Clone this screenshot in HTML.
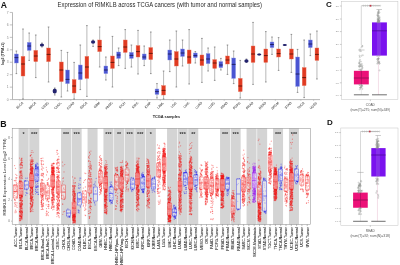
<!DOCTYPE html>
<html><head><meta charset="utf-8"><title>RIMKLB expression</title>
<style>html,body{margin:0;padding:0;background:#fff;width:400px;height:265px;overflow:hidden}svg{display:block;filter:blur(0.3px)}path{fill:none;stroke-width:1.25px;stroke-linecap:round}text{font-family:"Liberation Sans",sans-serif}</style>
</head><body>
<svg width="400" height="265" viewBox="0 0 400 265"><defs><filter id="bl" x="-5%" y="-5%" width="110%" height="110%"><feGaussianBlur stdDeviation="0.35"/></filter></defs><text x="0.8" y="7.5" font-family="'Liberation Sans', sans-serif" font-size="8.6" font-weight="bold" fill="#111">A</text>
<text transform="translate(57.6,6.9) scale(1,1.18)" font-family="'Liberation Sans', sans-serif" font-size="5.86" fill="#2a2a2a" textLength="204.4" lengthAdjust="spacingAndGlyphs">Expression of RIMKLB across TCGA cancers (with tumor and normal samples)</text>
<line x1="12.5" y1="12.450000000000003" x2="12.5" y2="99.6" stroke="#999" stroke-width="0.7"/>
<line x1="12.5" y1="99.6" x2="320" y2="99.6" stroke="#999" stroke-width="0.7"/>
<line x1="9.8" y1="99.60" x2="12.5" y2="99.60" stroke="#999" stroke-width="0.6"/>
<text x="8.6" y="100.80" font-family="'Liberation Sans', sans-serif" font-size="3.3" fill="#888" text-anchor="end">0</text>
<line x1="9.8" y1="87.15" x2="12.5" y2="87.15" stroke="#999" stroke-width="0.6"/>
<text x="8.6" y="88.35" font-family="'Liberation Sans', sans-serif" font-size="3.3" fill="#888" text-anchor="end">1</text>
<line x1="9.8" y1="74.70" x2="12.5" y2="74.70" stroke="#999" stroke-width="0.6"/>
<text x="8.6" y="75.90" font-family="'Liberation Sans', sans-serif" font-size="3.3" fill="#888" text-anchor="end">2</text>
<line x1="9.8" y1="62.25" x2="12.5" y2="62.25" stroke="#999" stroke-width="0.6"/>
<text x="8.6" y="63.45" font-family="'Liberation Sans', sans-serif" font-size="3.3" fill="#888" text-anchor="end">3</text>
<line x1="9.8" y1="49.80" x2="12.5" y2="49.80" stroke="#999" stroke-width="0.6"/>
<text x="8.6" y="51.00" font-family="'Liberation Sans', sans-serif" font-size="3.3" fill="#888" text-anchor="end">4</text>
<line x1="9.8" y1="37.35" x2="12.5" y2="37.35" stroke="#999" stroke-width="0.6"/>
<text x="8.6" y="38.55" font-family="'Liberation Sans', sans-serif" font-size="3.3" fill="#888" text-anchor="end">5</text>
<line x1="9.8" y1="24.90" x2="12.5" y2="24.90" stroke="#999" stroke-width="0.6"/>
<text x="8.6" y="26.10" font-family="'Liberation Sans', sans-serif" font-size="3.3" fill="#888" text-anchor="end">6</text>
<line x1="9.8" y1="12.45" x2="12.5" y2="12.45" stroke="#999" stroke-width="0.6"/>
<text x="8.6" y="13.65" font-family="'Liberation Sans', sans-serif" font-size="3.3" fill="#888" text-anchor="end">7</text>
<text transform="translate(4.3,53.7) rotate(-90)" font-family="'Liberation Sans', sans-serif" font-size="3.6" font-weight="bold" fill="#333" text-anchor="middle">log2 (TPM+1)</text>
<text transform="translate(166.4,117.8) scale(1,1.12)" font-family="'Liberation Sans', sans-serif" font-size="3.9" font-weight="bold" fill="#222" text-anchor="middle" textLength="27.5" lengthAdjust="spacingAndGlyphs">TCGA samples</text>
<line x1="16.40" y1="51" x2="16.40" y2="73.6" stroke="#8a8a8a" stroke-width="0.6"/>
<line x1="15.60" y1="51" x2="17.20" y2="51" stroke="#555" stroke-width="0.6"/>
<line x1="15.60" y1="73.6" x2="17.20" y2="73.6" stroke="#555" stroke-width="0.6"/>
<rect x="14.50" y="54" width="3.8" height="9.00" fill="#4a55d2" stroke="#8a93e6" stroke-width="0.4"/>
<line x1="14.50" y1="57.6" x2="18.30" y2="57.6" stroke="#1c1c5a" stroke-width="0.9"/>
<line x1="23.00" y1="29" x2="23.00" y2="99" stroke="#8a8a8a" stroke-width="0.6"/>
<line x1="22.20" y1="29" x2="23.80" y2="29" stroke="#555" stroke-width="0.6"/>
<line x1="22.20" y1="99" x2="23.80" y2="99" stroke="#555" stroke-width="0.6"/>
<rect x="21.10" y="56.4" width="3.8" height="19.60" fill="#e03b22" stroke="#ec7058" stroke-width="0.4"/>
<line x1="21.10" y1="64" x2="24.90" y2="64" stroke="#5a1408" stroke-width="0.9"/>
<line x1="19.70" y1="99.6" x2="19.70" y2="100.8" stroke="#999" stroke-width="0.5"/>
<text transform="translate(23.50,103.2) rotate(-45)" font-family="'Liberation Sans', sans-serif" font-size="3.2" fill="#5a5a5a" stroke="#5a5a5a" stroke-width="0.1" text-anchor="end">BLCA</text>
<line x1="29.18" y1="33" x2="29.18" y2="60.4" stroke="#8a8a8a" stroke-width="0.6"/>
<line x1="28.38" y1="33" x2="29.98" y2="33" stroke="#555" stroke-width="0.6"/>
<line x1="28.38" y1="60.4" x2="29.98" y2="60.4" stroke="#555" stroke-width="0.6"/>
<rect x="27.28" y="42.4" width="3.8" height="8.00" fill="#4a55d2" stroke="#8a93e6" stroke-width="0.4"/>
<line x1="27.28" y1="46" x2="31.08" y2="46" stroke="#1c1c5a" stroke-width="0.9"/>
<line x1="35.78" y1="35" x2="35.78" y2="77.6" stroke="#8a8a8a" stroke-width="0.6"/>
<line x1="34.98" y1="35" x2="36.58" y2="35" stroke="#555" stroke-width="0.6"/>
<line x1="34.98" y1="77.6" x2="36.58" y2="77.6" stroke="#555" stroke-width="0.6"/>
<rect x="33.88" y="50.4" width="3.8" height="11.20" fill="#e03b22" stroke="#ec7058" stroke-width="0.4"/>
<line x1="33.88" y1="56" x2="37.68" y2="56" stroke="#5a1408" stroke-width="0.9"/>
<line x1="32.48" y1="99.6" x2="32.48" y2="100.8" stroke="#999" stroke-width="0.5"/>
<text transform="translate(36.28,103.2) rotate(-45)" font-family="'Liberation Sans', sans-serif" font-size="3.2" fill="#5a5a5a" stroke="#5a5a5a" stroke-width="0.1" text-anchor="end">BRCA</text>
<line x1="41.96" y1="43" x2="41.96" y2="47" stroke="#8a8a8a" stroke-width="0.6"/>
<line x1="41.16" y1="43" x2="42.76" y2="43" stroke="#555" stroke-width="0.6"/>
<line x1="41.16" y1="47" x2="42.76" y2="47" stroke="#555" stroke-width="0.6"/>
<ellipse cx="41.96" cy="45" rx="2.1" ry="1.50" fill="#23236e"/>
<line x1="48.56" y1="27" x2="48.56" y2="82" stroke="#8a8a8a" stroke-width="0.6"/>
<line x1="47.76" y1="27" x2="49.36" y2="27" stroke="#555" stroke-width="0.6"/>
<line x1="47.76" y1="82" x2="49.36" y2="82" stroke="#555" stroke-width="0.6"/>
<rect x="46.66" y="48" width="3.8" height="13.60" fill="#e03b22" stroke="#ec7058" stroke-width="0.4"/>
<line x1="46.66" y1="54.4" x2="50.46" y2="54.4" stroke="#5a1408" stroke-width="0.9"/>
<line x1="45.26" y1="99.6" x2="45.26" y2="100.8" stroke="#999" stroke-width="0.5"/>
<text transform="translate(49.06,103.2) rotate(-45)" font-family="'Liberation Sans', sans-serif" font-size="3.2" fill="#5a5a5a" stroke="#5a5a5a" stroke-width="0.1" text-anchor="end">CESC</text>
<line x1="54.74" y1="88" x2="54.74" y2="95" stroke="#8a8a8a" stroke-width="0.6"/>
<line x1="53.94" y1="88" x2="55.54" y2="88" stroke="#555" stroke-width="0.6"/>
<line x1="53.94" y1="95" x2="55.54" y2="95" stroke="#555" stroke-width="0.6"/>
<ellipse cx="54.74" cy="91" rx="2.1" ry="2.50" fill="#23236e"/>
<line x1="61.34" y1="50.4" x2="61.34" y2="97" stroke="#8a8a8a" stroke-width="0.6"/>
<line x1="60.54" y1="50.4" x2="62.14" y2="50.4" stroke="#555" stroke-width="0.6"/>
<line x1="60.54" y1="97" x2="62.14" y2="97" stroke="#555" stroke-width="0.6"/>
<rect x="59.44" y="62" width="3.8" height="19.60" fill="#e03b22" stroke="#ec7058" stroke-width="0.4"/>
<line x1="59.44" y1="70" x2="63.24" y2="70" stroke="#5a1408" stroke-width="0.9"/>
<line x1="58.04" y1="99.6" x2="58.04" y2="100.8" stroke="#999" stroke-width="0.5"/>
<text transform="translate(61.84,103.2) rotate(-45)" font-family="'Liberation Sans', sans-serif" font-size="3.2" fill="#5a5a5a" stroke="#5a5a5a" stroke-width="0.1" text-anchor="end">CHOL</text>
<line x1="67.52" y1="52.4" x2="67.52" y2="91" stroke="#8a8a8a" stroke-width="0.6"/>
<line x1="66.72" y1="52.4" x2="68.32" y2="52.4" stroke="#555" stroke-width="0.6"/>
<line x1="66.72" y1="91" x2="68.32" y2="91" stroke="#555" stroke-width="0.6"/>
<rect x="65.62" y="70" width="3.8" height="13.60" fill="#4a55d2" stroke="#8a93e6" stroke-width="0.4"/>
<line x1="65.62" y1="79.4" x2="69.42" y2="79.4" stroke="#1c1c5a" stroke-width="0.9"/>
<line x1="74.12" y1="62.4" x2="74.12" y2="99" stroke="#8a8a8a" stroke-width="0.6"/>
<line x1="73.32" y1="62.4" x2="74.92" y2="62.4" stroke="#555" stroke-width="0.6"/>
<line x1="73.32" y1="99" x2="74.92" y2="99" stroke="#555" stroke-width="0.6"/>
<rect x="72.22" y="79.6" width="3.8" height="13.40" fill="#e03b22" stroke="#ec7058" stroke-width="0.4"/>
<line x1="72.22" y1="86" x2="76.02" y2="86" stroke="#5a1408" stroke-width="0.9"/>
<line x1="70.82" y1="99.6" x2="70.82" y2="100.8" stroke="#999" stroke-width="0.5"/>
<text transform="translate(74.62,103.2) rotate(-45)" font-family="'Liberation Sans', sans-serif" font-size="3.2" fill="#5a5a5a" stroke="#5a5a5a" stroke-width="0.1" text-anchor="end">COAD</text>
<line x1="80.30" y1="45" x2="80.30" y2="89.6" stroke="#8a8a8a" stroke-width="0.6"/>
<line x1="79.50" y1="45" x2="81.10" y2="45" stroke="#555" stroke-width="0.6"/>
<line x1="79.50" y1="89.6" x2="81.10" y2="89.6" stroke="#555" stroke-width="0.6"/>
<rect x="78.40" y="65" width="3.8" height="14.60" fill="#4a55d2" stroke="#8a93e6" stroke-width="0.4"/>
<line x1="78.40" y1="73" x2="82.20" y2="73" stroke="#1c1c5a" stroke-width="0.9"/>
<line x1="86.90" y1="25.6" x2="86.90" y2="96.4" stroke="#8a8a8a" stroke-width="0.6"/>
<line x1="86.10" y1="25.6" x2="87.70" y2="25.6" stroke="#555" stroke-width="0.6"/>
<line x1="86.10" y1="96.4" x2="87.70" y2="96.4" stroke="#555" stroke-width="0.6"/>
<rect x="85.00" y="56.4" width="3.8" height="22.00" fill="#e03b22" stroke="#ec7058" stroke-width="0.4"/>
<line x1="85.00" y1="67" x2="88.80" y2="67" stroke="#5a1408" stroke-width="0.9"/>
<line x1="83.60" y1="99.6" x2="83.60" y2="100.8" stroke="#999" stroke-width="0.5"/>
<text transform="translate(87.40,103.2) rotate(-45)" font-family="'Liberation Sans', sans-serif" font-size="3.2" fill="#5a5a5a" stroke="#5a5a5a" stroke-width="0.1" text-anchor="end">ESCA</text>
<line x1="93.08" y1="40" x2="93.08" y2="46.4" stroke="#8a8a8a" stroke-width="0.6"/>
<line x1="92.28" y1="40" x2="93.88" y2="40" stroke="#555" stroke-width="0.6"/>
<line x1="92.28" y1="46.4" x2="93.88" y2="46.4" stroke="#555" stroke-width="0.6"/>
<ellipse cx="93.08" cy="42" rx="2.1" ry="1.80" fill="#23236e"/>
<line x1="99.68" y1="27" x2="99.68" y2="67" stroke="#8a8a8a" stroke-width="0.6"/>
<line x1="98.88" y1="27" x2="100.48" y2="27" stroke="#555" stroke-width="0.6"/>
<line x1="98.88" y1="67" x2="100.48" y2="67" stroke="#555" stroke-width="0.6"/>
<rect x="97.78" y="40" width="3.8" height="11.60" fill="#e03b22" stroke="#ec7058" stroke-width="0.4"/>
<line x1="97.78" y1="46.6" x2="101.58" y2="46.6" stroke="#5a1408" stroke-width="0.9"/>
<line x1="96.38" y1="99.6" x2="96.38" y2="100.8" stroke="#999" stroke-width="0.5"/>
<text transform="translate(100.18,103.2) rotate(-45)" font-family="'Liberation Sans', sans-serif" font-size="3.2" fill="#5a5a5a" stroke="#5a5a5a" stroke-width="0.1" text-anchor="end">GBM</text>
<line x1="105.86" y1="57" x2="105.86" y2="80" stroke="#8a8a8a" stroke-width="0.6"/>
<line x1="105.06" y1="57" x2="106.66" y2="57" stroke="#555" stroke-width="0.6"/>
<line x1="105.06" y1="80" x2="106.66" y2="80" stroke="#555" stroke-width="0.6"/>
<rect x="103.96" y="66" width="3.8" height="7.60" fill="#4a55d2" stroke="#8a93e6" stroke-width="0.4"/>
<line x1="103.96" y1="70" x2="107.76" y2="70" stroke="#1c1c5a" stroke-width="0.9"/>
<line x1="112.46" y1="36.4" x2="112.46" y2="87" stroke="#8a8a8a" stroke-width="0.6"/>
<line x1="111.66" y1="36.4" x2="113.26" y2="36.4" stroke="#555" stroke-width="0.6"/>
<line x1="111.66" y1="87" x2="113.26" y2="87" stroke="#555" stroke-width="0.6"/>
<rect x="110.56" y="56" width="3.8" height="12.40" fill="#e03b22" stroke="#ec7058" stroke-width="0.4"/>
<line x1="110.56" y1="62.4" x2="114.36" y2="62.4" stroke="#5a1408" stroke-width="0.9"/>
<line x1="109.16" y1="99.6" x2="109.16" y2="100.8" stroke="#999" stroke-width="0.5"/>
<text transform="translate(112.96,103.2) rotate(-45)" font-family="'Liberation Sans', sans-serif" font-size="3.2" fill="#5a5a5a" stroke="#5a5a5a" stroke-width="0.1" text-anchor="end">HNSC</text>
<line x1="118.64" y1="48" x2="118.64" y2="65.6" stroke="#8a8a8a" stroke-width="0.6"/>
<line x1="117.84" y1="48" x2="119.44" y2="48" stroke="#555" stroke-width="0.6"/>
<line x1="117.84" y1="65.6" x2="119.44" y2="65.6" stroke="#555" stroke-width="0.6"/>
<rect x="116.74" y="52" width="3.8" height="6.40" fill="#4a55d2" stroke="#8a93e6" stroke-width="0.4"/>
<line x1="116.74" y1="55" x2="120.54" y2="55" stroke="#1c1c5a" stroke-width="0.9"/>
<line x1="125.24" y1="29.6" x2="125.24" y2="68.4" stroke="#8a8a8a" stroke-width="0.6"/>
<line x1="124.44" y1="29.6" x2="126.04" y2="29.6" stroke="#555" stroke-width="0.6"/>
<line x1="124.44" y1="68.4" x2="126.04" y2="68.4" stroke="#555" stroke-width="0.6"/>
<rect x="123.34" y="40" width="3.8" height="12.40" fill="#e03b22" stroke="#ec7058" stroke-width="0.4"/>
<line x1="123.34" y1="47" x2="127.14" y2="47" stroke="#5a1408" stroke-width="0.9"/>
<line x1="121.94" y1="99.6" x2="121.94" y2="100.8" stroke="#999" stroke-width="0.5"/>
<text transform="translate(125.74,103.2) rotate(-45)" font-family="'Liberation Sans', sans-serif" font-size="3.2" fill="#5a5a5a" stroke="#5a5a5a" stroke-width="0.1" text-anchor="end">KICH</text>
<line x1="131.42" y1="45" x2="131.42" y2="67" stroke="#8a8a8a" stroke-width="0.6"/>
<line x1="130.62" y1="45" x2="132.22" y2="45" stroke="#555" stroke-width="0.6"/>
<line x1="130.62" y1="67" x2="132.22" y2="67" stroke="#555" stroke-width="0.6"/>
<rect x="129.52" y="52.4" width="3.8" height="6.00" fill="#4a55d2" stroke="#8a93e6" stroke-width="0.4"/>
<line x1="129.52" y1="55.4" x2="133.32" y2="55.4" stroke="#1c1c5a" stroke-width="0.9"/>
<line x1="138.02" y1="30.4" x2="138.02" y2="74" stroke="#8a8a8a" stroke-width="0.6"/>
<line x1="137.22" y1="30.4" x2="138.82" y2="30.4" stroke="#555" stroke-width="0.6"/>
<line x1="137.22" y1="74" x2="138.82" y2="74" stroke="#555" stroke-width="0.6"/>
<rect x="136.12" y="45.6" width="3.8" height="11.40" fill="#e03b22" stroke="#ec7058" stroke-width="0.4"/>
<line x1="136.12" y1="51.6" x2="139.92" y2="51.6" stroke="#5a1408" stroke-width="0.9"/>
<line x1="134.72" y1="99.6" x2="134.72" y2="100.8" stroke="#999" stroke-width="0.5"/>
<text transform="translate(138.52,103.2) rotate(-45)" font-family="'Liberation Sans', sans-serif" font-size="3.2" fill="#5a5a5a" stroke="#5a5a5a" stroke-width="0.1" text-anchor="end">KIRC</text>
<line x1="144.20" y1="46" x2="144.20" y2="65.6" stroke="#8a8a8a" stroke-width="0.6"/>
<line x1="143.40" y1="46" x2="145.00" y2="46" stroke="#555" stroke-width="0.6"/>
<line x1="143.40" y1="65.6" x2="145.00" y2="65.6" stroke="#555" stroke-width="0.6"/>
<rect x="142.30" y="54" width="3.8" height="5.60" fill="#4a55d2" stroke="#8a93e6" stroke-width="0.4"/>
<line x1="142.30" y1="57" x2="146.10" y2="57" stroke="#1c1c5a" stroke-width="0.9"/>
<line x1="150.80" y1="32" x2="150.80" y2="73.6" stroke="#8a8a8a" stroke-width="0.6"/>
<line x1="150.00" y1="32" x2="151.60" y2="32" stroke="#555" stroke-width="0.6"/>
<line x1="150.00" y1="73.6" x2="151.60" y2="73.6" stroke="#555" stroke-width="0.6"/>
<rect x="148.90" y="47.6" width="3.8" height="12.00" fill="#e03b22" stroke="#ec7058" stroke-width="0.4"/>
<line x1="148.90" y1="53.4" x2="152.70" y2="53.4" stroke="#5a1408" stroke-width="0.9"/>
<line x1="147.50" y1="99.6" x2="147.50" y2="100.8" stroke="#999" stroke-width="0.5"/>
<text transform="translate(151.30,103.2) rotate(-45)" font-family="'Liberation Sans', sans-serif" font-size="3.2" fill="#5a5a5a" stroke="#5a5a5a" stroke-width="0.1" text-anchor="end">KIRP</text>
<line x1="156.98" y1="83.6" x2="156.98" y2="98" stroke="#8a8a8a" stroke-width="0.6"/>
<line x1="156.18" y1="83.6" x2="157.78" y2="83.6" stroke="#555" stroke-width="0.6"/>
<line x1="156.18" y1="98" x2="157.78" y2="98" stroke="#555" stroke-width="0.6"/>
<rect x="155.08" y="89" width="3.8" height="5.40" fill="#4a55d2" stroke="#8a93e6" stroke-width="0.4"/>
<line x1="155.08" y1="91.6" x2="158.88" y2="91.6" stroke="#1c1c5a" stroke-width="0.9"/>
<line x1="163.58" y1="71" x2="163.58" y2="99" stroke="#8a8a8a" stroke-width="0.6"/>
<line x1="162.78" y1="71" x2="164.38" y2="71" stroke="#555" stroke-width="0.6"/>
<line x1="162.78" y1="99" x2="164.38" y2="99" stroke="#555" stroke-width="0.6"/>
<rect x="161.68" y="85.6" width="3.8" height="9.40" fill="#e03b22" stroke="#ec7058" stroke-width="0.4"/>
<line x1="161.68" y1="90.4" x2="165.48" y2="90.4" stroke="#5a1408" stroke-width="0.9"/>
<line x1="160.28" y1="99.6" x2="160.28" y2="100.8" stroke="#999" stroke-width="0.5"/>
<text transform="translate(164.08,103.2) rotate(-45)" font-family="'Liberation Sans', sans-serif" font-size="3.2" fill="#5a5a5a" stroke="#5a5a5a" stroke-width="0.1" text-anchor="end">LAML</text>
<line x1="169.76" y1="40" x2="169.76" y2="71.6" stroke="#8a8a8a" stroke-width="0.6"/>
<line x1="168.96" y1="40" x2="170.56" y2="40" stroke="#555" stroke-width="0.6"/>
<line x1="168.96" y1="71.6" x2="170.56" y2="71.6" stroke="#555" stroke-width="0.6"/>
<rect x="167.86" y="50" width="3.8" height="10.00" fill="#4a55d2" stroke="#8a93e6" stroke-width="0.4"/>
<line x1="167.86" y1="54" x2="171.66" y2="54" stroke="#1c1c5a" stroke-width="0.9"/>
<line x1="176.36" y1="31" x2="176.36" y2="87" stroke="#8a8a8a" stroke-width="0.6"/>
<line x1="175.56" y1="31" x2="177.16" y2="31" stroke="#555" stroke-width="0.6"/>
<line x1="175.56" y1="87" x2="177.16" y2="87" stroke="#555" stroke-width="0.6"/>
<rect x="174.46" y="51.6" width="3.8" height="14.40" fill="#e03b22" stroke="#ec7058" stroke-width="0.4"/>
<line x1="174.46" y1="59" x2="178.26" y2="59" stroke="#5a1408" stroke-width="0.9"/>
<line x1="173.06" y1="99.6" x2="173.06" y2="100.8" stroke="#999" stroke-width="0.5"/>
<text transform="translate(176.86,103.2) rotate(-45)" font-family="'Liberation Sans', sans-serif" font-size="3.2" fill="#5a5a5a" stroke="#5a5a5a" stroke-width="0.1" text-anchor="end">LGG</text>
<line x1="182.54" y1="40" x2="182.54" y2="66" stroke="#8a8a8a" stroke-width="0.6"/>
<line x1="181.74" y1="40" x2="183.34" y2="40" stroke="#555" stroke-width="0.6"/>
<line x1="181.74" y1="66" x2="183.34" y2="66" stroke="#555" stroke-width="0.6"/>
<rect x="180.64" y="49" width="3.8" height="7.40" fill="#4a55d2" stroke="#8a93e6" stroke-width="0.4"/>
<line x1="180.64" y1="53" x2="184.44" y2="53" stroke="#1c1c5a" stroke-width="0.9"/>
<line x1="189.14" y1="29.6" x2="189.14" y2="84" stroke="#8a8a8a" stroke-width="0.6"/>
<line x1="188.34" y1="29.6" x2="189.94" y2="29.6" stroke="#555" stroke-width="0.6"/>
<line x1="188.34" y1="84" x2="189.94" y2="84" stroke="#555" stroke-width="0.6"/>
<rect x="187.24" y="50" width="3.8" height="13.60" fill="#e03b22" stroke="#ec7058" stroke-width="0.4"/>
<line x1="187.24" y1="57" x2="191.04" y2="57" stroke="#5a1408" stroke-width="0.9"/>
<line x1="185.84" y1="99.6" x2="185.84" y2="100.8" stroke="#999" stroke-width="0.5"/>
<text transform="translate(189.64,103.2) rotate(-45)" font-family="'Liberation Sans', sans-serif" font-size="3.2" fill="#5a5a5a" stroke="#5a5a5a" stroke-width="0.1" text-anchor="end">LIHC</text>
<line x1="195.32" y1="51.6" x2="195.32" y2="63" stroke="#8a8a8a" stroke-width="0.6"/>
<line x1="194.52" y1="51.6" x2="196.12" y2="51.6" stroke="#555" stroke-width="0.6"/>
<line x1="194.52" y1="63" x2="196.12" y2="63" stroke="#555" stroke-width="0.6"/>
<rect x="193.42" y="53" width="3.8" height="4.60" fill="#4a55d2" stroke="#8a93e6" stroke-width="0.4"/>
<line x1="193.42" y1="55.6" x2="197.22" y2="55.6" stroke="#1c1c5a" stroke-width="0.9"/>
<line x1="201.92" y1="38.4" x2="201.92" y2="82.4" stroke="#8a8a8a" stroke-width="0.6"/>
<line x1="201.12" y1="38.4" x2="202.72" y2="38.4" stroke="#555" stroke-width="0.6"/>
<line x1="201.12" y1="82.4" x2="202.72" y2="82.4" stroke="#555" stroke-width="0.6"/>
<rect x="200.02" y="55" width="3.8" height="10.60" fill="#e03b22" stroke="#ec7058" stroke-width="0.4"/>
<line x1="200.02" y1="60" x2="203.82" y2="60" stroke="#5a1408" stroke-width="0.9"/>
<line x1="198.62" y1="99.6" x2="198.62" y2="100.8" stroke="#999" stroke-width="0.5"/>
<text transform="translate(202.42,103.2) rotate(-45)" font-family="'Liberation Sans', sans-serif" font-size="3.2" fill="#5a5a5a" stroke="#5a5a5a" stroke-width="0.1" text-anchor="end">LUAD</text>
<line x1="208.10" y1="48" x2="208.10" y2="71" stroke="#8a8a8a" stroke-width="0.6"/>
<line x1="207.30" y1="48" x2="208.90" y2="48" stroke="#555" stroke-width="0.6"/>
<line x1="207.30" y1="71" x2="208.90" y2="71" stroke="#555" stroke-width="0.6"/>
<rect x="206.20" y="53.6" width="3.8" height="10.00" fill="#4a55d2" stroke="#8a93e6" stroke-width="0.4"/>
<line x1="206.20" y1="59" x2="210.00" y2="59" stroke="#1c1c5a" stroke-width="0.9"/>
<line x1="214.70" y1="47" x2="214.70" y2="80.4" stroke="#8a8a8a" stroke-width="0.6"/>
<line x1="213.90" y1="47" x2="215.50" y2="47" stroke="#555" stroke-width="0.6"/>
<line x1="213.90" y1="80.4" x2="215.50" y2="80.4" stroke="#555" stroke-width="0.6"/>
<rect x="212.80" y="59.6" width="3.8" height="8.80" fill="#e03b22" stroke="#ec7058" stroke-width="0.4"/>
<line x1="212.80" y1="63" x2="216.60" y2="63" stroke="#5a1408" stroke-width="0.9"/>
<line x1="211.40" y1="99.6" x2="211.40" y2="100.8" stroke="#999" stroke-width="0.5"/>
<text transform="translate(215.20,103.2) rotate(-45)" font-family="'Liberation Sans', sans-serif" font-size="3.2" fill="#5a5a5a" stroke="#5a5a5a" stroke-width="0.1" text-anchor="end">LUSC</text>
<line x1="220.88" y1="58.4" x2="220.88" y2="70" stroke="#8a8a8a" stroke-width="0.6"/>
<line x1="220.08" y1="58.4" x2="221.68" y2="58.4" stroke="#555" stroke-width="0.6"/>
<line x1="220.08" y1="70" x2="221.68" y2="70" stroke="#555" stroke-width="0.6"/>
<rect x="218.98" y="61.6" width="3.8" height="6.00" fill="#4a55d2" stroke="#8a93e6" stroke-width="0.4"/>
<line x1="218.98" y1="65" x2="222.78" y2="65" stroke="#1c1c5a" stroke-width="0.9"/>
<line x1="227.48" y1="45" x2="227.48" y2="74.4" stroke="#8a8a8a" stroke-width="0.6"/>
<line x1="226.68" y1="45" x2="228.28" y2="45" stroke="#555" stroke-width="0.6"/>
<line x1="226.68" y1="74.4" x2="228.28" y2="74.4" stroke="#555" stroke-width="0.6"/>
<rect x="225.58" y="56" width="3.8" height="8.00" fill="#e03b22" stroke="#ec7058" stroke-width="0.4"/>
<line x1="225.58" y1="60" x2="229.38" y2="60" stroke="#5a1408" stroke-width="0.9"/>
<line x1="224.18" y1="99.6" x2="224.18" y2="100.8" stroke="#999" stroke-width="0.5"/>
<text transform="translate(227.98,103.2) rotate(-45)" font-family="'Liberation Sans', sans-serif" font-size="3.2" fill="#5a5a5a" stroke="#5a5a5a" stroke-width="0.1" text-anchor="end">PAAD</text>
<line x1="233.66" y1="51" x2="233.66" y2="83.6" stroke="#8a8a8a" stroke-width="0.6"/>
<line x1="232.86" y1="51" x2="234.46" y2="51" stroke="#555" stroke-width="0.6"/>
<line x1="232.86" y1="83.6" x2="234.46" y2="83.6" stroke="#555" stroke-width="0.6"/>
<rect x="231.76" y="58" width="3.8" height="20.40" fill="#4a55d2" stroke="#8a93e6" stroke-width="0.4"/>
<line x1="231.76" y1="64.4" x2="235.56" y2="64.4" stroke="#1c1c5a" stroke-width="0.9"/>
<line x1="240.26" y1="60.4" x2="240.26" y2="98" stroke="#8a8a8a" stroke-width="0.6"/>
<line x1="239.46" y1="60.4" x2="241.06" y2="60.4" stroke="#555" stroke-width="0.6"/>
<line x1="239.46" y1="98" x2="241.06" y2="98" stroke="#555" stroke-width="0.6"/>
<rect x="238.36" y="78.4" width="3.8" height="13.20" fill="#e03b22" stroke="#ec7058" stroke-width="0.4"/>
<line x1="238.36" y1="86" x2="242.16" y2="86" stroke="#5a1408" stroke-width="0.9"/>
<line x1="236.96" y1="99.6" x2="236.96" y2="100.8" stroke="#999" stroke-width="0.5"/>
<text transform="translate(240.76,103.2) rotate(-45)" font-family="'Liberation Sans', sans-serif" font-size="3.2" fill="#5a5a5a" stroke="#5a5a5a" stroke-width="0.1" text-anchor="end">PCPG</text>
<line x1="246.44" y1="59" x2="246.44" y2="62.5" stroke="#8a8a8a" stroke-width="0.6"/>
<line x1="245.64" y1="59" x2="247.24" y2="59" stroke="#555" stroke-width="0.6"/>
<line x1="245.64" y1="62.5" x2="247.24" y2="62.5" stroke="#555" stroke-width="0.6"/>
<ellipse cx="246.44" cy="61" rx="2.1" ry="1.70" fill="#23236e"/>
<line x1="253.04" y1="22.4" x2="253.04" y2="84.4" stroke="#8a8a8a" stroke-width="0.6"/>
<line x1="252.24" y1="22.4" x2="253.84" y2="22.4" stroke="#555" stroke-width="0.6"/>
<line x1="252.24" y1="84.4" x2="253.84" y2="84.4" stroke="#555" stroke-width="0.6"/>
<rect x="251.14" y="46" width="3.8" height="16.40" fill="#e03b22" stroke="#ec7058" stroke-width="0.4"/>
<line x1="251.14" y1="54" x2="254.94" y2="54" stroke="#5a1408" stroke-width="0.9"/>
<line x1="249.74" y1="99.6" x2="249.74" y2="100.8" stroke="#999" stroke-width="0.5"/>
<text transform="translate(253.54,103.2) rotate(-45)" font-family="'Liberation Sans', sans-serif" font-size="3.2" fill="#5a5a5a" stroke="#5a5a5a" stroke-width="0.1" text-anchor="end">PRAD</text>
<line x1="259.22" y1="54" x2="259.22" y2="55" stroke="#8a8a8a" stroke-width="0.6"/>
<line x1="258.42" y1="54" x2="260.02" y2="54" stroke="#555" stroke-width="0.6"/>
<line x1="258.42" y1="55" x2="260.02" y2="55" stroke="#555" stroke-width="0.6"/>
<ellipse cx="259.22" cy="54.4" rx="2.1" ry="1.00" fill="#23236e"/>
<line x1="265.82" y1="31.6" x2="265.82" y2="82" stroke="#8a8a8a" stroke-width="0.6"/>
<line x1="265.02" y1="31.6" x2="266.62" y2="31.6" stroke="#555" stroke-width="0.6"/>
<line x1="265.02" y1="82" x2="266.62" y2="82" stroke="#555" stroke-width="0.6"/>
<rect x="263.92" y="49" width="3.8" height="13.40" fill="#e03b22" stroke="#ec7058" stroke-width="0.4"/>
<line x1="263.92" y1="55.6" x2="267.72" y2="55.6" stroke="#5a1408" stroke-width="0.9"/>
<line x1="262.52" y1="99.6" x2="262.52" y2="100.8" stroke="#999" stroke-width="0.5"/>
<text transform="translate(266.32,103.2) rotate(-45)" font-family="'Liberation Sans', sans-serif" font-size="3.2" fill="#5a5a5a" stroke="#5a5a5a" stroke-width="0.1" text-anchor="end">READ</text>
<line x1="272.00" y1="37" x2="272.00" y2="54.4" stroke="#8a8a8a" stroke-width="0.6"/>
<line x1="271.20" y1="37" x2="272.80" y2="37" stroke="#555" stroke-width="0.6"/>
<line x1="271.20" y1="54.4" x2="272.80" y2="54.4" stroke="#555" stroke-width="0.6"/>
<rect x="270.10" y="42" width="3.8" height="5.60" fill="#4a55d2" stroke="#8a93e6" stroke-width="0.4"/>
<line x1="270.10" y1="44.5" x2="273.90" y2="44.5" stroke="#1c1c5a" stroke-width="0.9"/>
<line x1="278.60" y1="37.6" x2="278.60" y2="70.4" stroke="#8a8a8a" stroke-width="0.6"/>
<line x1="277.80" y1="37.6" x2="279.40" y2="37.6" stroke="#555" stroke-width="0.6"/>
<line x1="277.80" y1="70.4" x2="279.40" y2="70.4" stroke="#555" stroke-width="0.6"/>
<rect x="276.70" y="49" width="3.8" height="8.00" fill="#e03b22" stroke="#ec7058" stroke-width="0.4"/>
<line x1="276.70" y1="53.6" x2="280.50" y2="53.6" stroke="#5a1408" stroke-width="0.9"/>
<line x1="275.30" y1="99.6" x2="275.30" y2="100.8" stroke="#999" stroke-width="0.5"/>
<text transform="translate(279.10,103.2) rotate(-45)" font-family="'Liberation Sans', sans-serif" font-size="3.2" fill="#5a5a5a" stroke="#5a5a5a" stroke-width="0.1" text-anchor="end">SKCM</text>
<line x1="284.78" y1="44.5" x2="284.78" y2="45.5" stroke="#8a8a8a" stroke-width="0.6"/>
<line x1="283.98" y1="44.5" x2="285.58" y2="44.5" stroke="#555" stroke-width="0.6"/>
<line x1="283.98" y1="45.5" x2="285.58" y2="45.5" stroke="#555" stroke-width="0.6"/>
<ellipse cx="284.78" cy="45" rx="2.1" ry="1.00" fill="#23236e"/>
<line x1="291.38" y1="34.4" x2="291.38" y2="72.4" stroke="#8a8a8a" stroke-width="0.6"/>
<line x1="290.58" y1="34.4" x2="292.18" y2="34.4" stroke="#555" stroke-width="0.6"/>
<line x1="290.58" y1="72.4" x2="292.18" y2="72.4" stroke="#555" stroke-width="0.6"/>
<rect x="289.48" y="49" width="3.8" height="10.00" fill="#e03b22" stroke="#ec7058" stroke-width="0.4"/>
<line x1="289.48" y1="54" x2="293.28" y2="54" stroke="#5a1408" stroke-width="0.9"/>
<line x1="288.08" y1="99.6" x2="288.08" y2="100.8" stroke="#999" stroke-width="0.5"/>
<text transform="translate(291.88,103.2) rotate(-45)" font-family="'Liberation Sans', sans-serif" font-size="3.2" fill="#5a5a5a" stroke="#5a5a5a" stroke-width="0.1" text-anchor="end">STAD</text>
<line x1="297.56" y1="49.4" x2="297.56" y2="92.4" stroke="#8a8a8a" stroke-width="0.6"/>
<line x1="296.76" y1="49.4" x2="298.36" y2="49.4" stroke="#555" stroke-width="0.6"/>
<line x1="296.76" y1="92.4" x2="298.36" y2="92.4" stroke="#555" stroke-width="0.6"/>
<rect x="295.66" y="57" width="3.8" height="29.40" fill="#4a55d2" stroke="#8a93e6" stroke-width="0.4"/>
<line x1="295.66" y1="74" x2="299.46" y2="74" stroke="#1c1c5a" stroke-width="0.9"/>
<line x1="304.16" y1="40" x2="304.16" y2="97.6" stroke="#8a8a8a" stroke-width="0.6"/>
<line x1="303.36" y1="40" x2="304.96" y2="40" stroke="#555" stroke-width="0.6"/>
<line x1="303.36" y1="97.6" x2="304.96" y2="97.6" stroke="#555" stroke-width="0.6"/>
<rect x="302.26" y="67.6" width="3.8" height="18.00" fill="#e03b22" stroke="#ec7058" stroke-width="0.4"/>
<line x1="302.26" y1="77.6" x2="306.06" y2="77.6" stroke="#5a1408" stroke-width="0.9"/>
<line x1="300.86" y1="99.6" x2="300.86" y2="100.8" stroke="#999" stroke-width="0.5"/>
<text transform="translate(304.66,103.2) rotate(-45)" font-family="'Liberation Sans', sans-serif" font-size="3.2" fill="#5a5a5a" stroke="#5a5a5a" stroke-width="0.1" text-anchor="end">THCA</text>
<line x1="310.34" y1="34" x2="310.34" y2="55.6" stroke="#8a8a8a" stroke-width="0.6"/>
<line x1="309.54" y1="34" x2="311.14" y2="34" stroke="#555" stroke-width="0.6"/>
<line x1="309.54" y1="55.6" x2="311.14" y2="55.6" stroke="#555" stroke-width="0.6"/>
<rect x="308.44" y="40" width="3.8" height="7.60" fill="#4a55d2" stroke="#8a93e6" stroke-width="0.4"/>
<line x1="308.44" y1="44" x2="312.24" y2="44" stroke="#1c1c5a" stroke-width="0.9"/>
<line x1="316.94" y1="31" x2="316.94" y2="79" stroke="#8a8a8a" stroke-width="0.6"/>
<line x1="316.14" y1="31" x2="317.74" y2="31" stroke="#555" stroke-width="0.6"/>
<line x1="316.14" y1="79" x2="317.74" y2="79" stroke="#555" stroke-width="0.6"/>
<rect x="315.04" y="48" width="3.8" height="12.40" fill="#e03b22" stroke="#ec7058" stroke-width="0.4"/>
<line x1="315.04" y1="54.4" x2="318.84" y2="54.4" stroke="#5a1408" stroke-width="0.9"/>
<line x1="313.64" y1="99.6" x2="313.64" y2="100.8" stroke="#999" stroke-width="0.5"/>
<text transform="translate(317.44,103.2) rotate(-45)" font-family="'Liberation Sans', sans-serif" font-size="3.2" fill="#5a5a5a" stroke="#5a5a5a" stroke-width="0.1" text-anchor="end">UCEC</text>
<text x="0.3" y="127.2" font-family="'Liberation Sans', sans-serif" font-size="8.8" font-weight="bold" fill="#111">B</text>
<rect x="18.65" y="128.3" width="10.00" height="96.19999999999999" fill="#d4d4d4"/>
<rect x="29.25" y="128.3" width="10.00" height="96.19999999999999" fill="#d4d4d4"/>
<rect x="61.05" y="128.3" width="10.00" height="96.19999999999999" fill="#d4d4d4"/>
<rect x="71.65" y="128.3" width="10.00" height="96.19999999999999" fill="#d4d4d4"/>
<rect x="87.55" y="128.3" width="10.00" height="96.19999999999999" fill="#d4d4d4"/>
<rect x="103.45" y="128.3" width="10.00" height="96.19999999999999" fill="#d4d4d4"/>
<rect x="114.05" y="128.3" width="10.00" height="96.19999999999999" fill="#d4d4d4"/>
<rect x="124.65" y="128.3" width="10.00" height="96.19999999999999" fill="#d4d4d4"/>
<rect x="135.25" y="128.3" width="10.00" height="96.19999999999999" fill="#d4d4d4"/>
<rect x="145.85" y="128.3" width="10.00" height="96.19999999999999" fill="#d4d4d4"/>
<rect x="167.05" y="128.3" width="10.00" height="96.19999999999999" fill="#d4d4d4"/>
<rect x="177.65" y="128.3" width="10.00" height="96.19999999999999" fill="#d4d4d4"/>
<rect x="188.25" y="128.3" width="10.00" height="96.19999999999999" fill="#d4d4d4"/>
<rect x="220.05" y="128.3" width="10.00" height="96.19999999999999" fill="#d4d4d4"/>
<rect x="230.65" y="128.3" width="10.00" height="96.19999999999999" fill="#d4d4d4"/>
<rect x="246.55" y="128.3" width="10.00" height="96.19999999999999" fill="#d4d4d4"/>
<rect x="257.15" y="128.3" width="10.00" height="96.19999999999999" fill="#d4d4d4"/>
<rect x="273.05" y="128.3" width="10.00" height="96.19999999999999" fill="#d4d4d4"/>
<rect x="288.95" y="128.3" width="10.00" height="96.19999999999999" fill="#d4d4d4"/>
<rect x="12.2" y="128.3" width="298.3" height="96.19999999999999" fill="none" stroke="#888" stroke-width="0.5"/>
<line x1="11.0" y1="221.20" x2="12.2" y2="221.20" stroke="#888" stroke-width="0.5"/>
<text x="9.9" y="222.20" font-family="'Liberation Sans', sans-serif" font-size="3" fill="#666" text-anchor="end">0</text>
<line x1="11.0" y1="200.30" x2="12.2" y2="200.30" stroke="#888" stroke-width="0.5"/>
<text x="9.9" y="201.30" font-family="'Liberation Sans', sans-serif" font-size="3" fill="#666" text-anchor="end">2</text>
<line x1="11.0" y1="179.40" x2="12.2" y2="179.40" stroke="#888" stroke-width="0.5"/>
<text x="9.9" y="180.40" font-family="'Liberation Sans', sans-serif" font-size="3" fill="#666" text-anchor="end">4</text>
<line x1="11.0" y1="158.50" x2="12.2" y2="158.50" stroke="#888" stroke-width="0.5"/>
<text x="9.9" y="159.50" font-family="'Liberation Sans', sans-serif" font-size="3" fill="#666" text-anchor="end">6</text>
<line x1="11.0" y1="137.60" x2="12.2" y2="137.60" stroke="#888" stroke-width="0.5"/>
<text x="9.9" y="138.60" font-family="'Liberation Sans', sans-serif" font-size="3" fill="#666" text-anchor="end">8</text>
<text transform="translate(5.9,177) rotate(-90)" font-family="'Liberation Sans', sans-serif" font-size="4.4" fill="#2a2a2a" text-anchor="middle" textLength="77" lengthAdjust="spacingAndGlyphs">RIMKLB Expression Level (log2 TPM)</text>
<text x="23.65" y="135.6" font-family="'Liberation Sans', sans-serif" font-size="5.4" font-weight="bold" fill="#333" text-anchor="middle">*</text>
<text x="34.25" y="135.6" font-family="'Liberation Sans', sans-serif" font-size="5.4" font-weight="bold" fill="#333" text-anchor="middle">***</text>
<text x="66.05" y="135.6" font-family="'Liberation Sans', sans-serif" font-size="5.4" font-weight="bold" fill="#333" text-anchor="middle">***</text>
<text x="76.65" y="135.6" font-family="'Liberation Sans', sans-serif" font-size="5.4" font-weight="bold" fill="#333" text-anchor="middle">***</text>
<text x="108.45" y="135.6" font-family="'Liberation Sans', sans-serif" font-size="5.4" font-weight="bold" fill="#333" text-anchor="middle">***</text>
<text x="119.05" y="135.6" font-family="'Liberation Sans', sans-serif" font-size="5.4" font-weight="bold" fill="#333" text-anchor="middle">**</text>
<text x="129.65" y="135.6" font-family="'Liberation Sans', sans-serif" font-size="5.4" font-weight="bold" fill="#333" text-anchor="middle">***</text>
<text x="140.25" y="135.6" font-family="'Liberation Sans', sans-serif" font-size="5.4" font-weight="bold" fill="#333" text-anchor="middle">***</text>
<text x="150.85" y="135.6" font-family="'Liberation Sans', sans-serif" font-size="5.4" font-weight="bold" fill="#333" text-anchor="middle">*</text>
<text x="182.65" y="135.6" font-family="'Liberation Sans', sans-serif" font-size="5.4" font-weight="bold" fill="#333" text-anchor="middle">***</text>
<text x="193.25" y="135.6" font-family="'Liberation Sans', sans-serif" font-size="5.4" font-weight="bold" fill="#333" text-anchor="middle">**</text>
<text x="225.05" y="135.6" font-family="'Liberation Sans', sans-serif" font-size="5.4" font-weight="bold" fill="#333" text-anchor="middle">***</text>
<text x="235.65" y="135.6" font-family="'Liberation Sans', sans-serif" font-size="5.4" font-weight="bold" fill="#333" text-anchor="middle">***</text>
<text x="278.05" y="135.6" font-family="'Liberation Sans', sans-serif" font-size="5.4" font-weight="bold" fill="#333" text-anchor="middle">***</text>
<text x="293.95" y="135.6" font-family="'Liberation Sans', sans-serif" font-size="5.4" font-weight="bold" fill="#333" text-anchor="middle">***</text>
<g filter="url(#bl)">
<g stroke="rgb(240,0,0)" stroke-opacity="0.4"><path d="M16.1 187.0h0M17.0 193.2h0M14.8 185.8h0M16.4 190.4h0M14.4 193.6h0M15.4 188.2h0M16.0 191.3h0M15.4 204.7h0M16.0 196.4h0M17.0 198.2h0M17.1 195.5h0M17.1 197.2h0M14.8 206.1h0M17.1 195.7h0M15.0 192.6h0M16.6 185.1h0"/><path d="M15.3 192.0h0M14.4 184.8h0M15.9 177.5h0M14.4 191.4h0M16.6 184.9h0M15.8 202.4h0M15.5 185.1h0M14.4 193.2h0M15.3 188.3h0M14.3 180.5h0M16.4 211.9h0M14.9 200.0h0M17.1 207.4h0M14.6 180.6h0M16.9 186.7h0M16.4 191.2h0"/><path d="M14.4 191.6h0M14.6 199.3h0M16.6 188.9h0M16.8 177.7h0M16.2 190.0h0M15.1 212.7h0M17.0 192.4h0M14.7 187.7h0M16.7 186.6h0M16.3 182.7h0M15.3 191.7h0M16.1 187.7h0M17.0 190.2h0M16.1 197.6h0M15.9 191.0h0M15.9 180.2h0"/><path d="M14.5 185.9h0M14.8 195.6h0M15.8 180.9h0M16.0 194.0h0M14.7 191.0h0M16.8 189.7h0M16.2 178.5h0M14.3 185.7h0M14.5 202.8h0M14.7 189.8h0M15.1 185.4h0M16.1 206.2h0M14.6 165.5h0M16.8 175.4h0M15.7 210.1h0M15.0 203.7h0"/><path d="M14.6 195.7h0M15.8 174.3h0M17.1 202.9h0M17.0 183.6h0M16.5 185.8h0M14.9 199.6h0M16.5 196.7h0M15.3 186.3h0M15.0 189.5h0M15.2 211.2h0M17.0 194.0h0M16.9 205.1h0M16.6 196.8h0M15.1 200.3h0M15.5 168.3h0"/></g>
<g stroke="rgb(240,0,0)" stroke-opacity="0.4"><path d="M21.0 192.0h0M20.3 219.5h0M21.5 191.3h0M21.6 172.4h0M21.8 182.5h0M19.8 206.1h0M20.0 183.4h0M20.1 209.3h0M19.9 165.1h0M20.3 187.8h0M19.7 187.2h0M19.7 211.7h0M21.6 212.8h0M21.1 208.1h0M21.3 214.9h0M21.0 202.6h0M20.0 204.5h0M20.4 206.7h0M21.3 182.0h0M21.4 216.1h0M21.7 172.0h0M20.1 197.0h0M22.4 185.6h0M22.1 191.2h0M21.8 211.8h0M21.2 188.8h0M19.6 203.0h0M20.1 208.1h0M20.0 181.7h0M20.0 172.7h0M20.6 200.0h0M21.3 181.5h0M20.3 205.4h0M21.7 184.6h0M20.2 206.6h0M22.1 184.0h0M19.9 185.8h0M20.0 186.8h0M20.7 183.3h0M20.6 181.9h0M19.8 218.7h0M22.2 195.7h0M21.7 170.9h0M21.5 206.1h0M21.0 187.7h0M20.1 216.2h0M21.0 198.7h0M21.1 198.0h0M21.8 204.4h0M21.0 206.2h0M19.9 207.3h0M20.3 176.1h0M21.9 211.7h0M20.2 167.1h0M20.2 220.1h0M22.4 212.3h0M20.6 194.1h0M22.2 193.3h0M20.5 200.3h0M21.6 204.0h0M21.0 199.8h0M20.6 211.3h0M21.7 214.6h0M20.1 165.2h0M19.8 194.5h0M20.0 207.0h0M21.5 217.2h0M21.5 205.6h0M21.0 213.6h0M20.8 187.4h0M20.9 211.5h0M20.3 186.9h0M22.0 196.5h0M20.6 192.1h0M21.7 208.8h0M22.0 195.2h0M21.0 171.2h0M20.4 216.5h0M19.7 215.4h0M21.4 211.0h0M21.9 204.6h0M22.2 210.0h0"/><path d="M22.2 214.8h0M22.0 219.5h0M22.4 193.5h0M20.8 189.2h0M20.8 183.7h0M19.8 216.6h0M20.5 184.6h0M21.9 162.3h0M20.3 191.6h0M20.3 209.8h0M20.2 186.0h0M21.4 218.2h0M19.9 182.4h0M21.7 196.7h0M20.0 197.0h0M22.1 167.6h0M19.9 219.8h0M20.5 186.5h0M19.7 171.5h0M21.1 219.5h0M20.4 206.2h0M19.8 186.4h0M21.4 188.5h0M20.7 160.0h0M21.8 160.9h0M19.6 177.1h0M20.8 212.5h0M20.2 210.5h0M20.7 182.8h0M20.6 185.6h0M20.7 195.8h0M20.5 191.3h0M20.1 181.2h0M19.6 182.8h0M21.7 174.8h0M20.7 203.5h0M21.2 194.6h0M21.3 185.3h0M19.8 211.6h0M20.1 191.5h0M21.0 204.6h0M21.9 173.6h0M21.2 196.1h0M21.3 163.4h0M19.8 190.3h0M22.2 216.4h0M20.3 200.4h0M22.1 204.4h0M19.7 179.0h0M20.2 198.4h0M19.8 197.1h0M21.1 196.1h0M20.4 186.0h0M21.7 186.4h0M20.3 195.4h0M22.0 175.3h0M19.7 182.4h0M19.9 197.9h0M20.4 171.1h0M22.1 200.6h0M22.3 165.7h0M19.8 180.8h0M20.5 204.1h0M22.0 191.1h0M21.7 177.5h0M21.7 205.5h0M20.5 206.8h0M21.8 206.1h0M21.1 216.6h0M20.3 204.2h0M22.3 200.9h0M21.6 161.1h0M20.0 215.4h0M21.8 193.8h0M20.3 172.2h0M22.0 174.6h0M21.6 195.9h0M21.0 205.5h0M21.1 218.0h0M21.5 210.5h0M20.3 209.6h0M21.3 173.7h0"/><path d="M21.0 171.1h0M20.8 183.6h0M20.7 194.4h0M21.4 186.3h0M20.3 216.3h0M22.1 196.7h0M20.4 191.9h0M20.7 180.1h0M22.0 183.1h0M19.6 200.3h0M21.7 208.8h0M20.0 216.1h0M21.2 180.1h0M20.3 183.0h0M20.4 191.7h0M22.3 194.7h0M22.1 208.2h0M21.7 195.0h0M20.4 192.9h0M21.7 196.3h0M20.0 205.3h0M21.2 185.4h0M20.3 200.6h0M22.4 218.1h0M21.4 194.0h0M22.3 188.0h0M22.2 190.7h0M20.4 191.9h0M21.7 218.0h0M20.2 216.9h0M19.7 214.9h0M21.7 182.0h0M21.9 214.2h0M22.4 203.5h0M19.9 212.3h0M21.9 201.2h0M20.9 212.1h0M19.6 200.3h0M20.7 191.0h0M20.8 193.7h0M21.1 185.7h0M20.2 192.2h0M22.0 196.0h0M21.8 158.5h0M21.0 215.2h0M22.2 192.2h0M19.7 203.3h0M22.1 210.1h0M21.4 201.6h0M19.6 195.6h0M21.8 217.7h0M21.8 165.3h0M21.8 193.6h0M21.6 217.0h0M22.3 191.7h0M20.4 172.5h0M21.6 211.5h0M21.9 193.0h0M20.5 204.6h0M20.0 192.7h0M21.6 184.8h0M20.1 195.7h0M21.5 193.0h0M20.3 184.0h0M19.9 177.6h0M21.2 206.2h0M20.8 197.5h0M19.7 181.7h0M21.5 164.6h0M22.3 191.6h0M21.9 178.0h0M20.4 185.2h0M19.6 211.5h0M21.3 193.6h0M21.0 183.8h0M19.8 181.6h0M22.0 203.8h0M22.4 188.6h0M19.6 185.9h0M20.9 190.7h0M20.5 187.5h0M20.7 207.8h0"/><path d="M21.1 206.8h0M19.8 185.1h0M22.0 160.0h0M22.4 196.7h0M21.2 193.9h0M22.2 176.4h0M20.6 199.6h0M22.4 212.9h0M20.4 212.4h0M20.1 175.6h0M22.1 213.6h0M22.0 208.1h0M21.5 211.3h0M21.7 200.3h0M19.7 195.3h0M21.9 188.0h0M22.2 201.0h0M22.2 198.1h0M21.0 198.9h0M20.4 174.2h0M22.2 184.7h0M20.7 214.5h0M20.8 187.2h0M20.0 183.4h0M20.3 183.7h0M20.9 218.0h0M20.5 182.4h0M20.2 197.7h0M20.1 203.9h0M20.8 178.1h0M22.2 182.8h0M22.3 211.5h0M20.5 210.8h0M20.3 220.7h0M21.2 202.6h0M19.8 220.8h0M22.3 192.1h0M20.5 164.1h0M22.3 186.0h0M22.1 205.6h0M21.9 202.7h0M20.1 178.2h0M21.1 189.8h0M20.1 206.9h0M20.6 188.6h0M21.7 186.6h0M22.3 184.1h0M21.4 194.9h0M20.5 212.9h0M20.2 173.1h0M21.4 162.4h0M22.3 189.2h0M22.0 195.2h0M20.8 189.2h0M22.1 203.5h0M19.8 190.1h0M21.3 196.7h0M21.4 216.5h0M21.3 218.0h0M21.8 184.6h0M21.4 197.9h0M21.0 193.7h0M20.8 199.4h0M20.5 163.5h0M19.6 187.0h0M20.2 206.0h0M21.4 213.5h0M21.8 199.2h0M22.4 162.7h0M21.9 200.7h0M19.9 176.3h0M21.4 158.9h0M21.5 194.4h0M22.1 212.4h0M20.0 188.1h0M19.6 211.5h0M21.8 175.9h0M20.5 215.6h0M21.3 194.0h0M20.1 197.6h0M19.7 180.5h0"/><path d="M21.6 159.9h0M22.2 215.4h0M21.0 187.6h0M19.9 220.3h0M19.7 197.3h0M21.1 183.7h0M19.6 185.3h0M21.4 175.5h0M20.9 185.8h0M20.3 195.1h0M20.0 181.8h0M21.2 216.5h0M21.9 158.0h0M20.9 200.8h0M21.6 190.7h0M20.2 198.9h0M19.6 158.0h0M20.4 218.4h0M22.3 186.9h0M19.9 194.0h0M22.2 200.7h0M20.5 168.3h0M19.6 218.6h0M22.3 212.7h0M19.9 213.2h0M22.3 185.2h0M21.9 164.4h0M20.0 180.9h0M21.5 195.9h0M20.6 188.2h0M22.2 191.7h0M20.9 185.0h0M21.8 186.7h0M21.0 183.3h0M20.3 164.4h0M22.2 178.5h0M21.3 189.7h0M21.1 192.3h0M20.6 189.4h0M21.1 162.7h0M22.3 196.8h0M21.1 187.2h0M20.8 203.0h0M20.8 167.9h0M22.4 211.8h0M20.3 193.7h0M20.0 218.3h0M22.4 165.8h0M20.0 182.4h0M20.1 210.3h0M21.4 204.1h0M21.3 184.6h0M21.7 207.1h0M20.3 208.6h0M21.4 181.0h0M19.6 198.8h0M22.1 178.0h0M19.8 183.3h0M20.8 187.4h0M21.0 202.7h0M21.6 192.2h0M20.9 165.1h0M19.9 210.1h0M21.7 194.7h0M21.0 175.3h0M21.8 217.9h0M20.9 187.5h0M21.2 197.7h0M20.7 171.5h0M21.8 167.9h0M22.0 204.2h0M22.2 204.4h0M20.0 183.3h0M20.1 216.8h0M21.1 208.0h0M22.3 212.7h0M20.8 187.7h0M21.3 185.9h0M22.2 215.5h0M22.2 192.1h0M19.9 196.0h0"/></g>
<g stroke="rgb(0,0,240)" stroke-opacity="0.4"><path d="M25.5 186.2h0M26.9 187.2h0M27.3 178.0h0M25.7 195.2h0"/><path d="M24.9 181.1h0M26.7 189.9h0M25.9 181.5h0M26.9 188.8h0"/><path d="M25.1 180.9h0M25.6 180.9h0M25.3 180.5h0M27.7 193.1h0"/><path d="M26.9 189.1h0M24.9 189.1h0M26.7 193.4h0M26.1 192.4h0"/><path d="M25.4 186.9h0M25.8 178.2h0M27.1 184.1h0"/></g>
<g stroke="rgb(240,0,0)" stroke-opacity="0.4"><path d="M31.9 198.0h0M32.8 204.1h0M30.4 198.5h0M33.0 161.4h0M32.4 206.2h0M31.3 181.8h0M32.8 178.6h0M30.9 178.2h0M30.6 209.2h0M30.9 172.9h0M31.0 180.2h0M31.1 184.5h0M30.4 175.0h0M32.7 202.1h0M31.4 180.8h0M30.8 173.7h0M30.5 188.1h0M32.6 193.0h0M30.9 172.9h0M32.0 187.9h0M30.9 166.2h0M30.7 168.4h0M31.6 181.2h0M32.3 186.5h0M30.2 203.0h0M32.4 167.1h0M30.2 185.8h0M30.4 200.1h0M33.0 178.1h0M33.0 163.7h0M31.7 182.4h0M31.1 184.0h0M30.9 196.6h0M30.8 183.3h0M30.5 174.9h0M32.6 179.8h0M30.9 196.2h0M31.1 185.1h0M30.5 208.5h0M30.3 155.7h0M31.2 182.9h0M31.3 183.0h0M32.8 180.7h0M30.5 178.0h0M31.9 197.6h0M31.5 178.2h0M30.2 181.1h0M32.4 191.2h0M32.9 209.6h0M30.2 183.4h0M31.8 179.8h0M32.9 170.1h0M31.8 169.6h0M30.5 181.4h0M32.9 176.2h0M31.8 208.8h0M32.5 181.1h0M31.3 171.3h0M31.5 196.8h0M31.3 181.5h0M31.7 181.4h0M32.0 199.7h0M31.5 185.3h0M31.8 176.3h0M30.7 179.2h0M32.8 168.2h0M30.2 180.0h0M32.1 166.9h0M32.4 182.5h0M32.3 176.3h0M32.0 150.5h0M33.0 194.5h0M32.7 181.5h0M30.6 189.3h0M30.2 175.4h0M32.8 180.5h0M32.0 182.9h0M32.8 196.3h0M30.2 186.6h0M31.7 170.7h0M32.5 189.3h0M30.4 198.3h0M30.7 174.2h0M31.4 161.4h0M31.1 182.7h0M31.4 185.6h0M32.3 188.1h0M30.9 173.9h0M31.2 181.0h0M31.0 184.3h0M31.6 207.0h0M30.3 190.9h0M31.3 174.4h0M32.3 178.5h0M33.0 181.8h0M32.4 181.2h0M32.7 184.9h0M30.5 176.6h0M31.0 180.7h0M31.5 201.1h0M33.0 178.3h0M32.1 186.6h0M33.0 159.9h0M31.3 171.2h0M30.8 167.3h0M32.9 190.7h0M31.5 186.3h0M31.7 164.0h0M32.9 175.8h0M32.9 196.5h0M31.0 174.7h0M30.9 186.5h0M31.7 185.9h0M32.5 197.3h0M32.7 176.4h0M32.4 185.0h0M32.5 181.8h0M30.3 177.6h0M32.5 202.0h0M31.1 211.0h0"/><path d="M30.2 194.1h0M31.8 175.1h0M31.8 192.8h0M32.0 175.4h0M30.3 193.3h0M30.9 186.5h0M32.4 188.2h0M30.6 180.3h0M32.8 175.3h0M30.9 176.0h0M31.2 176.6h0M32.6 174.0h0M30.7 166.4h0M32.8 174.2h0M32.5 171.5h0M30.9 175.3h0M31.0 180.5h0M32.4 173.5h0M31.2 182.2h0M30.9 182.8h0M30.6 180.9h0M31.9 169.8h0M31.0 186.8h0M31.2 178.4h0M32.9 199.4h0M30.7 193.4h0M31.6 181.3h0M31.8 179.2h0M32.7 189.8h0M32.4 168.3h0M30.5 197.3h0M30.9 164.6h0M32.6 186.1h0M31.6 185.4h0M30.7 190.3h0M32.2 191.9h0M30.5 172.9h0M31.2 170.0h0M32.1 174.4h0M30.7 176.1h0M32.4 184.8h0M31.0 206.9h0M30.3 183.9h0M30.9 161.8h0M32.6 184.0h0M30.4 176.2h0M32.9 202.7h0M30.7 195.2h0M30.6 180.5h0M31.4 206.7h0M30.4 176.5h0M31.0 182.4h0M30.7 175.5h0M31.3 159.3h0M32.4 160.2h0M32.3 191.2h0M32.1 186.0h0M31.7 185.4h0M31.3 185.0h0M31.8 174.1h0M31.8 187.9h0M31.3 181.2h0M31.0 181.4h0M31.4 200.1h0M30.7 168.4h0M32.3 178.2h0M30.3 211.7h0M30.9 171.8h0M30.8 186.9h0M32.4 187.4h0M30.3 185.2h0M30.6 181.4h0M31.2 185.5h0M32.8 167.3h0M30.5 203.3h0M33.0 176.8h0M33.0 169.0h0M31.2 181.9h0M31.6 207.5h0M30.9 182.0h0M32.5 182.3h0M32.2 187.0h0M32.2 164.8h0M31.0 183.3h0M31.3 183.8h0M32.5 180.7h0M32.2 171.2h0M30.9 178.1h0M31.8 180.4h0M31.5 167.5h0M30.8 162.7h0M31.0 172.6h0M30.4 169.8h0M30.4 186.1h0M32.1 186.3h0M31.6 160.9h0M30.4 175.9h0M31.6 185.3h0M30.8 195.8h0M31.3 205.9h0M31.6 199.0h0M32.6 190.2h0M30.8 201.9h0M32.6 182.5h0M31.9 185.0h0M32.7 176.9h0M30.4 191.9h0M31.2 166.0h0M31.8 195.9h0M30.6 162.4h0M32.9 186.6h0M31.5 185.8h0M30.9 182.2h0M32.0 178.0h0M32.8 168.7h0M32.3 197.7h0M30.8 176.8h0M32.5 181.2h0M30.2 172.1h0M30.5 193.9h0"/><path d="M31.9 179.5h0M32.9 199.5h0M31.5 200.0h0M31.2 196.1h0M30.4 176.3h0M32.1 173.3h0M30.3 173.8h0M32.1 175.9h0M31.1 198.3h0M31.6 189.2h0M30.4 210.1h0M32.8 168.6h0M31.8 171.0h0M30.9 185.3h0M31.3 198.6h0M32.2 188.2h0M30.5 179.3h0M31.1 177.1h0M31.6 168.5h0M30.9 167.9h0M31.0 175.7h0M30.9 178.0h0M32.7 187.8h0M32.5 171.6h0M32.7 172.2h0M31.8 175.9h0M33.0 200.5h0M31.6 173.4h0M32.7 173.8h0M30.2 183.0h0M30.5 183.9h0M31.8 185.8h0M32.5 185.7h0M31.2 189.3h0M30.3 177.1h0M30.8 186.5h0M32.4 162.3h0M31.1 162.1h0M32.1 168.3h0M30.3 178.9h0M32.6 174.6h0M31.4 186.3h0M31.7 162.2h0M31.2 173.5h0M31.2 177.8h0M32.3 186.9h0M30.6 165.9h0M31.7 192.1h0M30.4 181.6h0M31.6 182.6h0M33.0 180.0h0M30.2 185.5h0M32.7 189.8h0M32.7 179.7h0M31.2 177.1h0M32.1 183.9h0M31.4 176.5h0M30.2 173.2h0M31.1 188.9h0M31.5 174.3h0M32.0 206.4h0M31.1 178.4h0M31.0 174.9h0M32.8 194.1h0M31.9 157.7h0M31.1 171.2h0M30.4 163.3h0M31.0 170.4h0M30.5 187.4h0M31.6 186.8h0M32.9 173.3h0M32.3 193.7h0M32.7 191.6h0M30.2 173.7h0M31.4 175.8h0M30.7 193.8h0M31.1 197.0h0M30.5 176.6h0M32.0 161.8h0M31.7 198.8h0M31.3 188.1h0M32.5 180.2h0M30.9 178.2h0M32.5 182.4h0M32.3 173.2h0M30.3 164.4h0M32.2 174.7h0M31.4 199.8h0M30.7 184.4h0M30.3 203.3h0M30.8 204.8h0M31.1 181.6h0M31.4 183.5h0M31.9 185.2h0M31.5 178.3h0M30.5 182.4h0M31.7 194.3h0M31.6 206.0h0M30.3 169.4h0M30.9 175.1h0M32.0 205.8h0M32.6 205.6h0M30.8 180.0h0M32.6 181.7h0M30.9 175.1h0M31.6 164.3h0M31.2 166.2h0M32.1 201.8h0M32.3 179.1h0M31.2 170.7h0M32.9 178.0h0M31.1 206.5h0M31.8 201.6h0M32.4 204.3h0M30.3 178.4h0M32.3 172.4h0M33.0 182.8h0M30.5 184.8h0M32.0 162.0h0M32.2 182.9h0"/><path d="M32.6 188.1h0M32.1 181.9h0M30.7 165.0h0M33.0 160.9h0M32.7 181.2h0M30.6 179.8h0M32.9 183.8h0M30.7 183.3h0M30.6 196.8h0M30.5 185.7h0M30.3 185.7h0M30.6 181.4h0M32.3 174.9h0M31.2 184.8h0M32.9 203.1h0M31.9 174.2h0M31.8 160.4h0M32.5 186.8h0M33.0 175.8h0M31.0 173.6h0M30.9 177.7h0M31.3 180.7h0M31.3 174.8h0M32.4 169.9h0M31.5 168.8h0M31.1 173.3h0M31.3 169.0h0M33.0 182.1h0M31.0 176.0h0M31.8 184.9h0M31.7 176.2h0M31.3 179.8h0M32.9 181.8h0M31.0 186.6h0M32.2 164.3h0M31.5 192.7h0M31.8 182.5h0M32.2 175.6h0M31.2 172.7h0M30.7 182.3h0M30.5 165.9h0M32.6 205.5h0M30.9 200.6h0M30.6 185.5h0M31.0 174.8h0M33.0 183.3h0M32.6 184.1h0M30.8 184.8h0M33.0 168.7h0M31.4 178.4h0M32.9 211.4h0M31.4 182.8h0M31.7 175.2h0M30.5 170.1h0M30.8 181.7h0M32.3 192.2h0M30.2 189.8h0M31.6 176.0h0M31.9 185.6h0M32.1 188.9h0M32.5 166.5h0M30.9 192.1h0M31.7 183.4h0M30.2 177.3h0M32.7 184.5h0M30.3 179.4h0M32.4 175.9h0M31.0 198.3h0M31.8 180.5h0M31.5 172.3h0M30.9 166.0h0M31.6 191.6h0M30.5 187.3h0M32.1 184.3h0M30.6 182.9h0M30.3 174.9h0M31.3 186.6h0M30.3 209.7h0M32.2 196.1h0M30.6 176.9h0M30.6 190.1h0M31.2 197.9h0M32.6 196.9h0M31.8 179.0h0M31.5 181.7h0M32.4 170.3h0M33.0 181.6h0M32.7 178.0h0M31.1 188.3h0M30.3 182.3h0M32.4 175.2h0M31.1 173.3h0M30.5 172.6h0M30.9 164.0h0M30.7 183.7h0M32.1 167.8h0M30.6 180.1h0M30.8 204.2h0M33.0 181.8h0M30.6 155.4h0M32.6 182.1h0M32.5 197.9h0M32.1 185.8h0M30.2 194.1h0M32.5 171.0h0M30.7 211.7h0M30.4 203.7h0M32.7 171.9h0M31.0 172.0h0M32.7 180.7h0M31.4 178.2h0M31.5 183.8h0M30.9 186.2h0M32.3 186.2h0M32.6 180.5h0M30.5 209.0h0M30.4 198.3h0M31.1 182.2h0M31.3 154.7h0M30.7 178.4h0"/><path d="M30.9 201.3h0M30.9 176.7h0M31.3 170.0h0M30.9 195.6h0M32.8 186.3h0M30.3 192.5h0M32.3 170.3h0M30.8 186.1h0M32.2 174.7h0M32.1 203.9h0M33.0 152.3h0M32.2 184.0h0M30.3 183.4h0M31.9 178.8h0M31.7 180.7h0M30.4 169.2h0M32.5 190.9h0M30.3 208.2h0M32.5 202.8h0M30.5 182.4h0M32.6 181.1h0M32.6 167.5h0M30.5 183.6h0M32.2 184.2h0M31.3 152.3h0M30.7 211.0h0M31.2 181.7h0M32.5 180.9h0M30.7 161.0h0M31.8 169.3h0M30.3 207.2h0M31.8 185.6h0M30.9 186.3h0M31.3 169.7h0M32.6 177.5h0M30.9 183.2h0M30.4 179.1h0M32.8 179.2h0M32.8 163.4h0M30.9 204.9h0M32.3 204.7h0M32.2 161.7h0M31.3 178.7h0M31.7 172.4h0M31.4 183.1h0M31.4 169.2h0M32.0 176.4h0M32.0 181.4h0M31.4 174.5h0M30.6 172.5h0M32.1 159.0h0M31.2 182.6h0M31.8 180.4h0M32.6 189.6h0M31.4 183.2h0M31.9 188.1h0M30.7 184.4h0M30.7 187.9h0M31.2 176.2h0M31.6 177.6h0M31.0 204.0h0M30.5 178.5h0M31.8 205.0h0M32.2 177.5h0M30.7 175.8h0M31.9 169.2h0M31.4 184.6h0M30.2 160.1h0M31.2 186.2h0M30.5 185.7h0M30.7 177.0h0M31.9 197.9h0M30.6 204.6h0M30.8 180.6h0M30.5 199.0h0M31.2 169.9h0M30.6 179.3h0M31.7 170.9h0M31.9 180.8h0M31.7 200.1h0M31.2 175.3h0M31.1 167.7h0M32.4 179.5h0M32.2 207.8h0M31.4 184.9h0M30.4 176.9h0M31.1 190.6h0M30.7 193.4h0M31.1 170.0h0M30.7 196.1h0M30.9 197.4h0M33.0 200.8h0M31.7 210.5h0M32.8 192.7h0M31.8 187.9h0M32.9 176.2h0M30.7 163.9h0M30.2 190.6h0M32.2 182.0h0M30.7 175.8h0M31.2 198.7h0M32.9 194.5h0M32.5 172.2h0M31.4 184.6h0M30.3 182.9h0M30.2 194.8h0M31.2 173.7h0M30.3 156.0h0M32.0 173.8h0M30.6 183.6h0M31.3 177.4h0M30.9 170.0h0M31.7 174.9h0M32.5 179.1h0M31.8 164.5h0M30.9 167.8h0M32.0 187.0h0M30.8 181.4h0M32.7 161.6h0M30.7 177.7h0"/></g>
<g stroke="rgb(0,0,240)" stroke-opacity="0.4"><path d="M36.7 187.7h0M38.0 169.2h0M35.8 170.2h0M38.3 194.2h0M38.0 169.5h0M37.1 174.5h0M38.1 170.7h0M36.1 169.6h0M35.8 175.1h0M37.6 169.1h0M37.9 164.7h0M37.3 176.3h0M36.4 173.2h0M37.7 185.6h0M38.1 166.6h0M36.2 168.0h0M35.9 173.3h0M35.5 189.3h0M37.1 186.7h0M37.8 172.0h0M35.5 165.9h0M37.1 180.2h0M36.2 170.0h0"/><path d="M36.0 177.4h0M36.2 164.3h0M36.8 178.3h0M36.6 177.8h0M37.3 167.3h0M35.6 166.8h0M38.3 167.0h0M38.1 187.0h0M35.5 193.8h0M37.8 179.0h0M36.3 173.4h0M38.1 192.2h0M38.3 174.3h0M37.0 192.1h0M36.1 165.4h0M37.5 169.3h0M38.3 174.9h0M37.8 189.7h0M35.5 169.8h0M37.7 173.6h0M36.8 170.4h0M37.6 171.7h0M35.7 187.7h0"/><path d="M37.5 175.7h0M37.3 171.0h0M36.8 192.1h0M35.5 182.9h0M36.0 186.6h0M36.8 163.1h0M37.7 173.7h0M35.9 166.1h0M36.9 192.5h0M37.3 170.5h0M38.3 186.2h0M37.4 181.4h0M37.9 168.0h0M36.4 178.9h0M35.5 179.9h0M38.2 172.1h0M36.0 168.5h0M36.0 165.4h0M36.5 192.3h0M36.1 171.3h0M36.8 166.4h0M37.9 168.8h0"/><path d="M38.1 194.3h0M36.0 181.3h0M37.1 181.8h0M36.5 176.0h0M36.6 179.9h0M37.5 177.1h0M35.6 191.4h0M35.8 178.1h0M35.7 168.2h0M35.8 174.1h0M35.8 181.5h0M36.0 190.1h0M36.2 184.8h0M38.3 167.9h0M38.3 177.6h0M37.2 167.6h0M36.6 172.6h0M37.2 186.8h0M37.7 163.3h0M37.3 173.4h0M36.7 171.8h0M37.0 180.3h0"/><path d="M35.6 164.4h0M37.8 179.8h0M35.5 167.0h0M37.7 179.0h0M35.8 176.1h0M37.5 176.8h0M37.8 180.7h0M37.8 183.6h0M36.3 175.5h0M35.7 185.9h0M36.8 167.1h0M36.2 187.4h0M36.1 169.3h0M37.3 175.4h0M37.4 174.3h0M35.6 166.0h0M35.7 168.4h0M35.7 166.5h0M37.0 173.4h0M35.6 179.4h0M36.5 169.8h0M38.0 171.0h0"/></g>
<g stroke="rgb(240,0,0)" stroke-opacity="0.4"><path d="M41.3 186.8h0M42.6 190.3h0M41.3 184.7h0M41.3 193.0h0M42.8 189.7h0M42.7 193.7h0M43.2 189.4h0M41.5 191.3h0M43.5 164.1h0M40.9 186.2h0M43.5 174.0h0M42.3 183.2h0M41.7 197.2h0M41.3 188.9h0M42.7 195.7h0M42.6 186.5h0M42.8 186.8h0M42.3 191.6h0M41.1 204.3h0M41.9 195.7h0M41.1 197.8h0M41.3 158.3h0M43.1 188.0h0M43.4 185.7h0M41.7 199.8h0M41.7 198.2h0M42.6 199.6h0M41.8 173.8h0M41.4 206.2h0M43.1 203.4h0M42.6 197.2h0M42.2 186.1h0M42.0 194.3h0M41.4 169.3h0M42.8 183.9h0M43.4 190.6h0M41.3 201.0h0M41.9 173.3h0"/><path d="M43.6 168.0h0M43.5 192.6h0M43.5 203.2h0M43.5 196.8h0M41.1 185.9h0M43.5 199.0h0M41.1 202.7h0M42.3 187.4h0M43.5 198.7h0M42.0 187.9h0M42.6 204.6h0M41.0 158.5h0M42.1 174.9h0M41.2 195.8h0M42.4 170.1h0M41.3 180.7h0M41.0 190.3h0M41.9 195.5h0M41.6 190.6h0M40.9 194.6h0M41.1 194.7h0M41.7 203.5h0M43.0 195.2h0M43.3 190.6h0M43.2 204.1h0M41.7 184.2h0M42.9 205.2h0M43.4 196.9h0M41.9 201.5h0M42.3 193.9h0M41.5 200.5h0M43.4 190.2h0M43.1 183.8h0M41.7 185.3h0M42.0 197.9h0M41.6 188.2h0M43.1 193.8h0M41.8 166.0h0"/><path d="M40.8 185.2h0M41.8 207.0h0M40.8 191.1h0M41.7 187.9h0M42.3 196.1h0M43.4 183.6h0M42.5 190.9h0M42.6 179.8h0M43.5 187.9h0M43.5 190.0h0M43.0 164.5h0M42.8 185.1h0M41.0 183.7h0M41.4 179.5h0M41.4 190.6h0M41.5 191.0h0M41.2 189.2h0M42.7 186.0h0M43.4 194.8h0M41.1 192.2h0M43.3 191.9h0M42.1 186.1h0M41.7 181.9h0M43.1 205.7h0M42.9 206.3h0M41.4 192.6h0M42.4 193.5h0M42.0 190.1h0M41.6 164.6h0M43.4 200.4h0M42.2 188.0h0M42.8 190.0h0M42.6 175.6h0M42.0 175.9h0M41.9 191.3h0M43.5 176.9h0M42.1 186.9h0M43.4 187.4h0"/><path d="M42.1 160.6h0M42.5 196.8h0M42.2 199.2h0M41.2 174.1h0M41.4 161.3h0M41.6 183.2h0M41.3 209.4h0M43.1 191.1h0M41.8 202.3h0M42.0 179.3h0M43.1 186.1h0M41.5 185.8h0M42.6 184.1h0M42.5 196.4h0M42.3 188.1h0M43.0 185.7h0M41.3 201.9h0M42.1 186.8h0M42.5 188.6h0M41.2 183.8h0M42.5 206.9h0M41.7 204.3h0M41.8 199.0h0M43.1 206.3h0M43.3 161.1h0M42.9 183.8h0M43.2 190.0h0M42.3 167.0h0M41.3 191.8h0M42.2 183.3h0M40.8 184.1h0M42.8 205.0h0M41.5 202.8h0M42.1 206.5h0M42.4 193.4h0M43.2 187.4h0M43.3 187.4h0M43.1 173.3h0"/><path d="M41.4 202.5h0M40.9 196.7h0M42.6 208.6h0M41.5 200.6h0M42.1 190.0h0M43.3 194.6h0M42.4 193.8h0M42.7 188.7h0M41.4 162.9h0M40.8 188.8h0M42.5 180.1h0M41.1 160.4h0M42.9 180.5h0M43.1 191.5h0M42.9 158.1h0M43.1 209.4h0M42.3 189.1h0M42.0 168.5h0M42.9 183.8h0M41.3 163.9h0M42.8 188.6h0M41.7 191.9h0M41.8 187.2h0M41.9 190.9h0M43.0 173.4h0M41.9 188.5h0M43.3 174.8h0M41.4 200.3h0M41.2 175.4h0M42.2 209.3h0M42.9 191.6h0M43.4 193.1h0M41.9 184.9h0M41.2 190.1h0M42.9 193.2h0M41.7 205.2h0M43.4 189.4h0M40.8 191.3h0"/></g>
<g stroke="rgb(240,0,0)" stroke-opacity="0.4"><path d="M48.4 185.8h0M48.5 195.5h0M48.0 193.5h0M47.6 199.9h0M48.1 190.4h0M46.8 190.3h0M48.2 198.0h0M46.8 195.2h0M48.6 206.8h0M48.4 188.5h0M46.4 196.4h0M47.3 182.5h0M47.5 191.6h0M47.0 192.7h0M46.9 193.5h0M47.3 171.8h0M48.9 204.5h0"/><path d="M46.2 188.2h0M48.6 186.3h0M47.3 213.5h0M48.3 179.3h0M48.3 196.2h0M48.4 212.4h0M47.7 195.7h0M46.3 167.3h0M47.4 198.3h0M46.3 191.7h0M47.0 192.0h0M48.4 197.8h0M47.7 190.1h0M46.4 187.9h0M46.2 213.2h0M46.1 204.8h0M46.2 194.8h0"/><path d="M48.1 195.3h0M46.2 215.6h0M46.7 188.5h0M47.8 184.0h0M47.3 183.2h0M48.2 204.4h0M48.8 206.3h0M46.7 195.1h0M46.5 195.5h0M47.4 199.6h0M47.4 198.0h0M47.4 171.9h0M48.6 201.8h0M47.7 193.8h0M46.6 192.7h0M47.8 197.6h0"/><path d="M48.7 208.4h0M46.1 186.7h0M46.6 211.0h0M48.8 190.5h0M47.2 180.4h0M46.5 193.6h0M46.3 195.9h0M48.7 178.3h0M47.6 184.9h0M48.2 195.1h0M46.7 211.0h0M46.5 214.7h0M48.9 198.4h0M48.8 205.2h0M48.0 183.6h0M46.6 200.8h0"/><path d="M47.3 198.0h0M46.5 169.9h0M47.1 187.1h0M46.5 208.5h0M47.8 214.8h0M48.7 201.5h0M48.6 186.6h0M47.7 206.3h0M47.9 201.1h0M46.6 198.1h0M48.3 215.5h0M46.5 174.9h0M48.9 193.2h0M48.0 182.7h0M48.0 184.9h0M46.8 211.6h0"/></g>
<g stroke="rgb(240,0,0)" stroke-opacity="0.4"><path d="M53.5 189.5h0M51.8 176.9h0M52.7 188.1h0M53.2 176.1h0M53.2 185.2h0M52.5 189.7h0M51.6 174.4h0M51.5 174.8h0M53.5 176.1h0M54.2 200.5h0M52.1 181.4h0M52.4 180.4h0M52.9 186.5h0M52.6 207.0h0M54.0 176.4h0M53.3 175.2h0M52.6 178.7h0M52.0 191.9h0M51.6 176.1h0M53.1 191.3h0M51.8 179.8h0M51.9 172.5h0M53.3 178.7h0M54.2 174.7h0M52.3 185.8h0M52.2 184.5h0M52.2 186.5h0M52.4 189.6h0M52.7 182.6h0M53.6 185.4h0M52.9 172.5h0M53.0 163.9h0M52.8 176.0h0M51.5 191.8h0M53.0 196.6h0M53.5 183.6h0M53.5 167.9h0M52.0 192.7h0M52.9 176.8h0M51.7 186.1h0M52.6 174.2h0M52.8 169.2h0M52.5 170.0h0M53.1 178.1h0M52.4 180.1h0M52.1 207.2h0M52.0 183.6h0M51.4 178.0h0M52.9 172.6h0M52.3 188.2h0M52.8 176.6h0M54.1 179.9h0M51.4 179.0h0M52.5 172.6h0M52.4 195.0h0M53.2 166.9h0M52.9 183.5h0M52.8 190.4h0M53.7 174.2h0M53.3 194.2h0M52.2 176.2h0M53.9 183.0h0M52.0 183.9h0M52.6 168.3h0M54.0 180.6h0M52.7 184.0h0M51.5 176.3h0M54.2 180.4h0M54.0 170.0h0M53.7 177.2h0M51.4 185.1h0M51.4 186.8h0M53.6 183.0h0M51.9 165.3h0M54.1 174.8h0M52.4 176.4h0M53.1 185.6h0M51.5 197.6h0M52.3 186.5h0M52.5 183.2h0M53.4 188.9h0M51.8 191.8h0M53.4 163.2h0M54.2 198.8h0M51.9 183.7h0M54.0 199.9h0M51.6 186.7h0M53.8 185.7h0M53.5 175.7h0M52.3 177.7h0M51.7 168.5h0M51.7 177.3h0M51.7 171.2h0M52.9 184.9h0M53.7 181.3h0M53.7 177.4h0M53.2 177.0h0M51.8 178.8h0M52.5 176.5h0M52.3 185.5h0M52.3 200.0h0M51.9 176.0h0M51.5 208.4h0M53.6 186.5h0M51.8 174.4h0M53.8 185.9h0M53.8 186.8h0M52.2 172.4h0M52.4 175.1h0M54.1 166.9h0M51.4 184.9h0M54.2 175.9h0M51.4 185.3h0M51.4 191.0h0"/><path d="M52.4 176.8h0M52.8 168.3h0M53.6 179.0h0M52.8 178.7h0M51.5 182.5h0M53.3 176.1h0M53.3 170.5h0M52.3 167.9h0M53.9 190.6h0M51.9 171.5h0M52.9 205.0h0M53.5 179.3h0M52.0 173.4h0M54.2 178.8h0M53.1 179.8h0M53.8 170.6h0M51.7 185.8h0M52.9 173.7h0M52.8 180.2h0M54.1 169.3h0M52.5 170.6h0M53.4 182.7h0M53.0 173.2h0M53.8 164.1h0M51.5 179.0h0M52.0 203.8h0M52.1 205.3h0M52.5 165.6h0M52.0 181.9h0M53.3 170.5h0M53.8 181.0h0M51.5 172.5h0M52.7 178.6h0M52.5 204.0h0M52.1 181.9h0M53.3 182.7h0M51.4 186.2h0M53.8 196.3h0M54.0 186.3h0M51.4 183.6h0M53.8 177.9h0M52.2 180.2h0M53.9 206.8h0M53.4 180.6h0M52.5 172.2h0M52.4 190.9h0M52.2 201.1h0M53.0 183.5h0M52.1 194.4h0M53.3 172.2h0M54.2 186.4h0M53.6 185.2h0M52.6 175.7h0M53.7 183.8h0M53.1 184.1h0M52.9 182.6h0M54.1 173.1h0M52.5 200.8h0M53.7 186.3h0M52.1 171.5h0M51.8 200.1h0M51.4 180.4h0M53.9 178.4h0M53.8 191.9h0M54.1 198.0h0M53.7 177.4h0M54.2 170.6h0M51.8 168.9h0M53.0 187.8h0M52.4 183.6h0M53.6 185.4h0M52.5 194.5h0M53.3 173.8h0M53.5 163.5h0M52.3 179.0h0M52.1 177.2h0M53.9 186.1h0M51.8 176.4h0M52.9 191.6h0M52.5 204.1h0M51.4 165.4h0M51.7 200.4h0M51.8 180.9h0M52.3 175.2h0M51.8 173.2h0M52.8 171.7h0M52.5 183.7h0M53.4 178.1h0M53.3 184.7h0M53.7 172.3h0M53.1 171.4h0M52.5 179.0h0M52.7 197.4h0M52.2 178.0h0M54.2 170.9h0M52.2 202.7h0M53.9 168.4h0M52.2 168.0h0M53.7 170.2h0M51.6 181.5h0M53.5 181.2h0M52.9 200.0h0M53.6 177.8h0M52.8 173.8h0M53.7 183.6h0M53.1 171.4h0M51.4 189.7h0M53.1 180.6h0M51.7 182.2h0M54.2 179.5h0M52.1 186.3h0M54.2 199.6h0M54.0 168.2h0"/><path d="M54.2 175.0h0M52.9 170.3h0M53.8 183.0h0M52.2 188.9h0M53.5 169.6h0M53.3 190.3h0M52.2 184.7h0M53.4 182.0h0M53.3 171.9h0M52.4 171.6h0M52.8 186.1h0M52.0 163.8h0M53.7 176.3h0M52.2 176.9h0M52.5 175.2h0M53.0 195.2h0M52.1 201.3h0M51.7 184.6h0M52.8 183.4h0M53.3 176.4h0M52.7 184.5h0M51.7 182.7h0M53.8 180.3h0M52.9 184.9h0M51.7 182.5h0M53.0 186.1h0M52.0 170.8h0M52.7 174.7h0M53.7 175.0h0M52.5 188.2h0M51.9 186.2h0M52.9 168.2h0M53.4 184.5h0M54.1 175.9h0M52.4 167.6h0M52.3 172.3h0M51.9 164.5h0M52.2 184.1h0M52.6 181.7h0M52.7 176.5h0M51.6 183.9h0M53.2 171.2h0M53.7 192.9h0M51.7 182.9h0M54.1 168.5h0M53.3 206.4h0M51.4 179.7h0M54.2 171.3h0M53.4 177.3h0M52.7 197.2h0M53.2 184.5h0M52.8 171.4h0M53.8 209.2h0M53.9 173.2h0M54.0 181.5h0M52.3 167.1h0M52.8 192.7h0M52.3 167.5h0M53.9 175.0h0M51.7 181.5h0M53.9 179.2h0M53.6 177.9h0M54.0 171.9h0M53.2 188.5h0M53.2 186.1h0M54.2 163.4h0M52.6 179.2h0M53.9 184.4h0M52.8 168.7h0M52.5 202.0h0M53.4 170.9h0M53.6 189.5h0M53.1 181.4h0M52.1 176.2h0M54.0 180.2h0M52.9 171.4h0M52.0 183.4h0M51.6 174.1h0M53.6 201.1h0M52.2 200.0h0M53.7 195.4h0M51.4 186.4h0M53.9 168.1h0M52.6 176.5h0M53.7 184.9h0M52.6 190.0h0M52.4 182.1h0M52.0 192.0h0M54.1 185.7h0M52.3 183.6h0M53.0 192.9h0M52.5 193.3h0M52.3 170.4h0M53.6 179.2h0M54.2 187.5h0M54.2 176.0h0M52.1 177.1h0M53.3 189.5h0M54.1 179.0h0M53.9 173.4h0M52.5 197.3h0M53.0 170.3h0M53.6 181.4h0M53.3 202.1h0M53.2 186.9h0M54.1 186.7h0M52.9 175.7h0M53.9 185.3h0M52.3 203.0h0M51.4 169.0h0M52.0 182.0h0M52.9 193.3h0M52.5 177.2h0"/><path d="M53.5 168.3h0M52.6 175.7h0M54.0 181.0h0M53.4 185.9h0M53.3 168.3h0M53.3 179.8h0M51.8 197.9h0M52.4 183.3h0M52.4 175.5h0M52.2 168.8h0M52.5 178.5h0M53.2 202.6h0M52.4 197.7h0M53.8 194.6h0M52.4 175.1h0M52.3 175.4h0M53.7 168.6h0M52.6 184.0h0M52.8 193.9h0M53.8 171.6h0M51.4 198.1h0M52.3 172.7h0M52.7 169.9h0M52.6 185.7h0M52.2 178.5h0M53.4 168.1h0M52.8 193.9h0M53.4 168.6h0M53.0 185.0h0M53.9 170.8h0M53.0 184.2h0M53.8 163.4h0M51.4 177.7h0M53.6 172.3h0M53.2 187.3h0M53.3 169.9h0M52.6 181.0h0M52.7 175.5h0M54.0 180.3h0M52.0 176.8h0M53.9 195.4h0M52.8 184.6h0M53.2 175.0h0M53.3 182.8h0M52.7 209.8h0M53.0 176.9h0M51.4 179.6h0M53.9 186.9h0M53.1 172.0h0M53.1 188.3h0M51.9 186.7h0M52.8 182.7h0M52.5 167.1h0M53.9 188.1h0M54.2 171.5h0M51.4 199.5h0M53.7 179.2h0M52.2 176.6h0M53.6 198.9h0M53.4 192.6h0M53.5 175.9h0M53.4 171.3h0M53.9 194.9h0M53.3 207.3h0M51.4 207.8h0M52.6 179.5h0M53.1 186.3h0M52.6 184.4h0M53.2 183.8h0M53.3 174.9h0M52.4 183.7h0M51.5 170.9h0M52.3 163.8h0M54.1 174.5h0M52.2 185.0h0M54.0 194.9h0M52.8 169.8h0M52.0 168.0h0M51.6 200.2h0M51.6 172.6h0M54.0 175.4h0M54.2 175.7h0M52.0 178.2h0M52.8 186.0h0M51.7 189.6h0M53.0 180.2h0M53.9 175.2h0M51.7 206.7h0M52.6 173.1h0M53.1 194.5h0M51.8 184.4h0M54.0 196.8h0M53.4 167.0h0M53.2 207.4h0M51.7 185.2h0M52.4 182.3h0M53.5 173.0h0M53.3 188.9h0M52.9 204.6h0M53.6 176.7h0M52.4 199.8h0M51.6 186.0h0M54.0 181.3h0M53.7 181.8h0M51.6 176.5h0M51.6 166.3h0M53.0 183.1h0M51.9 198.2h0M54.2 177.1h0M52.4 194.8h0M54.0 167.8h0M53.8 202.4h0M51.6 167.4h0"/><path d="M52.1 174.6h0M52.1 184.1h0M51.6 169.1h0M51.5 177.0h0M51.6 182.9h0M51.6 176.9h0M53.3 176.5h0M52.6 174.9h0M54.0 194.3h0M53.3 170.4h0M53.5 170.9h0M52.4 169.0h0M53.4 180.8h0M53.6 189.3h0M53.2 197.0h0M51.7 171.1h0M52.7 199.1h0M52.0 193.1h0M52.0 185.3h0M54.1 180.0h0M53.3 186.5h0M53.1 172.6h0M51.7 202.0h0M53.9 199.3h0M54.2 207.0h0M52.7 184.4h0M53.5 184.0h0M51.6 184.7h0M53.6 168.0h0M51.9 176.8h0M52.2 174.1h0M51.6 190.1h0M53.4 176.3h0M52.5 189.1h0M51.7 170.8h0M52.2 184.5h0M52.2 181.3h0M53.6 192.8h0M53.4 182.0h0M51.9 176.1h0M53.4 175.8h0M52.8 176.4h0M53.9 188.8h0M54.1 177.3h0M53.4 198.3h0M51.6 179.0h0M54.1 187.0h0M51.4 185.2h0M52.3 200.0h0M53.9 197.1h0M51.4 180.4h0M54.2 182.3h0M51.5 182.4h0M53.7 174.7h0M53.0 180.5h0M52.5 168.9h0M53.6 181.7h0M53.7 168.0h0M52.3 174.9h0M53.6 174.1h0M51.6 183.0h0M52.2 179.6h0M51.6 178.1h0M52.2 181.2h0M53.8 195.6h0M53.2 174.6h0M52.3 171.0h0M51.5 167.3h0M52.0 180.3h0M52.3 167.8h0M54.2 205.8h0M51.4 193.3h0M52.4 176.2h0M53.4 184.0h0M52.1 185.8h0M52.3 197.9h0M52.6 173.3h0M52.3 204.0h0M53.4 199.3h0M54.2 196.8h0M51.7 175.5h0M53.8 186.4h0M53.0 182.8h0M53.5 203.8h0M53.2 166.0h0M52.6 179.7h0M52.3 193.2h0M52.7 172.7h0M53.5 186.1h0M53.2 179.9h0M54.0 180.3h0M52.9 186.7h0M52.1 175.8h0M51.8 175.5h0M52.2 174.5h0M54.0 180.2h0M53.8 187.5h0M51.8 176.6h0M52.1 189.7h0M51.8 171.7h0M53.7 185.6h0M53.2 183.1h0M52.7 195.8h0M54.0 167.1h0M52.6 171.1h0M51.7 179.1h0M53.3 173.9h0M54.2 183.9h0M52.9 167.5h0M53.9 174.6h0M52.4 183.4h0M53.8 181.7h0M53.7 171.0h0"/></g>
<g stroke="rgb(240,0,0)" stroke-opacity="0.4"><path d="M57.7 208.0h0M57.1 186.7h0M58.8 188.3h0M58.7 199.2h0M56.7 172.4h0M56.7 190.4h0M58.7 212.1h0M59.3 192.7h0M57.0 179.1h0M59.5 185.1h0M58.8 191.2h0M57.8 174.5h0M56.7 164.5h0M57.4 184.1h0M59.2 190.8h0M56.9 216.5h0M57.2 190.6h0M58.6 191.6h0M58.2 186.1h0M58.1 189.5h0M57.0 163.0h0M58.1 189.9h0M59.4 193.5h0M59.0 195.9h0M59.2 165.5h0M57.0 196.3h0M58.8 184.1h0M59.3 203.6h0M57.9 174.8h0M59.5 204.8h0M58.3 215.4h0M58.3 180.5h0M57.6 187.1h0M56.9 199.4h0M56.7 184.1h0M58.9 180.0h0M59.3 189.5h0M57.2 187.9h0M59.5 197.3h0M57.4 150.3h0M57.0 189.3h0M58.5 207.5h0M58.6 198.2h0M57.7 174.8h0M58.5 190.3h0M59.4 213.6h0M57.6 181.7h0M58.1 182.8h0M57.5 187.2h0M57.8 176.3h0M57.3 191.9h0M57.7 192.4h0M59.1 217.6h0M58.3 162.6h0M56.7 188.6h0M57.2 184.4h0M58.2 172.2h0M58.7 208.4h0M57.8 204.8h0M58.4 203.3h0M57.2 177.5h0"/><path d="M57.3 186.2h0M57.6 189.4h0M58.4 176.5h0M57.9 212.6h0M57.9 181.4h0M59.2 184.8h0M59.1 181.4h0M57.0 199.2h0M59.5 181.0h0M57.0 186.2h0M56.9 174.6h0M59.2 182.8h0M57.0 196.3h0M57.7 186.0h0M58.3 187.0h0M57.7 197.3h0M58.5 184.3h0M58.4 183.6h0M58.2 213.0h0M58.8 189.5h0M57.9 165.8h0M57.0 193.1h0M58.8 156.7h0M58.9 186.0h0M58.0 158.9h0M58.0 167.0h0M59.5 200.7h0M57.3 191.5h0M58.7 191.0h0M57.0 167.1h0M58.4 175.3h0M59.1 187.8h0M58.5 167.1h0M58.6 179.1h0M58.3 179.0h0M58.7 181.4h0M56.9 214.0h0M58.0 182.8h0M57.6 167.8h0M57.5 206.6h0M58.3 191.2h0M59.1 162.0h0M57.3 168.2h0M56.8 192.2h0M56.9 150.4h0M59.0 206.7h0M57.7 192.4h0M56.8 203.8h0M58.2 194.8h0M58.0 200.3h0M57.1 183.2h0M59.2 177.9h0M59.5 182.6h0M57.3 191.0h0M58.1 189.5h0M58.4 202.8h0M58.1 192.5h0M57.8 204.4h0M58.2 209.4h0M58.2 168.2h0M58.0 213.2h0"/><path d="M56.9 160.4h0M56.9 197.6h0M58.0 183.2h0M57.2 154.3h0M58.5 187.3h0M58.4 169.2h0M57.6 208.8h0M58.9 213.2h0M59.0 190.3h0M58.2 204.8h0M57.0 184.7h0M57.4 159.5h0M57.0 188.9h0M59.1 181.2h0M58.4 184.8h0M59.0 191.3h0M58.8 177.2h0M58.3 163.0h0M59.4 209.0h0M57.4 213.8h0M58.2 187.0h0M57.8 185.4h0M57.5 188.7h0M57.0 212.8h0M59.3 168.3h0M58.2 189.6h0M58.0 194.4h0M56.9 182.0h0M56.8 182.3h0M56.7 177.3h0M57.0 205.9h0M58.3 186.2h0M58.1 184.1h0M58.6 186.3h0M57.5 200.9h0M56.8 168.0h0M57.1 163.9h0M58.5 188.9h0M58.0 153.5h0M59.2 186.8h0M57.8 167.8h0M57.4 176.8h0M59.4 201.5h0M59.4 194.8h0M59.5 200.1h0M57.2 210.4h0M58.2 191.3h0M56.8 210.2h0M56.8 189.7h0M57.9 172.0h0M57.4 207.5h0M58.1 185.5h0M57.9 209.1h0M56.9 163.5h0M59.4 186.7h0M58.8 159.7h0M58.0 208.4h0M58.4 212.9h0M58.0 193.2h0M57.0 176.6h0M58.1 197.8h0"/><path d="M57.3 195.7h0M57.0 179.9h0M58.3 180.9h0M56.8 192.8h0M57.8 191.3h0M57.8 206.8h0M58.2 192.1h0M56.7 196.0h0M59.3 175.1h0M57.8 201.4h0M58.8 189.6h0M58.2 169.3h0M56.7 186.9h0M56.7 205.3h0M58.4 208.7h0M57.4 212.4h0M57.1 187.4h0M57.3 177.9h0M58.3 198.6h0M59.4 205.4h0M56.7 182.6h0M57.9 192.6h0M59.2 196.9h0M58.0 207.8h0M58.4 205.7h0M59.4 191.0h0M57.5 159.8h0M57.7 192.7h0M59.5 188.6h0M57.4 192.7h0M56.9 188.8h0M58.3 197.7h0M58.1 177.7h0M58.9 185.4h0M56.7 167.7h0M56.8 170.6h0M56.8 193.2h0M59.2 195.0h0M58.7 186.0h0M58.7 194.2h0M56.8 170.4h0M56.9 185.3h0M58.1 200.2h0M58.4 172.0h0M56.8 188.6h0M59.1 184.9h0M59.4 172.6h0M57.9 168.3h0M59.3 202.1h0M57.1 182.3h0M58.4 204.1h0M57.0 183.5h0M58.2 182.7h0M57.2 176.3h0M57.9 187.7h0M56.7 187.8h0M56.9 185.9h0M59.5 191.9h0M56.9 191.1h0M58.9 216.2h0M57.5 204.2h0"/><path d="M57.6 192.8h0M57.7 209.7h0M58.5 183.7h0M58.8 186.7h0M58.2 203.0h0M59.5 172.2h0M57.7 185.1h0M59.1 191.1h0M57.3 206.0h0M59.2 210.6h0M59.0 177.1h0M58.5 170.0h0M57.2 185.6h0M58.0 191.8h0M56.7 181.8h0M57.8 161.1h0M56.9 182.8h0M59.4 163.8h0M58.9 183.8h0M56.7 185.3h0M57.7 162.3h0M58.4 171.7h0M58.1 184.3h0M57.1 196.6h0M56.8 208.5h0M57.8 194.8h0M56.9 202.8h0M58.1 193.9h0M58.9 196.2h0M57.0 191.4h0M59.0 184.0h0M58.7 186.7h0M59.1 184.0h0M56.9 207.6h0M58.5 183.4h0M58.2 191.9h0M59.2 171.1h0M56.9 167.8h0M58.1 182.9h0M58.2 176.2h0M57.1 210.0h0M58.2 205.7h0M56.9 185.3h0M57.6 178.3h0M58.9 159.1h0M59.5 200.3h0M58.0 187.3h0M57.9 203.9h0M57.6 186.2h0M58.6 183.2h0M56.9 152.2h0M59.4 205.7h0M59.2 182.5h0M59.0 184.7h0M58.3 179.4h0M58.5 183.0h0M57.2 176.8h0M58.6 208.0h0M58.8 194.8h0M56.9 163.1h0"/></g>
<g stroke="rgb(240,0,0)" stroke-opacity="0.4"><path d="M62.6 204.0h0M63.5 196.9h0M62.8 192.7h0M62.8 214.3h0M64.2 199.4h0M64.5 197.8h0M63.1 181.2h0M62.7 192.1h0"/><path d="M63.0 194.9h0M63.4 188.8h0M64.6 211.3h0M63.5 177.8h0M62.0 195.5h0M62.9 165.9h0M62.4 162.0h0"/><path d="M64.7 164.5h0M64.6 189.3h0M64.0 171.9h0M62.4 183.1h0M62.2 190.0h0M63.7 187.7h0M62.0 195.5h0"/><path d="M64.7 192.6h0M63.7 188.3h0M62.8 204.0h0M64.8 196.9h0M64.1 189.8h0M63.6 195.7h0M62.9 178.4h0"/><path d="M62.5 185.9h0M63.8 192.3h0M63.6 197.2h0M62.1 198.3h0M64.4 198.5h0M63.4 211.8h0M64.1 191.7h0"/></g>
<g stroke="rgb(0,0,240)" stroke-opacity="0.4"><path d="M67.9 208.9h0M69.6 216.1h0"/><path d="M69.4 217.3h0M69.7 216.9h0"/><path d="M67.3 213.3h0M68.0 217.2h0"/><path d="M68.8 216.2h0M69.9 216.9h0"/><path d="M68.1 214.0h0"/></g>
<g stroke="rgb(240,0,0)" stroke-opacity="0.4"><path d="M74.2 222.6h0M75.4 196.0h0M72.6 186.0h0M72.9 190.1h0M73.5 220.4h0M75.0 178.1h0M73.1 215.3h0M73.9 205.0h0M75.3 202.6h0M74.4 220.2h0M74.2 196.8h0M74.6 217.3h0M75.2 182.7h0M75.0 202.3h0M74.7 221.3h0M74.1 218.9h0M73.3 207.6h0M74.8 218.6h0M73.7 198.1h0M73.1 219.4h0M74.5 207.0h0M73.8 222.6h0M73.9 203.1h0M74.1 195.9h0M73.1 191.9h0M74.1 214.4h0M73.6 212.8h0M75.3 217.2h0M73.8 214.6h0M73.5 208.3h0M72.9 216.6h0M75.0 205.7h0M75.2 202.8h0M73.0 207.8h0M74.7 194.9h0M73.6 207.2h0M73.8 212.9h0M74.1 188.1h0M74.8 213.0h0M74.0 208.3h0M72.6 218.1h0M75.0 217.2h0M74.2 205.5h0M73.8 203.6h0M72.6 217.4h0M73.5 207.3h0M73.6 208.3h0M74.0 216.5h0M75.2 208.5h0M73.9 196.6h0M72.6 189.0h0M72.7 212.2h0M73.1 209.7h0M74.1 212.1h0M75.0 186.4h0M74.6 209.0h0M74.2 219.7h0M73.4 207.7h0M73.1 216.4h0M73.3 216.1h0M74.1 216.9h0M74.4 219.9h0M72.7 203.1h0M73.0 212.7h0M75.4 206.2h0M73.8 212.0h0M73.8 200.6h0M75.3 186.3h0M74.7 199.9h0M72.8 219.5h0M72.8 220.3h0M74.4 187.6h0M73.9 215.4h0M74.5 203.6h0M75.2 196.2h0M74.8 203.8h0M74.3 216.4h0M72.6 194.3h0M75.1 185.8h0M73.8 202.1h0M74.0 211.0h0M74.4 191.4h0M72.9 218.9h0M73.2 202.4h0M73.4 207.6h0M73.6 188.6h0M75.0 207.0h0M73.3 197.3h0M74.1 199.7h0M72.6 200.1h0M75.1 202.0h0M74.9 218.5h0"/><path d="M73.7 180.0h0M72.8 207.6h0M74.9 203.3h0M74.2 210.9h0M73.7 195.1h0M74.8 209.2h0M75.2 212.2h0M73.5 190.3h0M74.7 213.0h0M74.8 212.6h0M74.5 196.8h0M75.3 217.5h0M72.6 215.9h0M73.3 216.6h0M72.7 204.9h0M72.8 214.2h0M73.1 220.2h0M74.1 202.4h0M74.3 213.5h0M74.7 210.5h0M74.9 216.7h0M72.6 195.6h0M72.7 214.0h0M72.8 208.8h0M72.6 210.9h0M74.2 187.2h0M75.2 222.1h0M73.1 219.1h0M73.2 209.3h0M74.9 219.5h0M75.1 215.5h0M75.1 210.1h0M75.4 221.2h0M75.0 217.5h0M74.7 189.1h0M74.6 216.7h0M74.1 206.5h0M75.3 202.4h0M74.1 217.5h0M73.7 215.4h0M74.4 206.0h0M72.6 209.8h0M75.4 213.4h0M75.4 210.7h0M73.5 220.4h0M73.9 183.8h0M73.4 213.9h0M73.5 219.9h0M74.2 212.7h0M75.2 222.8h0M75.0 219.8h0M74.4 219.0h0M74.2 206.3h0M75.2 193.9h0M72.7 205.0h0M74.5 202.6h0M73.7 192.9h0M74.0 186.1h0M72.8 213.4h0M74.6 201.4h0M74.6 200.3h0M73.0 215.7h0M73.0 206.8h0M75.2 182.9h0M73.6 189.8h0M75.2 222.5h0M73.1 217.9h0M74.4 191.4h0M74.4 192.5h0M74.5 214.5h0M73.6 210.4h0M73.9 187.3h0M75.0 203.0h0M72.7 212.8h0M74.3 206.2h0M75.3 197.4h0M73.2 220.1h0M72.9 212.2h0M73.7 191.3h0M73.4 185.9h0M74.2 206.2h0M73.1 214.3h0M73.4 199.0h0M75.1 217.7h0M74.4 210.0h0M74.8 212.6h0M73.6 208.4h0M74.2 221.0h0M74.8 213.9h0M74.3 205.0h0M73.9 205.9h0M75.0 217.2h0"/><path d="M73.2 208.1h0M72.6 211.9h0M74.5 213.5h0M73.9 204.9h0M73.4 221.1h0M73.9 214.6h0M75.2 206.3h0M72.8 203.5h0M74.4 203.1h0M74.7 192.9h0M74.5 221.1h0M74.9 212.5h0M73.1 206.1h0M74.4 201.7h0M73.1 191.8h0M74.8 178.1h0M74.6 209.7h0M73.7 206.0h0M74.2 190.1h0M74.8 196.6h0M75.3 212.7h0M72.9 211.7h0M74.1 202.9h0M73.7 213.8h0M75.3 221.0h0M75.3 219.2h0M74.2 192.9h0M75.2 218.6h0M75.2 209.6h0M75.0 216.6h0M73.9 204.3h0M74.0 214.5h0M73.1 205.1h0M74.3 194.4h0M74.2 203.5h0M74.5 202.1h0M74.4 188.4h0M74.0 217.7h0M74.2 216.9h0M74.0 201.8h0M73.3 207.8h0M74.0 216.4h0M73.0 204.7h0M72.9 217.6h0M75.4 210.8h0M74.9 216.2h0M74.8 215.8h0M73.6 217.9h0M74.7 220.5h0M73.7 211.3h0M73.7 222.0h0M75.1 211.2h0M73.5 208.5h0M74.3 213.6h0M74.1 205.2h0M74.6 213.1h0M74.5 216.1h0M74.5 209.8h0M75.0 204.3h0M72.8 206.3h0M74.1 216.7h0M72.9 187.0h0M74.7 204.0h0M75.0 216.7h0M73.8 213.4h0M74.7 210.3h0M75.0 209.3h0M73.4 213.2h0M73.6 209.7h0M74.5 211.0h0M73.0 207.5h0M73.5 216.2h0M72.8 215.6h0M73.7 213.9h0M73.9 218.0h0M74.9 210.3h0M73.4 191.4h0M75.1 198.8h0M73.8 210.6h0M73.7 216.3h0M74.2 206.7h0M73.7 220.8h0M74.6 205.2h0M72.6 222.8h0M72.9 213.7h0M73.6 202.8h0M75.2 194.6h0M75.2 208.6h0M73.7 196.5h0M75.2 209.3h0M74.4 198.5h0"/><path d="M75.0 212.1h0M73.3 221.8h0M73.5 210.5h0M73.9 202.5h0M74.4 205.8h0M73.7 209.3h0M73.4 222.9h0M74.9 214.4h0M74.5 210.0h0M73.2 196.9h0M73.5 205.1h0M74.9 203.7h0M74.4 203.6h0M73.8 193.6h0M75.4 216.6h0M73.2 205.4h0M75.2 212.1h0M74.7 205.7h0M74.5 212.7h0M74.8 185.6h0M73.0 204.5h0M74.1 208.3h0M74.1 215.0h0M74.7 198.6h0M73.8 200.9h0M73.9 195.6h0M72.7 211.9h0M72.9 193.9h0M74.2 210.6h0M72.6 204.7h0M74.8 215.3h0M73.3 203.5h0M74.8 193.3h0M72.9 217.0h0M75.1 205.1h0M74.6 222.4h0M75.0 191.1h0M75.3 195.5h0M74.7 198.0h0M72.6 176.9h0M74.7 193.3h0M74.6 204.8h0M74.5 205.4h0M73.0 199.9h0M74.9 194.3h0M74.9 220.3h0M72.8 192.8h0M73.7 221.0h0M75.0 203.4h0M73.4 197.3h0M73.6 182.0h0M73.2 208.0h0M73.6 210.9h0M75.1 212.9h0M73.6 215.4h0M72.7 206.9h0M73.7 216.2h0M73.4 204.8h0M72.7 207.8h0M72.8 186.1h0M73.8 200.2h0M73.9 208.5h0M75.3 214.3h0M72.6 205.1h0M75.2 214.2h0M74.8 198.9h0M74.5 214.1h0M75.3 208.0h0M75.0 211.9h0M75.4 212.9h0M74.7 203.2h0M74.0 216.5h0M74.7 208.3h0M73.5 186.1h0M74.3 185.7h0M73.5 212.8h0M74.3 208.8h0M73.7 222.7h0M72.6 185.6h0M73.4 210.5h0M75.1 204.2h0M74.2 210.3h0M72.7 191.4h0M72.7 208.4h0M73.6 205.4h0M74.4 216.0h0M73.9 190.0h0M74.3 194.2h0M73.8 220.0h0M72.6 203.4h0M72.8 215.4h0"/><path d="M74.2 193.2h0M75.3 216.3h0M74.8 200.4h0M72.9 212.7h0M75.4 215.6h0M74.3 208.5h0M74.0 205.0h0M74.9 216.7h0M73.2 207.7h0M75.1 208.2h0M73.4 207.9h0M73.9 206.2h0M74.5 205.0h0M72.8 217.2h0M73.7 203.7h0M74.7 215.4h0M74.4 208.2h0M72.9 219.5h0M72.9 220.8h0M74.1 209.5h0M74.6 207.0h0M74.5 203.3h0M74.6 213.7h0M73.1 210.5h0M74.4 218.8h0M73.4 202.9h0M74.1 195.7h0M73.1 202.7h0M72.6 207.1h0M75.3 207.4h0M72.6 213.1h0M72.9 218.6h0M75.3 198.7h0M75.3 220.5h0M73.8 198.7h0M75.0 211.1h0M72.6 203.6h0M74.9 186.1h0M75.2 210.2h0M72.8 208.9h0M74.0 198.6h0M75.3 193.4h0M72.9 214.1h0M74.6 212.8h0M75.4 215.1h0M73.7 218.8h0M74.2 218.3h0M74.3 207.2h0M74.0 216.0h0M74.0 199.9h0M73.5 206.4h0M74.4 212.2h0M73.6 220.0h0M73.7 198.2h0M73.0 198.7h0M75.1 206.2h0M74.8 206.3h0M75.1 212.7h0M74.6 198.4h0M73.7 200.0h0M74.2 212.3h0M74.1 202.1h0M74.7 209.8h0M75.2 203.7h0M74.3 211.5h0M72.7 203.1h0M74.9 198.5h0M74.6 212.7h0M74.1 217.6h0M73.9 198.4h0M72.9 213.2h0M72.9 202.0h0M74.2 202.0h0M74.8 210.9h0M74.6 211.1h0M75.1 222.8h0M74.1 211.6h0M73.5 216.5h0M73.7 219.1h0M73.2 208.0h0M72.8 212.9h0M74.6 215.7h0M74.0 218.2h0M73.3 217.2h0M72.8 212.8h0M74.5 209.8h0M73.6 212.4h0M74.4 212.0h0M75.0 201.0h0M72.6 216.3h0M72.6 204.6h0"/></g>
<g stroke="rgb(0,0,240)" stroke-opacity="0.4"><path d="M80.2 184.4h0M79.9 180.0h0M79.1 192.6h0M78.2 209.8h0M80.5 184.8h0M80.3 206.2h0M79.8 192.8h0M80.4 207.0h0M78.9 183.8h0"/><path d="M79.2 188.6h0M79.4 200.2h0M78.3 201.6h0M78.1 200.0h0M80.6 194.7h0M78.6 201.7h0M78.0 197.8h0M80.7 198.4h0"/><path d="M80.3 201.1h0M80.7 178.0h0M78.3 210.3h0M80.2 192.0h0M79.1 212.9h0M78.6 198.6h0M78.8 202.0h0M79.7 199.5h0"/><path d="M80.1 187.5h0M78.4 211.1h0M78.5 200.1h0M78.7 185.6h0M79.3 198.9h0M78.3 212.4h0M80.4 199.5h0M79.1 200.5h0"/><path d="M79.8 199.1h0M79.9 178.0h0M80.0 195.4h0M79.8 201.4h0M78.6 202.4h0M80.0 198.3h0M78.5 187.9h0M79.5 210.8h0"/></g>
<g stroke="rgb(240,0,0)" stroke-opacity="0.4"><path d="M85.4 191.2h0M86.0 209.1h0M83.9 200.3h0M84.3 198.6h0M84.9 199.8h0M83.8 192.7h0M83.6 197.5h0M85.4 179.7h0M85.7 204.0h0M85.6 201.8h0"/><path d="M83.3 188.1h0M85.3 209.2h0M85.4 186.9h0M84.9 207.8h0M85.4 199.3h0M84.9 173.0h0M85.5 201.5h0M85.4 200.6h0M83.6 193.8h0M85.6 206.1h0"/><path d="M83.3 199.6h0M84.4 198.0h0M84.7 201.1h0M85.0 198.3h0M85.8 190.7h0M83.9 199.5h0M83.3 206.0h0M83.7 196.4h0M85.8 173.6h0M83.2 193.9h0"/><path d="M85.6 215.6h0M84.8 210.4h0M84.8 194.7h0M83.6 199.0h0M86.0 202.1h0M83.2 193.6h0M84.7 198.8h0M84.2 199.4h0M84.4 180.6h0"/><path d="M84.4 195.1h0M85.8 197.8h0M83.4 205.1h0M85.1 215.0h0M83.9 193.3h0M85.9 205.1h0M83.8 199.5h0M83.6 182.3h0M85.7 194.1h0"/></g>
<g stroke="rgb(240,0,0)" stroke-opacity="0.4"><path d="M89.2 160.9h0M89.1 202.3h0M91.1 209.7h0M88.5 161.4h0M88.6 160.6h0M90.2 163.9h0M91.3 202.6h0M91.0 182.8h0M88.8 200.4h0M90.0 187.7h0M89.6 193.1h0M89.5 189.0h0M89.5 206.3h0M89.2 186.7h0M88.7 201.3h0M90.8 186.0h0M90.4 185.9h0M90.5 174.7h0M90.3 180.8h0M88.5 185.7h0M89.8 200.8h0M91.1 165.9h0M88.8 186.3h0M90.2 185.8h0M88.6 178.2h0M89.0 189.4h0M90.3 188.9h0M90.4 161.7h0M90.8 182.3h0M89.6 152.8h0M90.8 187.7h0M89.3 185.6h0M91.0 190.1h0M88.6 175.3h0M89.0 182.8h0M90.9 174.2h0M91.2 168.7h0"/><path d="M91.0 176.4h0M89.3 187.1h0M89.7 168.7h0M90.9 151.1h0M89.6 170.5h0M90.4 186.7h0M89.5 155.5h0M90.8 191.5h0M89.0 182.7h0M91.3 190.7h0M90.2 201.0h0M90.1 180.4h0M88.7 182.0h0M89.1 202.3h0M89.2 179.1h0M89.6 183.0h0M89.9 163.0h0M88.6 182.5h0M89.3 194.1h0M88.5 199.9h0M89.1 203.2h0M90.5 198.2h0M89.5 183.8h0M90.6 182.4h0M90.6 206.7h0M90.2 212.9h0M89.3 203.0h0M89.5 167.9h0M89.1 170.3h0M89.8 181.1h0M91.1 192.7h0M90.5 186.3h0M89.8 186.9h0M89.9 191.2h0M90.8 201.8h0M88.5 211.1h0M89.8 183.0h0"/><path d="M90.1 180.8h0M88.8 157.0h0M90.5 185.7h0M90.7 172.6h0M90.1 204.6h0M90.8 179.6h0M90.7 200.1h0M88.8 156.9h0M91.0 166.7h0M89.5 218.3h0M91.2 202.7h0M89.3 182.9h0M89.7 179.6h0M88.8 192.8h0M89.2 158.3h0M89.7 171.6h0M89.3 207.4h0M89.6 188.5h0M91.0 165.2h0M90.9 172.5h0M89.6 217.6h0M89.0 182.6h0M91.0 167.2h0M90.0 173.4h0M88.7 187.2h0M90.2 205.1h0M89.7 189.9h0M90.3 201.9h0M89.4 188.7h0M89.0 171.9h0M90.4 186.5h0M89.7 174.8h0M90.0 189.3h0M90.7 192.6h0M91.2 178.5h0M89.7 200.6h0M90.4 203.0h0"/><path d="M90.5 180.5h0M90.0 181.1h0M91.2 206.5h0M88.6 192.4h0M89.2 191.8h0M89.7 196.1h0M90.7 198.7h0M89.3 218.0h0M88.5 179.0h0M88.9 176.4h0M90.3 201.8h0M91.3 184.8h0M89.8 176.0h0M88.6 192.0h0M88.7 203.4h0M89.8 187.8h0M89.7 184.8h0M88.6 157.0h0M89.0 179.3h0M89.4 194.5h0M91.2 169.6h0M91.3 191.7h0M89.0 213.3h0M90.6 180.2h0M89.5 152.0h0M90.8 168.7h0M89.9 179.7h0M91.0 181.6h0M89.8 184.4h0M90.7 174.8h0M90.5 184.1h0M90.1 193.1h0M89.2 216.5h0M89.6 188.9h0M90.3 208.3h0M90.7 187.9h0M89.5 179.9h0"/><path d="M90.5 167.4h0M90.2 176.4h0M89.7 179.3h0M90.4 187.3h0M90.5 181.7h0M88.7 213.6h0M89.7 166.0h0M91.1 198.3h0M88.5 173.2h0M90.0 185.3h0M90.4 154.1h0M90.0 165.2h0M90.4 176.5h0M90.4 185.1h0M90.2 182.0h0M90.4 208.2h0M89.8 182.6h0M89.7 172.2h0M89.3 195.3h0M88.6 166.7h0M89.9 216.6h0M90.4 212.4h0M90.8 190.7h0M90.8 206.5h0M90.3 190.3h0M89.9 210.8h0M90.7 205.8h0M89.1 190.2h0M91.3 198.9h0M88.7 184.4h0M90.1 185.1h0M89.4 170.5h0M88.8 190.3h0M89.1 183.4h0M90.5 184.3h0M90.7 182.4h0"/></g>
<g stroke="rgb(0,0,240)" stroke-opacity="0.4"><path d="M96.2 178.3h0M94.3 202.3h0M95.2 185.3h0"/><path d="M94.0 187.8h0M95.6 190.7h0"/><path d="M95.4 191.0h0M95.1 204.9h0"/><path d="M94.7 183.9h0M95.2 181.9h0"/><path d="M93.8 184.7h0M94.7 203.0h0"/></g>
<g stroke="rgb(240,0,0)" stroke-opacity="0.4"><path d="M99.1 176.4h0M101.2 191.7h0M99.7 185.5h0M101.5 191.5h0M101.0 176.1h0M101.9 182.9h0M101.7 164.5h0M100.2 173.9h0M100.3 181.4h0M99.1 162.3h0M99.6 176.8h0M101.1 184.7h0M100.8 193.9h0M99.8 179.9h0M101.7 181.5h0M101.0 190.3h0M99.6 189.2h0M101.2 183.7h0M101.2 189.6h0M99.1 186.7h0M99.3 173.3h0M100.3 155.6h0M99.7 169.5h0M99.3 163.8h0M101.4 171.3h0M100.5 166.8h0M100.5 189.6h0M101.6 179.9h0M101.3 180.4h0M101.7 169.1h0M100.6 172.6h0"/><path d="M99.3 181.9h0M100.5 166.0h0M99.7 170.4h0M101.7 172.9h0M100.6 174.1h0M101.0 181.8h0M100.8 179.8h0M101.4 181.1h0M100.6 172.2h0M99.4 164.4h0M101.2 178.9h0M100.0 167.8h0M100.9 167.4h0M100.3 184.2h0M100.5 189.8h0M101.6 188.0h0M99.4 182.7h0M101.6 173.4h0M101.5 159.0h0M99.7 192.2h0M100.4 169.4h0M99.5 156.7h0M99.7 179.2h0M99.9 175.7h0M99.1 183.9h0M100.3 172.4h0M99.6 183.8h0M101.4 185.9h0M100.5 159.4h0M99.4 174.0h0M101.1 177.9h0"/><path d="M99.2 179.0h0M99.3 180.2h0M101.1 182.0h0M100.7 189.6h0M100.5 184.6h0M99.8 181.8h0M101.4 186.2h0M100.3 184.9h0M99.4 177.0h0M101.4 188.2h0M100.4 171.7h0M99.4 178.9h0M101.1 171.3h0M99.1 181.6h0M99.6 170.6h0M100.9 193.1h0M99.2 169.2h0M100.9 160.8h0M99.3 185.2h0M101.9 183.4h0M99.6 194.7h0M101.3 173.5h0M99.4 160.1h0M101.6 160.8h0M101.1 185.3h0M101.4 186.8h0M101.9 172.1h0M100.4 173.4h0M100.9 190.1h0M101.8 172.2h0M100.5 172.6h0"/><path d="M100.3 192.7h0M101.8 162.7h0M101.2 175.5h0M100.3 179.3h0M100.9 183.1h0M100.5 191.2h0M101.5 175.5h0M99.5 185.3h0M99.3 177.1h0M100.0 178.0h0M101.3 190.4h0M100.2 174.3h0M100.3 184.3h0M99.2 175.5h0M101.5 188.3h0M101.9 167.1h0M100.0 170.7h0M99.2 173.9h0M100.0 182.7h0M100.8 170.2h0M100.0 180.5h0M99.7 168.3h0M101.6 166.5h0M99.6 187.3h0M99.4 162.4h0M101.3 170.5h0M100.6 163.4h0M101.3 174.1h0M101.5 171.7h0M101.7 160.4h0"/><path d="M100.5 158.2h0M100.7 165.5h0M99.7 179.7h0M101.1 181.2h0M99.4 173.5h0M101.3 166.8h0M101.3 158.7h0M100.8 174.3h0M99.4 165.3h0M101.1 183.9h0M101.2 170.4h0M99.2 165.6h0M99.6 184.6h0M101.5 182.9h0M100.7 175.7h0M99.7 185.0h0M100.9 170.6h0M99.8 180.0h0M99.2 177.3h0M101.3 163.5h0M99.8 187.7h0M100.1 171.1h0M100.8 168.7h0M99.6 173.6h0M99.7 157.5h0M100.4 186.4h0M100.3 181.7h0M99.9 178.5h0M100.2 174.0h0M99.6 180.2h0"/></g>
<g stroke="rgb(240,0,0)" stroke-opacity="0.4"><path d="M105.4 182.4h0M104.7 186.6h0M105.9 207.1h0M105.5 182.0h0M106.6 190.7h0M104.5 167.4h0M105.2 204.9h0M105.6 179.7h0M105.5 196.7h0M105.0 199.7h0M107.1 184.2h0M105.1 179.1h0M106.7 172.3h0M105.1 195.7h0M106.7 179.8h0M106.1 211.0h0M104.4 186.1h0M106.3 194.6h0M106.7 197.8h0M104.6 212.3h0M106.6 188.8h0M107.2 172.3h0M105.8 179.4h0M107.0 191.3h0M104.4 180.2h0M105.6 182.0h0M105.3 168.6h0M106.5 186.8h0M105.8 176.6h0M105.7 208.0h0M104.7 188.5h0M104.5 180.9h0M105.3 194.8h0M104.9 199.6h0M105.7 167.9h0M106.5 162.1h0M106.7 186.1h0M104.7 184.6h0M106.0 178.3h0M106.3 169.5h0M105.5 208.0h0M105.0 176.3h0M106.7 196.8h0M105.0 167.2h0M106.5 180.1h0M104.7 173.3h0M107.1 174.3h0M105.2 172.8h0M105.4 205.3h0M105.0 172.6h0M105.0 183.9h0M105.8 189.2h0M106.5 194.5h0M105.1 181.1h0M106.1 177.9h0M105.2 183.4h0M105.8 179.7h0M106.0 174.8h0M105.1 178.4h0M105.6 182.5h0M106.4 178.5h0M105.9 185.4h0M105.9 199.4h0M104.8 206.3h0M106.8 185.8h0M106.1 208.4h0M106.2 209.4h0M106.4 194.1h0M107.0 186.7h0M105.5 198.6h0M105.4 206.9h0M105.9 182.8h0M106.6 191.3h0M104.8 174.3h0M104.8 186.0h0M104.8 184.6h0M105.9 190.5h0M107.1 197.5h0M104.4 178.3h0M104.9 179.4h0M105.0 190.8h0M107.2 174.7h0M106.8 177.4h0M106.2 195.1h0M107.2 164.5h0M104.4 173.2h0M104.5 182.8h0M104.9 166.2h0M106.2 189.6h0M106.4 199.9h0M106.4 199.1h0M106.3 186.8h0M106.5 186.0h0M106.6 190.0h0M104.7 178.7h0M106.0 188.5h0M106.4 185.4h0M106.7 180.9h0M106.3 211.8h0M105.5 199.7h0M105.8 197.5h0M105.4 186.5h0M104.5 180.5h0M104.4 196.0h0"/><path d="M106.5 178.5h0M105.2 171.3h0M106.5 212.0h0M105.8 172.4h0M106.0 169.9h0M104.4 182.4h0M107.0 184.7h0M105.0 185.0h0M104.8 168.5h0M105.4 185.3h0M106.9 176.8h0M105.7 197.8h0M106.3 199.6h0M104.4 206.0h0M105.9 185.6h0M104.8 181.5h0M106.2 211.9h0M106.6 212.2h0M104.5 177.1h0M104.5 167.7h0M106.3 179.2h0M106.1 205.0h0M107.2 183.1h0M106.6 167.6h0M106.7 185.7h0M105.7 196.2h0M106.1 178.2h0M107.0 166.5h0M105.1 195.7h0M106.9 172.8h0M104.4 204.6h0M105.5 183.0h0M104.5 194.0h0M106.5 199.2h0M105.5 170.7h0M104.5 190.5h0M105.7 206.6h0M105.1 204.8h0M105.0 188.6h0M105.1 173.5h0M105.2 201.4h0M105.2 213.1h0M105.5 183.5h0M104.5 178.1h0M106.2 212.6h0M107.0 187.6h0M106.5 202.0h0M104.9 165.3h0M106.9 192.1h0M107.2 178.6h0M105.3 205.4h0M105.0 175.2h0M106.9 178.1h0M105.5 191.2h0M106.8 187.1h0M105.8 207.2h0M107.0 206.6h0M105.9 202.0h0M105.8 212.8h0M104.5 181.8h0M104.5 187.4h0M106.8 192.3h0M107.2 168.5h0M104.6 191.4h0M106.0 196.8h0M105.7 192.0h0M104.9 195.0h0M106.9 177.7h0M105.9 160.5h0M104.8 180.3h0M105.1 203.0h0M104.9 178.3h0M107.1 190.0h0M106.2 188.6h0M104.4 177.2h0M104.9 192.1h0M105.0 174.6h0M105.2 203.2h0M106.0 171.1h0M107.1 178.9h0M104.9 190.4h0M106.8 176.0h0M107.2 195.7h0M106.3 179.7h0M106.1 197.4h0M105.5 168.2h0M107.2 187.1h0M106.3 187.0h0M107.0 187.7h0M105.0 166.1h0M104.8 180.8h0M105.3 173.5h0M107.2 184.2h0M104.4 195.4h0M104.5 180.8h0M104.4 194.1h0M106.2 171.2h0M104.8 198.0h0M105.1 196.1h0M105.5 172.7h0M104.6 177.1h0M105.8 179.5h0M106.3 182.3h0M104.9 179.9h0"/><path d="M106.2 205.5h0M105.5 184.7h0M106.9 193.1h0M107.0 182.8h0M104.6 175.9h0M105.9 187.8h0M105.9 189.0h0M104.8 182.0h0M105.3 179.5h0M104.9 178.0h0M104.5 194.6h0M107.0 208.3h0M105.9 199.5h0M106.1 178.7h0M106.3 180.4h0M105.8 183.9h0M106.6 177.4h0M105.0 199.7h0M106.8 179.9h0M106.5 178.0h0M104.8 182.2h0M107.2 185.2h0M104.9 182.1h0M104.7 178.6h0M105.5 199.6h0M104.7 188.4h0M106.4 183.4h0M106.7 183.5h0M106.0 172.3h0M105.3 205.8h0M104.6 177.0h0M104.9 192.4h0M105.2 196.9h0M105.8 177.8h0M105.9 172.2h0M105.0 172.1h0M105.6 185.4h0M106.2 169.8h0M106.0 191.5h0M104.4 192.1h0M105.9 177.9h0M107.2 190.7h0M106.3 188.0h0M106.4 212.9h0M106.0 182.6h0M105.8 184.1h0M106.0 170.1h0M106.2 201.8h0M105.9 175.2h0M104.7 197.6h0M107.1 206.1h0M106.9 193.1h0M104.9 179.1h0M107.1 189.8h0M105.8 178.7h0M105.7 197.0h0M104.5 196.2h0M106.0 178.5h0M106.0 173.2h0M105.9 212.3h0M106.4 196.8h0M105.2 185.3h0M107.2 168.8h0M106.6 179.6h0M105.9 183.6h0M106.6 181.6h0M106.3 196.1h0M106.5 213.9h0M106.7 183.4h0M105.6 201.4h0M106.8 184.5h0M104.6 207.8h0M105.9 182.6h0M105.1 184.3h0M104.4 210.8h0M106.3 195.5h0M105.5 184.2h0M104.9 208.4h0M106.0 179.5h0M104.6 180.7h0M105.7 164.1h0M105.2 185.0h0M104.7 180.7h0M105.8 199.5h0M105.0 170.2h0M106.1 197.1h0M105.4 179.0h0M104.9 187.8h0M106.6 207.6h0M107.0 185.4h0M104.7 184.0h0M106.0 184.8h0M105.0 168.6h0M105.2 192.4h0M105.1 187.3h0M104.9 206.1h0M105.2 180.6h0M104.6 209.9h0M106.1 186.7h0M104.9 192.8h0M104.9 187.5h0M104.7 180.9h0M107.0 181.6h0M106.7 197.0h0"/><path d="M105.9 176.5h0M105.6 204.5h0M105.5 199.9h0M106.8 211.7h0M105.3 194.9h0M106.4 212.9h0M106.4 179.2h0M104.4 178.1h0M104.9 184.4h0M106.8 204.2h0M105.9 188.1h0M105.8 179.8h0M107.2 210.2h0M104.6 197.3h0M105.1 192.8h0M106.9 180.3h0M106.2 182.1h0M107.1 181.1h0M105.4 171.4h0M104.5 212.7h0M105.9 182.8h0M105.3 187.1h0M107.1 184.1h0M106.3 182.0h0M107.2 179.9h0M105.7 173.5h0M106.2 183.0h0M104.4 183.0h0M104.4 188.4h0M106.2 192.8h0M104.7 202.0h0M104.9 169.5h0M106.9 175.8h0M106.8 182.5h0M104.4 193.8h0M105.5 185.6h0M106.1 178.4h0M106.3 174.5h0M106.1 188.9h0M107.2 210.0h0M104.6 174.0h0M104.8 189.9h0M104.7 204.5h0M105.5 204.3h0M107.1 172.2h0M105.9 180.6h0M106.1 203.0h0M104.4 198.6h0M106.1 189.8h0M106.9 191.4h0M105.0 171.6h0M104.8 178.1h0M105.5 212.5h0M104.9 168.1h0M106.4 189.9h0M106.8 173.3h0M107.0 176.3h0M107.2 206.0h0M104.5 199.4h0M104.8 183.2h0M106.4 192.8h0M106.8 179.0h0M105.0 200.3h0M105.4 205.7h0M106.7 187.1h0M106.1 185.6h0M106.1 189.4h0M107.1 171.9h0M104.8 200.2h0M104.8 201.1h0M106.1 209.6h0M104.8 188.8h0M106.8 166.7h0M104.7 184.9h0M105.5 177.6h0M106.3 191.9h0M105.7 188.9h0M106.1 181.9h0M107.0 183.0h0M105.9 186.4h0M106.1 199.1h0M105.4 186.6h0M106.5 202.2h0M105.2 178.9h0M106.3 210.0h0M106.4 206.0h0M104.8 175.9h0M104.5 172.6h0M104.4 200.8h0M106.2 164.5h0M105.4 201.0h0M105.6 178.9h0M104.8 179.8h0M107.0 211.7h0M106.5 166.2h0M105.2 183.9h0M106.4 167.3h0M106.4 183.6h0M105.8 187.8h0M106.9 200.4h0M106.4 183.7h0M105.3 183.3h0M105.0 199.7h0M104.9 184.0h0"/><path d="M107.2 172.8h0M105.1 198.5h0M104.8 191.2h0M106.0 168.7h0M104.6 199.6h0M104.8 177.6h0M104.8 192.2h0M105.7 190.2h0M106.5 171.5h0M106.9 179.7h0M107.2 194.9h0M104.9 210.8h0M105.9 185.1h0M105.1 170.7h0M105.5 179.3h0M105.3 203.4h0M106.3 195.9h0M107.0 180.7h0M105.7 177.6h0M104.9 208.0h0M104.6 193.9h0M106.8 184.9h0M106.8 173.7h0M105.5 197.8h0M105.8 174.0h0M105.8 178.8h0M106.3 209.9h0M105.0 188.5h0M107.2 185.0h0M106.3 188.9h0M105.1 204.5h0M105.4 181.4h0M106.8 198.6h0M106.0 171.1h0M105.7 169.7h0M105.7 174.7h0M104.8 207.5h0M106.3 172.6h0M104.7 180.7h0M104.4 187.8h0M104.8 185.0h0M107.1 181.2h0M106.2 172.1h0M105.9 193.1h0M105.3 167.9h0M106.1 166.7h0M106.3 181.2h0M106.2 183.3h0M107.2 179.7h0M105.6 170.8h0M105.3 180.6h0M105.3 178.6h0M104.9 200.1h0M106.7 189.4h0M104.8 181.5h0M105.2 210.5h0M105.9 174.0h0M105.8 183.6h0M106.2 200.2h0M104.7 205.6h0M107.1 173.5h0M104.8 188.0h0M106.9 213.7h0M105.6 192.0h0M105.0 191.2h0M106.9 183.1h0M106.2 180.0h0M105.9 191.7h0M104.5 201.2h0M106.3 183.7h0M106.8 180.6h0M106.9 203.1h0M104.9 173.8h0M107.2 185.1h0M106.7 179.3h0M105.5 203.0h0M104.4 178.8h0M106.5 195.7h0M105.8 166.7h0M105.6 205.1h0M107.2 181.9h0M104.7 204.9h0M106.2 191.7h0M105.4 192.2h0M105.1 212.0h0M105.2 184.4h0M104.7 174.8h0M107.1 179.2h0M107.2 199.7h0M106.0 180.1h0M106.4 189.3h0M105.5 183.3h0M106.7 183.0h0M104.5 200.8h0M106.7 176.4h0M106.0 187.4h0M106.0 180.0h0M106.1 186.9h0M105.3 207.4h0M106.8 182.3h0M105.3 196.4h0M104.5 187.5h0M105.0 211.3h0M106.7 203.8h0"/></g>
<g stroke="rgb(0,0,240)" stroke-opacity="0.4"><path d="M111.0 186.2h0M110.8 203.8h0M109.7 195.5h0M110.5 192.9h0M110.5 197.3h0M111.4 184.7h0M111.9 185.6h0M110.4 187.4h0M110.7 187.6h0"/><path d="M110.3 184.0h0M111.7 186.0h0M110.5 184.2h0M112.5 200.9h0M110.5 186.2h0M112.5 201.0h0M111.2 192.7h0M110.5 186.9h0M110.4 200.2h0"/><path d="M110.2 200.1h0M111.4 202.7h0M110.3 186.7h0M112.4 203.2h0M110.4 195.7h0M109.7 201.0h0M111.4 189.6h0M110.1 199.3h0M110.6 191.6h0"/><path d="M112.3 186.9h0M112.1 201.9h0M111.4 198.1h0M111.5 182.0h0M111.1 193.0h0M111.7 202.9h0M110.3 189.0h0M110.6 193.1h0M110.1 182.2h0"/><path d="M112.5 197.5h0M110.1 200.7h0M110.7 200.7h0M109.9 201.4h0M110.9 202.2h0M109.8 201.2h0M111.3 200.6h0M112.4 194.6h0"/></g>
<g stroke="rgb(240,0,0)" stroke-opacity="0.4"><path d="M115.5 205.6h0M115.2 176.2h0M115.2 190.7h0M117.8 186.8h0M116.1 195.1h0M115.5 173.4h0M115.9 168.9h0M115.9 185.3h0M115.6 181.7h0M117.8 177.8h0M116.3 188.6h0M117.0 189.0h0M116.4 189.2h0M116.3 176.8h0M115.9 192.2h0M115.4 180.6h0M115.5 177.9h0M115.2 180.6h0M117.3 197.9h0M117.2 177.0h0"/><path d="M115.6 173.6h0M117.7 170.6h0M115.1 184.8h0M115.4 181.6h0M117.5 169.1h0M116.6 208.8h0M115.8 182.5h0M115.0 189.4h0M116.1 173.1h0M116.9 200.8h0M116.0 181.5h0M117.5 174.7h0M115.4 182.6h0M116.5 177.1h0M116.1 187.9h0M115.2 167.7h0M116.4 167.8h0M115.0 186.3h0M116.0 175.0h0M115.6 208.8h0"/><path d="M117.1 198.8h0M116.4 182.6h0M117.1 180.0h0M117.1 174.9h0M117.0 185.9h0M116.6 190.8h0M117.0 169.8h0M116.2 169.3h0M116.2 174.9h0M116.6 176.8h0M115.4 209.2h0M117.0 200.5h0M115.7 195.5h0M116.5 170.4h0M115.6 168.6h0M116.1 183.7h0M117.1 167.6h0M117.2 175.6h0M116.1 170.5h0"/><path d="M116.7 202.6h0M117.1 188.9h0M117.7 185.1h0M116.1 206.3h0M117.2 201.4h0M117.5 169.1h0M116.1 188.3h0M115.5 180.1h0M115.8 186.9h0M116.7 185.6h0M115.1 175.2h0M116.0 184.0h0M115.6 192.5h0M116.9 181.7h0M117.3 174.5h0M117.0 183.9h0M115.3 180.4h0M117.8 193.2h0M115.0 183.5h0"/><path d="M115.4 184.6h0M117.6 203.7h0M117.1 180.6h0M117.6 171.7h0M117.3 175.6h0M115.6 187.4h0M117.6 185.1h0M117.5 167.2h0M116.6 190.3h0M117.8 185.9h0M116.2 170.8h0M115.2 179.4h0M117.4 196.4h0M115.1 175.2h0M117.5 174.7h0M117.5 170.3h0M116.4 206.1h0M117.8 179.3h0M115.0 189.7h0"/></g>
<g stroke="rgb(240,0,0)" stroke-opacity="0.4"><path d="M121.6 181.6h0M122.7 199.8h0M122.5 193.1h0M121.0 179.9h0M122.6 209.3h0M122.5 174.2h0M121.5 183.8h0M121.3 180.7h0M120.5 186.2h0M121.7 176.5h0M120.8 199.1h0M122.3 188.0h0M121.1 200.2h0M120.8 198.3h0M121.1 188.3h0M121.0 180.8h0M120.6 184.7h0M121.0 199.5h0M120.3 192.4h0M122.9 201.6h0M121.6 178.8h0M120.6 181.2h0M121.7 162.6h0M122.0 211.1h0M120.5 200.9h0M120.6 181.1h0M122.9 187.2h0M122.5 194.3h0M122.1 186.3h0M122.7 173.8h0M122.7 191.8h0M122.0 170.7h0M120.3 206.1h0M120.6 181.0h0M120.5 167.2h0M120.9 180.5h0M122.5 175.5h0M121.8 177.6h0M120.5 205.7h0M121.5 175.8h0M120.9 185.3h0M120.4 210.7h0M121.4 184.5h0M122.1 201.6h0M120.5 178.2h0M120.3 181.3h0M120.9 170.8h0M121.9 172.1h0M121.3 180.3h0M122.6 183.6h0M120.7 172.1h0M120.9 184.8h0M123.1 178.6h0M120.4 178.7h0M122.7 177.8h0M122.8 168.0h0M121.7 174.8h0M121.3 167.1h0M123.0 191.4h0M122.6 178.7h0M120.6 169.8h0M121.2 210.7h0M121.2 209.2h0M121.7 179.4h0M121.6 199.4h0M121.6 171.8h0M120.5 188.8h0M121.1 183.2h0M121.0 172.9h0M121.4 179.6h0M120.7 188.2h0M122.9 170.2h0M122.2 174.6h0M120.9 201.7h0M121.5 188.2h0M121.5 187.9h0M120.3 173.9h0M121.9 179.7h0M120.4 198.2h0M121.6 195.7h0M122.2 209.1h0M121.4 206.4h0M121.0 172.4h0M121.5 208.8h0M120.6 182.0h0"/><path d="M122.4 188.1h0M122.1 175.7h0M121.6 181.2h0M121.0 204.1h0M123.0 171.4h0M122.5 186.7h0M121.2 197.8h0M122.9 183.1h0M121.9 171.1h0M122.3 178.8h0M121.2 177.0h0M120.8 174.9h0M122.5 173.8h0M121.7 186.1h0M122.8 177.7h0M121.7 169.9h0M120.5 174.1h0M120.5 171.7h0M122.7 198.4h0M121.1 200.4h0M121.5 186.5h0M121.2 205.7h0M121.8 187.0h0M122.9 178.5h0M122.2 186.1h0M120.8 189.7h0M122.4 184.2h0M121.0 210.9h0M122.6 185.2h0M121.1 185.6h0M121.5 178.0h0M121.5 179.0h0M122.4 190.6h0M122.2 180.3h0M120.5 175.2h0M121.9 184.1h0M120.3 188.9h0M122.5 179.9h0M120.6 187.4h0M122.5 186.3h0M122.7 196.0h0M120.8 207.8h0M121.2 180.8h0M122.1 173.4h0M120.8 182.3h0M120.8 173.3h0M121.5 209.5h0M121.9 169.0h0M120.9 168.0h0M122.4 184.6h0M120.4 176.0h0M121.4 184.4h0M121.5 184.9h0M120.5 167.9h0M121.5 201.9h0M121.8 182.0h0M122.3 182.3h0M122.2 186.3h0M122.0 180.1h0M122.2 193.8h0M122.0 204.1h0M122.0 204.2h0M122.8 191.2h0M120.8 175.3h0M121.4 210.2h0M121.2 180.7h0M121.3 199.5h0M120.4 196.1h0M121.3 209.8h0M120.8 190.4h0M122.6 180.7h0M122.3 182.9h0M120.6 178.1h0M122.3 173.9h0M120.9 193.8h0M122.7 170.4h0M120.3 202.5h0M120.3 188.0h0M122.9 171.4h0M120.6 195.1h0M121.0 185.5h0M123.1 172.1h0M120.6 196.6h0M121.1 184.5h0M121.2 196.3h0"/><path d="M121.1 179.7h0M121.7 207.0h0M122.7 200.5h0M123.0 187.7h0M122.0 193.4h0M122.4 179.7h0M121.3 204.3h0M120.5 190.6h0M121.2 209.7h0M121.3 194.4h0M120.9 200.6h0M123.1 173.1h0M121.6 191.4h0M121.4 174.4h0M121.1 190.8h0M122.8 203.3h0M122.6 189.4h0M120.7 179.6h0M121.2 175.9h0M120.4 206.1h0M121.2 180.0h0M120.8 185.4h0M122.3 207.0h0M121.8 179.0h0M120.3 204.3h0M121.1 206.6h0M120.7 175.3h0M121.0 186.4h0M121.8 187.4h0M120.6 182.5h0M122.4 162.2h0M122.2 207.7h0M121.0 176.1h0M123.1 178.8h0M121.3 178.1h0M120.3 195.2h0M122.9 199.4h0M122.8 184.0h0M120.6 201.0h0M120.3 199.9h0M121.1 188.7h0M122.9 179.4h0M120.7 184.1h0M120.3 190.2h0M122.7 205.7h0M121.2 187.7h0M121.1 179.1h0M123.0 177.0h0M120.6 181.8h0M122.2 173.9h0M122.7 186.0h0M122.5 178.8h0M122.1 189.4h0M121.2 203.2h0M121.2 172.3h0M120.8 192.8h0M120.3 210.2h0M122.8 184.0h0M123.1 179.5h0M122.4 191.8h0M121.6 195.9h0M122.8 177.0h0M120.4 169.6h0M121.4 196.2h0M121.2 171.0h0M122.2 174.1h0M121.2 188.4h0M122.1 181.0h0M121.3 174.4h0M122.3 186.4h0M121.8 200.7h0M120.6 195.8h0M122.3 185.1h0M120.4 188.0h0M120.7 178.7h0M120.6 185.5h0M120.3 202.7h0M121.5 184.5h0M120.7 188.5h0M120.3 203.3h0M121.0 174.5h0M120.4 197.0h0M121.2 167.4h0M122.1 188.0h0"/><path d="M122.5 184.9h0M122.7 202.0h0M121.8 197.4h0M120.4 188.3h0M122.8 179.6h0M120.5 209.4h0M121.7 194.8h0M122.9 206.0h0M120.8 177.7h0M120.7 171.8h0M121.5 168.1h0M122.1 172.8h0M120.6 167.2h0M120.5 188.0h0M122.7 183.0h0M120.8 175.2h0M121.2 188.5h0M122.0 182.4h0M123.0 182.0h0M120.6 204.2h0M122.3 170.7h0M122.1 182.3h0M122.8 199.3h0M120.4 201.6h0M121.1 192.0h0M123.1 170.5h0M122.5 176.2h0M120.7 207.7h0M120.9 207.9h0M120.6 173.3h0M123.0 186.8h0M121.9 209.1h0M121.5 196.7h0M122.8 190.9h0M122.0 190.0h0M121.4 171.0h0M122.1 190.9h0M123.0 207.0h0M122.8 172.1h0M120.4 183.6h0M121.3 180.4h0M122.0 168.8h0M123.1 181.3h0M122.8 199.3h0M122.4 174.8h0M121.7 202.5h0M121.8 187.6h0M121.2 209.6h0M122.7 177.2h0M122.4 174.2h0M122.8 188.3h0M122.0 186.4h0M120.6 207.4h0M121.5 190.0h0M120.9 200.4h0M120.6 173.3h0M122.6 173.3h0M121.8 193.7h0M121.4 178.0h0M120.3 162.4h0M121.3 192.0h0M122.7 186.9h0M122.6 187.6h0M122.6 205.8h0M121.9 184.5h0M121.2 211.8h0M121.9 174.9h0M123.0 207.3h0M121.2 184.9h0M122.8 186.5h0M120.4 184.0h0M122.6 191.8h0M122.7 193.6h0M122.1 201.4h0M122.9 169.6h0M122.8 178.0h0M122.2 168.7h0M121.1 181.6h0M122.7 177.4h0M122.2 172.5h0M122.1 201.0h0M122.3 193.9h0M120.5 183.6h0M122.4 175.8h0"/><path d="M121.4 191.4h0M121.7 180.4h0M121.1 187.5h0M120.3 207.1h0M121.4 184.6h0M122.6 186.8h0M121.5 181.1h0M120.5 179.1h0M120.6 177.0h0M123.1 187.6h0M122.3 209.7h0M122.0 171.1h0M121.4 166.3h0M121.8 199.1h0M123.1 200.1h0M121.7 169.3h0M121.0 185.0h0M121.6 172.8h0M121.4 167.7h0M121.0 182.5h0M122.5 174.0h0M123.1 174.7h0M120.7 169.1h0M121.2 203.9h0M120.7 173.2h0M121.7 186.6h0M121.8 186.4h0M121.0 195.4h0M121.4 166.2h0M122.0 194.8h0M121.5 190.4h0M122.6 199.4h0M121.7 196.8h0M123.0 202.4h0M121.2 179.7h0M120.4 205.5h0M120.6 182.1h0M123.1 179.2h0M122.7 185.5h0M122.5 160.8h0M122.5 176.5h0M121.0 196.5h0M122.7 193.7h0M121.9 191.4h0M122.6 183.9h0M120.8 206.8h0M121.3 167.9h0M122.1 207.7h0M121.9 183.1h0M121.1 170.6h0M122.2 170.8h0M122.0 181.1h0M121.1 182.7h0M121.6 190.8h0M121.2 171.5h0M122.8 181.4h0M122.8 174.3h0M122.7 188.7h0M121.6 206.7h0M120.8 185.5h0M120.8 205.3h0M122.6 205.7h0M123.0 166.4h0M121.8 181.2h0M123.1 205.5h0M121.6 171.0h0M122.1 167.8h0M121.3 175.0h0M123.1 172.1h0M122.6 196.7h0M121.6 210.0h0M122.6 187.6h0M120.3 210.6h0M122.5 186.5h0M121.0 200.4h0M120.6 200.5h0M120.7 196.2h0M122.1 194.3h0M121.2 193.4h0M120.7 194.1h0M120.5 183.3h0M120.4 207.9h0M120.3 205.7h0M121.4 180.7h0"/></g>
<g stroke="rgb(240,0,0)" stroke-opacity="0.4"><path d="M126.2 172.0h0M126.1 187.4h0M125.7 179.6h0M127.3 162.8h0M127.8 163.7h0M126.9 180.3h0M128.2 179.1h0M126.1 173.9h0M128.4 180.9h0M126.8 167.2h0M127.2 178.3h0M128.1 189.1h0M125.9 190.9h0M125.6 165.8h0"/><path d="M126.5 184.6h0M125.7 162.2h0M127.9 170.4h0M125.7 171.2h0M126.4 161.3h0M126.0 177.9h0M127.9 180.1h0M126.9 186.4h0M126.8 163.1h0M128.0 174.8h0M127.7 180.9h0M127.5 183.4h0M127.0 175.0h0"/><path d="M127.5 182.9h0M127.4 163.6h0M127.5 183.3h0M125.9 177.9h0M125.8 169.5h0M128.2 188.8h0M126.4 165.2h0M128.3 179.1h0M128.4 174.7h0M126.4 189.3h0M128.2 189.6h0M127.5 182.3h0M126.3 182.0h0"/><path d="M127.7 180.9h0M128.1 179.5h0M127.2 164.3h0M126.1 175.1h0M126.2 184.7h0M127.9 167.3h0M126.0 164.8h0M127.8 175.8h0M126.2 165.5h0M126.0 172.8h0M127.1 183.1h0M125.7 172.7h0M127.5 178.9h0"/><path d="M128.2 174.2h0M127.7 177.6h0M126.0 165.8h0M127.5 164.8h0M126.9 165.1h0M126.7 167.0h0M127.1 182.0h0M128.1 190.9h0M127.0 172.5h0M126.2 188.1h0M127.8 165.2h0M126.7 167.5h0M127.8 173.7h0"/></g>
<g stroke="rgb(0,0,240)" stroke-opacity="0.4"><path d="M131.7 181.3h0M131.9 191.6h0M131.6 190.7h0M131.2 187.4h0M131.0 177.8h0"/><path d="M131.1 187.6h0M133.2 189.9h0M133.2 178.2h0M133.3 180.2h0M133.7 188.1h0"/><path d="M132.1 180.3h0M133.5 178.2h0M132.3 189.6h0M131.0 185.1h0M131.8 177.3h0"/><path d="M133.0 188.3h0M132.3 184.6h0M132.4 189.5h0M132.9 182.9h0M131.7 182.4h0"/><path d="M132.4 180.3h0M131.2 186.6h0M133.2 179.8h0M131.8 188.8h0M132.5 187.4h0"/></g>
<g stroke="rgb(240,0,0)" stroke-opacity="0.4"><path d="M138.4 186.0h0M137.3 179.7h0M138.3 174.1h0M136.6 209.4h0M138.9 171.7h0M138.8 182.1h0M138.9 205.4h0M136.8 198.2h0M136.6 198.4h0M136.8 196.6h0M136.8 175.3h0M138.6 165.5h0M138.5 185.1h0M138.7 194.5h0M137.5 179.3h0M137.6 171.4h0M137.3 176.2h0M138.6 176.6h0M136.4 176.5h0M139.0 183.5h0M137.1 170.6h0M137.3 166.5h0M136.2 168.9h0M138.9 173.1h0M137.6 179.8h0M137.6 163.9h0M137.1 184.5h0M137.0 194.3h0M136.2 165.7h0M137.7 175.4h0M138.3 168.1h0M138.2 176.5h0M138.9 173.3h0M136.8 184.4h0M138.5 180.9h0M137.1 194.7h0M138.9 209.6h0M138.5 165.9h0M138.7 173.6h0M137.0 158.1h0M137.2 169.4h0M138.0 178.5h0M136.6 193.2h0M137.2 168.6h0M137.9 199.0h0M138.1 178.9h0M138.1 176.1h0M138.1 176.9h0M138.0 170.0h0M138.5 195.9h0M136.8 187.8h0M136.7 189.6h0M136.9 170.8h0M138.6 179.3h0M139.0 171.8h0M137.4 184.7h0M138.1 196.6h0M137.8 182.0h0M137.1 181.7h0M136.7 174.9h0M137.3 175.3h0M137.6 182.3h0M136.8 180.1h0M137.7 194.6h0M138.9 198.8h0M137.1 164.5h0M136.8 171.0h0M138.3 182.8h0M137.7 164.3h0M138.7 159.8h0M138.0 178.9h0M136.6 181.6h0M138.8 158.0h0M138.7 182.1h0M138.5 167.1h0M137.3 164.1h0M136.9 168.6h0M137.2 178.2h0M138.3 189.3h0M137.7 176.4h0M137.6 168.3h0M139.0 174.0h0M138.3 183.5h0M139.0 195.6h0M137.0 179.9h0M138.8 166.9h0M138.8 178.8h0M137.5 182.9h0M137.0 180.8h0M136.5 187.8h0M136.3 166.1h0M138.9 190.3h0M136.7 188.0h0M137.7 185.7h0M138.8 181.4h0M136.8 178.4h0M137.1 209.8h0M138.8 180.7h0M137.2 171.8h0M137.6 200.2h0M136.7 194.9h0M136.4 171.8h0M136.2 175.1h0M137.8 180.1h0M137.9 172.6h0M138.5 176.0h0M138.9 178.8h0"/><path d="M137.2 161.3h0M136.2 181.5h0M138.1 195.7h0M138.8 184.0h0M137.4 177.0h0M137.6 184.3h0M137.9 175.5h0M136.7 183.2h0M136.3 171.1h0M138.2 170.1h0M136.8 183.6h0M136.2 187.8h0M138.0 204.8h0M137.1 186.9h0M137.3 179.9h0M136.3 174.2h0M136.3 180.2h0M136.7 207.2h0M138.6 184.9h0M136.3 193.5h0M137.3 200.0h0M136.3 177.9h0M138.1 174.6h0M139.0 183.4h0M136.2 179.4h0M138.4 173.7h0M138.0 167.1h0M136.7 165.6h0M137.9 211.1h0M137.0 207.2h0M137.5 169.5h0M138.2 171.4h0M138.6 192.1h0M138.2 164.5h0M138.4 190.9h0M138.0 167.6h0M137.3 169.0h0M138.5 175.6h0M138.8 179.4h0M138.1 167.4h0M136.3 177.4h0M138.6 181.9h0M139.0 191.2h0M138.9 167.4h0M138.7 182.9h0M139.0 173.0h0M137.6 190.0h0M138.6 183.1h0M138.5 202.2h0M136.5 169.9h0M137.9 165.8h0M137.6 194.1h0M137.7 161.2h0M137.6 173.9h0M136.2 176.5h0M136.3 175.7h0M138.1 185.7h0M136.5 166.7h0M137.7 167.3h0M137.8 196.3h0M137.6 204.5h0M137.1 181.5h0M138.8 166.6h0M138.5 173.7h0M137.7 161.6h0M137.2 179.3h0M138.9 173.6h0M138.5 176.6h0M136.8 183.4h0M138.8 183.1h0M139.0 189.4h0M138.5 170.9h0M138.5 175.1h0M137.4 193.9h0M137.6 176.6h0M137.2 168.2h0M136.9 182.7h0M137.6 168.2h0M138.2 167.9h0M136.9 179.3h0M136.7 186.9h0M136.5 177.4h0M136.6 175.9h0M138.9 182.3h0M137.9 179.9h0M136.2 191.8h0M137.7 181.3h0M137.5 177.4h0M138.4 175.6h0M137.8 185.3h0M137.9 171.6h0M138.3 178.2h0M136.5 175.4h0M136.7 167.8h0M137.1 182.4h0M138.4 162.5h0M139.0 178.8h0M136.7 184.7h0M137.3 169.8h0M136.6 185.0h0M138.8 174.3h0M138.6 178.9h0M137.8 202.2h0M137.7 191.2h0M138.5 197.9h0M138.7 186.1h0M137.6 188.0h0"/><path d="M138.2 197.8h0M138.3 187.4h0M138.9 176.2h0M138.2 192.1h0M138.4 183.1h0M136.8 179.6h0M136.8 169.8h0M137.5 185.7h0M139.0 189.0h0M137.0 178.5h0M138.7 209.2h0M137.8 163.7h0M137.2 169.7h0M138.2 183.5h0M138.4 178.0h0M139.0 177.9h0M138.5 180.3h0M137.4 179.7h0M138.4 168.9h0M136.7 182.9h0M137.8 191.4h0M136.2 175.8h0M136.6 178.2h0M136.7 162.1h0M137.4 163.8h0M136.5 175.0h0M137.0 170.6h0M136.2 184.8h0M138.9 175.1h0M138.9 178.7h0M137.1 174.6h0M138.4 187.4h0M136.2 173.0h0M137.3 192.2h0M138.7 192.2h0M137.7 184.0h0M138.9 180.8h0M136.9 197.7h0M136.3 178.9h0M137.0 180.0h0M138.9 198.4h0M136.4 179.3h0M138.4 188.1h0M137.3 181.8h0M139.0 172.0h0M137.8 178.4h0M136.6 176.2h0M137.2 179.2h0M138.8 175.4h0M136.7 173.9h0M137.6 194.1h0M137.0 160.1h0M136.2 190.7h0M138.9 169.1h0M138.7 187.4h0M138.3 184.2h0M137.8 183.3h0M138.8 183.4h0M137.9 198.9h0M136.4 178.9h0M138.1 188.5h0M136.8 187.8h0M136.2 188.0h0M136.8 177.4h0M138.6 173.9h0M136.5 176.8h0M138.4 177.7h0M136.6 166.0h0M138.0 176.0h0M137.2 168.5h0M138.0 175.3h0M136.2 182.7h0M138.7 161.2h0M136.2 176.5h0M138.4 181.5h0M137.2 187.5h0M138.3 186.4h0M136.9 168.2h0M138.8 182.7h0M136.5 180.3h0M136.8 172.6h0M136.4 175.2h0M138.6 172.7h0M138.4 197.0h0M136.3 164.9h0M137.0 165.8h0M136.6 189.1h0M139.0 173.5h0M137.8 170.0h0M137.9 169.9h0M137.0 205.6h0M137.7 189.5h0M137.6 187.1h0M137.2 192.4h0M138.2 187.5h0M137.0 199.5h0M137.3 169.1h0M137.3 173.3h0M139.0 178.1h0M138.7 189.7h0M136.5 184.7h0M138.9 170.7h0M139.0 184.6h0M136.2 173.4h0M138.7 189.8h0M138.2 164.2h0M136.8 165.2h0"/><path d="M137.4 167.1h0M137.6 176.6h0M138.2 199.9h0M136.2 178.5h0M137.0 165.2h0M138.8 171.2h0M138.3 180.1h0M137.6 168.7h0M136.6 183.2h0M136.2 168.6h0M138.0 190.2h0M137.9 181.7h0M138.6 177.1h0M138.6 180.8h0M136.8 178.7h0M138.0 203.0h0M136.2 195.4h0M138.2 203.8h0M137.1 210.5h0M137.2 177.3h0M136.4 179.0h0M137.2 175.4h0M137.2 187.0h0M136.9 188.2h0M137.1 170.5h0M137.6 193.9h0M138.4 178.5h0M137.5 175.6h0M137.0 185.5h0M138.6 173.9h0M137.1 184.4h0M136.5 202.7h0M138.9 174.9h0M138.6 179.1h0M138.3 194.0h0M137.0 175.1h0M138.1 196.9h0M138.5 203.1h0M138.5 196.8h0M137.8 183.4h0M138.1 177.2h0M138.6 179.9h0M137.0 183.3h0M137.2 177.0h0M136.7 169.9h0M138.4 184.3h0M137.0 173.7h0M136.8 185.5h0M136.9 178.5h0M137.5 208.4h0M137.0 173.5h0M137.7 187.3h0M138.4 182.2h0M137.1 189.6h0M138.9 167.4h0M138.5 176.6h0M138.5 171.4h0M137.8 178.5h0M136.2 189.3h0M138.8 204.6h0M137.3 199.9h0M138.8 190.4h0M137.0 173.9h0M136.8 175.6h0M138.8 203.0h0M137.0 181.0h0M136.2 181.7h0M138.0 178.9h0M138.1 190.8h0M137.2 191.3h0M137.5 171.1h0M138.1 176.3h0M138.4 178.2h0M138.7 166.6h0M138.9 197.0h0M138.5 191.1h0M136.2 202.4h0M136.9 177.3h0M136.8 181.1h0M138.1 174.1h0M138.2 167.8h0M136.9 171.4h0M137.6 176.3h0M138.8 192.0h0M137.6 167.0h0M138.2 201.0h0M137.0 190.2h0M139.0 177.2h0M137.4 166.7h0M136.9 184.1h0M137.3 199.8h0M137.0 177.8h0M136.8 166.8h0M138.6 173.3h0M138.6 178.5h0M137.3 204.1h0M137.3 175.9h0M138.9 191.3h0M137.1 184.5h0M138.9 181.6h0M137.2 180.2h0M137.7 175.2h0M138.8 202.8h0M136.9 205.4h0M137.0 170.6h0M136.4 170.0h0"/><path d="M138.6 180.3h0M138.9 194.7h0M138.8 177.8h0M137.3 175.3h0M136.6 209.5h0M138.7 204.7h0M137.6 167.0h0M137.3 184.1h0M138.8 191.0h0M137.4 176.4h0M136.9 175.0h0M139.0 158.4h0M136.9 174.2h0M138.0 192.1h0M138.9 190.2h0M136.8 196.0h0M136.5 206.4h0M138.2 174.8h0M138.0 186.6h0M136.4 176.9h0M136.8 188.3h0M138.5 169.8h0M138.2 175.3h0M138.0 182.5h0M137.6 199.3h0M136.3 178.9h0M137.5 173.1h0M136.8 200.9h0M137.5 174.1h0M139.0 179.1h0M136.6 192.3h0M138.8 197.9h0M138.8 172.3h0M136.9 183.6h0M137.4 181.9h0M137.0 174.6h0M138.7 208.1h0M138.6 182.5h0M138.5 182.7h0M137.1 176.5h0M136.5 202.5h0M138.1 182.6h0M137.1 194.7h0M138.4 178.9h0M136.8 180.2h0M137.7 192.9h0M138.0 183.6h0M137.6 204.8h0M136.4 172.5h0M137.2 178.9h0M137.3 182.3h0M137.6 164.2h0M137.9 178.3h0M137.9 183.9h0M138.0 181.9h0M136.9 188.6h0M138.3 191.9h0M136.2 172.8h0M137.5 179.5h0M136.8 173.7h0M136.4 176.3h0M137.5 181.4h0M136.9 178.8h0M136.8 196.0h0M138.4 182.1h0M137.0 197.4h0M138.5 173.3h0M137.7 200.0h0M136.6 205.0h0M136.8 162.3h0M137.4 176.8h0M137.0 192.9h0M137.9 175.9h0M138.1 181.2h0M137.7 206.3h0M136.4 182.6h0M138.8 178.9h0M136.8 181.2h0M138.7 169.0h0M138.6 176.3h0M137.5 175.7h0M136.7 186.6h0M136.7 182.5h0M136.5 199.2h0M136.5 181.2h0M138.3 168.1h0M138.2 180.3h0M138.7 174.1h0M138.5 199.3h0M137.8 174.3h0M137.9 200.0h0M137.2 184.2h0M137.7 180.1h0M138.8 190.1h0M137.9 175.7h0M138.7 175.2h0M138.2 201.5h0M136.8 199.4h0M137.9 200.7h0M138.3 203.8h0M138.7 163.9h0M138.1 175.9h0M137.8 178.9h0M137.7 170.1h0M137.3 197.8h0M139.0 204.8h0"/></g>
<g stroke="rgb(0,0,240)" stroke-opacity="0.4"><path d="M144.2 180.0h0M143.0 174.4h0M143.0 175.6h0M143.0 184.4h0M143.3 175.8h0M143.0 174.6h0M143.2 181.4h0M142.0 177.0h0M142.7 191.9h0M141.7 182.1h0M142.3 190.6h0M142.3 178.0h0M144.0 190.5h0M143.0 191.9h0M143.7 183.0h0"/><path d="M144.3 179.5h0M143.7 191.0h0M144.2 189.1h0M141.8 187.3h0M142.6 183.5h0M141.5 174.3h0M142.5 181.0h0M142.6 177.0h0M141.5 175.3h0M143.5 175.1h0M143.0 175.6h0M144.3 176.9h0M143.0 191.7h0M144.3 186.5h0M143.6 188.2h0"/><path d="M142.6 177.4h0M143.5 178.3h0M144.3 184.6h0M142.2 192.3h0M143.5 174.7h0M142.6 176.1h0M143.7 192.8h0M142.9 172.3h0M143.0 192.6h0M142.0 173.4h0M143.5 191.7h0M141.8 175.2h0M143.8 189.1h0M143.7 180.2h0"/><path d="M144.1 176.6h0M142.8 188.1h0M142.9 189.7h0M143.7 176.0h0M141.6 177.9h0M141.9 189.7h0M143.4 185.7h0M143.0 186.3h0M143.7 189.8h0M144.0 184.2h0M143.7 192.1h0M143.1 185.1h0M142.8 176.9h0M142.6 174.4h0"/><path d="M142.1 186.6h0M142.7 176.2h0M143.9 176.3h0M143.2 182.3h0M141.6 189.7h0M142.5 190.8h0M142.9 189.0h0M142.9 188.7h0M143.2 191.6h0M142.0 178.2h0M142.2 183.9h0M143.4 179.6h0M141.9 177.9h0M143.1 177.3h0"/></g>
<g stroke="rgb(240,0,0)" stroke-opacity="0.4"><path d="M148.7 176.1h0M148.9 175.6h0M147.6 200.5h0M149.3 186.4h0M148.4 169.6h0M149.5 177.7h0M149.1 180.5h0M149.3 207.6h0M148.2 171.1h0M147.0 170.8h0M147.2 186.9h0M149.6 171.8h0M148.5 166.4h0M148.5 181.9h0M148.5 171.9h0M149.5 178.4h0M149.2 185.8h0M147.0 176.0h0M147.8 180.5h0M149.0 178.5h0M149.5 179.6h0M146.8 176.4h0M147.7 171.1h0M149.5 203.6h0M147.9 180.5h0M146.9 170.5h0M147.5 173.1h0M147.0 171.3h0M148.7 184.2h0M149.0 182.8h0M148.7 193.0h0M147.4 182.6h0M149.2 166.5h0M147.0 175.8h0M147.2 186.7h0M149.1 198.7h0M149.6 207.8h0M148.7 202.7h0M147.0 180.4h0M147.7 183.5h0M149.5 168.5h0M147.3 170.9h0M149.4 163.1h0M148.5 165.3h0M147.0 196.4h0M148.2 177.8h0M149.1 177.4h0M148.5 186.6h0M148.2 204.0h0M149.3 195.9h0M147.4 195.7h0M149.0 180.3h0M147.8 167.3h0M147.9 185.2h0M147.8 165.7h0M147.9 186.9h0M147.4 184.6h0M149.5 179.7h0"/><path d="M148.1 187.0h0M147.1 186.7h0M147.9 180.5h0M147.5 196.4h0M147.1 170.2h0M146.9 194.0h0M148.8 178.6h0M148.5 193.0h0M148.1 167.6h0M147.2 193.0h0M147.5 178.0h0M148.1 179.4h0M147.7 203.4h0M147.4 202.2h0M148.5 181.3h0M149.3 199.0h0M146.9 192.6h0M147.0 181.6h0M147.6 175.6h0M148.3 161.7h0M148.7 176.6h0M146.8 205.4h0M148.7 175.2h0M148.6 183.9h0M148.1 179.3h0M148.5 180.4h0M147.9 171.3h0M147.1 186.1h0M149.4 184.7h0M147.8 184.2h0M147.8 190.6h0M149.2 188.1h0M147.7 185.0h0M148.4 199.0h0M147.8 178.7h0M148.5 162.7h0M146.8 165.9h0M146.8 181.7h0M146.8 161.0h0M149.4 202.5h0M147.6 176.5h0M147.0 158.9h0M147.4 188.9h0M147.5 174.9h0M146.8 186.4h0M147.3 165.5h0M147.3 172.1h0M148.5 174.3h0M147.9 186.7h0M147.1 186.9h0M149.2 184.8h0M146.8 182.8h0M147.9 207.9h0M148.8 175.5h0M148.1 190.6h0M149.6 183.2h0M148.4 201.4h0M148.1 160.1h0"/><path d="M147.9 167.0h0M147.9 166.0h0M146.8 177.1h0M146.9 169.6h0M148.8 182.7h0M147.4 201.1h0M147.8 184.6h0M149.4 171.9h0M147.9 181.7h0M147.6 196.2h0M149.1 173.7h0M147.7 165.3h0M148.9 164.3h0M148.3 200.1h0M147.8 185.8h0M149.4 165.5h0M147.3 166.3h0M147.0 169.2h0M148.6 172.6h0M147.7 174.0h0M147.1 182.3h0M147.9 177.5h0M147.9 200.9h0M149.4 171.2h0M148.6 167.3h0M147.5 191.1h0M147.5 204.6h0M148.1 181.7h0M149.4 190.8h0M148.7 183.2h0M148.3 184.6h0M148.7 170.0h0M147.0 163.6h0M149.4 171.0h0M149.6 179.8h0M148.3 188.6h0M147.0 180.2h0M147.1 177.2h0M149.1 175.9h0M149.2 173.5h0M149.3 191.4h0M148.2 179.6h0M147.5 177.1h0M147.1 168.2h0M148.1 163.3h0M146.8 184.1h0M149.1 193.1h0M147.6 178.7h0M147.5 187.8h0M149.3 183.4h0M149.6 177.8h0M147.0 178.7h0M148.5 181.1h0M148.1 179.1h0M149.5 181.9h0M147.1 176.9h0M148.2 174.3h0M147.7 184.0h0"/><path d="M147.5 181.1h0M149.5 175.2h0M147.3 176.7h0M148.3 178.4h0M148.5 200.8h0M149.4 169.7h0M149.2 199.0h0M149.4 169.2h0M147.6 194.2h0M147.1 193.6h0M147.6 190.0h0M147.0 173.8h0M147.2 179.8h0M149.0 188.1h0M149.6 170.5h0M148.9 197.6h0M149.4 185.5h0M148.9 185.2h0M147.8 190.8h0M149.0 204.7h0M148.1 171.8h0M148.3 192.0h0M147.1 180.4h0M146.9 172.1h0M147.8 171.4h0M149.4 185.9h0M148.0 166.0h0M148.1 200.4h0M148.8 175.2h0M149.0 172.8h0M148.6 206.9h0M149.5 199.9h0M148.6 180.2h0M147.0 183.5h0M149.1 185.0h0M149.1 195.8h0M148.9 185.4h0M147.7 159.8h0M149.5 172.9h0M147.0 183.7h0M147.2 174.1h0M147.9 182.6h0M149.3 182.0h0M147.7 198.3h0M148.4 199.3h0M149.1 180.3h0M149.0 175.2h0M148.4 186.2h0M148.8 178.6h0M148.9 179.1h0M147.9 179.7h0M148.1 206.1h0M147.5 170.2h0M148.9 180.5h0M147.3 173.9h0M146.8 179.6h0M148.8 179.3h0M147.0 186.6h0"/><path d="M148.7 161.4h0M146.8 184.9h0M147.0 199.9h0M148.2 179.5h0M147.8 181.9h0M147.9 159.9h0M149.0 181.8h0M147.6 176.0h0M148.4 176.6h0M149.0 183.6h0M148.5 186.2h0M147.3 185.5h0M149.2 192.2h0M149.2 178.3h0M147.5 180.6h0M148.6 187.3h0M147.3 167.6h0M149.0 167.4h0M148.2 178.4h0M148.1 182.1h0M146.9 163.5h0M148.8 179.0h0M148.4 184.2h0M148.8 185.1h0M147.6 194.3h0M148.2 161.7h0M147.7 176.8h0M147.1 186.8h0M147.0 168.9h0M147.5 200.6h0M148.2 165.3h0M147.0 205.9h0M148.8 189.9h0M146.9 165.6h0M148.3 183.3h0M149.1 190.1h0M149.5 176.3h0M149.4 202.5h0M147.8 187.3h0M147.2 178.5h0M148.2 182.4h0M149.1 200.6h0M149.3 185.0h0M149.6 178.8h0M148.7 174.7h0M147.1 191.5h0M149.2 186.9h0M148.5 162.8h0M147.9 180.7h0M148.7 160.2h0M146.9 172.7h0M147.7 174.6h0M147.0 206.2h0M148.7 178.9h0M148.3 178.3h0M148.6 193.5h0M149.6 192.0h0M148.3 183.3h0"/></g>
<g stroke="rgb(0,0,240)" stroke-opacity="0.4"><path d="M152.8 186.4h0M154.8 178.1h0M154.9 187.2h0M153.8 187.8h0M154.0 177.6h0M152.5 178.0h0M152.4 184.9h0"/><path d="M154.5 178.9h0M152.2 190.4h0M152.3 192.0h0M152.4 182.6h0M152.7 178.0h0M153.8 186.5h0M152.4 179.9h0"/><path d="M153.3 187.9h0M152.1 179.0h0M154.7 177.4h0M152.8 178.9h0M154.0 188.6h0M153.7 188.4h0"/><path d="M152.6 180.5h0M154.2 191.2h0M154.5 181.0h0M153.4 182.9h0M153.2 187.4h0M154.9 191.9h0"/><path d="M153.2 181.2h0M154.5 186.7h0M154.7 176.5h0M153.6 190.0h0M152.9 186.9h0M153.4 181.0h0"/></g>
<g stroke="rgb(240,0,0)" stroke-opacity="0.4"><path d="M159.0 174.0h0M157.6 158.2h0M158.2 176.4h0M159.3 176.2h0M157.5 152.4h0M158.8 164.6h0M157.4 166.7h0M158.0 176.0h0M160.0 174.3h0M159.0 192.5h0M158.7 156.9h0M158.8 188.1h0M157.5 144.9h0M159.1 162.9h0M157.6 176.6h0M157.9 153.2h0M159.6 176.4h0M158.7 182.2h0M157.7 158.3h0M158.3 168.4h0M159.5 166.2h0M158.7 157.2h0M157.7 189.1h0M158.3 174.4h0M157.8 172.8h0M158.5 170.9h0M158.9 178.9h0M159.2 176.2h0M159.9 184.3h0M160.0 163.9h0M158.5 174.2h0M158.3 185.6h0M157.4 173.7h0M160.0 170.2h0M157.4 160.4h0"/><path d="M160.2 171.3h0M157.8 166.8h0M159.8 167.5h0M157.9 175.9h0M158.2 170.6h0M158.8 172.5h0M159.0 193.6h0M160.2 200.1h0M158.5 151.5h0M160.0 153.5h0M160.1 172.1h0M160.1 176.8h0M159.1 163.4h0M158.2 170.3h0M158.0 159.5h0M157.7 175.1h0M159.6 161.5h0M159.3 163.0h0M157.6 172.4h0M158.9 169.1h0M159.9 174.7h0M159.3 172.9h0M158.2 165.2h0M159.1 175.0h0M158.5 188.5h0M159.2 156.0h0M159.2 176.6h0M158.4 162.7h0M158.2 159.7h0M158.9 202.4h0M158.8 171.3h0M160.0 203.0h0M157.6 174.1h0M157.7 170.2h0M158.5 167.6h0"/><path d="M157.6 189.6h0M159.8 166.2h0M158.6 191.8h0M157.7 176.6h0M158.9 180.2h0M158.9 175.7h0M158.4 167.6h0M158.8 204.4h0M157.7 156.2h0M160.1 171.6h0M159.9 151.5h0M159.3 176.5h0M159.0 203.9h0M159.8 171.6h0M160.0 162.4h0M157.4 166.9h0M159.9 182.8h0M157.7 188.3h0M159.9 152.8h0M158.7 173.1h0M159.0 165.5h0M158.2 168.9h0M160.2 174.8h0M157.6 171.7h0M158.5 164.8h0M157.4 191.6h0M158.4 164.0h0M158.7 172.8h0M157.4 191.4h0M160.1 176.0h0M158.2 169.6h0M159.3 163.4h0M160.2 176.6h0M157.5 162.8h0M157.9 155.9h0"/><path d="M160.0 188.0h0M158.3 186.0h0M158.5 176.1h0M157.7 184.7h0M160.2 172.9h0M158.0 184.2h0M158.7 166.3h0M157.8 193.1h0M159.7 169.7h0M159.6 158.6h0M158.6 177.2h0M160.2 164.6h0M158.3 148.3h0M159.0 147.7h0M157.9 159.1h0M160.2 191.9h0M159.5 172.4h0M159.2 164.7h0M157.5 167.5h0M158.5 165.5h0M158.8 170.2h0M160.0 159.7h0M160.0 201.7h0M159.6 166.4h0M160.2 170.3h0M159.6 148.4h0M158.8 164.9h0M159.9 164.4h0M157.9 163.5h0M157.5 165.5h0M160.2 175.6h0M159.5 155.4h0M158.5 157.3h0M158.7 169.5h0"/><path d="M157.5 167.5h0M160.1 178.7h0M158.4 171.2h0M158.0 186.0h0M159.0 165.5h0M159.5 170.2h0M157.8 171.6h0M159.6 196.2h0M158.2 201.0h0M158.2 164.6h0M157.8 163.1h0M158.3 168.9h0M160.0 170.6h0M159.9 171.2h0M157.8 180.4h0M159.5 181.4h0M159.7 170.9h0M157.5 166.8h0M159.4 145.8h0M159.2 169.0h0M157.6 191.0h0M159.4 177.5h0M158.2 168.3h0M160.0 161.1h0M157.9 189.7h0M159.2 164.2h0M159.3 169.7h0M158.6 196.1h0M160.0 159.3h0M158.4 166.2h0M158.6 175.5h0M158.3 182.0h0M157.4 169.8h0M157.9 193.6h0"/></g>
<g stroke="rgb(240,0,0)" stroke-opacity="0.4"><path d="M162.8 165.0h0M165.4 188.0h0M165.0 157.7h0M163.0 179.9h0M164.2 155.8h0M163.0 163.7h0M164.7 150.3h0M164.9 168.0h0M164.1 164.2h0M163.6 149.8h0M164.8 160.4h0M164.8 156.9h0M163.1 179.3h0M164.4 157.5h0M164.8 165.0h0M163.5 169.9h0M163.9 164.3h0M163.3 171.3h0M162.8 161.9h0M162.8 185.9h0M164.3 153.2h0M163.4 167.9h0M165.0 148.2h0M163.9 172.1h0M164.4 168.6h0M163.1 178.1h0M164.0 159.2h0M165.0 155.7h0M164.1 162.6h0M165.5 154.9h0M162.8 187.9h0M162.8 165.8h0M164.8 163.2h0M163.1 169.7h0M163.8 160.8h0M164.4 179.7h0M164.6 173.1h0M165.3 153.9h0M164.2 155.6h0M163.6 164.3h0M164.9 155.4h0M165.0 153.0h0M163.6 151.9h0M164.4 158.7h0M165.0 162.7h0M162.9 156.8h0M162.9 153.4h0M163.7 187.5h0M163.5 171.6h0M164.5 171.6h0M162.7 167.6h0M163.3 157.0h0M163.7 153.3h0M163.8 167.3h0M164.7 161.3h0M164.8 171.7h0M164.1 153.5h0M163.3 179.8h0M164.6 157.4h0M163.6 172.0h0M162.7 169.4h0M163.7 148.2h0M163.7 167.2h0M164.6 154.6h0M164.3 158.4h0M165.2 174.5h0M164.6 161.9h0M165.1 170.3h0M164.9 161.1h0M165.4 159.3h0M163.9 148.9h0M164.3 157.5h0M164.2 186.3h0M164.8 161.5h0M164.1 161.7h0M164.9 161.0h0M163.8 159.7h0M163.0 160.8h0M164.0 159.2h0M163.3 169.8h0M163.7 160.5h0M164.3 178.8h0M164.8 166.8h0M165.0 175.7h0M165.3 153.2h0M162.8 181.9h0M164.4 157.0h0M164.7 171.6h0M164.0 170.8h0M163.8 177.2h0M165.3 158.1h0M165.0 165.6h0M163.4 165.6h0M165.5 165.6h0M163.5 188.4h0M164.5 179.6h0M164.6 181.2h0M163.5 189.2h0M163.1 151.4h0M163.0 165.4h0M163.3 165.2h0M164.3 158.1h0M164.8 155.7h0M163.9 157.1h0"/><path d="M164.6 153.8h0M163.1 170.1h0M164.7 181.7h0M164.7 182.2h0M163.6 161.3h0M162.8 170.4h0M164.1 172.9h0M164.2 161.5h0M164.3 167.2h0M164.4 174.3h0M162.7 158.8h0M164.0 176.1h0M164.5 162.0h0M164.3 158.2h0M163.8 156.8h0M164.1 177.6h0M163.5 151.8h0M163.6 180.9h0M164.5 177.7h0M165.1 171.5h0M165.2 178.4h0M164.6 170.1h0M162.9 189.7h0M163.3 152.8h0M164.8 174.5h0M165.0 155.9h0M163.7 157.2h0M165.2 172.0h0M164.8 148.4h0M163.4 152.0h0M163.1 169.0h0M164.5 182.8h0M163.2 157.3h0M162.9 155.6h0M163.1 160.3h0M163.6 180.4h0M163.3 170.8h0M164.5 161.1h0M165.5 155.2h0M164.7 155.5h0M164.9 144.7h0M164.8 180.4h0M163.4 164.0h0M164.7 167.7h0M162.7 158.7h0M163.3 160.4h0M164.9 155.9h0M165.3 166.5h0M163.8 150.6h0M164.6 171.3h0M163.4 155.3h0M165.4 168.1h0M163.8 153.5h0M163.6 151.5h0M163.1 162.8h0M165.0 157.5h0M162.7 164.5h0M163.1 165.8h0M164.0 156.8h0M164.8 172.2h0M164.6 171.7h0M164.3 156.9h0M163.3 150.3h0M162.9 160.9h0M164.4 158.8h0M163.6 159.8h0M163.8 172.0h0M164.7 163.3h0M163.9 161.2h0M163.0 172.1h0M162.8 162.7h0M165.3 161.1h0M164.7 159.7h0M164.1 174.7h0M165.2 164.3h0M164.3 153.0h0M163.3 166.9h0M165.1 149.4h0M165.4 157.0h0M163.8 174.6h0M164.3 156.9h0M163.9 164.8h0M165.1 148.5h0M163.7 167.9h0M165.5 162.8h0M164.7 161.7h0M165.0 153.3h0M162.9 177.4h0M164.4 150.8h0M164.1 168.1h0M162.8 154.0h0M163.7 168.5h0M164.7 157.4h0M163.6 170.3h0M163.3 157.8h0M163.1 170.6h0M163.2 166.8h0M165.0 159.2h0M164.4 164.7h0M165.1 156.0h0M165.0 151.3h0M165.2 164.2h0M162.9 164.6h0"/><path d="M163.4 174.3h0M163.6 151.0h0M164.9 166.7h0M164.3 170.1h0M165.3 159.1h0M163.1 154.9h0M164.5 158.5h0M165.0 156.6h0M163.3 169.3h0M162.7 157.5h0M164.8 179.5h0M164.1 169.4h0M164.4 179.6h0M165.2 157.1h0M162.8 164.3h0M163.5 173.6h0M162.7 185.8h0M163.3 157.5h0M163.8 161.5h0M162.8 165.5h0M165.5 172.8h0M165.3 170.5h0M163.1 158.6h0M165.5 154.0h0M163.6 181.2h0M164.2 161.5h0M165.0 157.4h0M162.9 151.3h0M163.0 151.2h0M164.4 176.2h0M165.2 165.6h0M163.8 165.3h0M165.0 160.5h0M163.4 164.9h0M165.0 176.9h0M164.7 161.1h0M164.5 154.4h0M165.3 162.0h0M163.7 171.2h0M164.9 154.9h0M164.3 163.6h0M162.9 185.5h0M162.8 169.8h0M165.5 170.5h0M163.8 162.3h0M165.5 159.4h0M163.5 165.6h0M164.5 182.6h0M162.9 159.6h0M163.8 159.8h0M165.4 166.1h0M164.3 171.9h0M163.5 167.7h0M164.1 154.0h0M165.3 182.9h0M164.3 181.3h0M164.2 165.4h0M164.5 154.0h0M165.4 179.1h0M165.3 177.2h0M163.8 150.7h0M163.7 182.3h0M162.9 166.2h0M162.8 159.4h0M164.4 169.9h0M164.8 189.9h0M163.5 170.8h0M163.3 160.2h0M162.9 184.2h0M164.3 154.6h0M165.0 162.2h0M163.4 162.6h0M163.8 165.4h0M163.1 186.1h0M164.6 162.4h0M163.5 183.6h0M164.3 153.8h0M164.4 164.5h0M164.1 170.5h0M164.8 155.0h0M164.2 173.5h0M165.5 184.4h0M163.7 165.3h0M164.6 167.7h0M165.0 149.8h0M163.9 161.9h0M163.5 151.7h0M163.3 168.6h0M164.5 179.2h0M165.1 175.9h0M163.5 159.2h0M164.4 180.0h0M163.8 179.8h0M163.9 152.8h0M162.8 179.3h0M165.0 154.3h0M164.0 185.1h0M163.4 155.5h0M164.7 177.1h0M162.9 176.5h0M164.0 171.7h0M163.9 184.2h0M163.5 168.5h0"/><path d="M164.9 151.3h0M163.7 149.4h0M162.9 149.8h0M165.4 154.8h0M163.0 159.7h0M164.8 164.9h0M165.5 165.6h0M164.3 172.5h0M163.2 156.0h0M164.8 175.5h0M164.0 150.7h0M165.3 180.2h0M164.8 171.2h0M164.4 182.7h0M164.7 149.5h0M163.5 164.2h0M163.0 169.9h0M165.4 182.7h0M163.7 161.3h0M163.6 151.2h0M165.5 160.6h0M163.6 173.3h0M165.0 173.3h0M163.3 180.7h0M162.9 164.1h0M162.8 166.7h0M163.8 152.8h0M164.0 169.7h0M165.3 182.5h0M164.5 185.8h0M162.8 160.1h0M162.8 180.3h0M164.6 170.3h0M164.9 161.4h0M163.4 166.3h0M162.8 165.6h0M164.5 167.9h0M163.7 158.9h0M164.6 178.2h0M164.0 170.0h0M165.3 170.0h0M165.2 158.1h0M164.1 159.9h0M164.0 159.0h0M164.2 143.4h0M165.3 169.4h0M164.4 159.2h0M162.8 164.5h0M164.5 178.8h0M164.8 152.6h0M164.4 164.1h0M165.3 154.4h0M163.3 162.1h0M163.8 184.6h0M164.9 168.5h0M163.5 166.3h0M165.3 164.3h0M165.2 154.9h0M163.6 156.7h0M163.4 154.4h0M164.2 169.8h0M163.2 163.2h0M164.9 182.6h0M164.1 161.3h0M163.8 152.5h0M164.2 185.2h0M162.7 157.9h0M163.7 155.2h0M163.1 179.5h0M164.0 156.3h0M164.4 167.4h0M165.1 180.2h0M163.0 177.8h0M163.8 171.8h0M165.3 182.1h0M163.5 182.4h0M163.6 175.0h0M164.3 189.6h0M162.9 162.6h0M163.1 177.7h0M163.6 166.9h0M164.4 161.8h0M164.1 150.6h0M164.8 146.2h0M163.7 170.4h0M163.5 168.4h0M164.2 161.5h0M162.7 156.5h0M164.3 152.7h0M165.2 164.5h0M164.9 171.4h0M164.4 158.3h0M164.3 165.7h0M164.7 148.8h0M164.9 170.4h0M163.9 160.9h0M162.9 155.3h0M163.9 183.5h0M163.8 181.1h0M165.2 171.1h0M164.8 177.2h0M163.6 151.6h0M164.9 143.8h0"/><path d="M164.2 160.5h0M165.5 186.5h0M165.5 168.1h0M164.7 160.0h0M163.9 158.0h0M162.8 173.6h0M162.9 160.5h0M163.2 170.0h0M162.9 148.7h0M165.2 186.2h0M164.9 156.3h0M165.1 189.2h0M162.8 170.2h0M164.6 171.4h0M163.7 170.2h0M165.5 166.2h0M164.0 151.3h0M163.0 154.0h0M165.0 169.0h0M163.5 171.0h0M165.5 175.4h0M163.1 160.9h0M163.8 150.4h0M164.9 157.8h0M165.1 170.0h0M162.9 175.3h0M163.1 165.6h0M164.1 169.6h0M164.1 143.0h0M163.1 161.5h0M163.0 148.4h0M165.2 157.9h0M164.3 162.9h0M163.1 155.2h0M165.4 156.8h0M165.1 175.9h0M164.5 159.9h0M164.1 157.6h0M164.8 160.0h0M163.2 167.5h0M164.8 153.1h0M163.6 172.0h0M164.1 156.7h0M163.0 168.4h0M163.9 157.1h0M164.8 167.9h0M164.8 160.1h0M162.8 178.6h0M165.0 167.8h0M162.9 162.2h0M163.3 158.9h0M163.6 163.2h0M164.4 156.2h0M163.1 169.2h0M165.5 162.3h0M163.4 172.9h0M165.1 160.8h0M162.9 171.4h0M163.5 163.9h0M163.8 172.1h0M163.0 177.4h0M163.8 169.7h0M164.7 178.2h0M165.1 156.6h0M162.9 151.8h0M164.4 180.7h0M164.3 162.9h0M163.7 158.4h0M165.0 156.8h0M165.5 176.2h0M163.0 155.9h0M165.2 157.3h0M164.0 148.3h0M163.8 151.6h0M163.6 183.9h0M165.4 153.7h0M165.3 165.9h0M164.4 181.9h0M163.3 148.5h0M162.9 149.7h0M163.2 155.6h0M165.0 181.1h0M164.4 181.6h0M162.9 172.3h0M165.3 162.9h0M164.4 182.2h0M164.7 154.2h0M164.2 155.7h0M164.3 181.7h0M163.7 175.8h0M165.3 157.2h0M163.4 154.2h0M165.3 163.3h0M163.7 158.1h0M165.0 172.4h0M165.1 166.2h0M162.9 156.4h0M164.9 173.3h0M163.2 159.3h0M163.3 182.9h0M165.5 164.0h0M164.8 157.1h0M163.9 172.5h0"/></g>
<g stroke="rgb(240,0,0)" stroke-opacity="0.4"><path d="M170.4 214.1h0M169.5 207.6h0M169.5 206.4h0M170.7 217.8h0M168.6 210.0h0M169.6 194.0h0M170.5 217.0h0M170.8 207.8h0M169.5 216.5h0M170.3 206.3h0M168.6 204.7h0M170.4 217.2h0M168.4 204.0h0M169.0 194.3h0M170.0 200.1h0M170.5 211.2h0M168.2 199.0h0M168.6 216.7h0M170.4 216.6h0M170.5 210.2h0M168.7 221.3h0M170.6 203.4h0M169.4 213.3h0M170.6 198.8h0M169.1 211.4h0M168.1 207.6h0M169.7 221.1h0M169.9 191.6h0M168.7 219.8h0M170.8 214.6h0M170.1 216.1h0M170.2 191.0h0M170.7 220.5h0M170.4 214.9h0M168.9 220.7h0M170.3 217.2h0M168.9 219.3h0M168.7 208.3h0M170.2 211.1h0M170.0 208.5h0M170.8 216.6h0M169.0 220.3h0M169.7 218.1h0M168.8 221.4h0M170.4 187.3h0M169.1 208.5h0M170.3 216.1h0M169.1 199.7h0M168.7 210.0h0M170.5 206.2h0M168.3 202.4h0M169.9 210.6h0M169.2 216.2h0M170.3 210.6h0M168.1 213.9h0M168.1 200.8h0M169.3 194.7h0M169.5 194.2h0M168.9 210.1h0M169.1 196.0h0M168.6 190.9h0M169.5 202.7h0M169.6 207.1h0M168.8 209.6h0M168.0 215.0h0M169.2 214.9h0M169.1 215.4h0M168.7 198.4h0M170.1 218.8h0M170.5 199.7h0M170.3 220.6h0M168.5 202.6h0M170.6 205.8h0M169.7 212.5h0M170.2 204.7h0"/><path d="M170.1 210.4h0M170.1 212.9h0M170.1 206.2h0M170.0 203.9h0M170.7 220.8h0M169.5 191.6h0M169.1 202.5h0M168.7 187.8h0M168.3 206.8h0M169.4 207.6h0M170.2 218.9h0M168.2 201.9h0M170.1 211.1h0M170.8 197.8h0M168.6 205.4h0M169.1 216.1h0M169.0 207.3h0M170.8 192.6h0M169.5 221.1h0M170.7 217.4h0M169.5 205.5h0M169.9 217.5h0M168.1 211.2h0M169.8 214.7h0M168.7 206.5h0M168.3 208.7h0M169.4 197.4h0M170.5 198.6h0M169.3 209.6h0M170.3 196.3h0M169.0 200.6h0M168.0 206.5h0M169.6 213.9h0M168.3 210.9h0M170.2 191.7h0M170.2 206.9h0M168.4 211.6h0M168.0 195.9h0M169.9 215.9h0M168.9 198.6h0M169.6 210.7h0M168.4 210.7h0M169.5 207.7h0M169.7 217.3h0M170.5 216.8h0M168.0 213.0h0M170.1 206.1h0M168.0 208.0h0M168.2 190.8h0M168.7 212.6h0M170.7 215.9h0M170.2 208.8h0M168.3 221.3h0M169.9 206.7h0M169.6 205.3h0M170.3 208.5h0M168.9 215.4h0M169.0 216.3h0M168.5 215.9h0M168.2 208.3h0M170.8 206.8h0M169.1 205.9h0M170.6 218.1h0M169.7 204.6h0M170.3 212.7h0M168.6 205.5h0M168.9 218.8h0M169.8 213.4h0M169.6 198.6h0M169.7 206.8h0M170.0 189.9h0M170.8 216.8h0M170.3 220.8h0M168.3 205.0h0"/><path d="M168.6 203.3h0M168.9 188.6h0M169.3 205.3h0M170.8 210.8h0M169.2 207.1h0M170.7 205.0h0M168.7 220.2h0M169.3 216.6h0M168.2 187.1h0M169.3 202.8h0M170.8 216.7h0M168.4 211.7h0M170.8 210.5h0M170.7 197.6h0M170.3 200.4h0M169.1 221.7h0M169.0 216.6h0M169.8 196.8h0M168.2 207.7h0M168.4 216.0h0M169.0 221.1h0M168.9 204.8h0M170.2 217.4h0M170.5 198.4h0M170.8 209.7h0M169.8 216.3h0M169.3 214.4h0M169.1 202.3h0M169.8 214.0h0M169.4 207.6h0M170.1 212.9h0M170.1 210.9h0M168.1 218.9h0M169.7 215.9h0M170.1 201.5h0M169.9 202.8h0M169.5 197.4h0M169.3 216.8h0M170.1 207.9h0M169.9 220.8h0M170.2 221.9h0M170.7 194.4h0M169.9 221.5h0M168.8 209.5h0M168.9 206.5h0M168.0 203.9h0M168.2 195.3h0M170.2 218.6h0M170.0 216.8h0M170.5 216.2h0M169.5 216.0h0M170.0 206.5h0M169.1 210.4h0M168.6 206.8h0M168.1 204.0h0M170.5 193.8h0M169.0 221.8h0M168.7 191.0h0M168.4 212.9h0M168.2 202.9h0M170.3 219.5h0M169.9 211.4h0M169.8 205.2h0M170.1 205.2h0M169.5 214.6h0M170.4 196.6h0M168.6 203.8h0M168.6 193.0h0M168.7 213.1h0M169.3 221.7h0M170.6 220.2h0M169.6 193.1h0M170.5 190.8h0M169.6 204.9h0"/><path d="M170.0 215.5h0M169.1 202.4h0M169.7 212.9h0M170.6 215.3h0M168.4 209.2h0M168.5 218.9h0M169.1 215.1h0M169.6 199.6h0M170.5 206.9h0M168.0 198.4h0M170.0 215.0h0M168.2 210.5h0M169.5 209.4h0M169.5 190.0h0M168.5 210.8h0M170.1 211.3h0M169.6 211.2h0M169.6 210.3h0M169.3 203.2h0M170.5 216.6h0M169.6 201.8h0M170.0 209.0h0M168.6 194.5h0M170.6 200.1h0M169.6 200.0h0M169.5 208.3h0M170.6 213.3h0M170.4 216.8h0M168.5 211.4h0M168.9 204.4h0M169.7 208.4h0M168.6 221.2h0M169.4 216.4h0M169.8 215.6h0M170.0 214.9h0M169.7 220.9h0M168.5 218.7h0M168.3 206.3h0M170.5 195.7h0M168.8 207.2h0M169.0 195.2h0M169.6 218.2h0M168.0 213.2h0M169.7 203.4h0M170.4 208.7h0M170.1 206.1h0M170.1 195.1h0M168.8 221.1h0M170.2 206.6h0M170.4 205.6h0M170.6 209.5h0M168.6 218.0h0M169.0 207.6h0M168.6 207.9h0M169.7 199.9h0M168.7 212.8h0M169.2 209.2h0M168.4 217.4h0M169.2 205.6h0M168.0 199.2h0M170.2 216.5h0M170.4 220.9h0M170.8 205.0h0M168.2 205.5h0M170.0 201.3h0M169.1 213.4h0M168.2 219.4h0M168.6 201.7h0M168.6 195.6h0M168.3 221.3h0M169.3 204.0h0M170.0 215.2h0M169.4 206.5h0M170.5 212.2h0"/><path d="M168.3 209.4h0M168.3 199.4h0M169.4 217.1h0M169.4 206.3h0M168.5 215.9h0M170.7 206.2h0M170.0 214.0h0M168.3 217.1h0M170.7 203.5h0M170.2 199.4h0M169.4 203.6h0M170.8 213.5h0M170.2 205.3h0M168.7 213.5h0M168.7 221.6h0M170.7 221.9h0M170.6 220.4h0M168.8 215.1h0M169.6 203.2h0M169.0 217.5h0M170.7 207.4h0M169.0 202.0h0M168.4 219.4h0M168.3 206.3h0M168.9 199.6h0M168.4 204.5h0M170.6 213.6h0M168.4 216.9h0M169.8 217.5h0M168.1 207.0h0M169.6 204.6h0M168.7 200.6h0M168.9 214.3h0M170.6 213.8h0M168.8 215.6h0M170.4 207.7h0M170.8 206.2h0M170.5 217.8h0M169.9 198.6h0M169.7 219.7h0M169.8 205.2h0M168.7 198.3h0M169.0 216.9h0M169.8 211.6h0M168.3 209.0h0M169.4 204.4h0M168.9 206.1h0M170.7 203.0h0M169.5 204.3h0M169.3 220.0h0M169.5 194.2h0M168.4 204.0h0M169.5 217.5h0M169.6 210.9h0M170.8 192.0h0M170.3 204.1h0M168.9 199.9h0M169.7 203.3h0M169.2 217.8h0M169.6 209.0h0M170.0 221.7h0M168.6 200.7h0M169.5 212.8h0M169.0 208.9h0M169.0 204.9h0M168.0 218.3h0M170.3 192.8h0M169.3 218.0h0M168.5 218.8h0M170.6 217.4h0M170.0 205.5h0M169.5 190.7h0M169.9 220.1h0M169.0 218.1h0"/></g>
<g stroke="rgb(0,0,240)" stroke-opacity="0.4"><path d="M174.1 210.4h0M175.0 207.1h0M174.1 211.2h0M175.8 206.9h0M174.2 219.3h0M175.5 217.8h0M174.5 209.8h0M173.6 206.9h0M174.6 217.9h0M174.0 205.0h0"/><path d="M175.7 212.5h0M175.4 213.6h0M175.9 209.2h0M175.4 209.0h0M173.4 211.7h0M174.0 214.9h0M175.5 208.8h0M176.0 211.5h0M174.2 208.2h0M175.6 207.5h0"/><path d="M175.6 216.6h0M175.4 218.0h0M175.7 207.8h0M174.7 216.6h0M174.2 209.2h0M175.8 209.6h0M174.3 207.5h0M174.3 205.5h0M174.5 211.4h0M174.5 214.7h0"/><path d="M175.0 217.7h0M174.4 215.7h0M174.7 210.9h0M175.6 208.3h0M175.9 213.6h0M173.9 217.5h0M175.7 218.2h0M174.3 216.1h0M174.9 216.1h0M173.8 216.4h0"/><path d="M174.8 208.8h0M175.2 215.4h0M174.3 216.0h0M174.7 211.8h0M173.7 205.9h0M176.0 212.9h0M175.8 215.7h0M176.0 212.7h0M174.0 213.1h0M174.8 210.3h0"/></g>
<g stroke="rgb(240,0,0)" stroke-opacity="0.4"><path d="M181.2 197.6h0M178.6 178.6h0M180.7 185.1h0M180.5 196.5h0M179.2 199.9h0M179.3 182.8h0M179.7 200.8h0M179.6 187.8h0M180.8 179.2h0M179.4 188.7h0M178.7 190.6h0M181.3 184.6h0M180.8 203.6h0M180.8 174.5h0M179.1 186.4h0M179.0 181.2h0M180.8 186.9h0M180.5 181.3h0M180.7 184.5h0M180.6 194.8h0M180.8 165.9h0M180.2 160.3h0M178.6 179.0h0M178.6 190.6h0M180.8 183.8h0M181.3 207.4h0M180.9 195.8h0M181.0 186.4h0M179.7 196.8h0M179.1 176.9h0M181.3 174.1h0M181.3 156.3h0M179.8 200.9h0M179.8 186.2h0M178.7 185.1h0M179.5 172.7h0M179.9 190.9h0M178.8 146.9h0M181.0 172.7h0M179.4 190.5h0M181.4 190.0h0M180.0 178.0h0M179.9 181.6h0M179.3 209.3h0M180.8 205.8h0M179.0 183.8h0M179.3 188.7h0M178.6 181.0h0M179.1 188.3h0M180.9 204.3h0M180.3 184.6h0M179.2 159.0h0M181.3 188.1h0M179.8 158.2h0M179.9 186.4h0M178.6 203.1h0M178.8 182.5h0M180.2 192.6h0M180.6 200.1h0M181.1 185.8h0M181.1 183.4h0M180.5 186.2h0M178.9 185.1h0M179.2 166.7h0M181.3 164.3h0M179.2 189.3h0M179.8 187.9h0M180.9 175.2h0M179.6 209.1h0M179.1 163.5h0M178.6 181.9h0M179.9 164.0h0M181.0 186.2h0M179.1 176.7h0M180.3 181.8h0M178.7 157.4h0M179.1 185.2h0M180.1 210.2h0M180.9 194.7h0M180.6 185.9h0M180.8 211.9h0M180.8 179.1h0M179.1 157.4h0M178.8 183.4h0M181.3 184.5h0M179.5 198.8h0M180.5 188.6h0M178.7 184.0h0M180.5 177.5h0M179.7 186.7h0M179.5 182.8h0M179.3 180.6h0M180.9 181.7h0M180.2 202.6h0M179.7 188.0h0M180.9 158.0h0M181.0 189.4h0M181.0 194.1h0M178.8 185.5h0M179.3 190.9h0M179.2 208.8h0M179.0 188.1h0M180.5 181.4h0"/><path d="M178.6 174.7h0M179.6 200.6h0M179.9 200.2h0M178.8 182.2h0M179.7 204.1h0M181.0 184.3h0M179.9 185.9h0M180.6 183.2h0M179.4 156.4h0M180.3 182.6h0M180.2 188.1h0M179.3 183.3h0M179.2 189.3h0M180.7 198.9h0M179.9 174.0h0M179.7 183.2h0M179.4 187.6h0M180.4 184.4h0M180.9 202.0h0M179.6 166.7h0M179.7 184.6h0M178.9 205.7h0M180.9 187.1h0M179.6 165.8h0M180.6 187.8h0M179.5 186.5h0M179.0 185.6h0M179.0 184.4h0M180.7 187.9h0M178.6 208.0h0M181.0 190.2h0M179.7 184.7h0M180.7 166.6h0M180.6 189.5h0M180.2 184.7h0M180.7 191.3h0M179.8 190.6h0M180.7 185.1h0M178.8 177.2h0M179.8 202.4h0M178.6 190.1h0M179.7 185.4h0M179.1 191.6h0M180.5 186.9h0M178.8 202.4h0M179.9 188.5h0M178.9 210.5h0M180.1 171.4h0M180.3 183.5h0M181.0 155.6h0M181.4 173.1h0M180.2 183.5h0M179.0 189.0h0M179.5 184.9h0M180.1 161.6h0M179.5 161.8h0M179.6 155.6h0M178.7 185.9h0M180.5 183.7h0M179.7 203.3h0M179.1 182.8h0M180.1 186.9h0M178.9 184.6h0M180.2 178.7h0M179.3 159.8h0M180.3 182.4h0M180.1 186.7h0M179.8 191.8h0M180.4 189.6h0M179.5 208.8h0M178.8 209.0h0M178.7 208.6h0M179.0 174.9h0M181.1 170.2h0M178.6 182.3h0M180.2 190.5h0M179.8 169.1h0M180.3 191.7h0M178.9 182.0h0M181.3 181.4h0M181.0 188.8h0M179.4 189.8h0M179.1 195.6h0M179.9 208.7h0M179.6 142.0h0M181.2 187.3h0M181.2 183.6h0M179.3 184.5h0M178.9 164.7h0M180.2 190.4h0M179.7 190.0h0M179.9 191.1h0M180.1 183.6h0M179.2 190.6h0M180.7 162.8h0M179.2 194.8h0M179.6 206.8h0M180.0 188.3h0M178.9 196.0h0M180.8 155.0h0M180.7 209.2h0M178.8 189.7h0M180.6 190.2h0"/><path d="M179.7 189.6h0M180.0 184.9h0M180.0 186.0h0M180.2 190.2h0M181.4 199.3h0M179.0 178.6h0M180.2 183.0h0M178.8 186.6h0M180.9 183.3h0M180.4 185.3h0M179.3 206.8h0M179.1 200.2h0M178.9 187.0h0M180.1 193.0h0M181.1 179.0h0M179.7 204.9h0M181.3 168.9h0M180.8 194.0h0M180.2 161.6h0M179.1 185.0h0M178.6 165.5h0M181.4 185.9h0M181.2 188.0h0M179.3 188.6h0M180.0 207.4h0M180.0 159.2h0M179.2 207.9h0M179.6 203.0h0M180.4 211.0h0M180.0 181.6h0M178.9 199.4h0M179.3 187.6h0M180.0 191.8h0M180.4 176.4h0M181.1 161.9h0M179.1 186.8h0M180.6 176.5h0M180.5 179.6h0M180.9 196.3h0M179.9 175.3h0M180.3 175.7h0M178.9 185.7h0M179.8 186.8h0M179.9 160.3h0M179.1 194.8h0M179.9 189.0h0M180.9 209.2h0M180.2 201.0h0M179.6 181.9h0M180.3 210.9h0M180.7 192.2h0M180.8 187.2h0M181.0 194.3h0M178.6 192.2h0M178.8 185.9h0M179.6 188.4h0M181.4 208.7h0M180.9 164.9h0M180.1 189.3h0M178.6 189.7h0M180.6 184.2h0M180.2 206.3h0M181.4 205.4h0M180.3 191.6h0M180.5 153.5h0M181.0 164.0h0M180.7 184.8h0M179.6 186.4h0M178.8 188.2h0M180.4 159.2h0M180.0 211.2h0M180.0 200.7h0M179.4 198.8h0M180.9 173.0h0M179.9 190.2h0M180.3 186.7h0M179.0 188.9h0M179.3 167.6h0M181.1 181.1h0M179.9 185.9h0M179.3 197.2h0M180.4 179.5h0M179.2 185.7h0M180.8 190.6h0M180.8 195.6h0M179.3 169.9h0M180.1 187.5h0M178.6 155.0h0M180.0 173.3h0M180.1 194.0h0M180.5 190.0h0M178.7 166.2h0M180.6 178.5h0M178.6 183.8h0M180.1 185.9h0M181.4 164.8h0M180.0 193.5h0M180.3 185.1h0M179.4 188.4h0M179.0 174.2h0M181.3 189.0h0M180.8 183.8h0M180.2 199.1h0"/><path d="M179.2 192.0h0M181.1 205.0h0M180.2 188.0h0M180.4 162.4h0M181.0 211.4h0M180.4 210.0h0M179.2 183.2h0M179.2 204.3h0M179.1 183.6h0M178.9 185.4h0M179.8 191.0h0M180.0 183.5h0M179.5 208.2h0M179.4 181.2h0M180.6 197.1h0M179.6 185.6h0M180.2 162.8h0M179.6 157.8h0M180.3 174.9h0M180.0 214.3h0M181.0 189.7h0M180.7 167.3h0M181.1 210.2h0M179.5 170.3h0M178.8 190.5h0M179.6 182.2h0M179.0 192.9h0M180.5 170.5h0M178.6 174.5h0M178.9 186.4h0M181.1 181.7h0M180.9 167.4h0M179.5 208.0h0M179.0 185.4h0M181.1 195.7h0M180.1 184.5h0M180.2 214.5h0M181.1 202.4h0M181.1 159.5h0M179.0 187.5h0M180.8 189.2h0M179.9 186.5h0M181.4 212.2h0M179.1 182.0h0M178.6 204.8h0M179.4 157.4h0M181.2 183.6h0M180.2 186.1h0M180.6 189.4h0M179.7 183.5h0M179.0 189.7h0M179.3 187.5h0M180.6 196.0h0M180.3 179.9h0M180.7 186.5h0M178.6 185.4h0M181.1 183.2h0M178.8 187.3h0M181.0 185.2h0M180.6 145.8h0M180.4 187.1h0M180.4 181.8h0M181.0 162.6h0M181.2 158.6h0M179.6 206.0h0M180.6 181.4h0M178.9 185.9h0M180.1 182.3h0M179.7 212.0h0M179.0 181.5h0M180.9 188.5h0M180.8 185.1h0M179.6 174.2h0M179.4 205.1h0M181.0 166.9h0M179.4 207.4h0M180.9 184.3h0M179.1 198.4h0M180.7 181.7h0M179.3 189.6h0M179.2 177.5h0M178.7 197.2h0M180.3 173.2h0M181.1 182.3h0M179.9 162.0h0M180.4 189.0h0M179.8 178.8h0M180.2 175.1h0M180.5 209.3h0M181.1 165.3h0M178.8 158.0h0M180.8 212.1h0M181.3 171.9h0M179.7 186.3h0M180.8 186.2h0M181.4 189.0h0M178.6 182.2h0M179.4 151.9h0M179.9 160.1h0M179.6 189.6h0M179.2 201.2h0M179.6 187.3h0M178.9 190.0h0"/><path d="M180.9 185.5h0M181.1 171.3h0M180.1 159.1h0M178.7 183.0h0M180.9 198.4h0M178.8 179.0h0M180.6 181.2h0M181.2 201.5h0M178.7 189.7h0M178.6 188.9h0M181.2 177.8h0M180.3 186.4h0M179.2 182.9h0M181.0 208.3h0M180.3 181.0h0M180.2 202.9h0M180.4 183.2h0M179.9 184.0h0M181.3 179.1h0M180.1 193.4h0M179.7 185.5h0M181.3 190.8h0M179.5 183.4h0M179.6 186.3h0M179.7 182.0h0M178.6 178.7h0M179.4 190.3h0M179.1 182.0h0M180.2 200.9h0M181.2 187.3h0M181.1 200.5h0M179.3 186.8h0M180.5 157.6h0M181.1 199.2h0M180.2 181.9h0M180.4 187.4h0M180.4 184.4h0M179.7 180.1h0M178.6 185.7h0M180.4 181.8h0M179.5 184.8h0M179.9 185.8h0M180.6 193.4h0M181.3 172.5h0M178.9 190.3h0M179.7 189.7h0M178.8 175.6h0M179.7 183.0h0M179.6 166.5h0M180.4 156.8h0M178.7 186.2h0M178.9 163.8h0M181.3 190.5h0M181.1 184.9h0M181.0 175.8h0M180.7 183.9h0M179.6 182.6h0M180.2 186.7h0M180.4 185.4h0M180.0 182.1h0M180.1 155.7h0M179.3 184.1h0M179.8 193.5h0M179.7 213.4h0M180.9 182.8h0M180.2 183.3h0M181.1 188.1h0M180.3 196.1h0M178.6 190.3h0M179.6 199.2h0M178.6 188.7h0M181.2 190.1h0M180.0 161.5h0M178.9 186.4h0M181.0 174.7h0M179.3 182.4h0M181.1 161.8h0M180.0 170.3h0M180.4 195.1h0M179.4 201.4h0M179.2 186.6h0M178.8 195.1h0M180.9 206.3h0M178.8 184.8h0M179.3 185.4h0M180.3 187.4h0M179.6 163.8h0M179.0 190.7h0M181.3 192.4h0M179.6 189.5h0M180.6 189.1h0M179.3 143.1h0M180.0 181.8h0M180.7 182.3h0M179.7 164.9h0M178.7 188.8h0M179.6 169.3h0M179.9 191.0h0M179.9 197.0h0M180.1 175.4h0M179.6 186.4h0M178.8 189.2h0M180.2 187.2h0"/></g>
<g stroke="rgb(0,0,240)" stroke-opacity="0.4"><path d="M186.1 177.5h0M186.1 172.4h0M184.9 185.6h0M184.5 181.5h0M183.9 173.2h0M185.3 177.6h0M185.2 180.6h0M184.9 174.3h0M186.7 178.4h0M184.0 186.3h0M185.5 181.7h0M184.8 193.5h0"/><path d="M185.9 181.9h0M186.0 183.4h0M184.5 182.8h0M185.8 172.3h0M186.7 172.3h0M185.4 189.3h0M184.0 176.1h0M185.3 185.6h0M185.5 176.5h0M186.7 180.4h0M185.8 171.2h0M185.7 187.8h0"/><path d="M186.4 193.1h0M185.8 179.4h0M185.1 181.7h0M184.0 191.9h0M186.2 169.8h0M185.1 175.3h0M184.4 175.8h0M185.3 178.8h0M184.2 179.4h0M186.7 182.7h0M185.2 178.5h0M184.3 172.8h0"/><path d="M184.9 172.9h0M186.5 187.8h0M185.3 170.3h0M184.1 172.7h0M186.7 174.0h0M185.3 172.6h0M186.0 171.8h0M185.8 177.5h0M186.3 172.9h0M183.9 175.1h0M185.6 182.1h0M185.4 185.1h0"/><path d="M184.1 172.7h0M186.0 187.5h0M184.9 193.2h0M186.3 191.6h0M186.5 189.3h0M185.7 176.9h0M184.3 175.9h0M185.5 175.5h0M184.2 174.1h0M185.6 175.6h0M186.2 179.0h0"/></g>
<g stroke="rgb(240,0,0)" stroke-opacity="0.4"><path d="M190.6 180.9h0M190.5 185.1h0M191.4 191.4h0M190.8 184.1h0M191.4 157.6h0M189.4 162.3h0M190.4 177.6h0M189.4 168.5h0M191.3 180.8h0M191.0 180.7h0M189.4 179.5h0M191.4 183.1h0M189.5 185.4h0M189.6 180.7h0M189.8 203.7h0M190.7 187.5h0M191.6 189.2h0M191.8 184.6h0M189.3 195.7h0M189.6 189.4h0M189.9 172.2h0M189.3 185.3h0M191.3 165.6h0M189.2 165.2h0M190.7 203.3h0M189.8 187.5h0M190.4 206.4h0M190.7 196.6h0M189.3 195.3h0M189.5 207.4h0M191.5 205.9h0M191.5 169.1h0M190.8 181.9h0M191.4 180.2h0M190.8 177.4h0M191.7 185.1h0M190.7 159.4h0M190.0 173.2h0M189.5 207.0h0M189.3 186.7h0M189.7 161.0h0M191.9 189.4h0M190.2 197.7h0M191.6 198.2h0M191.8 207.8h0M191.2 186.4h0M191.8 178.7h0M189.5 181.3h0M189.8 173.1h0M189.9 166.9h0M189.8 209.5h0M190.3 181.1h0M190.6 182.8h0M191.4 179.2h0M191.2 176.7h0M191.9 194.5h0M189.5 205.2h0M191.9 184.5h0M191.2 170.5h0M191.4 206.2h0M189.8 187.3h0M190.6 184.8h0M191.4 177.9h0M190.1 158.0h0M191.4 167.6h0M190.0 210.7h0M191.6 185.0h0M191.5 206.2h0M191.0 187.2h0M190.9 184.8h0M191.7 180.0h0M190.8 169.6h0M191.6 187.4h0M189.3 184.2h0M190.7 182.2h0M191.2 208.8h0M190.6 185.2h0M189.7 198.3h0M190.6 199.8h0M189.3 163.1h0M190.3 184.9h0M190.7 207.4h0M190.3 197.5h0M189.2 182.5h0M191.5 187.1h0M189.2 184.3h0M190.1 201.8h0M191.8 187.6h0M192.0 183.2h0M191.4 167.4h0M191.2 170.9h0M190.4 198.4h0M190.0 182.2h0M190.0 151.5h0M190.5 188.5h0M190.6 193.7h0M191.1 180.6h0M191.5 214.7h0M191.2 177.3h0M190.3 180.5h0M189.4 169.8h0"/><path d="M191.7 163.3h0M190.4 181.4h0M190.1 169.3h0M190.6 164.7h0M189.9 178.7h0M192.0 188.0h0M191.3 197.9h0M190.7 208.0h0M189.4 171.8h0M191.6 178.9h0M190.7 166.9h0M190.9 210.0h0M190.9 165.3h0M189.8 196.4h0M191.8 186.8h0M190.5 177.5h0M189.5 177.6h0M189.9 184.7h0M189.7 188.2h0M191.9 182.6h0M189.2 178.6h0M190.7 188.2h0M191.0 203.0h0M191.8 194.1h0M189.7 173.0h0M189.4 167.2h0M191.5 177.4h0M189.5 193.6h0M190.5 211.7h0M189.7 163.7h0M192.0 172.1h0M189.4 179.5h0M190.8 183.3h0M189.8 182.0h0M189.6 181.6h0M190.6 179.0h0M190.8 167.6h0M190.2 176.4h0M189.4 214.4h0M192.0 168.3h0M190.5 193.5h0M190.1 203.1h0M190.4 178.6h0M189.8 211.2h0M190.7 193.5h0M189.4 177.3h0M190.6 192.6h0M189.7 188.1h0M191.5 172.5h0M190.7 179.8h0M190.2 179.8h0M190.5 188.2h0M190.4 143.5h0M191.3 200.7h0M190.8 197.3h0M191.9 180.1h0M189.5 164.2h0M189.4 184.1h0M190.1 182.2h0M189.4 172.4h0M191.8 191.0h0M189.2 187.5h0M190.9 184.7h0M190.1 198.4h0M190.2 166.1h0M191.6 181.1h0M190.3 159.7h0M189.6 173.5h0M189.5 153.5h0M191.9 166.4h0M190.1 175.9h0M191.3 199.1h0M191.7 182.1h0M191.3 196.2h0M189.9 186.4h0M189.9 186.5h0M192.0 173.2h0M190.8 180.0h0M190.8 213.7h0M190.5 178.6h0M189.8 187.7h0M191.7 189.6h0M191.1 188.0h0M189.5 183.3h0M190.1 162.1h0M190.0 194.3h0M190.4 173.1h0M191.1 195.9h0M189.7 189.8h0M190.2 200.8h0M189.7 179.5h0M189.6 171.2h0M190.5 213.8h0M189.9 179.2h0M191.7 177.6h0M190.8 177.3h0M190.6 188.9h0M191.4 174.8h0M191.4 188.4h0M189.5 172.2h0"/><path d="M191.7 175.5h0M189.2 211.1h0M190.1 202.7h0M189.2 182.8h0M189.3 169.0h0M191.5 180.4h0M191.1 179.8h0M191.3 194.1h0M189.8 186.3h0M191.0 188.6h0M190.7 170.9h0M190.3 214.5h0M189.6 178.6h0M189.9 213.6h0M189.6 185.1h0M191.9 195.8h0M191.3 156.5h0M189.7 172.4h0M191.0 162.2h0M189.4 183.1h0M190.8 196.4h0M190.4 180.1h0M189.3 200.7h0M191.7 177.8h0M190.6 188.4h0M190.6 190.7h0M191.3 172.6h0M189.2 190.8h0M190.4 193.5h0M191.0 178.1h0M192.0 183.1h0M190.1 160.0h0M191.6 181.9h0M190.6 178.5h0M191.4 192.6h0M189.3 162.1h0M190.6 158.7h0M190.7 178.3h0M191.3 189.4h0M190.8 180.5h0M190.8 181.6h0M190.4 175.7h0M191.4 179.6h0M191.5 166.8h0M191.7 191.7h0M190.7 211.0h0M190.6 186.5h0M191.8 195.1h0M189.6 179.9h0M191.4 187.5h0M191.0 176.6h0M191.9 177.9h0M190.5 170.1h0M190.9 208.1h0M190.3 148.6h0M191.0 148.1h0M191.7 187.7h0M190.8 171.6h0M190.2 181.4h0M190.3 161.4h0M190.5 178.5h0M189.6 184.3h0M191.8 180.1h0M190.9 179.9h0M190.3 173.5h0M190.2 174.2h0M191.1 177.8h0M191.8 142.6h0M189.7 185.3h0M190.2 191.9h0M191.3 186.0h0M190.8 173.4h0M189.3 188.2h0M191.6 160.1h0M189.6 183.7h0M191.7 192.7h0M190.3 186.3h0M191.2 182.2h0M189.4 188.3h0M190.2 170.1h0M192.0 210.7h0M190.7 170.2h0M191.9 145.8h0M190.1 174.8h0M189.9 188.7h0M192.0 202.9h0M190.9 191.1h0M191.2 165.5h0M191.3 202.8h0M189.3 188.1h0M191.1 183.8h0M190.7 179.0h0M189.4 191.3h0M191.1 182.9h0M189.5 188.2h0M191.6 157.6h0M190.8 174.4h0M191.6 190.6h0M189.6 184.8h0M191.2 189.4h0"/><path d="M191.8 177.7h0M190.6 189.9h0M191.3 177.0h0M191.2 203.8h0M189.3 185.7h0M190.1 201.7h0M191.7 189.4h0M191.1 195.9h0M190.3 183.4h0M191.6 184.1h0M191.6 177.8h0M191.4 198.5h0M191.1 205.2h0M191.1 173.7h0M190.3 190.8h0M191.5 208.9h0M190.1 187.6h0M190.8 178.8h0M190.1 158.7h0M190.8 179.7h0M189.9 187.6h0M190.5 181.2h0M189.5 178.7h0M189.9 190.2h0M191.7 193.5h0M191.8 159.7h0M191.1 187.3h0M191.8 167.0h0M191.3 172.5h0M190.1 161.7h0M189.5 189.4h0M189.8 175.5h0M189.2 184.2h0M190.3 183.0h0M191.2 204.1h0M191.1 185.0h0M192.0 200.6h0M191.0 173.5h0M190.6 167.8h0M191.2 185.6h0M192.0 188.8h0M190.6 157.2h0M190.4 209.7h0M191.3 173.1h0M191.5 214.4h0M190.3 182.1h0M191.2 184.1h0M192.0 182.1h0M191.6 188.9h0M191.7 188.1h0M189.2 174.1h0M190.1 160.7h0M190.9 208.4h0M190.2 195.2h0M191.3 179.8h0M190.7 180.5h0M191.2 179.1h0M191.8 190.8h0M190.2 156.1h0M190.6 195.2h0M190.8 196.1h0M189.6 186.1h0M189.5 145.1h0M190.1 185.4h0M191.1 198.2h0M190.6 167.7h0M190.6 187.0h0M191.1 193.8h0M189.4 162.3h0M191.7 178.5h0M189.6 206.7h0M190.7 183.8h0M190.6 204.9h0M191.0 184.4h0M191.4 191.1h0M191.5 147.9h0M191.6 183.2h0M189.6 181.3h0M191.0 181.4h0M191.5 184.1h0M189.4 193.6h0M191.9 185.9h0M189.3 181.8h0M191.3 181.3h0M192.0 162.2h0M191.6 191.3h0M192.0 178.8h0M190.0 187.3h0M190.5 182.7h0M189.7 181.6h0M190.5 183.9h0M191.0 162.5h0M189.3 198.9h0M189.2 176.0h0M191.8 187.3h0M190.0 185.9h0M189.5 186.2h0M189.3 149.4h0M189.4 195.9h0M191.4 176.4h0"/><path d="M189.6 184.7h0M190.0 197.8h0M189.6 165.8h0M189.7 208.5h0M190.2 172.8h0M189.5 192.4h0M189.2 193.8h0M191.2 172.8h0M191.1 207.2h0M190.6 188.5h0M191.3 168.6h0M190.3 182.2h0M190.1 184.1h0M190.3 184.2h0M191.6 180.0h0M191.8 188.7h0M190.1 168.4h0M189.4 179.7h0M190.5 160.5h0M191.0 161.1h0M190.9 204.4h0M189.2 181.0h0M190.9 178.7h0M191.0 169.2h0M190.5 182.8h0M190.7 176.9h0M191.3 183.5h0M190.1 182.3h0M191.3 184.1h0M190.5 188.0h0M189.9 180.5h0M190.3 177.0h0M191.9 168.6h0M190.7 164.8h0M190.2 184.4h0M191.1 191.0h0M191.3 179.7h0M191.5 163.9h0M192.0 189.3h0M190.1 180.3h0M189.8 166.2h0M190.5 172.6h0M191.1 177.8h0M190.5 161.1h0M191.7 167.5h0M190.4 180.9h0M190.3 176.8h0M190.7 187.2h0M189.4 178.3h0M190.1 171.8h0M191.7 158.4h0M191.6 173.6h0M190.6 191.2h0M189.7 196.9h0M189.6 174.5h0M191.7 213.9h0M191.8 180.4h0M191.8 166.5h0M189.9 185.6h0M189.7 184.0h0M190.5 176.4h0M190.4 181.7h0M191.2 191.4h0M189.2 177.5h0M189.9 170.8h0M190.2 171.9h0M190.1 187.3h0M190.6 195.7h0M191.7 174.2h0M189.6 169.1h0M190.3 170.8h0M191.8 170.7h0M191.3 167.8h0M191.2 183.2h0M191.2 174.7h0M189.3 187.8h0M191.4 177.5h0M190.6 197.0h0M191.2 172.5h0M191.8 178.9h0M190.3 182.6h0M190.0 169.4h0M189.5 169.5h0M191.8 162.6h0M189.6 178.3h0M190.9 181.4h0M191.9 188.4h0M190.5 169.4h0M189.5 182.7h0M190.7 170.3h0M191.4 178.6h0M190.2 188.2h0M190.2 186.9h0M189.2 202.2h0M191.6 202.7h0M190.1 185.7h0M189.7 187.5h0M189.2 177.8h0M191.0 180.0h0M189.6 186.2h0"/></g>
<g stroke="rgb(0,0,240)" stroke-opacity="0.4"><path d="M194.5 174.8h0M196.7 185.4h0M196.2 189.7h0M196.2 187.8h0M195.5 175.8h0M196.8 171.9h0M196.5 172.9h0M195.0 186.4h0M196.7 190.8h0M196.8 174.3h0M195.7 182.0h0"/><path d="M195.9 183.5h0M196.6 174.9h0M197.0 187.3h0M196.2 187.5h0M196.2 174.2h0M195.0 188.5h0M195.3 189.2h0M195.1 181.7h0M195.5 179.5h0M194.7 171.6h0"/><path d="M194.9 183.8h0M196.6 171.8h0M196.3 177.0h0M197.0 191.7h0M197.2 181.3h0M195.3 185.4h0M196.9 178.8h0M195.6 176.1h0M195.3 185.8h0M195.6 176.8h0"/><path d="M195.2 172.6h0M194.5 169.7h0M196.2 172.5h0M195.5 170.5h0M197.2 179.1h0M195.8 184.9h0M195.8 180.2h0M194.5 177.6h0M195.9 179.9h0M196.0 180.3h0"/><path d="M196.1 179.8h0M195.5 171.1h0M194.9 182.7h0M195.8 177.4h0M194.9 186.4h0M196.7 177.4h0M195.8 174.3h0M196.2 182.4h0M196.5 188.8h0M196.9 174.4h0"/></g>
<g stroke="rgb(240,0,0)" stroke-opacity="0.4"><path d="M201.6 189.9h0M202.3 182.3h0M202.4 169.8h0M199.9 197.6h0M201.5 170.4h0M201.0 195.0h0M201.1 164.7h0M200.1 190.2h0M201.2 181.5h0M200.7 185.7h0M202.3 181.8h0M201.9 165.3h0M201.4 189.3h0M201.5 183.9h0M200.1 172.8h0M200.1 189.6h0M200.8 173.4h0M202.0 180.5h0"/><path d="M200.2 188.7h0M201.0 171.1h0M202.5 196.9h0M202.1 175.7h0M200.2 180.3h0M200.0 180.4h0M199.8 179.7h0M200.9 191.8h0M200.8 186.4h0M200.9 177.1h0M201.8 175.8h0M201.4 195.0h0M202.5 179.6h0M200.8 186.8h0M200.9 183.5h0M201.2 175.0h0M200.9 189.3h0M202.1 187.0h0"/><path d="M201.5 174.8h0M200.9 187.6h0M200.8 179.8h0M200.3 189.7h0M199.8 191.9h0M202.1 193.3h0M200.1 175.2h0M200.2 181.3h0M200.5 194.1h0M200.4 174.6h0M201.2 165.6h0M200.8 185.5h0M201.1 189.5h0M200.8 195.5h0M200.5 173.3h0M199.8 179.7h0M200.6 174.4h0"/><path d="M201.3 186.2h0M201.9 170.5h0M201.7 184.2h0M201.8 196.5h0M201.5 184.8h0M200.9 193.2h0M200.9 169.7h0M200.3 187.6h0M201.5 191.8h0M201.5 182.3h0M200.2 183.0h0M200.0 168.2h0M201.6 192.5h0M200.3 176.4h0M200.9 194.0h0M201.0 184.1h0M200.2 196.0h0"/><path d="M200.0 188.4h0M201.6 182.3h0M201.6 171.5h0M202.4 169.9h0M201.7 194.6h0M200.4 178.4h0M200.5 179.6h0M201.4 197.1h0M202.6 185.8h0M201.8 172.0h0M200.3 184.5h0M201.5 174.4h0M201.2 187.7h0M200.7 184.4h0M199.9 187.8h0M199.9 182.9h0M200.4 182.4h0"/></g>
<g stroke="rgb(240,0,0)" stroke-opacity="0.4"><path d="M206.7 179.6h0M206.5 174.0h0M206.8 190.0h0M207.2 179.5h0M207.5 177.1h0M206.9 181.8h0M206.6 187.7h0M206.6 193.9h0M207.1 175.5h0M205.6 198.2h0M206.0 186.9h0M205.1 183.0h0M206.8 182.7h0M207.0 177.8h0M206.6 170.4h0M206.3 188.8h0M206.9 190.5h0M205.4 184.7h0M205.5 165.1h0M206.1 163.6h0M205.8 203.6h0M207.6 170.9h0M206.0 182.2h0M206.4 172.2h0M205.9 185.5h0M207.4 186.2h0M206.0 185.7h0M205.1 187.5h0M207.9 167.6h0M207.2 181.9h0M207.1 194.9h0M207.3 191.8h0M207.2 197.6h0M205.8 200.0h0M205.1 181.4h0M206.1 170.6h0M207.0 189.6h0M205.4 165.0h0M205.1 188.4h0M207.4 171.3h0M206.4 186.4h0M205.6 188.4h0M206.8 191.3h0M205.5 184.1h0M205.6 179.3h0M205.8 186.3h0M206.0 190.0h0M207.4 169.2h0M205.7 184.8h0M205.6 193.7h0M206.5 185.2h0M207.1 192.1h0M205.9 185.5h0M207.4 180.0h0M206.8 171.9h0M207.5 191.5h0M206.7 195.6h0M207.9 178.5h0M206.8 165.6h0M205.8 170.0h0M206.8 173.3h0"/><path d="M206.5 199.1h0M205.5 179.5h0M205.1 176.5h0M206.0 180.6h0M206.9 168.3h0M207.9 184.1h0M205.4 201.2h0M207.1 175.2h0M206.4 197.0h0M207.4 187.3h0M206.5 177.5h0M207.3 176.7h0M205.1 192.6h0M205.2 171.8h0M205.3 179.2h0M206.2 187.5h0M206.7 193.8h0M206.8 164.5h0M205.8 188.2h0M205.2 182.9h0M207.7 194.7h0M207.7 161.9h0M206.6 195.7h0M206.5 198.7h0M205.3 180.1h0M207.4 181.3h0M205.3 183.8h0M207.3 166.9h0M207.5 185.9h0M206.4 195.0h0M205.9 191.0h0M207.1 166.2h0M205.5 181.5h0M207.7 192.4h0M206.7 184.4h0M207.2 188.1h0M206.8 193.4h0M205.4 194.0h0M206.7 169.4h0M205.9 190.9h0M207.4 185.2h0M205.8 174.2h0M205.3 179.4h0M206.0 194.0h0M206.5 185.9h0M205.8 193.0h0M207.2 199.4h0M207.9 172.7h0M207.0 192.0h0M205.6 194.6h0M206.7 180.0h0M206.5 190.9h0M207.0 186.6h0M205.7 178.9h0M205.1 194.0h0M207.4 197.9h0M206.7 186.2h0M205.9 185.7h0M205.9 169.4h0M207.8 175.1h0M205.9 188.2h0"/><path d="M207.9 179.8h0M205.5 189.6h0M206.8 177.4h0M207.1 188.6h0M205.6 168.1h0M205.6 192.9h0M205.7 183.2h0M205.3 199.2h0M206.4 168.2h0M207.0 188.6h0M207.3 199.5h0M207.8 177.1h0M205.1 188.4h0M205.5 173.6h0M205.2 185.8h0M207.9 183.3h0M206.7 174.5h0M206.3 185.7h0M207.3 167.8h0M205.3 202.6h0M206.8 181.2h0M206.7 179.0h0M207.8 187.1h0M207.3 181.7h0M207.7 189.9h0M206.0 198.9h0M205.3 174.7h0M206.0 181.0h0M207.1 186.9h0M206.9 195.3h0M206.3 204.3h0M205.8 198.3h0M206.8 192.4h0M205.1 187.1h0M206.8 181.3h0M206.3 187.6h0M207.1 196.3h0M207.8 167.0h0M205.1 183.1h0M206.5 199.5h0M207.0 182.8h0M205.4 183.0h0M206.0 196.4h0M205.4 203.9h0M205.3 194.7h0M205.3 183.9h0M206.5 186.9h0M206.0 183.4h0M207.8 193.9h0M206.1 162.6h0M206.9 189.9h0M205.5 186.1h0M206.1 204.5h0M205.5 177.4h0M205.2 184.3h0M206.3 184.7h0M205.3 181.7h0M206.8 202.3h0M207.7 185.3h0M206.2 166.0h0M206.6 163.9h0"/><path d="M207.4 179.7h0M205.6 184.5h0M206.5 191.6h0M206.7 177.2h0M207.2 171.7h0M206.2 185.8h0M207.3 183.6h0M206.4 184.4h0M207.4 179.3h0M206.2 194.3h0M206.8 186.3h0M207.4 196.7h0M207.6 169.3h0M207.5 200.9h0M205.3 184.2h0M206.6 184.2h0M205.4 190.8h0M207.1 181.1h0M206.8 185.0h0M206.2 178.8h0M205.4 184.9h0M205.3 192.3h0M206.7 188.7h0M206.4 169.4h0M206.9 178.6h0M206.5 165.6h0M205.9 179.0h0M205.1 182.3h0M207.8 194.2h0M205.4 201.7h0M207.7 175.6h0M207.2 182.4h0M206.0 183.1h0M207.6 162.8h0M207.3 201.3h0M205.1 185.4h0M205.8 179.1h0M206.3 172.9h0M206.3 172.9h0M206.2 183.1h0M205.8 186.9h0M205.5 183.3h0M206.5 184.5h0M206.7 184.6h0M207.5 175.6h0M205.3 187.0h0M207.9 188.8h0M207.7 183.4h0M206.4 174.8h0M207.1 186.8h0M205.2 179.6h0M207.4 194.2h0M205.7 184.8h0M205.6 166.4h0M206.3 179.6h0M206.4 196.9h0M207.9 177.2h0M205.4 180.2h0M206.8 188.1h0M207.5 164.4h0"/><path d="M205.1 185.0h0M206.7 188.8h0M205.6 163.0h0M207.4 186.6h0M205.1 161.7h0M207.3 185.4h0M205.4 188.4h0M207.4 186.2h0M207.0 186.9h0M206.7 178.9h0M207.0 177.4h0M205.9 201.4h0M205.2 171.2h0M206.7 177.6h0M207.3 188.8h0M205.9 178.2h0M207.0 173.0h0M206.2 195.9h0M206.2 163.4h0M206.0 176.6h0M205.6 177.8h0M207.1 193.1h0M205.2 169.0h0M206.5 171.5h0M207.2 189.9h0M207.9 180.6h0M206.0 192.9h0M206.0 203.4h0M205.1 189.2h0M205.3 172.2h0M206.6 168.1h0M207.4 202.1h0M205.9 168.1h0M207.1 196.6h0M205.4 204.7h0M206.0 182.9h0M207.3 180.1h0M205.2 177.9h0M205.5 165.0h0M205.6 169.5h0M205.4 188.1h0M207.2 191.9h0M207.3 181.3h0M207.5 196.2h0M206.0 195.3h0M207.7 192.2h0M206.5 182.9h0M207.5 190.8h0M206.1 199.6h0M205.3 184.7h0M205.6 186.0h0M207.9 181.4h0M207.9 188.0h0M207.9 194.6h0M205.1 191.5h0M206.0 174.1h0M205.4 182.6h0M207.7 185.2h0M205.4 172.6h0M207.3 181.2h0"/></g>
<g stroke="rgb(240,0,0)" stroke-opacity="0.4"><path d="M213.2 185.3h0M213.2 175.0h0M212.8 184.1h0M210.7 185.1h0M210.9 181.1h0M211.5 185.9h0M212.1 189.5h0M212.0 188.8h0M212.4 180.4h0M211.6 187.3h0M211.6 171.6h0M212.0 182.9h0M211.6 187.0h0M210.5 176.9h0M211.3 195.8h0M212.9 177.2h0M212.0 185.7h0M212.3 207.4h0M210.7 193.3h0M210.7 183.9h0M212.4 177.2h0M211.8 169.7h0M212.5 211.1h0M212.2 191.3h0M210.7 193.8h0M210.9 177.7h0M210.7 189.5h0M211.8 197.7h0M210.5 179.5h0M212.7 186.5h0M212.6 171.9h0M212.9 180.5h0M211.5 196.0h0M212.1 177.9h0M212.1 186.8h0M211.0 174.9h0"/><path d="M212.9 178.7h0M213.0 173.9h0M211.6 184.3h0M212.2 200.8h0M210.5 174.3h0M211.5 186.0h0M212.6 211.4h0M210.4 178.2h0M210.7 184.7h0M212.3 187.5h0M210.9 176.2h0M211.4 191.5h0M211.0 207.1h0M211.7 189.7h0M210.6 212.3h0M210.5 190.6h0M212.3 194.8h0M212.0 189.5h0M210.5 194.9h0M210.7 188.5h0M213.1 186.7h0M212.9 172.4h0M210.7 192.5h0M213.1 171.6h0M212.4 182.7h0M210.5 186.3h0M212.1 183.7h0M211.4 196.0h0M212.2 172.3h0M211.4 193.5h0M212.8 182.7h0M211.3 173.5h0M212.8 219.7h0M211.1 192.1h0M212.6 213.4h0M211.2 187.1h0"/><path d="M211.8 190.3h0M210.8 190.7h0M212.3 182.2h0M210.8 180.4h0M213.1 187.6h0M213.0 193.7h0M211.2 191.0h0M211.1 184.6h0M212.4 194.7h0M211.3 175.8h0M211.2 188.3h0M212.3 192.3h0M213.0 182.9h0M212.6 177.8h0M213.1 183.8h0M213.2 218.6h0M210.9 211.7h0M210.9 200.8h0M211.1 176.1h0M210.6 172.7h0M212.9 203.9h0M211.7 190.6h0M213.0 191.4h0M213.0 184.2h0M211.6 189.5h0M212.9 165.7h0M210.5 195.3h0M210.4 192.4h0M212.8 180.2h0M210.6 182.6h0M211.0 172.4h0M210.6 182.8h0M211.7 191.3h0M213.2 167.4h0M211.2 193.0h0M211.4 201.4h0"/><path d="M213.2 190.8h0M211.8 198.0h0M212.2 175.0h0M211.7 173.4h0M211.3 178.4h0M212.0 191.8h0M211.7 182.1h0M213.1 191.8h0M211.4 182.9h0M212.3 205.6h0M213.2 191.0h0M211.7 178.5h0M212.9 189.9h0M211.6 183.0h0M210.8 182.0h0M211.0 180.4h0M211.9 180.7h0M210.9 195.2h0M212.5 192.6h0M212.0 177.7h0M210.9 185.3h0M210.8 177.3h0M211.2 183.5h0M211.7 188.8h0M212.9 176.4h0M212.1 193.4h0M213.2 185.1h0M210.6 219.2h0M211.5 185.7h0M211.8 165.1h0M213.0 199.2h0M212.9 188.9h0M211.2 188.2h0M212.6 191.4h0M210.4 185.7h0"/><path d="M211.8 194.1h0M211.1 178.9h0M212.8 194.6h0M211.2 178.1h0M213.1 201.3h0M212.1 175.1h0M210.9 186.7h0M211.3 181.9h0M210.8 185.7h0M211.5 181.2h0M211.0 207.5h0M213.2 185.2h0M213.1 177.8h0M212.6 190.0h0M213.1 171.4h0M210.8 179.0h0M211.2 203.3h0M211.4 182.5h0M210.4 174.0h0M212.8 177.3h0M211.5 198.5h0M211.8 168.3h0M211.4 190.3h0M210.8 195.5h0M211.7 219.0h0M212.7 202.5h0M212.3 174.8h0M211.3 176.6h0M212.7 177.0h0M212.1 192.8h0M210.7 196.1h0M212.1 173.5h0M212.0 209.3h0M210.6 174.3h0M211.4 173.0h0"/></g>
<g stroke="rgb(240,0,0)" stroke-opacity="0.4"><path d="M216.8 183.1h0M217.2 182.4h0M216.3 182.6h0M216.4 176.7h0M217.9 179.6h0M217.2 178.4h0M216.3 197.8h0M217.2 179.7h0M217.8 187.1h0M216.9 190.2h0M218.3 188.0h0M216.5 180.5h0M217.7 173.3h0M215.9 194.0h0M216.8 175.4h0M216.0 185.7h0M218.3 188.2h0M215.9 191.7h0M218.2 190.3h0M216.5 194.4h0M217.2 190.3h0M216.0 185.1h0M215.8 176.2h0M217.6 190.7h0M217.1 179.0h0M217.9 195.5h0M217.8 179.4h0M217.3 188.6h0M217.3 186.6h0M217.3 189.5h0M215.9 178.3h0M216.4 176.3h0M217.3 178.6h0M217.7 190.6h0M218.0 182.2h0M217.2 178.1h0"/><path d="M216.3 190.8h0M215.8 174.5h0M217.5 187.0h0M216.5 181.6h0M216.0 195.6h0M216.3 191.3h0M218.2 183.0h0M216.7 185.8h0M216.8 183.1h0M215.7 181.9h0M217.0 189.6h0M216.5 179.5h0M216.6 180.5h0M216.2 194.2h0M217.2 188.8h0M217.2 195.4h0M216.6 175.6h0M217.7 174.3h0M218.1 190.2h0M218.0 180.7h0M217.8 179.5h0M217.4 184.7h0M216.1 191.2h0M216.2 182.0h0M217.0 186.6h0M216.6 194.0h0M218.1 178.6h0M215.7 195.7h0M218.5 194.4h0M216.3 185.9h0M216.5 183.6h0M218.0 195.9h0M218.0 175.8h0M217.4 178.8h0M215.9 176.5h0M218.3 186.1h0"/><path d="M218.2 177.0h0M217.1 173.1h0M217.5 191.3h0M218.2 178.6h0M217.0 188.5h0M218.3 181.1h0M216.5 191.7h0M216.8 192.2h0M218.3 185.4h0M216.8 187.0h0M215.8 189.7h0M216.8 192.5h0M216.6 195.4h0M217.9 189.2h0M217.7 195.0h0M217.9 180.7h0M217.7 191.4h0M216.0 187.3h0M217.9 180.2h0M218.5 182.2h0M218.3 189.8h0M217.1 190.1h0M216.5 191.8h0M216.5 179.3h0M216.6 183.7h0M215.9 177.1h0M215.9 186.7h0M216.9 178.6h0M218.3 190.1h0M215.8 188.3h0M218.3 185.2h0M216.5 178.0h0M216.8 191.3h0M218.2 184.9h0M215.7 196.8h0M216.2 180.4h0"/><path d="M218.3 183.9h0M216.5 184.5h0M216.8 183.3h0M215.8 185.5h0M216.3 178.7h0M216.5 185.8h0M217.4 190.0h0M216.6 178.1h0M218.1 188.5h0M216.2 185.5h0M218.5 180.1h0M215.8 193.1h0M217.2 175.3h0M217.3 181.2h0M217.0 189.7h0M217.4 186.7h0M216.4 182.4h0M217.3 177.3h0M217.6 181.1h0M217.8 195.1h0M218.1 186.4h0M217.4 192.4h0M217.2 180.3h0M216.2 193.1h0M218.3 196.3h0M218.0 193.4h0M216.3 185.9h0M217.7 189.5h0M217.0 185.7h0M217.9 187.1h0M218.4 190.8h0M215.9 184.8h0M218.4 181.3h0M217.3 170.8h0M215.9 178.0h0M216.0 187.1h0"/><path d="M217.9 176.2h0M217.1 176.5h0M216.9 167.4h0M217.5 187.7h0M215.8 193.9h0M216.9 177.1h0M218.3 189.4h0M215.7 182.8h0M215.9 188.6h0M218.1 180.0h0M216.5 195.7h0M216.6 187.9h0M216.7 174.3h0M216.2 179.5h0M216.4 185.1h0M218.1 187.3h0M217.5 185.2h0M216.6 195.1h0M215.9 194.6h0M216.2 184.1h0M216.7 188.0h0M217.6 191.6h0M218.0 189.2h0M216.3 182.8h0M216.5 183.5h0M216.9 185.1h0M216.2 177.1h0M217.8 188.5h0M218.0 183.8h0M216.3 178.9h0M218.4 189.5h0M216.1 183.8h0M215.7 190.1h0M217.3 193.3h0M218.2 191.9h0"/></g>
<g stroke="rgb(240,0,0)" stroke-opacity="0.4"><path d="M221.1 183.9h0M223.0 203.2h0M222.0 194.6h0M223.3 178.7h0M222.7 186.5h0M223.0 189.6h0M221.5 173.4h0M222.8 177.9h0M221.9 195.9h0M223.6 188.5h0M221.4 188.4h0M221.2 203.0h0M221.0 194.5h0M222.3 181.2h0M223.0 188.6h0M221.2 190.5h0M221.0 182.9h0M221.7 203.9h0M222.4 177.9h0M222.6 177.3h0M222.5 196.8h0M222.0 187.2h0M222.9 176.0h0M222.9 184.3h0M221.3 205.6h0M222.2 184.1h0M223.5 184.1h0M223.5 185.8h0M222.9 184.0h0M223.1 177.5h0M222.7 185.8h0M222.3 179.7h0M221.6 180.8h0M222.5 190.8h0M221.3 175.1h0M222.9 188.2h0M222.5 184.0h0M223.2 185.7h0M223.3 177.4h0M221.9 178.5h0M223.1 207.2h0M221.3 189.2h0M222.2 185.9h0M221.7 177.8h0M221.5 178.8h0M221.6 178.6h0M221.0 188.5h0M221.4 179.1h0M221.0 179.9h0M222.0 185.3h0M222.4 188.7h0M222.3 180.5h0M223.6 188.4h0M222.7 177.5h0M221.3 175.4h0M222.6 198.4h0M221.1 195.4h0M223.6 188.9h0M223.1 180.5h0M223.4 196.0h0M222.7 180.3h0M223.7 203.4h0M223.1 187.8h0M222.5 178.3h0M222.6 191.0h0M223.6 178.4h0M221.2 189.5h0M222.4 203.2h0M222.5 183.1h0M222.9 185.6h0M223.6 176.6h0M223.5 180.5h0M223.3 199.1h0M222.1 198.8h0M223.6 178.4h0M221.5 187.2h0M222.6 179.3h0M223.4 174.7h0M222.3 177.6h0M221.4 187.3h0M222.4 181.7h0M222.0 173.4h0M222.2 182.5h0M222.3 175.8h0M221.5 176.9h0M221.4 191.4h0M221.8 198.2h0M221.3 196.8h0M221.7 194.2h0M223.6 182.3h0M221.2 197.7h0M221.1 207.6h0M222.4 188.4h0M223.5 185.7h0M222.6 179.3h0M223.3 173.8h0M223.3 181.7h0M221.5 190.3h0M223.5 193.0h0M221.7 180.0h0"/><path d="M222.7 178.8h0M221.5 183.8h0M221.1 199.0h0M223.4 176.7h0M222.7 200.1h0M221.5 176.5h0M223.0 180.0h0M221.1 182.5h0M222.8 192.1h0M222.3 187.9h0M221.4 178.9h0M222.0 177.2h0M222.0 190.7h0M221.4 180.8h0M222.1 180.6h0M223.7 206.2h0M223.0 180.1h0M221.9 195.3h0M222.2 178.0h0M222.9 174.7h0M221.8 182.6h0M222.6 196.8h0M221.2 193.1h0M222.3 189.0h0M223.0 193.5h0M223.2 176.0h0M222.6 181.3h0M221.6 188.0h0M222.4 191.1h0M221.9 204.3h0M223.0 186.7h0M222.2 204.7h0M221.9 175.9h0M222.4 176.5h0M222.2 189.4h0M222.6 192.6h0M221.5 199.2h0M222.2 207.4h0M221.2 173.0h0M222.7 177.5h0M222.9 189.4h0M222.9 177.7h0M221.4 183.0h0M221.8 193.8h0M222.2 178.8h0M222.3 173.8h0M222.1 191.8h0M221.3 188.9h0M221.7 178.8h0M221.3 175.6h0M222.3 206.9h0M223.0 176.8h0M222.0 189.4h0M221.7 180.9h0M222.0 204.4h0M221.1 175.0h0M223.8 178.9h0M221.6 186.7h0M222.2 178.9h0M221.7 181.4h0M223.3 176.1h0M223.6 175.4h0M223.0 207.2h0M223.5 182.8h0M222.3 182.9h0M221.4 187.5h0M223.2 179.2h0M221.6 179.8h0M223.8 194.4h0M221.0 176.3h0M223.0 175.1h0M221.6 185.0h0M223.4 183.3h0M223.7 195.2h0M222.8 200.9h0M222.8 176.2h0M222.2 191.9h0M222.4 182.8h0M221.1 178.8h0M222.9 176.7h0M221.4 189.1h0M221.5 185.9h0M222.6 181.2h0M221.6 175.1h0M222.9 186.5h0M222.9 195.3h0M222.9 176.8h0M221.5 177.9h0M223.8 193.6h0M222.0 190.6h0M222.3 180.6h0M223.8 189.3h0M222.5 190.2h0M221.5 183.8h0M222.2 204.2h0M221.9 175.3h0M223.4 192.0h0M222.0 188.7h0M222.8 182.7h0M223.3 198.2h0"/><path d="M221.8 190.6h0M221.0 177.9h0M223.8 176.8h0M222.8 182.0h0M221.0 175.9h0M222.5 178.1h0M223.8 193.7h0M221.2 186.1h0M221.1 194.3h0M222.4 188.5h0M222.0 179.6h0M221.8 193.4h0M222.1 179.1h0M223.7 177.9h0M222.6 181.0h0M223.2 177.2h0M223.2 181.2h0M223.6 179.8h0M221.7 179.0h0M223.6 176.7h0M221.0 186.2h0M221.9 179.1h0M221.3 179.2h0M223.8 183.1h0M222.7 176.1h0M222.4 189.2h0M222.4 199.8h0M221.1 185.9h0M222.5 178.2h0M223.1 179.0h0M222.3 178.8h0M221.8 194.7h0M223.6 186.1h0M223.1 200.6h0M221.3 189.9h0M222.9 180.3h0M222.6 178.2h0M222.6 175.9h0M221.1 200.0h0M221.1 179.0h0M221.0 180.3h0M223.8 194.3h0M223.4 191.4h0M223.6 188.8h0M223.0 183.2h0M222.0 183.1h0M223.1 189.1h0M222.0 192.8h0M222.1 179.8h0M223.1 176.2h0M221.0 183.1h0M222.4 183.4h0M223.8 195.5h0M223.7 201.2h0M222.0 200.5h0M222.1 177.2h0M221.9 196.1h0M221.8 176.5h0M221.1 181.7h0M222.0 176.1h0M222.0 188.4h0M221.3 191.9h0M222.2 178.3h0M222.7 180.5h0M222.9 189.1h0M221.9 188.5h0M221.5 204.7h0M222.4 193.7h0M223.8 182.1h0M221.3 207.7h0M221.0 190.8h0M221.3 199.4h0M223.1 184.7h0M223.5 185.4h0M221.4 177.8h0M221.3 178.8h0M221.8 200.0h0M221.7 186.6h0M222.9 175.6h0M223.4 179.4h0M222.0 178.8h0M222.4 190.6h0M222.9 196.8h0M221.7 176.4h0M222.4 192.7h0M223.0 188.7h0M221.2 190.5h0M221.5 178.7h0M221.1 177.5h0M221.5 188.5h0M222.0 191.7h0M221.8 179.0h0M221.7 186.8h0M222.4 181.5h0M223.1 176.2h0M221.8 183.2h0M222.4 190.1h0M223.6 183.4h0M221.5 190.4h0"/><path d="M222.6 192.1h0M221.7 201.9h0M223.8 187.2h0M223.6 204.9h0M221.5 207.5h0M222.9 190.0h0M222.6 187.2h0M223.0 177.2h0M223.1 185.0h0M223.2 186.9h0M221.1 189.1h0M223.5 201.1h0M221.8 178.7h0M222.9 199.1h0M223.7 205.8h0M223.7 192.8h0M221.4 198.3h0M221.9 187.4h0M222.4 176.2h0M223.5 184.4h0M222.7 180.0h0M223.5 180.3h0M223.2 178.4h0M222.4 187.0h0M223.7 189.7h0M223.2 177.0h0M223.3 178.8h0M223.1 176.2h0M223.5 175.4h0M222.0 198.1h0M223.3 177.1h0M223.4 176.1h0M223.1 194.3h0M223.8 202.7h0M221.1 187.0h0M221.9 184.9h0M222.7 185.6h0M222.6 207.9h0M222.7 188.3h0M221.3 183.6h0M221.9 200.7h0M221.0 178.3h0M222.8 175.7h0M223.4 176.5h0M222.5 178.0h0M222.5 175.7h0M221.2 204.4h0M221.3 200.4h0M222.8 179.6h0M222.8 189.8h0M223.3 183.9h0M221.4 179.3h0M221.7 187.1h0M222.2 191.6h0M221.8 205.0h0M222.8 191.9h0M223.5 189.9h0M222.6 186.8h0M221.4 189.9h0M222.6 175.8h0M221.0 175.6h0M223.7 181.7h0M222.7 179.3h0M221.0 185.8h0M223.4 198.4h0M223.5 177.8h0M221.5 194.9h0M223.8 176.5h0M222.3 183.6h0M221.1 178.4h0M221.1 192.1h0M223.1 188.2h0M221.6 187.2h0M223.1 187.0h0M223.2 195.8h0M223.0 177.4h0M222.8 184.3h0M221.7 186.8h0M222.6 199.8h0M223.8 206.5h0M223.5 182.7h0M222.3 176.5h0M223.3 175.2h0M223.5 184.1h0M222.8 206.2h0M222.5 184.5h0M222.3 177.2h0M222.7 184.7h0M222.7 190.8h0M222.8 194.2h0M223.6 200.5h0M222.5 177.1h0M221.8 175.9h0M221.5 199.0h0M222.6 204.5h0M222.4 185.2h0M221.1 184.2h0M221.4 178.9h0M223.0 180.7h0"/><path d="M222.3 191.7h0M221.8 186.7h0M221.0 191.7h0M223.4 191.5h0M221.9 197.6h0M223.4 206.9h0M222.8 189.5h0M222.4 180.6h0M223.2 186.1h0M221.7 184.3h0M222.1 200.2h0M222.6 176.1h0M221.9 195.2h0M223.4 185.5h0M223.4 176.2h0M221.3 205.0h0M222.6 187.9h0M221.7 184.3h0M222.3 202.3h0M221.2 200.4h0M223.0 188.8h0M222.1 180.4h0M223.5 206.1h0M222.0 176.3h0M222.0 190.4h0M223.8 175.8h0M223.1 206.4h0M221.5 179.9h0M223.2 185.9h0M222.3 190.6h0M221.1 187.3h0M221.8 182.2h0M222.6 184.8h0M223.8 189.2h0M221.5 203.1h0M221.3 181.6h0M221.3 190.3h0M222.5 186.9h0M221.8 207.6h0M221.6 176.8h0M223.2 179.5h0M223.4 187.9h0M221.5 204.0h0M222.2 176.8h0M221.7 177.0h0M222.4 188.8h0M222.8 187.9h0M223.8 183.6h0M221.8 195.8h0M222.3 185.6h0M222.9 199.9h0M222.2 181.2h0M222.3 207.9h0M223.5 178.8h0M221.3 181.3h0M222.8 195.3h0M221.5 193.7h0M222.2 177.9h0M223.8 191.2h0M221.7 177.3h0M221.8 175.9h0M223.2 186.4h0M223.3 196.9h0M222.8 191.9h0M221.8 184.8h0M222.9 194.5h0M223.1 185.7h0M221.3 177.5h0M222.8 188.8h0M222.5 180.3h0M222.2 184.0h0M222.0 193.1h0M223.4 183.6h0M222.0 191.3h0M223.2 185.9h0M221.0 207.7h0M223.7 190.1h0M222.4 182.2h0M221.7 181.4h0M221.3 188.2h0M221.3 178.0h0M222.5 205.3h0M221.8 178.6h0M221.1 189.8h0M222.6 206.0h0M222.7 175.9h0M222.7 181.1h0M223.3 184.3h0M222.3 175.5h0M222.6 204.1h0M221.8 176.2h0M222.8 196.7h0M221.9 202.8h0M223.6 188.2h0M221.5 180.9h0M221.0 175.9h0M222.3 186.7h0M221.3 184.7h0M223.7 186.7h0"/></g>
<g stroke="rgb(0,0,240)" stroke-opacity="0.4"><path d="M226.3 177.5h0M228.6 182.8h0M226.3 178.2h0M227.0 183.3h0M227.3 191.0h0M227.7 191.7h0M228.7 178.7h0M228.6 189.7h0M228.4 182.9h0M228.8 177.4h0M228.9 189.5h0"/><path d="M226.8 177.0h0M228.3 187.2h0M229.0 182.7h0M228.6 184.5h0M226.6 179.8h0M226.3 180.5h0M227.2 186.5h0M227.2 178.5h0M227.6 195.5h0M226.7 179.9h0M227.1 193.0h0"/><path d="M227.0 177.0h0M228.8 178.4h0M227.9 177.5h0M227.6 177.9h0M228.5 180.6h0M227.9 179.6h0M227.2 190.1h0M226.3 182.9h0M227.6 190.2h0M227.3 180.5h0"/><path d="M227.9 193.3h0M228.0 190.2h0M228.0 177.6h0M227.6 178.8h0M228.4 177.7h0M226.6 179.8h0M228.2 180.9h0M229.0 177.6h0M229.0 177.8h0M228.8 191.9h0"/><path d="M227.1 189.3h0M228.1 179.9h0M226.3 184.2h0M226.7 190.9h0M228.0 183.4h0M228.4 194.1h0M228.3 190.3h0M226.9 194.9h0M227.7 182.4h0M228.8 188.0h0"/></g>
<g stroke="rgb(240,0,0)" stroke-opacity="0.4"><path d="M232.7 211.8h0M232.9 213.8h0M233.3 195.3h0M234.2 198.0h0M231.8 204.1h0M233.2 213.2h0M232.1 203.2h0M232.3 216.1h0M234.0 217.4h0M233.9 213.7h0M232.7 203.5h0M233.2 193.6h0M232.2 218.0h0M234.1 214.0h0M234.0 210.9h0M233.8 212.5h0M233.8 205.4h0M233.7 208.8h0M233.6 205.0h0M233.0 211.6h0M231.6 195.7h0M233.2 216.8h0M233.0 196.0h0M232.3 196.7h0M231.9 206.2h0M232.5 211.1h0M232.2 206.4h0M234.2 198.1h0M233.2 203.1h0M231.8 205.8h0M232.4 210.1h0M233.6 195.0h0M232.4 217.3h0M233.7 202.8h0"/><path d="M234.0 217.8h0M234.1 221.7h0M231.7 217.1h0M233.0 219.1h0M233.6 210.7h0M233.1 202.6h0M232.2 204.7h0M232.2 205.0h0M232.9 214.2h0M232.8 205.5h0M232.3 197.7h0M233.1 198.5h0M232.0 204.1h0M232.3 195.6h0M231.9 198.3h0M233.2 210.8h0M231.8 211.7h0M231.6 203.8h0M233.4 204.6h0M233.0 204.5h0M234.4 206.4h0M234.1 213.7h0M233.7 198.6h0M231.6 201.5h0M232.6 214.6h0M234.2 210.9h0M234.0 206.9h0M232.1 202.7h0M233.1 211.5h0M231.6 202.4h0M233.1 219.0h0M232.1 205.2h0M231.6 219.1h0"/><path d="M233.9 214.9h0M233.0 197.3h0M233.2 216.7h0M234.4 196.8h0M232.1 213.2h0M232.6 204.5h0M233.2 212.5h0M233.6 193.9h0M234.2 219.7h0M232.2 199.8h0M234.3 194.2h0M231.9 217.1h0M231.6 220.3h0M231.7 196.9h0M234.2 214.0h0M232.0 196.8h0M233.7 214.1h0M232.9 201.0h0M232.2 216.2h0M234.3 206.4h0M233.1 193.3h0M231.7 200.9h0M232.1 206.4h0M232.4 207.9h0M234.0 193.9h0M232.1 192.5h0M231.8 199.3h0M231.8 214.4h0M232.2 198.5h0M233.6 208.3h0M234.0 208.0h0M234.1 218.8h0M232.2 204.2h0"/><path d="M233.5 195.7h0M233.8 202.3h0M234.1 209.0h0M232.9 198.3h0M232.1 201.4h0M233.3 219.2h0M232.2 217.3h0M233.6 202.9h0M232.4 201.5h0M233.2 198.9h0M233.6 201.6h0M233.9 190.6h0M232.1 215.6h0M233.3 202.8h0M233.1 196.5h0M234.0 209.7h0M231.9 197.4h0M233.5 220.7h0M233.6 212.5h0M231.8 195.1h0M231.7 213.8h0M233.7 196.4h0M232.1 200.6h0M233.3 209.9h0M233.6 196.5h0M233.3 209.6h0M233.0 206.7h0M231.7 215.2h0M231.8 215.3h0M231.9 210.0h0M232.2 217.2h0M231.7 208.5h0M231.8 215.8h0"/><path d="M231.8 209.3h0M233.8 210.6h0M232.6 215.3h0M231.9 203.3h0M231.8 205.6h0M233.2 192.1h0M231.6 211.7h0M232.7 190.7h0M232.2 197.9h0M232.7 204.7h0M233.3 210.8h0M232.0 203.1h0M233.6 209.2h0M231.7 204.6h0M233.6 209.2h0M233.5 192.5h0M233.6 196.7h0M234.1 215.5h0M234.0 207.1h0M232.5 202.1h0M234.3 203.8h0M233.7 213.5h0M234.3 210.4h0M232.9 202.3h0M232.3 211.3h0M232.4 204.0h0M231.8 198.9h0M232.2 197.1h0M231.7 204.3h0M233.5 211.1h0M232.1 209.0h0M232.8 201.0h0M233.5 205.6h0"/></g>
<g stroke="rgb(0,0,240)" stroke-opacity="0.4"><path d="M238.3 209.1h0M237.3 184.7h0"/><path d="M238.3 183.5h0M237.8 178.9h0"/><path d="M237.7 201.3h0M239.4 178.5h0"/><path d="M239.0 209.2h0M238.4 209.5h0"/><path d="M237.6 209.9h0M237.5 209.0h0"/></g>
<g stroke="rgb(240,0,0)" stroke-opacity="0.4"><path d="M244.0 201.7h0M243.9 189.4h0M243.6 184.7h0M244.4 204.6h0M243.4 180.2h0M242.7 194.8h0M244.3 170.8h0M243.7 159.1h0M244.5 171.6h0M243.5 185.5h0M242.9 202.9h0M243.4 189.8h0M243.7 196.9h0M244.1 175.3h0M243.7 189.2h0M242.4 199.6h0M244.9 186.0h0M242.4 185.1h0M244.5 191.9h0M244.8 165.5h0M244.1 174.2h0M243.5 186.3h0M242.3 168.1h0M242.6 162.9h0M244.7 166.9h0M242.5 198.4h0M244.4 189.1h0M243.3 180.4h0M243.9 174.2h0M243.9 194.7h0M243.8 200.2h0M243.6 188.4h0M243.0 198.2h0M242.3 180.3h0M244.9 178.2h0M242.8 184.4h0M242.3 200.8h0M242.7 189.5h0M244.6 187.9h0M243.0 155.0h0M242.4 187.4h0M243.4 191.6h0M243.3 179.0h0M244.8 177.2h0M244.9 191.2h0M242.7 196.7h0M243.8 200.0h0M242.6 182.2h0M242.9 165.4h0M244.9 170.3h0M244.8 180.9h0M244.8 175.6h0"/><path d="M242.5 166.8h0M244.7 165.0h0M244.4 154.1h0M244.9 178.8h0M244.7 192.0h0M244.5 205.2h0M243.4 185.0h0M242.6 188.7h0M243.9 179.5h0M244.4 189.8h0M244.4 178.9h0M243.3 163.9h0M242.7 191.6h0M242.6 187.0h0M244.5 184.3h0M244.1 181.1h0M243.4 186.1h0M243.6 184.3h0M244.9 178.7h0M243.5 168.5h0M242.6 187.7h0M242.5 183.4h0M244.4 184.0h0M244.4 188.6h0M242.8 176.2h0M243.3 196.1h0M245.0 186.8h0M243.2 181.8h0M242.3 197.2h0M244.2 194.7h0M243.1 185.3h0M242.8 201.8h0M242.5 191.5h0M244.2 186.8h0M242.2 189.4h0M243.8 177.5h0M244.1 189.3h0M244.5 159.7h0M244.5 160.5h0M243.6 178.6h0M243.5 201.6h0M242.2 195.1h0M243.4 182.4h0M243.6 178.8h0M244.1 185.4h0M245.0 182.1h0M244.2 177.3h0M244.9 198.3h0M243.3 175.9h0M243.9 179.1h0M243.7 181.2h0M244.4 201.9h0"/><path d="M245.0 184.5h0M243.8 170.7h0M244.1 199.4h0M243.1 168.8h0M243.7 189.8h0M243.6 196.0h0M244.9 181.3h0M243.9 194.1h0M243.9 178.6h0M243.8 165.4h0M244.4 185.4h0M243.2 194.1h0M243.0 199.2h0M242.7 184.1h0M242.7 177.3h0M244.2 169.4h0M244.2 199.1h0M243.8 176.9h0M243.1 186.3h0M242.7 188.6h0M243.4 192.5h0M244.9 199.2h0M244.2 187.5h0M243.5 176.5h0M242.8 165.6h0M243.4 199.6h0M244.6 187.6h0M243.8 176.1h0M244.3 189.5h0M243.6 193.9h0M242.3 184.4h0M242.8 180.4h0M243.0 194.3h0M244.7 164.6h0M243.6 177.6h0M243.4 186.3h0M244.8 182.0h0M243.2 186.8h0M243.7 150.2h0M243.1 183.6h0M242.8 180.1h0M244.1 168.8h0M243.0 185.5h0M243.4 172.3h0M243.7 172.0h0M244.0 192.1h0M242.6 200.8h0M243.7 177.9h0M242.9 163.8h0M243.5 176.6h0M242.6 189.5h0M244.4 176.5h0"/><path d="M244.9 181.4h0M243.9 185.9h0M243.1 205.7h0M244.9 189.9h0M243.2 163.1h0M244.0 175.1h0M244.2 200.1h0M242.9 193.7h0M245.0 190.3h0M243.6 181.0h0M244.9 179.2h0M243.7 201.7h0M242.4 189.2h0M242.7 191.8h0M243.4 158.4h0M243.3 188.5h0M242.5 202.6h0M244.8 198.1h0M244.4 163.9h0M244.3 188.1h0M243.5 205.9h0M245.0 170.9h0M242.7 196.4h0M242.3 190.9h0M242.5 200.1h0M243.0 182.0h0M242.7 182.9h0M244.6 195.5h0M244.1 199.3h0M244.1 200.5h0M244.8 177.4h0M244.6 161.4h0M243.4 181.5h0M244.4 179.6h0M243.8 198.9h0M243.9 186.1h0M243.8 187.9h0M242.3 182.3h0M243.6 172.0h0M243.3 190.3h0M243.6 186.5h0M244.3 188.2h0M243.8 189.0h0M243.3 189.3h0M242.4 175.9h0M243.0 182.5h0M244.9 196.8h0M244.4 189.7h0M243.7 186.8h0M243.6 182.7h0M244.3 172.1h0M244.8 196.1h0"/><path d="M243.3 158.1h0M243.0 180.5h0M243.5 203.4h0M242.2 199.4h0M242.8 192.3h0M244.7 200.5h0M243.8 196.9h0M242.8 199.2h0M243.0 193.5h0M244.8 185.9h0M245.0 187.3h0M243.5 186.5h0M242.8 189.2h0M242.7 193.9h0M244.0 161.9h0M243.9 195.0h0M242.8 171.3h0M242.2 187.9h0M244.1 172.3h0M244.3 200.4h0M245.0 191.5h0M242.2 187.6h0M242.7 178.6h0M242.9 185.6h0M243.6 181.1h0M242.2 189.9h0M243.6 190.3h0M243.6 184.1h0M243.9 157.1h0M242.4 175.4h0M245.0 178.1h0M242.3 190.2h0M244.0 182.7h0M243.1 182.8h0M242.8 184.1h0M242.4 195.8h0M244.6 180.1h0M244.1 195.1h0M243.5 164.3h0M244.5 184.6h0M242.3 180.8h0M245.0 180.9h0M242.8 186.4h0M244.3 193.8h0M242.4 178.4h0M243.6 174.9h0M243.3 176.1h0M244.2 171.8h0M245.0 182.4h0M242.3 192.2h0M244.6 176.7h0"/></g>
<g stroke="rgb(240,0,0)" stroke-opacity="0.4"><path d="M249.5 184.8h0M247.5 173.8h0M248.9 201.6h0M249.3 197.3h0M248.7 186.5h0M249.8 189.8h0M248.6 178.5h0M249.7 179.7h0M250.0 188.2h0M249.0 169.1h0M248.4 183.0h0M247.6 204.9h0M249.2 174.0h0M248.3 177.6h0M250.0 187.6h0M247.6 202.7h0M250.1 184.0h0M250.2 199.8h0M247.7 185.4h0M250.0 175.1h0M249.2 198.5h0"/><path d="M248.5 189.4h0M247.9 169.0h0M247.9 157.5h0M247.5 170.8h0M247.6 177.3h0M248.9 180.1h0M247.9 180.1h0M248.0 177.5h0M249.9 184.3h0M247.9 190.0h0M249.0 177.7h0M248.7 197.3h0M249.2 186.7h0M249.6 180.7h0M248.6 183.0h0M249.9 195.9h0M247.7 182.3h0M250.0 184.9h0M249.3 181.3h0M248.5 174.9h0M247.8 172.8h0"/><path d="M248.3 185.7h0M247.6 182.8h0M249.3 189.7h0M249.9 178.9h0M248.2 178.3h0M248.1 180.6h0M247.8 193.8h0M247.6 161.9h0M247.8 191.4h0M249.3 179.7h0M249.9 191.0h0M248.1 175.2h0M249.8 185.1h0M248.6 181.9h0M247.5 190.9h0M249.6 181.8h0M247.8 173.8h0M249.7 183.5h0M249.5 182.3h0M247.7 193.7h0M249.9 187.6h0"/><path d="M250.0 174.6h0M247.6 180.6h0M249.5 192.8h0M248.6 181.3h0M248.3 191.7h0M250.1 178.4h0M250.0 203.0h0M249.7 187.0h0M248.8 189.8h0M247.6 180.9h0M249.4 202.1h0M247.8 178.9h0M249.2 163.1h0M249.0 173.9h0M249.0 176.9h0M249.3 185.9h0M249.5 171.0h0M249.4 199.3h0M249.4 187.7h0M248.4 179.9h0"/><path d="M249.7 167.7h0M247.9 182.4h0M247.5 179.6h0M247.7 184.4h0M249.5 191.0h0M249.6 185.7h0M247.5 161.9h0M249.4 184.1h0M249.2 170.7h0M249.1 171.5h0M250.0 188.6h0M247.8 179.8h0M249.1 178.4h0M249.1 183.7h0M249.4 201.9h0M249.5 179.7h0M248.8 171.6h0M248.3 175.2h0M249.8 180.4h0M248.7 182.0h0"/></g>
<g stroke="rgb(150,20,240)" stroke-opacity="0.4"><path d="M254.4 177.7h0M253.9 170.3h0M252.9 174.5h0M254.2 180.8h0M254.4 186.8h0M254.9 177.9h0M253.9 192.9h0M253.1 176.9h0M254.9 187.6h0M253.1 178.0h0M254.3 191.7h0M253.5 193.1h0M253.0 190.3h0M253.9 167.6h0M253.1 199.7h0M253.1 184.8h0M253.3 168.6h0M253.2 175.9h0M253.9 194.1h0M253.1 169.2h0M255.1 179.1h0M254.6 166.8h0M253.2 192.9h0M253.9 179.5h0M254.2 180.6h0M255.1 163.3h0M255.4 190.3h0M254.1 170.1h0M253.9 176.7h0M255.5 193.5h0M255.3 183.9h0M253.1 195.2h0M253.4 171.7h0M253.1 167.9h0M254.0 194.9h0M255.3 169.7h0M255.2 193.9h0M255.2 186.0h0M254.4 174.0h0M254.8 179.1h0M254.6 195.0h0M254.0 197.7h0M253.7 170.3h0M254.4 190.4h0M253.7 169.2h0M254.5 192.7h0M255.2 184.7h0M253.1 168.9h0M253.7 170.0h0M255.0 173.4h0M255.0 169.5h0M254.8 168.7h0M254.9 177.8h0M254.4 185.0h0M254.3 169.6h0M254.2 168.5h0M254.3 189.4h0M254.5 193.6h0M252.9 191.6h0M254.4 173.6h0M253.6 171.6h0M255.6 192.9h0M254.8 178.2h0M253.4 195.3h0M254.9 164.1h0M252.9 170.0h0M253.3 196.8h0M255.1 167.1h0M254.2 179.3h0M252.9 176.0h0M254.8 181.8h0M255.6 186.2h0M254.4 185.9h0M255.5 192.2h0"/><path d="M254.6 200.0h0M253.5 175.2h0M254.3 188.2h0M254.4 184.3h0M254.4 171.9h0M254.8 193.4h0M253.5 177.7h0M255.0 192.2h0M253.0 185.7h0M253.2 171.6h0M253.9 184.1h0M254.0 188.6h0M254.2 198.7h0M253.5 170.9h0M252.8 201.9h0M254.0 192.0h0M253.2 193.9h0M254.2 173.3h0M253.8 193.1h0M255.0 167.5h0M255.6 183.3h0M254.8 195.8h0M253.4 179.0h0M252.8 173.2h0M252.8 175.4h0M255.5 201.2h0M255.1 189.5h0M254.7 188.7h0M253.9 180.1h0M255.1 169.9h0M252.8 199.9h0M254.2 170.4h0M253.0 183.5h0M254.5 182.0h0M253.6 170.2h0M254.7 185.9h0M255.0 179.3h0M255.0 198.1h0M254.4 181.3h0M253.2 180.5h0M252.8 173.6h0M254.5 179.0h0M253.8 172.5h0M253.9 200.8h0M254.2 179.4h0M255.1 179.0h0M254.5 181.1h0M254.6 192.8h0M254.8 198.2h0M254.2 189.8h0M254.1 179.9h0M255.5 191.6h0M254.0 188.9h0M253.8 189.6h0M253.1 166.7h0M255.2 182.3h0M254.5 194.2h0M253.9 191.7h0M255.6 166.9h0M254.3 177.9h0M254.5 179.8h0M255.0 171.2h0M254.7 192.2h0M253.6 178.6h0M253.4 167.9h0M253.3 183.2h0M254.4 202.4h0M253.3 184.5h0M254.4 199.5h0M254.6 176.5h0M253.9 173.4h0M254.9 179.5h0M255.2 186.7h0M255.6 187.2h0"/><path d="M254.4 193.8h0M254.5 177.9h0M254.5 198.0h0M253.3 193.6h0M253.0 187.6h0M254.5 188.8h0M253.2 199.3h0M252.9 180.4h0M253.1 195.4h0M254.7 174.6h0M252.9 193.2h0M254.4 185.0h0M253.2 178.2h0M253.2 183.1h0M254.3 169.0h0M254.1 201.6h0M255.2 183.3h0M253.8 170.9h0M255.1 185.7h0M252.9 195.7h0M253.0 177.7h0M254.2 194.1h0M254.0 175.8h0M254.5 190.9h0M255.6 184.5h0M254.2 167.4h0M254.9 190.7h0M253.8 193.7h0M254.8 189.6h0M254.2 167.2h0M253.7 184.1h0M253.4 172.9h0M254.1 187.5h0M253.6 198.7h0M253.9 189.5h0M255.4 188.5h0M254.6 167.4h0M253.8 199.5h0M252.9 177.1h0M255.3 169.6h0M255.4 190.6h0M253.9 180.0h0M252.8 201.7h0M255.3 184.6h0M254.2 197.7h0M253.3 175.8h0M254.5 180.5h0M255.2 198.9h0M252.8 168.2h0M253.9 201.4h0M254.6 191.3h0M253.6 181.2h0M255.1 195.1h0M253.8 185.0h0M254.2 198.5h0M253.4 166.7h0M254.5 184.5h0M253.4 201.3h0M255.3 180.8h0M253.3 199.0h0M255.0 184.4h0M254.2 172.8h0M253.1 172.2h0M255.6 178.3h0M255.4 201.2h0M254.7 187.2h0M253.9 173.8h0M252.9 195.4h0M253.6 173.2h0M253.9 169.5h0M255.4 189.8h0M253.6 193.3h0M254.4 186.0h0M255.4 200.9h0"/><path d="M255.6 172.5h0M253.7 169.5h0M254.2 179.6h0M254.8 170.5h0M254.2 191.9h0M253.0 173.1h0M254.5 180.9h0M253.0 190.8h0M253.1 178.6h0M254.3 179.6h0M254.2 170.3h0M254.9 198.5h0M253.6 171.6h0M252.8 180.8h0M255.5 193.8h0M253.9 187.7h0M254.2 200.2h0M254.2 172.3h0M255.3 181.7h0M252.8 166.8h0M253.9 200.4h0M252.9 201.2h0M253.6 171.2h0M254.9 186.7h0M254.7 199.8h0M253.9 185.1h0M255.3 183.0h0M255.5 191.5h0M255.1 194.5h0M254.0 180.9h0M253.1 191.6h0M254.0 184.8h0M253.6 183.9h0M254.0 176.8h0M254.0 172.2h0M253.9 168.0h0M255.6 172.3h0M253.9 184.7h0M254.5 173.7h0M254.3 181.2h0M254.9 185.8h0M254.2 167.3h0M255.5 166.2h0M253.6 180.1h0M254.6 171.4h0M253.3 189.6h0M255.0 196.6h0M253.5 177.0h0M253.3 201.1h0M254.5 182.8h0M253.5 186.9h0M255.1 182.6h0M253.6 200.0h0M254.2 170.1h0M253.8 197.1h0M254.7 168.0h0M255.5 186.1h0M253.0 191.6h0M253.2 185.3h0M255.4 178.8h0M252.8 164.1h0M254.6 183.8h0M255.3 175.3h0M253.0 181.7h0M255.4 168.1h0M254.1 178.5h0M252.8 180.5h0M255.5 186.8h0M255.4 170.6h0M253.8 185.0h0M253.3 174.8h0M255.2 173.6h0M253.6 202.3h0"/><path d="M252.8 172.9h0M253.6 168.6h0M252.9 183.8h0M255.4 194.1h0M255.3 191.2h0M254.1 187.1h0M254.2 186.7h0M253.0 185.8h0M253.5 172.9h0M254.7 185.8h0M254.9 194.5h0M255.2 174.1h0M253.5 170.5h0M252.9 183.8h0M255.4 172.0h0M254.3 182.4h0M255.6 201.5h0M253.7 193.7h0M253.8 166.5h0M255.4 178.3h0M253.2 199.2h0M254.1 199.2h0M252.8 187.0h0M254.8 180.2h0M253.5 171.3h0M252.9 175.2h0M255.3 168.2h0M253.6 199.1h0M254.3 177.1h0M254.0 186.6h0M255.4 190.7h0M255.0 172.8h0M253.1 173.3h0M253.9 179.5h0M255.3 192.2h0M253.9 173.7h0M253.0 183.2h0M253.8 178.6h0M255.4 196.1h0M253.6 179.2h0M253.7 187.9h0M254.5 175.7h0M252.9 174.8h0M252.8 180.8h0M253.8 197.6h0M255.5 170.2h0M254.4 175.1h0M255.6 184.0h0M253.8 178.7h0M254.0 165.7h0M254.7 169.1h0M255.5 171.7h0M254.5 191.1h0M255.6 194.8h0M254.0 163.1h0M253.5 174.7h0M254.1 197.1h0M254.7 170.5h0M253.3 193.3h0M254.6 193.3h0M254.5 175.2h0M254.5 168.7h0M254.2 169.7h0M255.4 197.2h0M254.2 185.5h0M254.1 177.9h0M254.0 188.2h0M252.8 190.3h0M252.8 195.3h0M254.7 196.0h0M254.7 169.2h0M255.6 178.6h0M255.6 184.0h0"/></g>
<g stroke="rgb(240,0,0)" stroke-opacity="0.4"><path d="M259.4 195.1h0M259.6 173.8h0M258.1 195.2h0M260.3 200.9h0M259.7 211.8h0M260.2 184.0h0M259.3 187.8h0M258.9 160.1h0M259.2 199.7h0M260.5 190.7h0M258.1 218.9h0M259.7 174.6h0M260.9 178.1h0M258.1 182.0h0M258.4 205.6h0M258.5 204.0h0M259.3 202.0h0M258.4 167.4h0M260.5 171.2h0M260.2 175.1h0M260.6 179.6h0M260.1 183.4h0M258.7 205.6h0M260.7 214.2h0M259.7 166.6h0M259.2 200.8h0M259.8 191.3h0M259.4 174.0h0M258.6 215.7h0M260.9 214.2h0M259.0 209.3h0M260.1 193.8h0M260.3 206.7h0M259.1 212.0h0M259.7 179.3h0M259.1 204.3h0M259.8 183.8h0M259.5 208.8h0M258.3 197.9h0M259.2 195.8h0M260.6 194.5h0M259.3 213.1h0M258.2 210.5h0M260.1 179.8h0M258.7 198.6h0M258.5 216.2h0M260.5 219.9h0M258.4 216.8h0M260.9 213.2h0M258.7 194.9h0M260.2 184.2h0M258.7 177.4h0M259.0 179.6h0M259.1 195.1h0M259.6 204.6h0M258.5 220.6h0M260.5 200.1h0M260.4 214.5h0M260.3 218.2h0M259.9 218.6h0M260.5 171.8h0M259.3 209.7h0M260.9 212.8h0M259.6 212.9h0M259.8 217.2h0M260.5 213.2h0M260.9 190.8h0M260.7 171.4h0M260.2 197.7h0M258.8 197.3h0M258.2 207.4h0M258.6 186.6h0M258.1 187.6h0M260.7 219.7h0M260.3 217.3h0M260.7 203.8h0M259.0 191.6h0M259.7 212.0h0M258.5 183.4h0M258.3 210.4h0M259.2 214.4h0M259.6 178.2h0M258.1 193.7h0"/><path d="M260.2 181.4h0M260.5 203.7h0M260.7 212.5h0M259.5 185.0h0M259.8 191.9h0M258.7 196.5h0M259.4 205.6h0M259.0 197.1h0M259.7 205.0h0M258.9 193.2h0M258.3 204.0h0M259.7 189.1h0M258.6 201.8h0M260.2 191.0h0M259.8 183.7h0M259.9 219.0h0M260.0 200.4h0M258.1 206.6h0M258.7 215.9h0M260.6 188.1h0M258.5 220.7h0M260.3 205.3h0M258.2 211.5h0M259.9 182.2h0M259.1 205.7h0M260.9 207.5h0M260.9 216.0h0M258.6 196.0h0M258.6 219.5h0M258.2 178.0h0M260.1 182.4h0M259.6 195.6h0M259.6 206.8h0M258.4 194.2h0M259.5 181.1h0M258.6 210.0h0M259.1 208.0h0M258.1 218.4h0M259.6 210.6h0M260.8 189.4h0M259.5 206.9h0M259.3 203.4h0M258.3 210.0h0M260.8 193.8h0M258.1 206.0h0M258.2 213.9h0M260.9 212.6h0M258.2 208.3h0M258.6 211.1h0M258.3 201.9h0M258.8 221.0h0M258.9 195.2h0M258.2 186.7h0M258.1 197.4h0M260.2 221.6h0M259.3 196.5h0M259.4 183.9h0M260.8 178.0h0M258.8 215.0h0M259.1 168.0h0M260.8 198.0h0M259.0 201.7h0M259.3 207.1h0M258.6 218.2h0M258.4 217.2h0M260.9 205.9h0M260.2 208.1h0M258.5 194.8h0M260.7 197.2h0M258.5 201.6h0M260.9 204.5h0M259.6 194.2h0M259.1 192.2h0M260.1 213.8h0M258.2 190.9h0M258.5 207.6h0M259.7 184.9h0M260.4 212.9h0M259.8 179.9h0M260.1 208.0h0M260.2 191.0h0M259.8 190.1h0M258.9 206.2h0"/><path d="M258.8 187.6h0M259.6 219.9h0M260.9 172.4h0M260.1 191.5h0M259.9 178.8h0M258.1 220.2h0M260.2 213.5h0M260.6 202.7h0M258.3 140.6h0M258.4 173.7h0M258.1 216.6h0M259.3 213.9h0M258.8 173.2h0M260.1 179.8h0M260.1 194.4h0M258.9 215.4h0M259.1 218.8h0M258.6 216.5h0M260.7 192.9h0M260.9 218.6h0M258.6 213.0h0M260.0 196.8h0M260.1 191.5h0M258.7 195.4h0M260.5 212.9h0M259.0 206.1h0M258.5 212.9h0M259.8 202.0h0M260.9 177.0h0M258.1 201.5h0M259.1 180.2h0M260.1 220.2h0M258.2 214.4h0M259.8 219.6h0M260.8 194.7h0M260.2 219.4h0M259.5 195.1h0M258.9 202.4h0M260.8 194.8h0M259.7 173.9h0M260.2 203.5h0M260.4 208.6h0M258.2 215.9h0M258.2 203.8h0M259.4 183.4h0M260.2 207.3h0M259.8 184.9h0M258.6 205.2h0M258.8 176.5h0M258.9 214.2h0M258.6 195.2h0M259.0 210.4h0M259.4 197.2h0M260.4 213.9h0M260.2 196.6h0M260.4 211.5h0M259.8 207.7h0M260.1 218.7h0M259.8 210.8h0M259.5 213.0h0M258.5 210.3h0M260.9 191.2h0M260.7 188.4h0M258.5 212.9h0M258.5 184.7h0M259.6 212.9h0M258.1 203.7h0M258.2 212.5h0M258.4 219.2h0M258.9 204.7h0M259.2 217.0h0M258.9 207.3h0M258.6 212.4h0M258.4 209.8h0M260.8 218.1h0M260.8 208.5h0M259.9 203.3h0M259.2 165.4h0M259.5 187.2h0M260.6 195.4h0M259.7 206.3h0M258.2 212.8h0M258.1 183.9h0"/><path d="M259.8 214.7h0M260.4 219.2h0M259.4 214.8h0M258.9 217.3h0M259.3 182.7h0M258.2 182.6h0M258.8 213.5h0M258.1 207.1h0M260.7 175.7h0M258.2 215.4h0M260.3 200.4h0M260.8 219.1h0M258.4 204.0h0M259.8 174.5h0M259.0 218.8h0M260.4 207.3h0M258.6 166.8h0M258.4 198.9h0M258.1 211.7h0M258.2 186.9h0M259.9 144.1h0M259.6 209.9h0M258.4 211.8h0M260.1 218.4h0M260.2 200.1h0M260.1 213.8h0M260.0 176.3h0M259.0 178.4h0M258.6 217.1h0M259.7 202.2h0M258.6 179.4h0M258.2 209.0h0M260.1 199.8h0M258.8 204.6h0M260.0 207.0h0M259.5 212.0h0M258.6 190.8h0M258.6 181.5h0M258.6 178.1h0M259.4 212.0h0M259.8 204.6h0M260.9 209.2h0M260.7 214.3h0M260.6 192.0h0M260.1 214.8h0M258.8 196.8h0M259.2 207.6h0M260.1 200.6h0M258.6 190.4h0M259.1 208.4h0M260.4 215.9h0M258.7 177.3h0M260.7 210.7h0M258.3 189.7h0M260.1 174.0h0M258.3 178.8h0M260.4 204.5h0M258.5 202.9h0M260.3 218.8h0M260.5 212.2h0M260.2 217.6h0M258.9 213.4h0M259.3 206.7h0M260.3 218.0h0M258.3 205.4h0M260.5 171.8h0M260.2 196.3h0M258.3 216.2h0M260.2 199.9h0M259.5 183.2h0M258.6 207.2h0M259.3 208.1h0M258.6 185.1h0M258.8 192.4h0M258.8 218.3h0M259.5 176.9h0M260.4 182.4h0M259.2 211.7h0M258.7 198.3h0M259.3 183.0h0M259.0 208.0h0M259.7 203.1h0M259.9 192.0h0"/><path d="M259.2 175.1h0M259.2 199.8h0M258.9 203.2h0M260.8 220.8h0M258.3 199.5h0M258.4 216.0h0M259.4 213.5h0M259.0 216.3h0M260.4 197.4h0M258.1 203.5h0M259.2 207.0h0M258.8 217.0h0M260.8 173.7h0M258.7 205.6h0M260.9 212.5h0M258.9 212.1h0M258.6 192.4h0M259.5 221.7h0M260.0 214.6h0M260.1 198.2h0M258.1 204.5h0M258.4 176.7h0M258.7 196.4h0M259.4 217.5h0M260.3 186.0h0M260.8 182.9h0M259.5 208.3h0M258.3 212.2h0M258.5 205.9h0M258.9 139.2h0M260.9 177.1h0M260.7 185.9h0M259.5 190.7h0M258.4 217.3h0M259.9 220.8h0M260.0 197.0h0M260.2 217.2h0M259.1 204.3h0M260.9 209.8h0M260.2 204.2h0M259.7 201.9h0M260.0 181.1h0M259.8 190.2h0M259.4 219.4h0M260.8 189.9h0M258.9 182.6h0M260.9 212.6h0M260.5 178.0h0M258.3 216.4h0M260.5 186.1h0M258.4 205.6h0M258.2 191.9h0M259.0 201.7h0M259.5 191.3h0M260.5 191.4h0M259.3 220.5h0M258.9 187.3h0M260.7 216.7h0M260.0 215.7h0M259.9 173.0h0M259.7 203.2h0M258.9 210.7h0M260.2 189.1h0M260.4 197.8h0M259.2 196.0h0M259.9 170.1h0M260.9 207.2h0M260.8 208.9h0M260.0 168.2h0M259.7 216.2h0M260.6 219.3h0M260.2 190.1h0M260.2 212.9h0M258.2 218.1h0M259.3 190.8h0M260.1 186.0h0M259.7 195.1h0M258.6 186.9h0M258.7 201.8h0M258.5 178.4h0M258.3 190.1h0M258.6 177.6h0M259.3 213.6h0"/></g>
<g stroke="rgb(0,0,240)" stroke-opacity="0.4"><path d="M265.0 211.4h0M265.7 211.3h0M264.6 187.1h0M266.0 179.1h0M263.7 179.2h0M264.6 209.8h0M265.1 203.0h0"/><path d="M266.0 213.1h0M264.4 185.0h0M265.7 213.5h0M263.8 180.6h0M263.8 198.8h0M264.4 211.9h0M265.3 180.4h0"/><path d="M263.7 178.2h0M264.4 179.4h0M263.4 193.9h0M263.5 179.2h0M263.5 200.0h0M265.9 212.2h0M263.4 191.0h0"/><path d="M264.1 178.0h0M265.2 178.8h0M264.0 183.7h0M265.3 197.9h0M265.0 196.0h0M264.4 208.2h0M265.5 190.9h0"/><path d="M263.4 197.8h0M264.3 211.9h0M264.9 211.1h0M264.8 202.8h0M263.7 178.9h0M264.4 200.2h0M265.2 212.7h0"/></g>
<g stroke="rgb(240,0,0)" stroke-opacity="0.4"><path d="M270.1 166.7h0M269.9 178.9h0M269.6 164.4h0M270.0 171.9h0M271.0 150.5h0M270.4 159.2h0M270.7 168.2h0M269.1 154.8h0M270.1 166.4h0M268.8 165.8h0M270.3 163.5h0M269.1 163.6h0M269.3 162.1h0M271.4 174.1h0M270.9 171.9h0M268.9 172.1h0M270.1 156.8h0M270.9 162.7h0M270.9 180.9h0M269.3 153.9h0M270.4 164.4h0M271.5 155.4h0M269.8 174.1h0M269.6 157.3h0M269.3 152.7h0M270.3 152.7h0M269.3 159.4h0M270.1 178.3h0M270.2 159.7h0M268.8 167.3h0M269.0 167.3h0M268.9 152.7h0M268.9 161.5h0M271.1 168.3h0M269.2 154.3h0M268.9 161.4h0M271.3 181.8h0M270.6 174.5h0M271.2 171.1h0M268.8 170.2h0M269.3 161.9h0M269.1 157.3h0M271.4 155.5h0M269.9 160.3h0M269.3 163.0h0M268.8 170.6h0M269.6 161.4h0M269.9 152.1h0M269.8 160.3h0M270.9 158.1h0M271.0 164.7h0M270.6 183.9h0"/><path d="M271.0 160.4h0M270.5 152.2h0M270.9 161.7h0M269.0 157.9h0M270.4 161.1h0M271.5 177.9h0M268.7 177.8h0M271.4 152.3h0M268.9 167.6h0M270.5 160.0h0M270.8 177.1h0M269.7 167.9h0M271.3 151.9h0M271.4 160.5h0M271.5 164.0h0M270.0 183.2h0M270.2 167.8h0M271.1 173.8h0M269.5 174.6h0M270.9 160.0h0M270.1 164.4h0M270.1 162.1h0M271.2 170.1h0M269.4 148.6h0M271.0 161.8h0M270.6 154.4h0M269.8 166.4h0M270.7 175.2h0M269.8 178.6h0M269.7 154.7h0M270.4 172.0h0M268.9 182.9h0M270.4 156.4h0M270.2 162.2h0M269.8 164.7h0M270.2 170.5h0M269.9 165.8h0M269.7 158.9h0M269.0 149.2h0M270.9 156.5h0M269.5 163.3h0M269.0 168.4h0M270.6 160.1h0M269.0 160.7h0M270.9 158.2h0M269.7 172.1h0M269.2 155.1h0M269.4 158.2h0M269.9 158.9h0M269.4 158.6h0M269.5 164.6h0M269.1 171.4h0"/><path d="M270.4 169.1h0M271.1 167.2h0M269.9 154.9h0M268.9 171.7h0M271.1 166.6h0M269.5 178.5h0M271.1 158.1h0M269.7 151.6h0M269.8 154.3h0M269.9 144.0h0M269.8 163.7h0M270.9 170.4h0M270.4 165.8h0M270.8 162.2h0M271.1 159.9h0M271.2 167.6h0M270.8 154.1h0M268.7 169.1h0M269.4 148.2h0M271.2 176.5h0M270.4 156.8h0M270.3 178.3h0M270.2 174.6h0M269.1 158.3h0M270.7 158.1h0M268.8 163.1h0M268.9 182.5h0M271.2 163.5h0M271.2 161.8h0M269.1 164.2h0M269.1 155.3h0M270.2 164.9h0M269.3 148.6h0M270.2 177.5h0M269.7 164.9h0M269.6 172.4h0M269.4 169.8h0M269.6 149.5h0M269.1 155.6h0M269.8 166.0h0M270.2 176.2h0M270.2 154.5h0M271.4 176.1h0M270.0 156.0h0M268.9 180.0h0M270.1 157.2h0M268.8 164.6h0M269.1 149.1h0M271.2 164.0h0M269.1 163.2h0M269.1 154.1h0M270.6 163.2h0"/><path d="M270.9 152.5h0M270.9 153.5h0M269.7 157.0h0M269.7 173.0h0M268.7 154.6h0M270.9 156.8h0M270.4 159.2h0M270.7 171.6h0M269.3 167.3h0M270.3 162.1h0M271.0 156.9h0M270.6 155.5h0M269.2 162.8h0M269.5 159.0h0M271.1 153.2h0M268.9 153.0h0M271.4 173.3h0M270.2 181.8h0M270.7 158.1h0M270.2 159.8h0M269.9 154.6h0M270.4 164.9h0M270.4 172.0h0M269.9 175.6h0M268.9 163.1h0M268.8 170.5h0M269.6 152.2h0M269.6 147.9h0M269.9 179.9h0M270.6 183.6h0M269.3 181.0h0M269.0 163.5h0M270.8 168.3h0M270.5 169.9h0M270.0 182.1h0M271.4 160.4h0M269.7 162.2h0M270.4 183.7h0M269.0 154.0h0M270.1 167.8h0M268.9 175.3h0M268.9 179.8h0M271.4 170.7h0M271.3 141.2h0M271.4 152.4h0M270.1 158.2h0M270.1 167.7h0M271.4 165.0h0M271.4 160.6h0M269.3 183.0h0M270.8 162.7h0M270.5 174.2h0"/><path d="M271.2 150.6h0M268.8 170.0h0M270.6 148.5h0M271.3 156.3h0M269.3 152.8h0M270.7 158.9h0M271.4 176.0h0M270.9 168.5h0M271.5 153.9h0M271.5 164.0h0M269.8 159.8h0M270.0 179.3h0M269.6 173.3h0M270.5 162.4h0M271.2 153.7h0M269.0 162.4h0M271.5 161.0h0M268.9 152.2h0M270.6 171.5h0M271.2 152.8h0M269.8 155.1h0M268.9 157.9h0M270.4 153.3h0M271.4 160.7h0M270.0 173.0h0M269.5 162.9h0M270.7 166.8h0M270.4 169.4h0M270.5 165.7h0M271.2 148.2h0M271.2 162.2h0M271.2 172.1h0M270.3 152.1h0M269.6 167.2h0M271.1 159.8h0M269.7 159.0h0M270.6 164.4h0M268.9 160.4h0M271.4 148.8h0M271.3 165.3h0M270.3 155.3h0M270.9 156.9h0M271.1 160.3h0M271.1 153.2h0M271.1 162.7h0M269.9 152.3h0M269.8 161.3h0M270.9 159.3h0M268.8 148.5h0M269.1 155.2h0M270.0 162.1h0M269.9 159.3h0"/></g>
<g stroke="rgb(240,0,0)" stroke-opacity="0.4"><path d="M276.3 169.6h0M276.8 171.4h0M276.4 179.4h0M276.7 197.2h0M276.4 190.7h0M276.1 170.0h0M275.5 169.6h0M274.7 178.5h0M276.6 191.6h0M275.7 199.9h0M274.9 171.0h0M274.4 174.1h0M275.1 173.6h0M275.9 192.8h0M275.6 197.4h0M276.5 173.5h0M275.7 181.3h0M275.4 178.1h0M276.2 191.9h0M275.9 195.0h0M275.6 187.0h0M276.4 181.1h0M274.3 191.6h0M275.8 171.2h0M274.9 193.4h0M275.8 190.1h0M276.3 196.4h0M275.6 175.2h0M275.7 199.1h0M276.2 192.2h0M275.9 193.3h0M274.0 173.5h0M276.5 188.8h0M275.6 185.7h0M276.6 173.5h0M276.3 180.7h0M275.1 188.6h0M274.9 194.5h0M275.1 199.0h0M274.2 198.3h0M276.8 183.7h0M276.5 168.8h0M275.8 169.2h0M274.5 198.4h0M274.1 191.6h0M276.3 190.2h0M274.3 174.7h0M274.5 183.3h0M276.4 180.0h0M274.3 169.6h0M276.0 168.1h0M274.7 190.4h0M275.5 184.0h0M274.9 194.3h0M275.9 171.7h0M276.2 179.5h0M274.9 194.9h0M276.1 191.8h0M276.5 183.5h0M275.5 192.2h0M276.5 167.4h0M275.3 179.1h0M276.7 188.2h0M276.7 175.9h0M275.8 192.1h0M276.1 191.3h0M275.5 174.3h0M274.9 188.1h0M276.6 171.9h0M275.9 170.9h0M276.8 191.4h0M275.8 181.8h0M276.6 187.0h0M276.6 186.2h0M274.8 198.1h0M274.8 183.5h0M274.2 196.9h0M276.1 181.7h0M275.5 191.7h0M274.6 182.8h0M274.9 189.3h0M274.8 179.4h0M276.6 178.7h0M276.8 187.6h0M276.6 181.2h0M276.3 178.0h0M274.5 199.9h0M276.3 183.7h0M275.8 184.8h0M275.4 178.5h0M274.0 179.6h0M274.5 168.7h0M275.9 175.8h0M274.7 178.8h0M274.1 198.5h0M275.2 182.0h0M276.2 198.7h0M275.5 198.5h0M275.6 189.6h0M275.6 194.8h0M274.4 181.4h0M276.4 184.7h0"/><path d="M276.5 181.3h0M274.1 188.1h0M274.9 196.5h0M274.7 179.7h0M275.8 185.8h0M275.0 183.5h0M276.5 178.3h0M276.4 187.0h0M276.7 175.6h0M276.5 185.5h0M276.0 171.8h0M275.4 186.0h0M274.8 179.5h0M276.8 171.6h0M274.8 177.7h0M275.7 173.5h0M274.8 192.8h0M276.0 168.6h0M275.2 181.2h0M274.4 173.3h0M276.4 193.4h0M276.6 174.7h0M276.3 183.8h0M275.6 189.6h0M274.4 177.6h0M276.5 186.5h0M276.5 180.0h0M274.7 178.9h0M276.6 198.8h0M275.9 185.9h0M275.9 176.6h0M274.3 180.4h0M274.7 194.7h0M276.8 189.5h0M275.3 189.1h0M275.9 192.8h0M275.1 184.3h0M274.8 177.5h0M276.7 180.2h0M274.0 173.6h0M275.2 200.0h0M276.6 188.8h0M274.0 196.8h0M276.8 173.5h0M276.6 194.0h0M276.4 172.7h0M275.3 173.5h0M275.9 190.6h0M275.5 188.6h0M275.5 177.3h0M276.1 193.2h0M276.7 186.2h0M275.9 183.0h0M276.4 179.5h0M274.4 185.1h0M274.2 187.8h0M274.3 175.3h0M276.7 178.5h0M274.9 179.6h0M274.7 178.2h0M274.7 186.2h0M275.5 169.5h0M274.6 175.5h0M276.8 187.1h0M276.6 195.0h0M274.8 198.8h0M274.9 189.2h0M275.0 169.1h0M275.8 189.9h0M275.1 193.0h0M276.0 170.0h0M274.8 171.6h0M274.8 190.6h0M275.9 172.2h0M276.1 187.6h0M275.3 183.8h0M276.0 172.4h0M275.3 168.7h0M276.4 174.0h0M274.1 196.9h0M276.7 192.9h0M274.6 188.1h0M274.7 175.5h0M275.4 194.6h0M276.7 176.8h0M274.8 170.9h0M275.8 174.4h0M275.8 199.5h0M274.4 180.9h0M275.6 177.0h0M274.5 185.5h0M276.2 169.3h0M275.1 189.4h0M274.1 194.1h0M275.3 186.7h0M274.5 179.3h0M275.2 196.7h0M276.6 196.9h0M274.5 173.3h0M274.0 197.3h0M275.5 189.4h0M274.4 188.1h0"/><path d="M274.8 194.2h0M276.1 186.2h0M274.5 170.9h0M274.9 194.0h0M274.4 180.7h0M275.8 176.0h0M275.0 180.0h0M276.2 169.6h0M275.4 185.9h0M275.4 197.2h0M275.3 186.7h0M274.0 184.3h0M276.1 189.8h0M274.1 185.7h0M274.6 177.2h0M276.3 190.8h0M274.8 189.9h0M275.6 196.6h0M274.0 176.2h0M274.4 187.6h0M274.9 190.8h0M276.6 186.8h0M275.6 195.1h0M274.6 189.4h0M274.2 195.0h0M274.7 174.8h0M275.4 181.7h0M274.8 180.3h0M275.6 175.6h0M275.2 187.8h0M274.9 191.5h0M274.0 167.7h0M276.3 192.4h0M274.5 193.4h0M274.4 171.9h0M274.0 181.4h0M275.3 176.7h0M274.9 167.5h0M275.8 178.2h0M275.2 182.5h0M275.5 180.2h0M275.3 183.0h0M275.1 178.0h0M274.6 181.1h0M274.2 191.7h0M275.9 187.8h0M274.1 192.5h0M274.3 173.3h0M276.2 173.3h0M275.3 186.1h0M274.7 192.5h0M274.1 200.0h0M276.5 182.6h0M274.0 185.6h0M274.2 174.0h0M276.7 182.7h0M275.6 174.1h0M276.6 173.4h0M274.7 184.9h0M275.4 182.5h0M274.7 178.2h0M274.9 180.9h0M275.1 181.5h0M275.7 191.8h0M275.6 180.4h0M274.7 177.7h0M276.1 183.7h0M276.2 184.4h0M274.6 177.7h0M274.9 198.9h0M276.8 183.5h0M274.2 180.6h0M274.2 190.6h0M276.6 190.9h0M275.9 175.7h0M274.3 181.2h0M276.8 179.9h0M275.9 194.9h0M275.4 170.3h0M275.9 198.4h0M275.5 190.3h0M274.0 184.3h0M275.9 179.6h0M275.9 180.5h0M276.4 181.5h0M274.6 187.0h0M276.6 185.9h0M274.9 181.0h0M274.1 188.1h0M276.8 197.1h0M274.3 172.8h0M274.4 192.8h0M275.7 186.8h0M276.6 172.5h0M274.0 173.1h0M274.6 177.4h0M275.9 172.4h0M275.3 187.3h0M275.2 184.8h0M274.6 193.2h0M274.5 180.1h0M275.7 184.4h0"/><path d="M275.8 168.1h0M274.9 179.4h0M276.4 187.2h0M275.4 175.6h0M276.6 175.0h0M275.2 195.0h0M276.4 173.1h0M274.0 187.1h0M275.0 175.5h0M275.3 183.0h0M274.1 174.0h0M275.1 181.6h0M274.6 197.6h0M275.8 195.2h0M274.8 179.4h0M276.4 165.0h0M275.5 169.6h0M275.5 169.9h0M276.0 172.7h0M275.2 182.4h0M276.3 193.0h0M275.1 189.6h0M276.0 191.4h0M275.2 177.0h0M276.5 175.1h0M274.4 188.5h0M275.1 189.4h0M274.1 185.5h0M275.5 168.1h0M276.5 190.6h0M275.0 167.7h0M274.4 183.2h0M274.8 184.0h0M275.3 180.4h0M274.7 179.6h0M274.0 172.0h0M274.1 194.1h0M274.3 196.7h0M274.0 170.0h0M274.9 178.8h0M274.8 193.9h0M276.3 198.0h0M276.3 177.0h0M274.0 193.6h0M275.6 181.0h0M275.8 175.8h0M274.4 187.3h0M276.7 187.0h0M276.5 181.6h0M275.4 194.7h0M275.0 184.0h0M274.6 200.5h0M275.4 171.0h0M274.1 176.9h0M275.7 177.4h0M276.3 187.5h0M274.3 176.5h0M275.0 181.5h0M274.1 190.1h0M276.0 196.1h0M276.3 189.7h0M276.1 182.5h0M276.2 189.8h0M276.0 192.7h0M276.1 177.4h0M275.1 194.1h0M274.7 189.4h0M276.0 193.7h0M275.7 197.3h0M276.0 183.6h0M274.2 191.0h0M276.5 188.5h0M276.6 174.9h0M274.5 180.8h0M274.3 184.3h0M275.5 170.9h0M274.1 179.9h0M275.1 197.0h0M274.9 183.1h0M276.2 190.9h0M275.9 173.3h0M275.7 192.6h0M275.8 171.7h0M275.7 192.4h0M275.9 167.8h0M275.5 174.4h0M276.3 170.3h0M274.3 179.5h0M275.3 184.4h0M276.7 184.6h0M275.1 177.0h0M276.2 176.6h0M276.7 188.8h0M274.4 181.4h0M275.7 172.1h0M275.6 174.0h0M274.4 185.3h0M276.4 174.7h0M274.9 183.4h0M275.7 179.7h0M275.9 196.8h0M274.4 184.2h0"/><path d="M276.4 171.4h0M276.3 197.9h0M275.8 169.0h0M276.5 172.3h0M275.7 183.2h0M274.9 189.2h0M274.8 169.0h0M276.0 180.0h0M275.3 184.1h0M276.2 182.1h0M274.8 192.2h0M275.4 174.0h0M276.2 192.9h0M276.2 183.9h0M274.0 174.8h0M276.5 189.8h0M274.2 171.3h0M275.4 171.5h0M275.5 194.3h0M274.0 191.5h0M275.4 180.4h0M276.0 194.4h0M275.0 186.0h0M274.2 177.8h0M276.6 172.4h0M276.8 181.0h0M276.4 181.1h0M275.0 191.8h0M274.9 189.9h0M275.6 177.3h0M276.0 179.7h0M275.9 174.8h0M276.3 185.0h0M274.9 175.0h0M276.8 187.3h0M274.2 179.5h0M274.5 169.0h0M276.3 193.7h0M274.8 189.7h0M276.5 194.8h0M276.1 198.0h0M275.9 195.9h0M274.3 167.0h0M276.6 186.6h0M274.4 168.7h0M276.7 183.8h0M276.1 175.4h0M274.3 172.8h0M274.3 181.2h0M276.0 193.4h0M274.1 187.6h0M276.0 170.7h0M276.6 174.7h0M276.5 180.7h0M275.9 168.0h0M275.4 176.5h0M275.9 185.3h0M275.9 194.7h0M275.4 191.6h0M276.2 179.2h0M274.3 181.3h0M274.7 183.6h0M274.8 180.1h0M274.2 188.5h0M275.7 174.5h0M276.8 194.1h0M274.9 193.2h0M276.8 172.8h0M276.7 174.4h0M274.8 177.5h0M275.1 175.8h0M275.0 168.3h0M275.8 186.5h0M275.8 175.8h0M275.7 200.5h0M275.9 185.9h0M274.1 185.0h0M275.2 177.2h0M275.5 180.8h0M275.1 169.9h0M274.8 186.0h0M276.2 187.1h0M275.7 169.8h0M274.4 169.6h0M274.4 179.9h0M276.5 192.9h0M274.1 171.2h0M276.7 177.4h0M275.3 198.7h0M275.3 173.7h0M274.7 184.4h0M276.4 190.4h0M274.9 172.4h0M276.6 181.8h0M274.6 189.8h0M276.8 187.9h0M275.7 174.8h0M275.9 180.4h0M276.4 177.3h0M275.4 169.7h0M275.8 191.0h0"/></g>
<g stroke="rgb(0,0,240)" stroke-opacity="0.4"><path d="M280.2 185.7h0M280.5 168.7h0M279.8 179.7h0M281.4 168.4h0M281.4 189.0h0M281.0 174.1h0M280.9 176.5h0M280.6 174.6h0M281.4 170.3h0M281.3 166.1h0M279.8 172.3h0M279.7 183.2h0"/><path d="M281.9 184.9h0M280.4 186.9h0M281.6 180.5h0M281.0 166.6h0M280.5 177.8h0M281.1 178.6h0M279.6 176.8h0M280.8 185.5h0M280.7 167.1h0M279.5 177.9h0M281.4 173.3h0M279.9 187.6h0"/><path d="M279.6 189.5h0M281.1 188.7h0M280.0 180.1h0M281.1 164.2h0M282.0 189.3h0M280.5 175.1h0M280.2 167.5h0M280.2 184.0h0M281.6 183.6h0M279.9 173.0h0M280.8 180.8h0M279.5 187.9h0"/><path d="M280.5 171.3h0M282.0 173.6h0M279.7 169.5h0M280.3 188.8h0M281.2 185.9h0M281.5 167.9h0M279.8 179.3h0M280.5 180.4h0M281.2 168.1h0M281.4 182.6h0M280.7 184.0h0M279.4 176.5h0"/><path d="M281.6 175.6h0M280.5 169.4h0M281.7 169.7h0M281.0 182.2h0M280.1 178.7h0M282.0 167.3h0M281.2 167.5h0M279.9 177.2h0M281.1 189.7h0M281.1 182.9h0M281.0 172.3h0"/></g>
<g stroke="rgb(240,0,0)" stroke-opacity="0.4"><path d="M285.7 169.5h0M287.2 194.2h0M287.4 179.7h0M284.7 188.3h0M286.9 187.8h0M286.0 203.3h0M285.3 181.8h0M286.4 200.9h0M285.2 188.0h0M285.5 191.3h0M284.6 179.2h0M287.2 192.4h0M285.3 183.0h0M286.7 169.2h0M285.6 179.9h0M287.0 202.4h0M286.5 186.4h0M284.6 191.0h0M286.9 176.9h0M286.1 173.6h0M287.3 188.6h0M286.7 182.1h0M286.4 201.2h0M286.6 191.7h0"/><path d="M284.8 201.1h0M287.2 194.9h0M285.1 186.5h0M286.4 191.9h0M287.2 201.2h0M284.7 195.9h0M287.1 189.3h0M285.1 182.6h0M286.4 191.4h0M287.2 200.6h0M286.6 180.3h0M285.1 185.6h0M286.6 197.0h0M286.2 180.3h0M286.1 195.3h0M284.7 188.3h0M285.3 181.1h0M284.9 166.0h0M287.2 190.9h0M285.0 187.7h0M285.3 174.5h0M285.2 194.3h0M286.8 179.1h0M285.0 187.6h0"/><path d="M285.3 178.2h0M285.8 172.1h0M284.9 176.3h0M285.0 186.7h0M286.8 187.6h0M285.4 193.4h0M286.7 201.7h0M286.2 188.3h0M284.7 184.5h0M286.9 179.8h0M285.5 194.8h0M284.8 178.0h0M285.9 205.3h0M284.6 172.6h0M286.5 197.9h0M286.1 199.9h0M287.1 169.6h0M286.0 201.5h0M286.5 182.3h0M287.4 168.6h0M284.7 180.7h0M286.4 201.9h0M287.1 178.1h0M286.9 174.3h0"/><path d="M287.4 199.0h0M287.2 192.5h0M286.6 168.9h0M286.3 186.6h0M287.1 197.2h0M285.6 194.3h0M285.1 182.5h0M285.2 190.5h0M285.5 198.2h0M286.9 179.3h0M287.3 180.8h0M286.1 182.6h0M286.0 178.6h0M287.4 196.8h0M285.4 184.1h0M285.6 177.6h0M284.9 177.0h0M284.9 181.5h0M287.2 170.2h0M286.1 182.0h0M284.6 177.9h0M284.7 189.6h0M284.8 182.5h0M285.0 178.0h0"/><path d="M284.8 188.0h0M286.2 187.0h0M284.8 185.4h0M287.4 186.6h0M285.2 199.3h0M285.8 199.9h0M286.3 185.2h0M287.4 182.5h0M285.0 198.1h0M284.8 168.1h0M284.6 167.7h0M286.2 186.8h0M287.0 172.6h0M287.3 198.3h0M285.3 186.3h0M287.0 183.8h0M286.5 200.4h0M286.8 182.3h0M285.3 187.4h0M285.2 191.7h0M284.6 173.5h0M286.5 205.9h0M285.2 183.5h0M284.6 183.7h0"/></g>
<g stroke="rgb(240,0,0)" stroke-opacity="0.4"><path d="M292.6 188.9h0M291.6 193.1h0M291.4 185.1h0M291.5 175.1h0M290.5 174.7h0M291.6 171.0h0M292.1 164.1h0M290.4 165.8h0M290.0 173.1h0M292.7 208.8h0M291.3 185.4h0M290.3 188.4h0M291.0 174.7h0M291.7 189.1h0M292.2 187.7h0M291.0 187.7h0M292.2 183.0h0M291.8 176.9h0M290.4 193.3h0M289.9 176.2h0M290.7 160.2h0M292.0 187.2h0M290.8 174.7h0M291.6 189.3h0M290.1 163.0h0M292.5 182.5h0M290.9 201.8h0M290.8 184.3h0M289.9 177.4h0M292.7 187.0h0M292.2 200.2h0M290.0 198.6h0M290.8 180.9h0M291.7 180.3h0M290.8 204.9h0M292.1 201.3h0M291.0 201.2h0M289.9 199.2h0M291.4 176.0h0M290.2 175.8h0M291.5 183.3h0M291.0 176.9h0M290.4 201.1h0M291.0 172.2h0M292.7 198.4h0M290.1 174.4h0M292.7 180.4h0M292.4 139.2h0M291.3 194.5h0M292.1 171.8h0M290.3 189.5h0M290.6 196.2h0M291.3 179.2h0M292.4 181.2h0M291.1 166.3h0M290.6 162.2h0M291.2 180.5h0M290.0 164.1h0M292.3 177.3h0M291.8 181.5h0M292.3 185.5h0M290.9 197.1h0M291.6 179.0h0M291.1 191.2h0M292.6 176.5h0M291.8 174.2h0M291.3 179.7h0M291.7 173.9h0M290.8 200.9h0M291.0 187.8h0M291.6 161.4h0M292.0 186.8h0M292.3 176.1h0M291.5 179.6h0M290.0 187.6h0M290.0 166.1h0M292.6 178.4h0M291.8 176.9h0M290.9 170.3h0M290.7 169.9h0M291.0 202.5h0M290.9 192.8h0M291.1 187.1h0M290.5 188.6h0M290.3 170.5h0M291.1 184.8h0M292.0 195.6h0M291.5 175.6h0M291.5 195.3h0M291.1 171.2h0M290.9 174.3h0M290.3 174.9h0M291.3 161.6h0M292.1 192.4h0M290.1 193.7h0M291.7 169.0h0M290.9 171.8h0M290.5 168.2h0M289.9 188.4h0M290.1 169.5h0M292.0 185.4h0M290.9 175.2h0M290.4 184.4h0M292.6 192.3h0M290.6 142.5h0M291.2 196.6h0M291.9 175.7h0M291.3 187.3h0M291.5 195.0h0"/><path d="M290.9 201.5h0M291.7 198.1h0M291.9 179.3h0M292.2 182.6h0M290.6 189.8h0M292.2 163.3h0M291.6 194.9h0M290.0 205.0h0M291.9 186.6h0M292.4 168.6h0M291.2 204.5h0M291.5 177.9h0M292.0 178.0h0M292.6 179.3h0M291.2 203.1h0M290.4 160.7h0M290.5 192.0h0M291.8 169.7h0M291.7 190.3h0M290.2 171.7h0M290.7 198.6h0M290.8 169.7h0M291.9 195.2h0M290.4 169.1h0M292.2 194.3h0M292.7 179.9h0M290.5 193.5h0M292.2 205.0h0M292.1 178.7h0M291.3 188.0h0M292.6 198.6h0M290.1 166.6h0M289.9 180.7h0M291.9 177.2h0M292.5 208.9h0M290.8 186.8h0M291.6 204.4h0M291.5 163.4h0M292.6 201.3h0M292.5 172.5h0M290.9 186.7h0M291.7 194.7h0M291.7 170.7h0M291.8 172.5h0M292.2 168.6h0M292.5 183.6h0M291.7 203.2h0M291.1 189.6h0M291.6 144.0h0M292.7 192.5h0M290.7 177.4h0M290.8 188.5h0M291.7 179.7h0M291.6 162.8h0M289.9 162.0h0M292.0 162.0h0M292.7 176.0h0M291.0 192.0h0M290.5 163.6h0M292.5 161.0h0M290.4 178.8h0M292.6 174.0h0M292.7 177.1h0M290.8 169.5h0M291.7 184.0h0M292.5 199.6h0M291.6 168.3h0M290.0 175.4h0M291.7 187.4h0M290.2 175.3h0M291.8 184.4h0M290.7 173.8h0M291.0 180.0h0M290.5 176.3h0M291.5 174.9h0M291.6 180.0h0M292.6 173.2h0M290.6 201.2h0M292.5 175.3h0M291.5 174.4h0M290.3 175.5h0M292.3 170.7h0M289.9 172.0h0M291.5 198.9h0M291.7 171.4h0M290.2 184.7h0M291.7 169.6h0M290.9 190.2h0M291.9 179.0h0M291.3 189.0h0M289.9 166.8h0M291.1 174.5h0M292.6 179.7h0M292.7 173.1h0M289.9 167.5h0M289.9 165.6h0M292.2 161.6h0M290.2 170.2h0M290.0 203.7h0M290.3 183.1h0M292.5 196.6h0M290.3 172.7h0M292.1 176.9h0M290.7 187.8h0M290.4 181.9h0M292.2 178.2h0M291.1 183.8h0M290.0 183.0h0M292.1 188.3h0"/><path d="M289.9 177.8h0M292.6 172.4h0M290.7 177.6h0M291.8 210.1h0M290.5 170.4h0M292.6 199.0h0M291.0 171.7h0M292.6 185.2h0M291.7 205.3h0M291.9 177.4h0M292.7 177.6h0M291.5 196.3h0M292.6 180.4h0M291.3 209.4h0M291.8 181.5h0M290.6 178.5h0M291.4 171.9h0M292.5 207.6h0M290.0 197.8h0M291.5 178.2h0M290.5 176.4h0M291.7 164.2h0M291.5 174.3h0M290.6 181.6h0M292.6 174.3h0M291.7 204.3h0M290.0 173.3h0M290.4 204.5h0M290.1 197.8h0M292.2 198.3h0M291.0 182.3h0M292.7 189.2h0M292.1 158.1h0M292.2 164.1h0M291.7 207.4h0M292.2 184.6h0M290.5 201.9h0M290.9 207.7h0M290.7 179.3h0M290.1 198.0h0M290.8 178.1h0M290.3 177.3h0M291.1 166.9h0M292.3 163.6h0M292.3 177.4h0M291.3 177.1h0M292.1 184.0h0M290.5 174.7h0M291.4 170.2h0M292.5 181.3h0M292.4 209.9h0M290.8 167.9h0M290.9 185.1h0M291.2 175.1h0M291.3 185.3h0M290.2 169.3h0M292.7 174.5h0M290.2 205.5h0M292.0 190.7h0M290.3 174.8h0M291.7 176.1h0M292.6 173.7h0M292.0 184.0h0M292.7 197.0h0M291.3 186.6h0M291.4 197.1h0M291.4 170.1h0M291.1 180.7h0M290.4 174.6h0M291.2 178.5h0M290.2 210.3h0M290.4 185.1h0M290.1 194.2h0M291.6 177.9h0M292.0 175.8h0M291.1 190.9h0M292.5 198.0h0M290.1 187.1h0M291.7 181.4h0M291.0 190.4h0M292.4 198.2h0M290.3 195.8h0M291.3 203.7h0M291.4 171.7h0M290.8 183.5h0M291.7 194.7h0M292.5 185.4h0M290.7 175.8h0M290.7 173.6h0M290.3 174.3h0M291.1 148.1h0M291.9 180.1h0M291.6 185.4h0M291.8 202.3h0M290.4 163.4h0M290.9 209.7h0M291.4 177.4h0M292.4 170.0h0M290.1 169.4h0M290.5 197.7h0M290.2 178.9h0M291.9 189.8h0M292.0 175.5h0M292.5 174.6h0M290.9 164.3h0M290.1 174.6h0M290.4 168.3h0M290.0 177.2h0M291.0 170.3h0"/><path d="M290.1 187.5h0M292.1 185.4h0M291.0 203.3h0M291.8 167.7h0M291.1 182.0h0M291.3 164.2h0M291.4 163.4h0M292.6 172.6h0M292.3 173.3h0M292.7 196.5h0M292.2 190.7h0M291.7 173.3h0M291.4 186.7h0M292.5 165.6h0M290.3 165.8h0M292.4 163.8h0M292.0 192.2h0M291.9 168.8h0M291.8 186.0h0M291.7 189.0h0M290.4 170.9h0M290.9 205.1h0M290.9 165.9h0M291.4 169.7h0M290.1 192.2h0M291.1 183.0h0M291.8 207.7h0M291.1 205.8h0M292.1 187.0h0M292.5 187.7h0M291.7 184.8h0M290.6 164.4h0M291.1 170.4h0M290.0 197.0h0M292.6 189.5h0M290.8 167.3h0M290.7 180.1h0M292.6 167.7h0M292.3 180.5h0M291.2 200.9h0M291.7 190.5h0M289.9 210.7h0M290.5 195.3h0M290.3 172.1h0M291.9 178.2h0M291.2 176.7h0M292.7 186.7h0M292.6 168.6h0M290.2 203.0h0M291.0 185.2h0M290.6 178.9h0M291.9 176.1h0M291.8 174.6h0M291.9 193.7h0M291.4 172.6h0M292.1 188.1h0M292.1 181.6h0M291.8 173.5h0M292.0 182.9h0M290.8 183.6h0M289.9 174.4h0M292.3 178.6h0M289.9 203.1h0M291.9 193.1h0M290.1 169.7h0M289.9 180.8h0M291.4 179.2h0M291.2 172.4h0M290.4 184.5h0M292.7 195.2h0M292.4 198.4h0M290.3 187.9h0M291.6 161.3h0M291.6 198.3h0M292.5 171.4h0M290.1 185.5h0M291.3 176.0h0M291.3 186.8h0M290.0 165.7h0M291.8 165.8h0M291.4 187.3h0M290.7 196.7h0M292.4 192.2h0M291.4 165.2h0M292.6 169.3h0M292.2 177.0h0M290.1 199.4h0M290.0 161.6h0M290.7 175.3h0M290.9 175.3h0M291.6 177.4h0M291.9 169.4h0M291.5 181.0h0M291.5 177.7h0M290.7 182.6h0M292.0 190.7h0M291.8 185.9h0M291.3 177.2h0M292.7 190.1h0M292.3 142.4h0M291.2 178.9h0M290.3 202.8h0M291.3 174.5h0M292.2 176.1h0M290.2 182.6h0M292.5 192.0h0M291.3 188.9h0M290.2 171.1h0M289.9 178.0h0"/><path d="M290.9 179.8h0M290.1 175.8h0M291.6 168.7h0M290.0 170.2h0M290.1 170.4h0M291.4 188.0h0M291.9 170.6h0M292.5 185.3h0M289.9 162.7h0M292.6 180.9h0M291.6 210.2h0M290.6 172.8h0M290.0 191.3h0M292.5 194.7h0M290.1 169.4h0M292.2 166.2h0M291.1 182.7h0M290.8 175.6h0M292.3 185.1h0M291.8 183.2h0M291.2 192.4h0M291.9 167.1h0M292.0 185.6h0M291.3 174.3h0M291.3 192.4h0M291.5 168.0h0M290.3 167.0h0M292.1 210.2h0M290.4 177.1h0M290.9 180.9h0M290.5 173.6h0M291.9 210.0h0M291.9 183.7h0M291.8 186.2h0M292.2 170.1h0M290.4 183.2h0M291.7 193.6h0M291.1 180.1h0M291.7 193.4h0M290.5 181.4h0M292.1 186.1h0M290.6 188.9h0M291.6 171.0h0M290.2 175.8h0M290.2 187.5h0M291.6 200.8h0M292.7 170.8h0M291.5 183.4h0M291.6 200.2h0M291.5 191.7h0M292.7 134.9h0M292.5 188.9h0M292.5 183.4h0M290.7 163.2h0M290.0 180.9h0M291.1 203.2h0M290.1 167.3h0M291.4 185.9h0M290.0 176.2h0M290.3 174.5h0M292.2 189.0h0M291.9 203.3h0M291.6 178.2h0M290.3 201.8h0M290.4 196.2h0M292.3 202.3h0M290.1 207.2h0M290.2 183.2h0M292.5 205.4h0M291.9 172.1h0M291.3 176.5h0M291.9 169.2h0M291.4 179.6h0M290.3 167.3h0M291.0 186.0h0M291.0 197.0h0M290.4 178.2h0M292.5 188.1h0M292.0 192.8h0M289.9 178.4h0M290.8 210.4h0M291.0 175.2h0M292.4 183.1h0M290.0 184.8h0M292.7 178.8h0M291.0 195.0h0M290.2 183.3h0M291.3 206.6h0M292.5 193.0h0M290.8 159.6h0M292.1 192.9h0M292.0 177.2h0M290.4 161.3h0M291.7 193.9h0M290.3 183.5h0M291.3 174.0h0M292.5 177.7h0M290.3 186.8h0M290.0 189.7h0M291.8 189.2h0M291.5 169.4h0M291.8 178.1h0M291.2 201.9h0M290.6 208.9h0M291.7 173.4h0M290.5 185.3h0M290.1 183.7h0M290.4 204.6h0M291.0 202.6h0"/></g>
<g stroke="rgb(0,0,240)" stroke-opacity="0.4"><path d="M295.6 170.1h0M296.8 181.3h0M296.9 166.9h0M296.0 176.4h0M296.5 172.1h0M296.8 183.8h0M297.6 181.3h0"/><path d="M296.7 176.2h0M297.9 181.8h0M297.3 173.5h0M296.2 180.3h0M297.5 165.7h0M297.0 181.6h0M298.0 181.1h0"/><path d="M296.5 181.1h0M296.5 167.9h0M296.5 168.7h0M297.9 177.5h0M295.3 168.8h0M295.9 179.9h0M296.0 173.3h0"/><path d="M297.7 179.5h0M295.8 165.9h0M297.9 177.7h0M296.8 171.7h0M296.3 166.5h0M296.0 183.7h0M297.4 182.7h0"/><path d="M295.5 182.7h0M297.6 181.2h0M295.5 169.4h0M297.7 174.0h0M297.3 181.2h0M295.8 177.8h0M297.1 178.8h0"/></g>
<g stroke="rgb(240,0,0)" stroke-opacity="0.4"><path d="M300.8 189.5h0M303.2 191.7h0M302.9 181.0h0M302.6 182.0h0M301.9 186.3h0M302.9 189.6h0M302.0 172.9h0M301.8 176.6h0M301.0 173.9h0M302.5 175.6h0M301.4 183.8h0M303.0 173.5h0"/><path d="M302.8 181.2h0M301.5 170.7h0M302.9 174.7h0M302.9 179.5h0M302.6 188.8h0M302.8 171.1h0M301.8 174.7h0M300.8 172.4h0M302.6 177.0h0M301.1 178.5h0M301.2 188.9h0M303.1 171.5h0"/><path d="M300.7 175.0h0M303.2 175.7h0M302.7 177.8h0M302.6 174.2h0M300.9 185.7h0M301.4 171.0h0M303.1 185.5h0M301.6 182.5h0M303.3 190.0h0M300.8 172.6h0M301.4 171.4h0"/><path d="M302.7 189.8h0M301.3 184.8h0M300.7 178.3h0M300.6 171.5h0M302.5 168.9h0M300.8 179.9h0M300.7 177.6h0M302.1 178.5h0M301.3 181.9h0M303.0 181.1h0M300.5 174.8h0"/><path d="M300.7 189.0h0M302.1 177.5h0M303.1 191.0h0M302.3 182.5h0M301.6 170.6h0M302.1 178.1h0M300.7 181.3h0M301.1 183.3h0M302.6 176.9h0M302.5 181.4h0M300.8 170.9h0"/></g>
<g stroke="rgb(240,0,0)" stroke-opacity="0.4"><path d="M307.8 180.3h0M306.2 186.2h0M308.1 189.0h0M308.2 176.2h0M307.6 196.2h0M308.0 177.4h0M307.8 186.5h0M307.5 175.2h0M308.3 181.2h0M307.7 172.4h0M306.6 182.2h0M307.6 179.6h0M306.7 190.4h0M308.3 193.9h0M307.3 193.1h0M306.2 175.4h0"/><path d="M308.5 172.5h0M307.9 178.8h0M308.1 179.7h0M306.0 174.8h0M307.0 177.1h0M307.4 175.9h0M307.2 180.1h0M308.2 175.1h0M308.6 175.4h0M305.9 185.3h0M307.5 177.3h0M307.3 179.3h0M306.9 189.9h0M307.1 182.0h0M308.2 193.0h0M308.4 193.8h0"/><path d="M306.3 183.6h0M306.8 185.7h0M308.3 179.2h0M305.8 180.2h0M308.2 175.8h0M307.0 193.8h0M307.1 175.9h0M306.6 183.8h0M308.5 185.8h0M307.2 182.9h0M308.6 189.2h0M308.4 200.6h0M307.3 173.5h0M307.5 176.7h0M306.0 184.7h0M308.4 194.8h0"/><path d="M306.5 183.1h0M306.3 194.2h0M307.1 193.7h0M306.9 197.2h0M306.4 203.1h0M307.2 194.9h0M307.3 191.1h0M306.4 174.9h0M306.0 185.8h0M307.2 178.7h0M307.2 187.8h0M307.3 183.5h0M306.2 191.9h0M306.3 179.4h0M308.3 181.0h0M308.3 202.5h0"/><path d="M308.3 185.8h0M306.5 174.4h0M308.5 180.2h0M306.1 188.1h0M307.0 174.6h0M307.8 181.5h0M308.5 190.0h0M307.8 179.7h0M306.6 203.0h0M307.0 177.3h0M306.8 197.5h0M308.5 174.3h0M305.9 187.4h0M306.9 175.2h0M307.4 194.7h0M306.6 193.4h0"/></g>
</g>
<rect x="13.70" y="185.0" width="4" height="13.0" fill="#fff" fill-opacity="0.42" stroke="rgb(240,0,0)" stroke-opacity="0.8" stroke-width="0.4"/>
<line x1="13.70" y1="191.5" x2="17.70" y2="191.5" stroke="rgb(240,0,0)" stroke-opacity="0.85" stroke-width="0.5"/>
<rect x="19.00" y="182.0" width="4" height="13.0" fill="#fff" fill-opacity="0.42" stroke="rgb(240,0,0)" stroke-opacity="0.8" stroke-width="0.4"/>
<line x1="19.00" y1="188.5" x2="23.00" y2="188.5" stroke="rgb(240,0,0)" stroke-opacity="0.85" stroke-width="0.5"/>
<rect x="24.30" y="181.0" width="4" height="8.0" fill="#fff" fill-opacity="0.42" stroke="rgb(0,0,240)" stroke-opacity="0.8" stroke-width="0.4"/>
<line x1="24.30" y1="185.0" x2="28.30" y2="185.0" stroke="rgb(0,0,240)" stroke-opacity="0.85" stroke-width="0.5"/>
<rect x="29.60" y="174.0" width="4" height="13.0" fill="#fff" fill-opacity="0.42" stroke="rgb(240,0,0)" stroke-opacity="0.8" stroke-width="0.4"/>
<line x1="29.60" y1="180.5" x2="33.60" y2="180.5" stroke="rgb(240,0,0)" stroke-opacity="0.85" stroke-width="0.5"/>
<rect x="34.90" y="169.0" width="4" height="12.0" fill="#fff" fill-opacity="0.42" stroke="rgb(0,0,240)" stroke-opacity="0.8" stroke-width="0.4"/>
<line x1="34.90" y1="175.0" x2="38.90" y2="175.0" stroke="rgb(0,0,240)" stroke-opacity="0.85" stroke-width="0.5"/>
<rect x="40.20" y="183.0" width="4" height="12.0" fill="#fff" fill-opacity="0.42" stroke="rgb(240,0,0)" stroke-opacity="0.8" stroke-width="0.4"/>
<line x1="40.20" y1="189.0" x2="44.20" y2="189.0" stroke="rgb(240,0,0)" stroke-opacity="0.85" stroke-width="0.5"/>
<rect x="45.50" y="185.0" width="4" height="14.0" fill="#fff" fill-opacity="0.42" stroke="rgb(240,0,0)" stroke-opacity="0.8" stroke-width="0.4"/>
<line x1="45.50" y1="192.0" x2="49.50" y2="192.0" stroke="rgb(240,0,0)" stroke-opacity="0.85" stroke-width="0.5"/>
<rect x="50.80" y="175.0" width="4" height="12.0" fill="#fff" fill-opacity="0.42" stroke="rgb(240,0,0)" stroke-opacity="0.8" stroke-width="0.4"/>
<line x1="50.80" y1="181.0" x2="54.80" y2="181.0" stroke="rgb(240,0,0)" stroke-opacity="0.85" stroke-width="0.5"/>
<rect x="56.10" y="181.0" width="4" height="12.0" fill="#fff" fill-opacity="0.42" stroke="rgb(240,0,0)" stroke-opacity="0.8" stroke-width="0.4"/>
<line x1="56.10" y1="187.0" x2="60.10" y2="187.0" stroke="rgb(240,0,0)" stroke-opacity="0.85" stroke-width="0.5"/>
<rect x="61.40" y="185.0" width="4" height="14.0" fill="#fff" fill-opacity="0.42" stroke="rgb(240,0,0)" stroke-opacity="0.8" stroke-width="0.4"/>
<line x1="61.40" y1="192.0" x2="65.40" y2="192.0" stroke="rgb(240,0,0)" stroke-opacity="0.85" stroke-width="0.5"/>
<rect x="66.70" y="210.0" width="4" height="6.0" fill="#fff" fill-opacity="0.42" stroke="rgb(0,0,240)" stroke-opacity="0.8" stroke-width="0.4"/>
<line x1="66.70" y1="213.0" x2="70.70" y2="213.0" stroke="rgb(0,0,240)" stroke-opacity="0.85" stroke-width="0.5"/>
<rect x="72.00" y="202.0" width="4" height="12.0" fill="#fff" fill-opacity="0.42" stroke="rgb(240,0,0)" stroke-opacity="0.8" stroke-width="0.4"/>
<line x1="72.00" y1="208.0" x2="76.00" y2="208.0" stroke="rgb(240,0,0)" stroke-opacity="0.85" stroke-width="0.5"/>
<rect x="77.30" y="193.0" width="4" height="12.0" fill="#fff" fill-opacity="0.42" stroke="rgb(0,0,240)" stroke-opacity="0.8" stroke-width="0.4"/>
<line x1="77.30" y1="199.0" x2="81.30" y2="199.0" stroke="rgb(0,0,240)" stroke-opacity="0.85" stroke-width="0.5"/>
<rect x="82.60" y="191.0" width="4" height="12.0" fill="#fff" fill-opacity="0.42" stroke="rgb(240,0,0)" stroke-opacity="0.8" stroke-width="0.4"/>
<line x1="82.60" y1="197.0" x2="86.60" y2="197.0" stroke="rgb(240,0,0)" stroke-opacity="0.85" stroke-width="0.5"/>
<rect x="87.90" y="179.0" width="4" height="14.0" fill="#fff" fill-opacity="0.42" stroke="rgb(240,0,0)" stroke-opacity="0.8" stroke-width="0.4"/>
<line x1="87.90" y1="186.0" x2="91.90" y2="186.0" stroke="rgb(240,0,0)" stroke-opacity="0.85" stroke-width="0.5"/>
<rect x="93.20" y="187.0" width="4" height="14.0" fill="#fff" fill-opacity="0.42" stroke="rgb(0,0,240)" stroke-opacity="0.8" stroke-width="0.4"/>
<line x1="93.20" y1="194.0" x2="97.20" y2="194.0" stroke="rgb(0,0,240)" stroke-opacity="0.85" stroke-width="0.5"/>
<rect x="98.50" y="171.0" width="4" height="12.0" fill="#fff" fill-opacity="0.42" stroke="rgb(240,0,0)" stroke-opacity="0.8" stroke-width="0.4"/>
<line x1="98.50" y1="177.0" x2="102.50" y2="177.0" stroke="rgb(240,0,0)" stroke-opacity="0.85" stroke-width="0.5"/>
<rect x="103.80" y="177.0" width="4" height="12.0" fill="#fff" fill-opacity="0.42" stroke="rgb(240,0,0)" stroke-opacity="0.8" stroke-width="0.4"/>
<line x1="103.80" y1="183.0" x2="107.80" y2="183.0" stroke="rgb(240,0,0)" stroke-opacity="0.85" stroke-width="0.5"/>
<rect x="109.10" y="187.0" width="4" height="13.0" fill="#fff" fill-opacity="0.42" stroke="rgb(0,0,240)" stroke-opacity="0.8" stroke-width="0.4"/>
<line x1="109.10" y1="193.5" x2="113.10" y2="193.5" stroke="rgb(0,0,240)" stroke-opacity="0.85" stroke-width="0.5"/>
<rect x="114.40" y="175.0" width="4" height="14.0" fill="#fff" fill-opacity="0.42" stroke="rgb(240,0,0)" stroke-opacity="0.8" stroke-width="0.4"/>
<line x1="114.40" y1="182.0" x2="118.40" y2="182.0" stroke="rgb(240,0,0)" stroke-opacity="0.85" stroke-width="0.5"/>
<rect x="119.70" y="177.0" width="4" height="12.0" fill="#fff" fill-opacity="0.42" stroke="rgb(240,0,0)" stroke-opacity="0.8" stroke-width="0.4"/>
<line x1="119.70" y1="183.0" x2="123.70" y2="183.0" stroke="rgb(240,0,0)" stroke-opacity="0.85" stroke-width="0.5"/>
<rect x="125.00" y="169.0" width="4" height="12.0" fill="#fff" fill-opacity="0.42" stroke="rgb(240,0,0)" stroke-opacity="0.8" stroke-width="0.4"/>
<line x1="125.00" y1="175.0" x2="129.00" y2="175.0" stroke="rgb(240,0,0)" stroke-opacity="0.85" stroke-width="0.5"/>
<rect x="130.30" y="179.0" width="4" height="10.0" fill="#fff" fill-opacity="0.42" stroke="rgb(0,0,240)" stroke-opacity="0.8" stroke-width="0.4"/>
<line x1="130.30" y1="184.0" x2="134.30" y2="184.0" stroke="rgb(0,0,240)" stroke-opacity="0.85" stroke-width="0.5"/>
<rect x="135.60" y="173.0" width="4" height="12.0" fill="#fff" fill-opacity="0.42" stroke="rgb(240,0,0)" stroke-opacity="0.8" stroke-width="0.4"/>
<line x1="135.60" y1="179.0" x2="139.60" y2="179.0" stroke="rgb(240,0,0)" stroke-opacity="0.85" stroke-width="0.5"/>
<rect x="140.90" y="177.0" width="4" height="12.0" fill="#fff" fill-opacity="0.42" stroke="rgb(0,0,240)" stroke-opacity="0.8" stroke-width="0.4"/>
<line x1="140.90" y1="183.0" x2="144.90" y2="183.0" stroke="rgb(0,0,240)" stroke-opacity="0.85" stroke-width="0.5"/>
<rect x="146.20" y="175.0" width="4" height="12.0" fill="#fff" fill-opacity="0.42" stroke="rgb(240,0,0)" stroke-opacity="0.8" stroke-width="0.4"/>
<line x1="146.20" y1="181.0" x2="150.20" y2="181.0" stroke="rgb(240,0,0)" stroke-opacity="0.85" stroke-width="0.5"/>
<rect x="151.50" y="179.0" width="4" height="10.0" fill="#fff" fill-opacity="0.42" stroke="rgb(0,0,240)" stroke-opacity="0.8" stroke-width="0.4"/>
<line x1="151.50" y1="184.0" x2="155.50" y2="184.0" stroke="rgb(0,0,240)" stroke-opacity="0.85" stroke-width="0.5"/>
<rect x="156.80" y="163.0" width="4" height="14.0" fill="#fff" fill-opacity="0.42" stroke="rgb(240,0,0)" stroke-opacity="0.8" stroke-width="0.4"/>
<line x1="156.80" y1="170.0" x2="160.80" y2="170.0" stroke="rgb(240,0,0)" stroke-opacity="0.85" stroke-width="0.5"/>
<rect x="162.10" y="157.0" width="4" height="14.0" fill="#fff" fill-opacity="0.42" stroke="rgb(240,0,0)" stroke-opacity="0.8" stroke-width="0.4"/>
<line x1="162.10" y1="164.0" x2="166.10" y2="164.0" stroke="rgb(240,0,0)" stroke-opacity="0.85" stroke-width="0.5"/>
<rect x="167.40" y="203.0" width="4" height="12.0" fill="#fff" fill-opacity="0.42" stroke="rgb(240,0,0)" stroke-opacity="0.8" stroke-width="0.4"/>
<line x1="167.40" y1="209.0" x2="171.40" y2="209.0" stroke="rgb(240,0,0)" stroke-opacity="0.85" stroke-width="0.5"/>
<rect x="172.70" y="209.0" width="4" height="7.0" fill="#fff" fill-opacity="0.42" stroke="rgb(0,0,240)" stroke-opacity="0.8" stroke-width="0.4"/>
<line x1="172.70" y1="212.5" x2="176.70" y2="212.5" stroke="rgb(0,0,240)" stroke-opacity="0.85" stroke-width="0.5"/>
<rect x="178.00" y="181.0" width="4" height="10.0" fill="#fff" fill-opacity="0.42" stroke="rgb(240,0,0)" stroke-opacity="0.8" stroke-width="0.4"/>
<line x1="178.00" y1="186.0" x2="182.00" y2="186.0" stroke="rgb(240,0,0)" stroke-opacity="0.85" stroke-width="0.5"/>
<rect x="183.30" y="173.0" width="4" height="12.0" fill="#fff" fill-opacity="0.42" stroke="rgb(0,0,240)" stroke-opacity="0.8" stroke-width="0.4"/>
<line x1="183.30" y1="179.0" x2="187.30" y2="179.0" stroke="rgb(0,0,240)" stroke-opacity="0.85" stroke-width="0.5"/>
<rect x="188.60" y="177.0" width="4" height="12.0" fill="#fff" fill-opacity="0.42" stroke="rgb(240,0,0)" stroke-opacity="0.8" stroke-width="0.4"/>
<line x1="188.60" y1="183.0" x2="192.60" y2="183.0" stroke="rgb(240,0,0)" stroke-opacity="0.85" stroke-width="0.5"/>
<rect x="193.90" y="175.0" width="4" height="10.0" fill="#fff" fill-opacity="0.42" stroke="rgb(0,0,240)" stroke-opacity="0.8" stroke-width="0.4"/>
<line x1="193.90" y1="180.0" x2="197.90" y2="180.0" stroke="rgb(0,0,240)" stroke-opacity="0.85" stroke-width="0.5"/>
<rect x="199.20" y="177.0" width="4" height="12.0" fill="#fff" fill-opacity="0.42" stroke="rgb(240,0,0)" stroke-opacity="0.8" stroke-width="0.4"/>
<line x1="199.20" y1="183.0" x2="203.20" y2="183.0" stroke="rgb(240,0,0)" stroke-opacity="0.85" stroke-width="0.5"/>
<rect x="204.50" y="177.0" width="4" height="12.0" fill="#fff" fill-opacity="0.42" stroke="rgb(240,0,0)" stroke-opacity="0.8" stroke-width="0.4"/>
<line x1="204.50" y1="183.0" x2="208.50" y2="183.0" stroke="rgb(240,0,0)" stroke-opacity="0.85" stroke-width="0.5"/>
<rect x="209.80" y="179.0" width="4" height="14.0" fill="#fff" fill-opacity="0.42" stroke="rgb(240,0,0)" stroke-opacity="0.8" stroke-width="0.4"/>
<line x1="209.80" y1="186.0" x2="213.80" y2="186.0" stroke="rgb(240,0,0)" stroke-opacity="0.85" stroke-width="0.5"/>
<rect x="215.10" y="179.0" width="4" height="10.0" fill="#fff" fill-opacity="0.42" stroke="rgb(240,0,0)" stroke-opacity="0.8" stroke-width="0.4"/>
<line x1="215.10" y1="184.0" x2="219.10" y2="184.0" stroke="rgb(240,0,0)" stroke-opacity="0.85" stroke-width="0.5"/>
<rect x="220.40" y="179.0" width="4" height="12.0" fill="#fff" fill-opacity="0.42" stroke="rgb(240,0,0)" stroke-opacity="0.8" stroke-width="0.4"/>
<line x1="220.40" y1="185.0" x2="224.40" y2="185.0" stroke="rgb(240,0,0)" stroke-opacity="0.85" stroke-width="0.5"/>
<rect x="225.70" y="179.0" width="4" height="10.0" fill="#fff" fill-opacity="0.42" stroke="rgb(0,0,240)" stroke-opacity="0.8" stroke-width="0.4"/>
<line x1="225.70" y1="184.0" x2="229.70" y2="184.0" stroke="rgb(0,0,240)" stroke-opacity="0.85" stroke-width="0.5"/>
<rect x="231.00" y="199.0" width="4" height="14.0" fill="#fff" fill-opacity="0.42" stroke="rgb(240,0,0)" stroke-opacity="0.8" stroke-width="0.4"/>
<line x1="231.00" y1="206.0" x2="235.00" y2="206.0" stroke="rgb(240,0,0)" stroke-opacity="0.85" stroke-width="0.5"/>
<rect x="236.30" y="179.0" width="4" height="30.0" fill="#fff" fill-opacity="0.42" stroke="rgb(0,0,240)" stroke-opacity="0.8" stroke-width="0.4"/>
<line x1="236.30" y1="194.0" x2="240.30" y2="194.0" stroke="rgb(0,0,240)" stroke-opacity="0.85" stroke-width="0.5"/>
<rect x="241.60" y="177.0" width="4" height="14.0" fill="#fff" fill-opacity="0.42" stroke="rgb(240,0,0)" stroke-opacity="0.8" stroke-width="0.4"/>
<line x1="241.60" y1="184.0" x2="245.60" y2="184.0" stroke="rgb(240,0,0)" stroke-opacity="0.85" stroke-width="0.5"/>
<rect x="246.90" y="177.0" width="4" height="12.0" fill="#fff" fill-opacity="0.42" stroke="rgb(240,0,0)" stroke-opacity="0.8" stroke-width="0.4"/>
<line x1="246.90" y1="183.0" x2="250.90" y2="183.0" stroke="rgb(240,0,0)" stroke-opacity="0.85" stroke-width="0.5"/>
<rect x="252.20" y="173.0" width="4" height="15.0" fill="#fff" fill-opacity="0.42" stroke="rgb(150,20,240)" stroke-opacity="0.8" stroke-width="0.4"/>
<line x1="252.20" y1="180.5" x2="256.20" y2="180.5" stroke="rgb(150,20,240)" stroke-opacity="0.85" stroke-width="0.5"/>
<rect x="257.50" y="185.0" width="4" height="18.0" fill="#fff" fill-opacity="0.42" stroke="rgb(240,0,0)" stroke-opacity="0.8" stroke-width="0.4"/>
<line x1="257.50" y1="194.0" x2="261.50" y2="194.0" stroke="rgb(240,0,0)" stroke-opacity="0.85" stroke-width="0.5"/>
<rect x="262.80" y="181.0" width="4" height="30.0" fill="#fff" fill-opacity="0.42" stroke="rgb(0,0,240)" stroke-opacity="0.8" stroke-width="0.4"/>
<line x1="262.80" y1="196.0" x2="266.80" y2="196.0" stroke="rgb(0,0,240)" stroke-opacity="0.85" stroke-width="0.5"/>
<rect x="268.10" y="155.0" width="4" height="14.0" fill="#fff" fill-opacity="0.42" stroke="rgb(240,0,0)" stroke-opacity="0.8" stroke-width="0.4"/>
<line x1="268.10" y1="162.0" x2="272.10" y2="162.0" stroke="rgb(240,0,0)" stroke-opacity="0.85" stroke-width="0.5"/>
<rect x="273.40" y="175.0" width="4" height="14.0" fill="#fff" fill-opacity="0.42" stroke="rgb(240,0,0)" stroke-opacity="0.8" stroke-width="0.4"/>
<line x1="273.40" y1="182.0" x2="277.40" y2="182.0" stroke="rgb(240,0,0)" stroke-opacity="0.85" stroke-width="0.5"/>
<rect x="278.70" y="169.0" width="4" height="12.0" fill="#fff" fill-opacity="0.42" stroke="rgb(0,0,240)" stroke-opacity="0.8" stroke-width="0.4"/>
<line x1="278.70" y1="175.0" x2="282.70" y2="175.0" stroke="rgb(0,0,240)" stroke-opacity="0.85" stroke-width="0.5"/>
<rect x="284.00" y="179.0" width="4" height="12.0" fill="#fff" fill-opacity="0.42" stroke="rgb(240,0,0)" stroke-opacity="0.8" stroke-width="0.4"/>
<line x1="284.00" y1="185.0" x2="288.00" y2="185.0" stroke="rgb(240,0,0)" stroke-opacity="0.85" stroke-width="0.5"/>
<rect x="289.30" y="173.0" width="4" height="16.0" fill="#fff" fill-opacity="0.42" stroke="rgb(240,0,0)" stroke-opacity="0.8" stroke-width="0.4"/>
<line x1="289.30" y1="181.0" x2="293.30" y2="181.0" stroke="rgb(240,0,0)" stroke-opacity="0.85" stroke-width="0.5"/>
<rect x="294.60" y="169.0" width="4" height="12.0" fill="#fff" fill-opacity="0.42" stroke="rgb(0,0,240)" stroke-opacity="0.8" stroke-width="0.4"/>
<line x1="294.60" y1="175.0" x2="298.60" y2="175.0" stroke="rgb(0,0,240)" stroke-opacity="0.85" stroke-width="0.5"/>
<rect x="299.90" y="175.0" width="4" height="10.0" fill="#fff" fill-opacity="0.42" stroke="rgb(240,0,0)" stroke-opacity="0.8" stroke-width="0.4"/>
<line x1="299.90" y1="180.0" x2="303.90" y2="180.0" stroke="rgb(240,0,0)" stroke-opacity="0.85" stroke-width="0.5"/>
<rect x="305.20" y="176.0" width="4" height="14.0" fill="#fff" fill-opacity="0.42" stroke="rgb(240,0,0)" stroke-opacity="0.8" stroke-width="0.4"/>
<line x1="305.20" y1="183.0" x2="309.20" y2="183.0" stroke="rgb(240,0,0)" stroke-opacity="0.85" stroke-width="0.5"/>
<line x1="15.70" y1="224.5" x2="15.70" y2="226.1" stroke="#666" stroke-width="0.45"/>
<text transform="translate(17.00,227.3) rotate(-90)" font-family="'Liberation Sans', sans-serif" font-size="3.75" fill="#333" stroke="#333" stroke-width="0.1" text-anchor="end">ACC.Tumor</text>
<line x1="21.00" y1="224.5" x2="21.00" y2="226.1" stroke="#666" stroke-width="0.45"/>
<text transform="translate(22.30,227.3) rotate(-90)" font-family="'Liberation Sans', sans-serif" font-size="3.75" fill="#333" stroke="#333" stroke-width="0.1" text-anchor="end">BLCA.Tumor</text>
<line x1="26.30" y1="224.5" x2="26.30" y2="226.1" stroke="#666" stroke-width="0.45"/>
<text transform="translate(27.60,227.3) rotate(-90)" font-family="'Liberation Sans', sans-serif" font-size="3.75" fill="#333" stroke="#333" stroke-width="0.1" text-anchor="end">BLCA.Normal</text>
<line x1="31.60" y1="224.5" x2="31.60" y2="226.1" stroke="#666" stroke-width="0.45"/>
<text transform="translate(32.90,227.3) rotate(-90)" font-family="'Liberation Sans', sans-serif" font-size="3.75" fill="#333" stroke="#333" stroke-width="0.1" text-anchor="end">BRCA.Tumor</text>
<line x1="36.90" y1="224.5" x2="36.90" y2="226.1" stroke="#666" stroke-width="0.45"/>
<text transform="translate(38.20,227.3) rotate(-90)" font-family="'Liberation Sans', sans-serif" font-size="3.75" fill="#333" stroke="#333" stroke-width="0.1" text-anchor="end">BRCA.Normal</text>
<line x1="42.20" y1="224.5" x2="42.20" y2="226.1" stroke="#666" stroke-width="0.45"/>
<text transform="translate(43.50,227.3) rotate(-90)" font-family="'Liberation Sans', sans-serif" font-size="3.75" fill="#333" stroke="#333" stroke-width="0.1" text-anchor="end">BRCA-Basal.Tumor</text>
<line x1="47.50" y1="224.5" x2="47.50" y2="226.1" stroke="#666" stroke-width="0.45"/>
<text transform="translate(48.80,227.3) rotate(-90)" font-family="'Liberation Sans', sans-serif" font-size="3.75" fill="#333" stroke="#333" stroke-width="0.1" text-anchor="end">BRCA-Her2.Tumor</text>
<line x1="52.80" y1="224.5" x2="52.80" y2="226.1" stroke="#666" stroke-width="0.45"/>
<text transform="translate(54.10,227.3) rotate(-90)" font-family="'Liberation Sans', sans-serif" font-size="3.75" fill="#333" stroke="#333" stroke-width="0.1" text-anchor="end">BRCA-Luminal.Tumor</text>
<line x1="58.10" y1="224.5" x2="58.10" y2="226.1" stroke="#666" stroke-width="0.45"/>
<text transform="translate(59.40,227.3) rotate(-90)" font-family="'Liberation Sans', sans-serif" font-size="3.75" fill="#333" stroke="#333" stroke-width="0.1" text-anchor="end">CESC.Tumor</text>
<line x1="63.40" y1="224.5" x2="63.40" y2="226.1" stroke="#666" stroke-width="0.45"/>
<text transform="translate(64.70,227.3) rotate(-90)" font-family="'Liberation Sans', sans-serif" font-size="3.75" fill="#333" stroke="#333" stroke-width="0.1" text-anchor="end">CHOL.Tumor</text>
<line x1="68.70" y1="224.5" x2="68.70" y2="226.1" stroke="#666" stroke-width="0.45"/>
<text transform="translate(70.00,227.3) rotate(-90)" font-family="'Liberation Sans', sans-serif" font-size="3.75" fill="#333" stroke="#333" stroke-width="0.1" text-anchor="end">CHOL.Normal</text>
<line x1="74.00" y1="224.5" x2="74.00" y2="226.1" stroke="#666" stroke-width="0.45"/>
<text transform="translate(75.30,227.3) rotate(-90)" font-family="'Liberation Sans', sans-serif" font-size="3.75" fill="#333" stroke="#333" stroke-width="0.1" text-anchor="end">COAD.Tumor</text>
<line x1="79.30" y1="224.5" x2="79.30" y2="226.1" stroke="#666" stroke-width="0.45"/>
<text transform="translate(80.60,227.3) rotate(-90)" font-family="'Liberation Sans', sans-serif" font-size="3.75" fill="#333" stroke="#333" stroke-width="0.1" text-anchor="end">COAD.Normal</text>
<line x1="84.60" y1="224.5" x2="84.60" y2="226.1" stroke="#666" stroke-width="0.45"/>
<text transform="translate(85.90,227.3) rotate(-90)" font-family="'Liberation Sans', sans-serif" font-size="3.75" fill="#333" stroke="#333" stroke-width="0.1" text-anchor="end">DLBC.Tumor</text>
<line x1="89.90" y1="224.5" x2="89.90" y2="226.1" stroke="#666" stroke-width="0.45"/>
<text transform="translate(91.20,227.3) rotate(-90)" font-family="'Liberation Sans', sans-serif" font-size="3.75" fill="#333" stroke="#333" stroke-width="0.1" text-anchor="end">ESCA.Tumor</text>
<line x1="95.20" y1="224.5" x2="95.20" y2="226.1" stroke="#666" stroke-width="0.45"/>
<text transform="translate(96.50,227.3) rotate(-90)" font-family="'Liberation Sans', sans-serif" font-size="3.75" fill="#333" stroke="#333" stroke-width="0.1" text-anchor="end">ESCA.Normal</text>
<line x1="100.50" y1="224.5" x2="100.50" y2="226.1" stroke="#666" stroke-width="0.45"/>
<text transform="translate(101.80,227.3) rotate(-90)" font-family="'Liberation Sans', sans-serif" font-size="3.75" fill="#333" stroke="#333" stroke-width="0.1" text-anchor="end">GBM.Tumor</text>
<line x1="105.80" y1="224.5" x2="105.80" y2="226.1" stroke="#666" stroke-width="0.45"/>
<text transform="translate(107.10,227.3) rotate(-90)" font-family="'Liberation Sans', sans-serif" font-size="3.75" fill="#333" stroke="#333" stroke-width="0.1" text-anchor="end">HNSC.Tumor</text>
<line x1="111.10" y1="224.5" x2="111.10" y2="226.1" stroke="#666" stroke-width="0.45"/>
<text transform="translate(112.40,227.3) rotate(-90)" font-family="'Liberation Sans', sans-serif" font-size="3.75" fill="#333" stroke="#333" stroke-width="0.1" text-anchor="end">HNSC.Normal</text>
<line x1="116.40" y1="224.5" x2="116.40" y2="226.1" stroke="#666" stroke-width="0.45"/>
<text transform="translate(117.70,227.3) rotate(-90)" font-family="'Liberation Sans', sans-serif" font-size="3.75" fill="#333" stroke="#333" stroke-width="0.1" text-anchor="end">HNSC-HPVpos.Tumor</text>
<line x1="121.70" y1="224.5" x2="121.70" y2="226.1" stroke="#666" stroke-width="0.45"/>
<text transform="translate(123.00,227.3) rotate(-90)" font-family="'Liberation Sans', sans-serif" font-size="3.75" fill="#333" stroke="#333" stroke-width="0.1" text-anchor="end">HNSC-HPVneg.Tumor</text>
<line x1="127.00" y1="224.5" x2="127.00" y2="226.1" stroke="#666" stroke-width="0.45"/>
<text transform="translate(128.30,227.3) rotate(-90)" font-family="'Liberation Sans', sans-serif" font-size="3.75" fill="#333" stroke="#333" stroke-width="0.1" text-anchor="end">KICH.Tumor</text>
<line x1="132.30" y1="224.5" x2="132.30" y2="226.1" stroke="#666" stroke-width="0.45"/>
<text transform="translate(133.60,227.3) rotate(-90)" font-family="'Liberation Sans', sans-serif" font-size="3.75" fill="#333" stroke="#333" stroke-width="0.1" text-anchor="end">KICH.Normal</text>
<line x1="137.60" y1="224.5" x2="137.60" y2="226.1" stroke="#666" stroke-width="0.45"/>
<text transform="translate(138.90,227.3) rotate(-90)" font-family="'Liberation Sans', sans-serif" font-size="3.75" fill="#333" stroke="#333" stroke-width="0.1" text-anchor="end">KIRC.Tumor</text>
<line x1="142.90" y1="224.5" x2="142.90" y2="226.1" stroke="#666" stroke-width="0.45"/>
<text transform="translate(144.20,227.3) rotate(-90)" font-family="'Liberation Sans', sans-serif" font-size="3.75" fill="#333" stroke="#333" stroke-width="0.1" text-anchor="end">KIRC.Normal</text>
<line x1="148.20" y1="224.5" x2="148.20" y2="226.1" stroke="#666" stroke-width="0.45"/>
<text transform="translate(149.50,227.3) rotate(-90)" font-family="'Liberation Sans', sans-serif" font-size="3.75" fill="#333" stroke="#333" stroke-width="0.1" text-anchor="end">KIRP.Tumor</text>
<line x1="153.50" y1="224.5" x2="153.50" y2="226.1" stroke="#666" stroke-width="0.45"/>
<text transform="translate(154.80,227.3) rotate(-90)" font-family="'Liberation Sans', sans-serif" font-size="3.75" fill="#333" stroke="#333" stroke-width="0.1" text-anchor="end">KIRP.Normal</text>
<line x1="158.80" y1="224.5" x2="158.80" y2="226.1" stroke="#666" stroke-width="0.45"/>
<text transform="translate(160.10,227.3) rotate(-90)" font-family="'Liberation Sans', sans-serif" font-size="3.75" fill="#333" stroke="#333" stroke-width="0.1" text-anchor="end">LAML.Tumor</text>
<line x1="164.10" y1="224.5" x2="164.10" y2="226.1" stroke="#666" stroke-width="0.45"/>
<text transform="translate(165.40,227.3) rotate(-90)" font-family="'Liberation Sans', sans-serif" font-size="3.75" fill="#333" stroke="#333" stroke-width="0.1" text-anchor="end">LGG.Tumor</text>
<line x1="169.40" y1="224.5" x2="169.40" y2="226.1" stroke="#666" stroke-width="0.45"/>
<text transform="translate(170.70,227.3) rotate(-90)" font-family="'Liberation Sans', sans-serif" font-size="3.75" fill="#333" stroke="#333" stroke-width="0.1" text-anchor="end">LIHC.Tumor</text>
<line x1="174.70" y1="224.5" x2="174.70" y2="226.1" stroke="#666" stroke-width="0.45"/>
<text transform="translate(176.00,227.3) rotate(-90)" font-family="'Liberation Sans', sans-serif" font-size="3.75" fill="#333" stroke="#333" stroke-width="0.1" text-anchor="end">LIHC.Normal</text>
<line x1="180.00" y1="224.5" x2="180.00" y2="226.1" stroke="#666" stroke-width="0.45"/>
<text transform="translate(181.30,227.3) rotate(-90)" font-family="'Liberation Sans', sans-serif" font-size="3.75" fill="#333" stroke="#333" stroke-width="0.1" text-anchor="end">LUAD.Tumor</text>
<line x1="185.30" y1="224.5" x2="185.30" y2="226.1" stroke="#666" stroke-width="0.45"/>
<text transform="translate(186.60,227.3) rotate(-90)" font-family="'Liberation Sans', sans-serif" font-size="3.75" fill="#333" stroke="#333" stroke-width="0.1" text-anchor="end">LUAD.Normal</text>
<line x1="190.60" y1="224.5" x2="190.60" y2="226.1" stroke="#666" stroke-width="0.45"/>
<text transform="translate(191.90,227.3) rotate(-90)" font-family="'Liberation Sans', sans-serif" font-size="3.75" fill="#333" stroke="#333" stroke-width="0.1" text-anchor="end">LUSC.Tumor</text>
<line x1="195.90" y1="224.5" x2="195.90" y2="226.1" stroke="#666" stroke-width="0.45"/>
<text transform="translate(197.20,227.3) rotate(-90)" font-family="'Liberation Sans', sans-serif" font-size="3.75" fill="#333" stroke="#333" stroke-width="0.1" text-anchor="end">LUSC.Normal</text>
<line x1="201.20" y1="224.5" x2="201.20" y2="226.1" stroke="#666" stroke-width="0.45"/>
<text transform="translate(202.50,227.3) rotate(-90)" font-family="'Liberation Sans', sans-serif" font-size="3.75" fill="#333" stroke="#333" stroke-width="0.1" text-anchor="end">MESO.Tumor</text>
<line x1="206.50" y1="224.5" x2="206.50" y2="226.1" stroke="#666" stroke-width="0.45"/>
<text transform="translate(207.80,227.3) rotate(-90)" font-family="'Liberation Sans', sans-serif" font-size="3.75" fill="#333" stroke="#333" stroke-width="0.1" text-anchor="end">OV.Tumor</text>
<line x1="211.80" y1="224.5" x2="211.80" y2="226.1" stroke="#666" stroke-width="0.45"/>
<text transform="translate(213.10,227.3) rotate(-90)" font-family="'Liberation Sans', sans-serif" font-size="3.75" fill="#333" stroke="#333" stroke-width="0.1" text-anchor="end">PAAD.Tumor</text>
<line x1="217.10" y1="224.5" x2="217.10" y2="226.1" stroke="#666" stroke-width="0.45"/>
<text transform="translate(218.40,227.3) rotate(-90)" font-family="'Liberation Sans', sans-serif" font-size="3.75" fill="#333" stroke="#333" stroke-width="0.1" text-anchor="end">PCPG.Tumor</text>
<line x1="222.40" y1="224.5" x2="222.40" y2="226.1" stroke="#666" stroke-width="0.45"/>
<text transform="translate(223.70,227.3) rotate(-90)" font-family="'Liberation Sans', sans-serif" font-size="3.75" fill="#333" stroke="#333" stroke-width="0.1" text-anchor="end">PRAD.Tumor</text>
<line x1="227.70" y1="224.5" x2="227.70" y2="226.1" stroke="#666" stroke-width="0.45"/>
<text transform="translate(229.00,227.3) rotate(-90)" font-family="'Liberation Sans', sans-serif" font-size="3.75" fill="#333" stroke="#333" stroke-width="0.1" text-anchor="end">PRAD.Normal</text>
<line x1="233.00" y1="224.5" x2="233.00" y2="226.1" stroke="#666" stroke-width="0.45"/>
<text transform="translate(234.30,227.3) rotate(-90)" font-family="'Liberation Sans', sans-serif" font-size="3.75" fill="#333" stroke="#333" stroke-width="0.1" text-anchor="end">READ.Tumor</text>
<line x1="238.30" y1="224.5" x2="238.30" y2="226.1" stroke="#666" stroke-width="0.45"/>
<text transform="translate(239.60,227.3) rotate(-90)" font-family="'Liberation Sans', sans-serif" font-size="3.75" fill="#333" stroke="#333" stroke-width="0.1" text-anchor="end">READ.Normal</text>
<line x1="243.60" y1="224.5" x2="243.60" y2="226.1" stroke="#666" stroke-width="0.45"/>
<text transform="translate(244.90,227.3) rotate(-90)" font-family="'Liberation Sans', sans-serif" font-size="3.75" fill="#333" stroke="#333" stroke-width="0.1" text-anchor="end">SARC.Tumor</text>
<line x1="248.90" y1="224.5" x2="248.90" y2="226.1" stroke="#666" stroke-width="0.45"/>
<text transform="translate(250.20,227.3) rotate(-90)" font-family="'Liberation Sans', sans-serif" font-size="3.75" fill="#333" stroke="#333" stroke-width="0.1" text-anchor="end">SKCM.Tumor</text>
<line x1="254.20" y1="224.5" x2="254.20" y2="226.1" stroke="#666" stroke-width="0.45"/>
<text transform="translate(255.50,227.3) rotate(-90)" font-family="'Liberation Sans', sans-serif" font-size="3.75" fill="#333" stroke="#333" stroke-width="0.1" text-anchor="end">SKCM.Metastasis</text>
<line x1="259.50" y1="224.5" x2="259.50" y2="226.1" stroke="#666" stroke-width="0.45"/>
<text transform="translate(260.80,227.3) rotate(-90)" font-family="'Liberation Sans', sans-serif" font-size="3.75" fill="#333" stroke="#333" stroke-width="0.1" text-anchor="end">STAD.Tumor</text>
<line x1="264.80" y1="224.5" x2="264.80" y2="226.1" stroke="#666" stroke-width="0.45"/>
<text transform="translate(266.10,227.3) rotate(-90)" font-family="'Liberation Sans', sans-serif" font-size="3.75" fill="#333" stroke="#333" stroke-width="0.1" text-anchor="end">STAD.Normal</text>
<line x1="270.10" y1="224.5" x2="270.10" y2="226.1" stroke="#666" stroke-width="0.45"/>
<text transform="translate(271.40,227.3) rotate(-90)" font-family="'Liberation Sans', sans-serif" font-size="3.75" fill="#333" stroke="#333" stroke-width="0.1" text-anchor="end">TGCT.Tumor</text>
<line x1="275.40" y1="224.5" x2="275.40" y2="226.1" stroke="#666" stroke-width="0.45"/>
<text transform="translate(276.70,227.3) rotate(-90)" font-family="'Liberation Sans', sans-serif" font-size="3.75" fill="#333" stroke="#333" stroke-width="0.1" text-anchor="end">THCA.Tumor</text>
<line x1="280.70" y1="224.5" x2="280.70" y2="226.1" stroke="#666" stroke-width="0.45"/>
<text transform="translate(282.00,227.3) rotate(-90)" font-family="'Liberation Sans', sans-serif" font-size="3.75" fill="#333" stroke="#333" stroke-width="0.1" text-anchor="end">THCA.Normal</text>
<line x1="286.00" y1="224.5" x2="286.00" y2="226.1" stroke="#666" stroke-width="0.45"/>
<text transform="translate(287.30,227.3) rotate(-90)" font-family="'Liberation Sans', sans-serif" font-size="3.75" fill="#333" stroke="#333" stroke-width="0.1" text-anchor="end">THYM.Tumor</text>
<line x1="291.30" y1="224.5" x2="291.30" y2="226.1" stroke="#666" stroke-width="0.45"/>
<text transform="translate(292.60,227.3) rotate(-90)" font-family="'Liberation Sans', sans-serif" font-size="3.75" fill="#333" stroke="#333" stroke-width="0.1" text-anchor="end">UCEC.Tumor</text>
<line x1="296.60" y1="224.5" x2="296.60" y2="226.1" stroke="#666" stroke-width="0.45"/>
<text transform="translate(297.90,227.3) rotate(-90)" font-family="'Liberation Sans', sans-serif" font-size="3.75" fill="#333" stroke="#333" stroke-width="0.1" text-anchor="end">UCEC.Normal</text>
<line x1="301.90" y1="224.5" x2="301.90" y2="226.1" stroke="#666" stroke-width="0.45"/>
<text transform="translate(303.20,227.3) rotate(-90)" font-family="'Liberation Sans', sans-serif" font-size="3.75" fill="#333" stroke="#333" stroke-width="0.1" text-anchor="end">UCS.Tumor</text>
<line x1="307.20" y1="224.5" x2="307.20" y2="226.1" stroke="#666" stroke-width="0.45"/>
<text transform="translate(308.50,227.3) rotate(-90)" font-family="'Liberation Sans', sans-serif" font-size="3.75" fill="#333" stroke="#333" stroke-width="0.1" text-anchor="end">UVM.Tumor</text>
<text x="326.0" y="7.3" font-family="'Liberation Sans', sans-serif" font-size="8" font-weight="bold" fill="#111">C</text>
<rect x="341.5" y="1.6" width="56.39999999999998" height="98.0" fill="#fff" stroke="#c4c4c4" stroke-width="0.5"/>
<line x1="339.9" y1="6.00" x2="341.5" y2="6.00" stroke="#999" stroke-width="0.5"/>
<text x="338.9" y="6.80" font-family="'Liberation Sans', sans-serif" font-size="2.3" fill="#888" text-anchor="end">3.5</text>
<line x1="339.9" y1="19.00" x2="341.5" y2="19.00" stroke="#999" stroke-width="0.5"/>
<text x="338.9" y="19.80" font-family="'Liberation Sans', sans-serif" font-size="2.3" fill="#888" text-anchor="end">3.0</text>
<line x1="339.9" y1="31.60" x2="341.5" y2="31.60" stroke="#999" stroke-width="0.5"/>
<text x="338.9" y="32.40" font-family="'Liberation Sans', sans-serif" font-size="2.3" fill="#888" text-anchor="end">2.5</text>
<line x1="339.9" y1="44.40" x2="341.5" y2="44.40" stroke="#999" stroke-width="0.5"/>
<text x="338.9" y="45.20" font-family="'Liberation Sans', sans-serif" font-size="2.3" fill="#888" text-anchor="end">2.0</text>
<line x1="339.9" y1="57.20" x2="341.5" y2="57.20" stroke="#999" stroke-width="0.5"/>
<text x="338.9" y="58.00" font-family="'Liberation Sans', sans-serif" font-size="2.3" fill="#888" text-anchor="end">1.5</text>
<line x1="339.9" y1="70.20" x2="341.5" y2="70.20" stroke="#999" stroke-width="0.5"/>
<text x="338.9" y="71.00" font-family="'Liberation Sans', sans-serif" font-size="2.3" fill="#888" text-anchor="end">1.0</text>
<line x1="339.9" y1="82.80" x2="341.5" y2="82.80" stroke="#999" stroke-width="0.5"/>
<text x="338.9" y="83.60" font-family="'Liberation Sans', sans-serif" font-size="2.3" fill="#888" text-anchor="end">0.5</text>
<line x1="339.9" y1="95.40" x2="341.5" y2="95.40" stroke="#999" stroke-width="0.5"/>
<text x="338.9" y="96.20" font-family="'Liberation Sans', sans-serif" font-size="2.3" fill="#888" text-anchor="end">0.0</text>
<line x1="370.3" y1="99.6" x2="370.3" y2="101.1" stroke="#999" stroke-width="0.5"/>
<text x="370.3" y="106.1" font-family="'Liberation Sans', sans-serif" font-size="3.2" fill="#555" text-anchor="middle">COAD</text>
<text x="370.3" y="110.69999999999999" font-family="'Liberation Sans', sans-serif" font-size="3.2" fill="#555" text-anchor="middle" textLength="39.7" lengthAdjust="spacingAndGlyphs">(num(T)=275; num(N)=349)</text>
<line x1="361.3" y1="5.7" x2="361.3" y2="45" stroke="#b0b0b0" stroke-width="0.5"/>
<line x1="361.3" y1="5.7" x2="380" y2="5.7" stroke="#aaa" stroke-width="0.5"/>
<line x1="378.45" y1="9.5" x2="378.45" y2="22.4" stroke="#aaa" stroke-width="0.5"/>
<line x1="376.45" y1="9.5" x2="381.95" y2="9.5" stroke="#999" stroke-width="0.5"/>
<line x1="378.45" y1="55.6" x2="378.45" y2="94.8" stroke="#e6bcd0" stroke-width="0.5"/>
<line x1="361.35" y1="84.4" x2="361.35" y2="94.8" stroke="#d0d0d0" stroke-width="0.5"/>
<line x1="358.15000000000003" y1="50" x2="364.55" y2="50" stroke="#999" stroke-width="0.5"/>
<rect x="353.9" y="70.8" width="14.900000000000034" height="13.600000000000009" fill="#ec1178"/>
<line x1="353.9" y1="78" x2="368.8" y2="78" stroke="#9a0d55" stroke-width="0.9"/>
<line x1="361.35" y1="70.8" x2="361.35" y2="84.4" stroke="#a00f5c" stroke-width="0.8" opacity="0.85"/>
<rect x="372" y="22.4" width="14.899999999999977" height="33.2" fill="#7a12ee"/>
<rect x="376.95" y="22.4" width="4" height="33.2" fill="#b090e0" opacity="0.25"/>
<line x1="372" y1="30.8" x2="386.9" y2="30.8" stroke="#4c0a9c" stroke-width="0.8"/>
<line x1="353.9" y1="94.8" x2="368.8" y2="94.8" stroke="#4a4a4a" stroke-width="0.8"/>
<line x1="372" y1="94.8" x2="386.9" y2="94.8" stroke="#4a4a4a" stroke-width="0.8"/>
<g fill="none" stroke="#8a8f8a" stroke-width="0.3"><circle cx="363.3" cy="5.7" r="0.6"/><circle cx="365.4" cy="5.7" r="0.6"/><circle cx="367.5" cy="5.7" r="0.6"/><circle cx="369.6" cy="5.7" r="0.6"/><circle cx="371.7" cy="5.7" r="0.6"/><circle cx="373.8" cy="5.7" r="0.6"/><circle cx="375.9" cy="5.7" r="0.6"/><circle cx="378.0" cy="5.7" r="0.6"/><circle cx="380.1" cy="5.7" r="0.6"/><circle cx="361.8" cy="66.3" r="0.6"/><circle cx="359.5" cy="63.0" r="0.6"/><circle cx="359.9" cy="51.0" r="0.6"/><circle cx="360.1" cy="64.7" r="0.6"/><circle cx="359.7" cy="66.7" r="0.6"/><circle cx="361.0" cy="70.4" r="0.6"/><circle cx="361.1" cy="66.1" r="0.6"/><circle cx="362.5" cy="46.1" r="0.6"/><circle cx="358.9" cy="65.8" r="0.6"/><circle cx="361.4" cy="47.2" r="0.6"/><circle cx="362.4" cy="67.4" r="0.6"/><circle cx="359.6" cy="61.2" r="0.6"/><circle cx="362.9" cy="55.2" r="0.6"/><circle cx="360.3" cy="69.5" r="0.6"/><circle cx="359.5" cy="55.7" r="0.6"/><circle cx="360.0" cy="59.8" r="0.6"/><circle cx="360.0" cy="49.3" r="0.6"/><circle cx="359.1" cy="62.9" r="0.6"/><circle cx="359.2" cy="63.4" r="0.6"/><circle cx="361.0" cy="51.2" r="0.6"/><circle cx="360.9" cy="69.9" r="0.6"/><circle cx="360.2" cy="66.3" r="0.6"/><circle cx="359.2" cy="69.5" r="0.6"/><circle cx="360.9" cy="64.3" r="0.6"/><circle cx="362.1" cy="45.9" r="0.6"/><circle cx="359.1" cy="66.7" r="0.6"/><circle cx="361.8" cy="69.1" r="0.6"/><circle cx="360.1" cy="65.2" r="0.6"/><circle cx="361.5" cy="55.8" r="0.6"/><circle cx="359.8" cy="57.1" r="0.6"/><circle cx="361.8" cy="63.9" r="0.6"/><circle cx="360.9" cy="61.6" r="0.6"/><circle cx="362.4" cy="65.6" r="0.6"/><circle cx="362.3" cy="68.2" r="0.6"/><circle cx="360.5" cy="87.3" r="0.6"/><circle cx="361.4" cy="86.8" r="0.6"/><circle cx="360.8" cy="85.2" r="0.6"/><circle cx="360.3" cy="87.6" r="0.6"/><circle cx="359.3" cy="84.8" r="0.6"/><circle cx="361.5" cy="85.3" r="0.6"/><circle cx="362.2" cy="86.3" r="0.6"/><circle cx="360.2" cy="87.9" r="0.6"/><circle cx="360.8" cy="87.3" r="0.6"/><circle cx="362.1" cy="85.3" r="0.6"/><circle cx="361.6" cy="85.7" r="0.6"/><circle cx="359.8" cy="89.4" r="0.6"/><circle cx="362.4" cy="88.9" r="0.6"/><circle cx="359.7" cy="84.8" r="0.6"/><circle cx="379.6" cy="20.9" r="0.6"/><circle cx="377.5" cy="22.1" r="0.6"/><circle cx="377.7" cy="15.8" r="0.6"/><circle cx="379.7" cy="17.9" r="0.6"/><circle cx="378.9" cy="13.1" r="0.6"/><circle cx="377.7" cy="19.1" r="0.6"/><circle cx="379.7" cy="19.6" r="0.6"/><circle cx="377.5" cy="15.3" r="0.6"/><circle cx="377.9" cy="20.8" r="0.6"/><circle cx="377.5" cy="18.0" r="0.6"/><circle cx="379.0" cy="10.8" r="0.6"/><circle cx="379.0" cy="22.3" r="0.6"/><circle cx="377.7" cy="22.4" r="0.6"/><circle cx="377.9" cy="19.7" r="0.6"/><circle cx="378.3" cy="11.4" r="0.6"/><circle cx="379.5" cy="18.0" r="0.6"/><circle cx="377.8" cy="13.0" r="0.6"/><circle cx="378.2" cy="12.2" r="0.6"/><circle cx="377.9" cy="21.0" r="0.6"/><circle cx="377.8" cy="15.7" r="0.6"/><circle cx="379.1" cy="20.9" r="0.6"/><circle cx="379.5" cy="12.5" r="0.6"/><circle cx="378.6" cy="20.1" r="0.6"/><circle cx="379.3" cy="20.8" r="0.6"/><circle cx="378.2" cy="16.7" r="0.6"/><circle cx="377.8" cy="19.9" r="0.6"/><circle cx="377.6" cy="14.6" r="0.6"/><circle cx="378.7" cy="18.1" r="0.6"/><circle cx="378.7" cy="21.7" r="0.6"/><circle cx="379.5" cy="21.8" r="0.6"/><circle cx="378.0" cy="13.2" r="0.6"/><circle cx="377.6" cy="21.7" r="0.6"/><circle cx="379.3" cy="16.3" r="0.6"/><circle cx="378.5" cy="19.2" r="0.6"/><circle cx="379.5" cy="70.4" r="0.6"/><circle cx="378.8" cy="58.3" r="0.6"/><circle cx="377.8" cy="62.9" r="0.6"/><circle cx="377.4" cy="59.7" r="0.6"/><circle cx="377.3" cy="56.2" r="0.6"/><circle cx="378.5" cy="58.9" r="0.6"/><circle cx="379.6" cy="55.8" r="0.6"/><circle cx="379.4" cy="62.0" r="0.6"/><circle cx="377.2" cy="63.7" r="0.6"/><circle cx="378.2" cy="60.4" r="0.6"/><circle cx="377.2" cy="59.0" r="0.6"/><circle cx="379.0" cy="62.0" r="0.6"/><circle cx="377.6" cy="61.5" r="0.6"/><circle cx="378.4" cy="59.0" r="0.6"/><circle cx="379.5" cy="63.6" r="0.6"/><circle cx="378.1" cy="58.6" r="0.6"/><circle cx="378.4" cy="62.4" r="0.6"/><circle cx="379.5" cy="63.5" r="0.6"/></g>
<circle cx="370.5" cy="5.7" r="0.95" fill="#c23a4a"/>
<text x="326.9" y="124.8" font-family="'Liberation Sans', sans-serif" font-size="8" font-weight="bold" fill="#111">D</text>
<rect x="340.8" y="128" width="57.19999999999999" height="97.4" fill="#fff" stroke="#c4c4c4" stroke-width="0.5"/>
<line x1="339.2" y1="132.60" x2="340.8" y2="132.60" stroke="#999" stroke-width="0.5"/>
<text x="338.2" y="133.40" font-family="'Liberation Sans', sans-serif" font-size="2.3" fill="#888" text-anchor="end">3.5</text>
<line x1="339.2" y1="145.40" x2="340.8" y2="145.40" stroke="#999" stroke-width="0.5"/>
<text x="338.2" y="146.20" font-family="'Liberation Sans', sans-serif" font-size="2.3" fill="#888" text-anchor="end">3.0</text>
<line x1="339.2" y1="157.60" x2="340.8" y2="157.60" stroke="#999" stroke-width="0.5"/>
<text x="338.2" y="158.40" font-family="'Liberation Sans', sans-serif" font-size="2.3" fill="#888" text-anchor="end">2.5</text>
<line x1="339.2" y1="170.40" x2="340.8" y2="170.40" stroke="#999" stroke-width="0.5"/>
<text x="338.2" y="171.20" font-family="'Liberation Sans', sans-serif" font-size="2.3" fill="#888" text-anchor="end">2.0</text>
<line x1="339.2" y1="183.40" x2="340.8" y2="183.40" stroke="#999" stroke-width="0.5"/>
<text x="338.2" y="184.20" font-family="'Liberation Sans', sans-serif" font-size="2.3" fill="#888" text-anchor="end">1.5</text>
<line x1="339.2" y1="196.00" x2="340.8" y2="196.00" stroke="#999" stroke-width="0.5"/>
<text x="338.2" y="196.80" font-family="'Liberation Sans', sans-serif" font-size="2.3" fill="#888" text-anchor="end">1.0</text>
<line x1="339.2" y1="208.60" x2="340.8" y2="208.60" stroke="#999" stroke-width="0.5"/>
<text x="338.2" y="209.40" font-family="'Liberation Sans', sans-serif" font-size="2.3" fill="#888" text-anchor="end">0.5</text>
<line x1="339.2" y1="221.40" x2="340.8" y2="221.40" stroke="#999" stroke-width="0.5"/>
<text x="338.2" y="222.20" font-family="'Liberation Sans', sans-serif" font-size="2.3" fill="#888" text-anchor="end">0.0</text>
<line x1="370.3" y1="225.4" x2="370.3" y2="226.9" stroke="#999" stroke-width="0.5"/>
<text x="370.3" y="232" font-family="'Liberation Sans', sans-serif" font-size="3.2" fill="#555" text-anchor="middle">READ</text>
<text x="370.3" y="236.6" font-family="'Liberation Sans', sans-serif" font-size="3.2" fill="#555" text-anchor="middle" textLength="39.7" lengthAdjust="spacingAndGlyphs">(num(T)=92; num(N)=318)</text>
<line x1="360.5" y1="131.5" x2="360.5" y2="190" stroke="#b0b0b0" stroke-width="0.5"/>
<line x1="360.5" y1="131.5" x2="379.4" y2="131.5" stroke="#aaa" stroke-width="0.5"/>
<line x1="377.45000000000005" y1="135.5" x2="377.45000000000005" y2="148.1" stroke="#aaa" stroke-width="0.5"/>
<line x1="375.45000000000005" y1="135.5" x2="380.95000000000005" y2="135.5" stroke="#999" stroke-width="0.5"/>
<line x1="377.45000000000005" y1="176.5" x2="377.45000000000005" y2="221.3" stroke="#e6bcd0" stroke-width="0.5"/>
<line x1="360.425" y1="207.75" x2="360.425" y2="221.3" stroke="#d0d0d0" stroke-width="0.5"/>
<line x1="357.225" y1="172.4" x2="363.625" y2="172.4" stroke="#999" stroke-width="0.5"/>
<rect x="353.1" y="192.6" width="14.649999999999977" height="15.150000000000006" fill="#ec1178"/>
<line x1="353.1" y1="200" x2="367.75" y2="200" stroke="#9a0d55" stroke-width="0.9"/>
<line x1="360.425" y1="192.6" x2="360.425" y2="207.75" stroke="#a00f5c" stroke-width="0.8" opacity="0.85"/>
<rect x="371.3" y="148.1" width="14.300000000000011" height="28.400000000000006" fill="#7a12ee"/>
<rect x="375.95000000000005" y="148.1" width="4" height="28.400000000000006" fill="#b090e0" opacity="0.25"/>
<line x1="371.3" y1="155" x2="385.6" y2="155" stroke="#4c0a9c" stroke-width="0.8"/>
<line x1="353.1" y1="221.3" x2="367.75" y2="221.3" stroke="#4a4a4a" stroke-width="0.8"/>
<line x1="371.3" y1="221.3" x2="385.6" y2="221.3" stroke="#4a4a4a" stroke-width="0.8"/>
<g fill="none" stroke="#8a8f8a" stroke-width="0.3"><circle cx="362.5" cy="131.5" r="0.6"/><circle cx="364.6" cy="131.5" r="0.6"/><circle cx="366.7" cy="131.5" r="0.6"/><circle cx="368.8" cy="131.5" r="0.6"/><circle cx="370.9" cy="131.5" r="0.6"/><circle cx="373.0" cy="131.5" r="0.6"/><circle cx="375.1" cy="131.5" r="0.6"/><circle cx="377.2" cy="131.5" r="0.6"/><circle cx="379.3" cy="131.5" r="0.6"/><circle cx="359.1" cy="188.4" r="0.6"/><circle cx="359.6" cy="184.8" r="0.6"/><circle cx="359.2" cy="192.4" r="0.6"/><circle cx="360.7" cy="185.6" r="0.6"/><circle cx="358.6" cy="186.9" r="0.6"/><circle cx="359.0" cy="185.7" r="0.6"/><circle cx="359.4" cy="186.1" r="0.6"/><circle cx="359.1" cy="190.6" r="0.6"/><circle cx="358.2" cy="190.6" r="0.6"/><circle cx="359.7" cy="184.0" r="0.6"/><circle cx="358.6" cy="190.7" r="0.6"/><circle cx="358.9" cy="192.6" r="0.6"/><circle cx="360.5" cy="186.5" r="0.6"/><circle cx="358.8" cy="184.9" r="0.6"/><circle cx="360.7" cy="190.6" r="0.6"/><circle cx="360.0" cy="183.5" r="0.6"/><circle cx="360.9" cy="180.8" r="0.6"/><circle cx="362.1" cy="190.6" r="0.6"/><circle cx="358.4" cy="192.3" r="0.6"/><circle cx="359.1" cy="189.3" r="0.6"/><circle cx="361.0" cy="192.4" r="0.6"/><circle cx="359.1" cy="185.5" r="0.6"/><circle cx="361.5" cy="191.4" r="0.6"/><circle cx="357.8" cy="188.0" r="0.6"/><circle cx="360.8" cy="190.6" r="0.6"/><circle cx="358.6" cy="190.9" r="0.6"/><circle cx="360.1" cy="184.3" r="0.6"/><circle cx="358.8" cy="186.2" r="0.6"/><circle cx="360.1" cy="191.3" r="0.6"/><circle cx="358.6" cy="182.7" r="0.6"/><circle cx="358.3" cy="192.6" r="0.6"/><circle cx="358.6" cy="187.5" r="0.6"/><circle cx="360.4" cy="185.1" r="0.6"/><circle cx="361.2" cy="181.6" r="0.6"/><circle cx="359.3" cy="208.5" r="0.6"/><circle cx="359.3" cy="214.0" r="0.6"/><circle cx="359.6" cy="208.2" r="0.6"/><circle cx="360.2" cy="207.9" r="0.6"/><circle cx="360.8" cy="211.0" r="0.6"/><circle cx="358.9" cy="214.1" r="0.6"/><circle cx="359.5" cy="212.4" r="0.6"/><circle cx="358.7" cy="210.4" r="0.6"/><circle cx="361.1" cy="214.1" r="0.6"/><circle cx="359.4" cy="209.8" r="0.6"/><circle cx="358.4" cy="210.2" r="0.6"/><circle cx="361.0" cy="208.3" r="0.6"/><circle cx="360.5" cy="211.3" r="0.6"/><circle cx="360.4" cy="209.0" r="0.6"/><circle cx="377.4" cy="144.3" r="0.6"/><circle cx="377.0" cy="146.3" r="0.6"/><circle cx="378.3" cy="144.4" r="0.6"/><circle cx="379.0" cy="145.4" r="0.6"/><circle cx="377.6" cy="147.4" r="0.6"/><circle cx="376.9" cy="142.5" r="0.6"/><circle cx="377.5" cy="141.4" r="0.6"/><circle cx="377.5" cy="147.7" r="0.6"/><circle cx="377.3" cy="146.8" r="0.6"/><circle cx="376.5" cy="146.9" r="0.6"/><circle cx="377.5" cy="144.8" r="0.6"/><circle cx="377.5" cy="141.8" r="0.6"/><circle cx="376.8" cy="141.2" r="0.6"/><circle cx="377.3" cy="143.5" r="0.6"/><circle cx="376.5" cy="139.6" r="0.6"/><circle cx="376.9" cy="145.4" r="0.6"/><circle cx="378.5" cy="141.2" r="0.6"/><circle cx="376.8" cy="144.1" r="0.6"/><circle cx="378.7" cy="146.1" r="0.6"/><circle cx="376.6" cy="139.9" r="0.6"/><circle cx="377.9" cy="147.3" r="0.6"/><circle cx="378.5" cy="141.0" r="0.6"/><circle cx="377.8" cy="146.8" r="0.6"/><circle cx="378.1" cy="138.8" r="0.6"/><circle cx="377.1" cy="141.9" r="0.6"/><circle cx="377.1" cy="147.8" r="0.6"/><circle cx="377.1" cy="145.7" r="0.6"/><circle cx="378.5" cy="146.7" r="0.6"/><circle cx="378.8" cy="144.0" r="0.6"/><circle cx="375.9" cy="144.8" r="0.6"/><circle cx="377.0" cy="143.6" r="0.6"/><circle cx="376.6" cy="143.0" r="0.6"/><circle cx="377.3" cy="145.9" r="0.6"/><circle cx="376.1" cy="148.1" r="0.6"/><circle cx="376.8" cy="191.1" r="0.6"/><circle cx="376.2" cy="178.3" r="0.6"/><circle cx="376.9" cy="179.9" r="0.6"/><circle cx="377.1" cy="179.2" r="0.6"/><circle cx="377.5" cy="179.0" r="0.6"/><circle cx="376.6" cy="184.0" r="0.6"/><circle cx="377.2" cy="183.1" r="0.6"/><circle cx="377.9" cy="176.6" r="0.6"/><circle cx="376.8" cy="180.7" r="0.6"/><circle cx="376.3" cy="181.2" r="0.6"/><circle cx="378.2" cy="197.9" r="0.6"/><circle cx="376.3" cy="181.7" r="0.6"/><circle cx="376.2" cy="192.9" r="0.6"/><circle cx="378.3" cy="184.0" r="0.6"/><circle cx="378.2" cy="180.9" r="0.6"/><circle cx="378.1" cy="194.7" r="0.6"/><circle cx="378.4" cy="196.1" r="0.6"/><circle cx="378.3" cy="179.1" r="0.6"/></g>
<circle cx="369.8" cy="131.5" r="0.95" fill="#c23a4a"/></svg>
</body></html>
